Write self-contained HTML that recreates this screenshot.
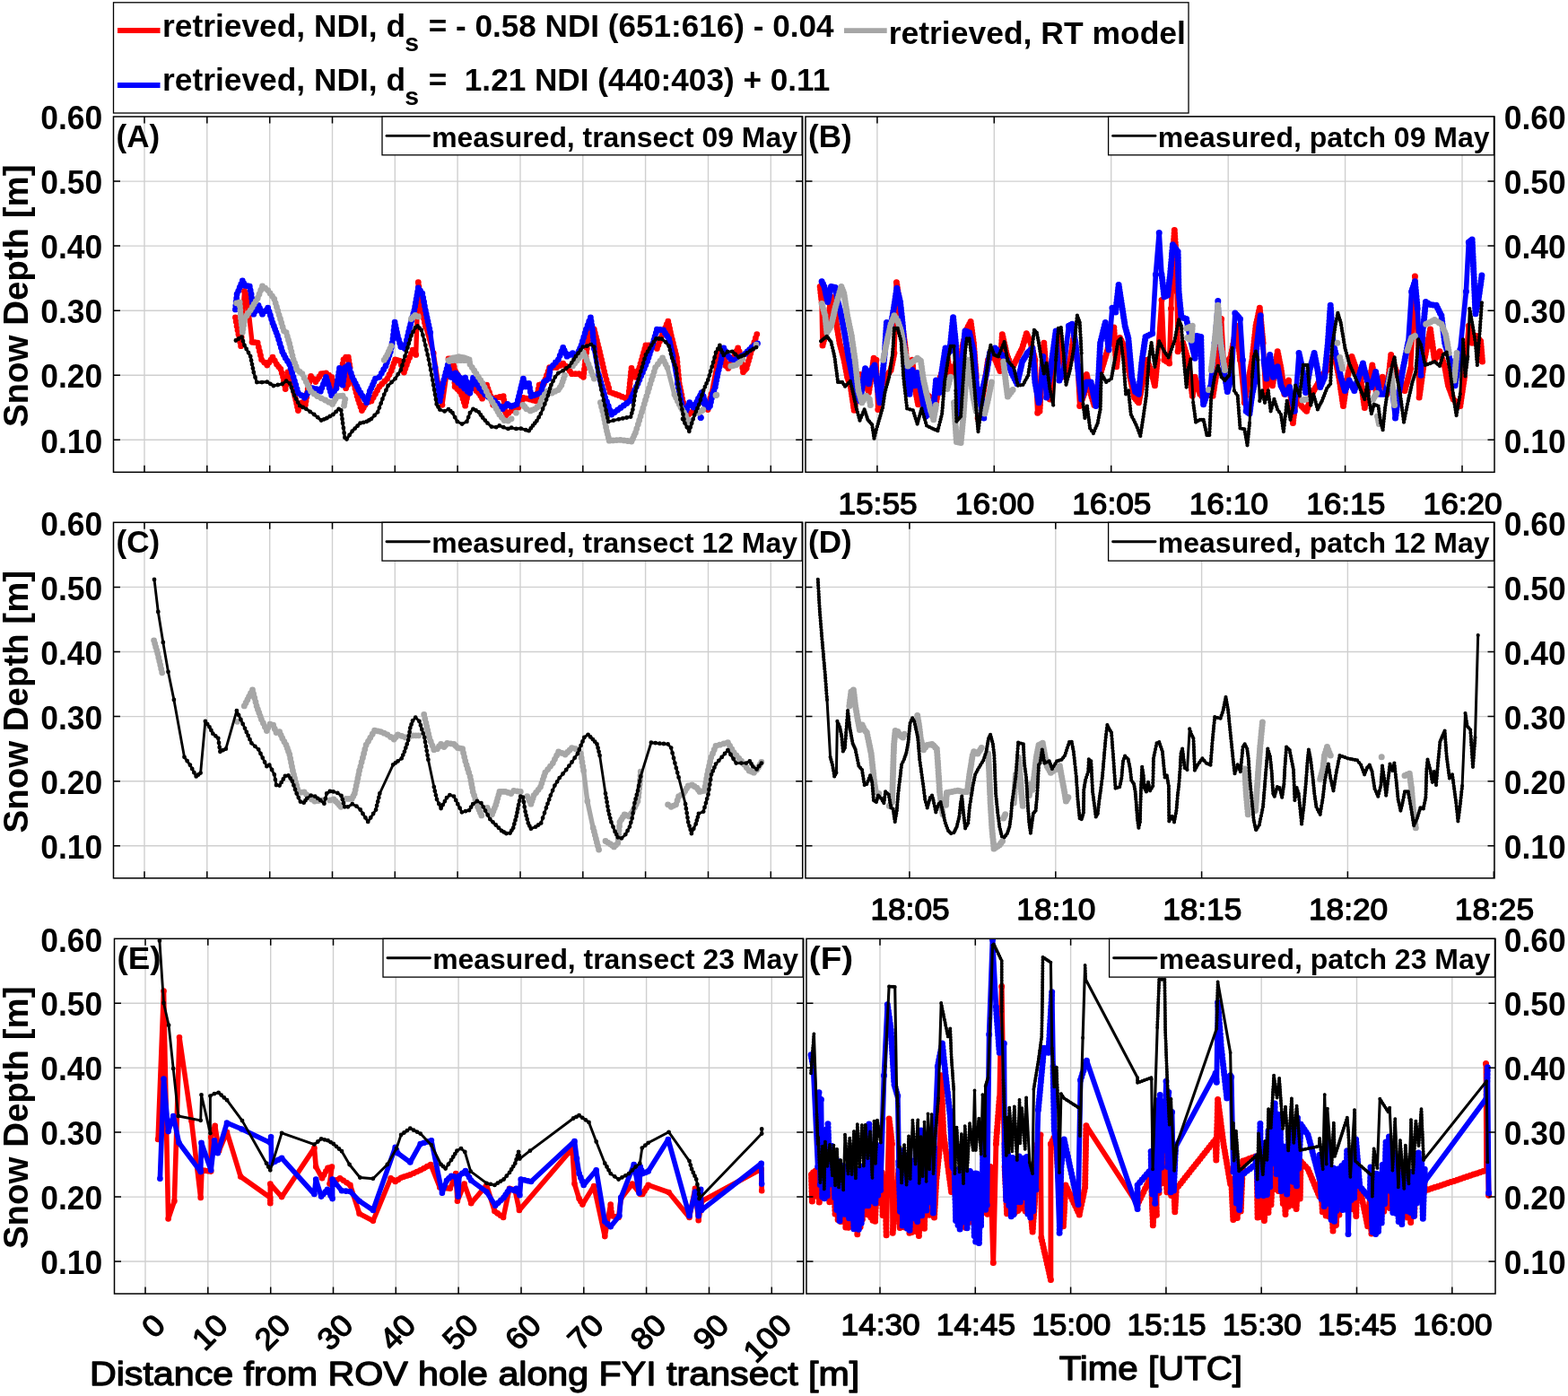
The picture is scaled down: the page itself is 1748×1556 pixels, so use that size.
<!DOCTYPE html><html><head><meta charset="utf-8"><title>Snow depth figure</title>
<style>html,body{margin:0;padding:0;background:#fff}svg{display:block}text{font-family:"Liberation Sans",Arial,Helvetica,sans-serif;fill:#000}.b{font-weight:bold}.tk{font-size:32.5px;font-weight:bold}.tx{font-size:32.5px;font-weight:bold}.lb{font-size:35.5px;font-weight:bold}.lg{font-size:32.5px;font-weight:bold}.g{stroke:#000;stroke-opacity:0.19;stroke-width:1.4;fill:none}.ax{stroke:#000;stroke-width:1.5;fill:none}.r{stroke:#ff0000;fill:none;stroke-width:5.3;stroke-linejoin:round;stroke-linecap:round}.bl{stroke:#0000ff;fill:none;stroke-width:5.3;stroke-linejoin:round;stroke-linecap:round}.gy{stroke:#a6a6a6;fill:none;stroke-width:5.3;stroke-linejoin:round;stroke-linecap:round}.k{stroke:#000;fill:none;stroke-width:2.9;stroke-linejoin:round;stroke-linecap:round}</style></head><body>
<svg width="1748" height="1556" viewBox="0 0 1748 1556">
<rect x="0" y="0" width="1748" height="1556" fill="#fff"/>
<g>
<rect x="126.5" y="130.0" width="768.2" height="396.29999999999995" fill="#fff"/>
<path class="g" d="M161.0 130.0V526.3M230.8 130.0V526.3M300.7 130.0V526.3M370.5 130.0V526.3M440.3 130.0V526.3M510.1 130.0V526.3M580.0 130.0V526.3M649.8 130.0V526.3M719.6 130.0V526.3M789.5 130.0V526.3M859.3 130.0V526.3M126.5 490.3H894.7M126.5 418.2H894.7M126.5 346.2H894.7M126.5 274.1H894.7M126.5 202.1H894.7"/>
<clipPath id="c00"><rect x="126.5" y="130.0" width="768.2" height="396.29999999999995"/></clipPath>
<g clip-path="url(#c00)"><polyline class="r" style="stroke-width:5.3" points="262.4,353.8 264.1,363.5 268.6,385.7 270.3,356.4 272.5,324.5 274.8,329.8 277.4,349.3 281.0,381.3 287.2,382.1 291.6,400.8 297.8,407.0 304.0,398.1 308.5,406.1 312.9,411.4 315.6,420.3 318.2,433.6 320.9,415.0 323.6,420.3 328.0,438.0 332.4,457.5 336.9,448.7 340.4,451.3 344.0,429.2 346.6,419.4 351.9,425.6 358.1,416.7 363.5,415.8 369.7,420.3 373.2,432.7 378.5,424.7 383.0,400.8 385.6,398.1 388.3,398.1 390.1,409.6 385.6,432.7 392.7,420.3 398.1,441.6 403.4,457.5 408.7,448.7 414.0,446.9 422.9,430.9 431.8,422.1 436.2,413.2 440.6,400.8 445.9,402.5 450.4,415.0 454.8,402.5 460.1,390.1 463.7,395.4 466.3,314.7 469.0,338.7 474.3,363.5 483.2,393.7 488.5,427.4 493.0,451.3 497.4,420.3 501.8,399.9 505.4,406.1 508.0,430.9 513.4,436.2 518.7,452.2 522.2,436.2 500.0,399.9 502.7,402.5 506.2,408.8 507.1,430.9 512.4,436.2 517.7,441.6 518.6,452.2 523.1,429.2 528.4,432.7 533.7,438.0 537.6,444.2 542.6,429.2 547.0,441.6 549.7,451.3 553.2,443.3 561.2,441.6 563.9,462.9 570.1,457.5 578.0,454.0 583.4,443.3 590.5,445.1 597.6,446.9 601.1,429.2 606.4,427.4 612.6,409.6 620.6,409.6 627.7,405.2 633.0,410.5 637.5,416.7 645.4,416.7 650.4,420.3 652.5,402.5 656.1,374.2 658.8,363.5 662.3,367.1 668.5,391.9 674.7,418.5 680.0,437.1 689.8,440.7 700.4,445.1 702.2,427.4 704.0,410.5 708.4,420.3 712.9,409.6 719.9,384.8 726.2,384.8 732.4,388.4 738.6,372.4 744.8,358.2 748.3,374.2 754.5,399.0 757.2,427.4 761.6,448.7 765.2,463.7 771.4,459.3 776.7,450.4 783.8,445.1 789.1,456.6 784.2,445.2 788.6,456.1 793.0,439.4 798.8,408.9 801.7,393.0 806.8,390.1 808.9,407.5 811.8,410.4 816.2,401.7 822.7,387.9 825.6,395.9 828.5,414.7 832.2,410.4 838.0,390.1 843.8,372.6"/><path d="M262.4 353.8h0M263.2 358.6h0M264.1 363.5h0M265.0 368.0h0M265.9 372.4h0M266.8 376.8h0M267.7 381.3h0M268.6 385.7h0M268.9 380.8h0M269.2 375.9h0M269.5 371.1h0M269.8 366.2h0M270.0 361.3h0M270.3 356.4h0M272.5 324.5h0M273.6 327.2h0M274.8 329.8h0M275.4 334.7h0M276.1 339.6h0M276.8 344.5h0M277.4 349.3h0M281.0 381.3h0M284.1 381.7h0M287.2 382.1h0M288.3 386.8h0M289.4 391.5h0M290.5 396.1h0M291.6 400.8h0M294.7 403.9h0M297.8 407.0h0M299.9 404.0h0M302.0 401.1h0M304.0 398.1h0M306.3 402.1h0M308.5 406.1h0M310.7 408.8h0M312.9 411.4h0M314.2 415.8h0M315.6 420.3h0M316.5 424.7h0M317.3 429.2h0M318.2 433.6h0M318.9 428.9h0M319.6 424.3h0M320.2 419.6h0M320.9 415.0h0M322.2 417.6h0M323.6 420.3h0M324.7 424.7h0M325.8 429.2h0M326.9 433.6h0M328.0 438.0h0M328.9 441.9h0M329.8 445.8h0M330.7 449.7h0M331.5 453.6h0M332.4 457.5h0M334.6 453.1h0M336.9 448.7h0M340.4 451.3h0M341.1 446.9h0M341.8 442.5h0M342.5 438.0h0M343.2 433.6h0M344.0 429.2h0M344.8 425.9h0M345.7 422.6h0M346.6 419.4h0M349.3 422.5h0M351.9 425.6h0M354.0 422.6h0M356.1 419.7h0M358.1 416.7h0M360.8 416.3h0M363.5 415.8h0M366.6 418.1h0M369.7 420.3h0M370.9 424.4h0M372.0 428.6h0M373.2 432.7h0M375.9 428.7h0M378.5 424.7h0M379.4 419.9h0M380.3 415.1h0M381.2 410.3h0M382.1 405.6h0M383.0 400.8h0M385.6 398.1h0M388.3 398.1h0M388.9 402.0h0M389.5 405.8h0M390.1 409.6h0M389.2 414.3h0M388.3 418.9h0M387.4 423.5h0M386.5 428.1h0M385.6 432.7h0M388.0 428.6h0M390.4 424.4h0M392.7 420.3h0M393.8 424.5h0M394.9 428.8h0M395.9 433.1h0M397.0 437.3h0M398.1 441.6h0M399.4 445.6h0M400.7 449.6h0M402.0 453.5h0M403.4 457.5h0M405.2 454.6h0M406.9 451.6h0M408.7 448.7h0M411.4 447.8h0M414.0 446.9h0M416.2 442.9h0M418.5 438.9h0M420.7 434.9h0M422.9 430.9h0M425.8 428.0h0M428.8 425.0h0M431.8 422.1h0M434.0 417.6h0M436.2 413.2h0M437.7 409.0h0M439.1 404.9h0M440.6 400.8h0M443.3 401.7h0M445.9 402.5h0M447.4 406.7h0M448.9 410.8h0M450.4 415.0h0M451.9 410.8h0M453.3 406.7h0M454.8 402.5h0M456.6 398.4h0M458.4 394.3h0M460.1 390.1h0M461.9 392.8h0M463.7 395.4h0M466.3 314.7h0M466.9 319.5h0M467.4 324.3h0M467.9 329.1h0M468.5 333.9h0M469.0 338.7h0M469.9 342.8h0M470.8 347.0h0M471.7 351.1h0M472.6 355.2h0M473.4 359.4h0M474.3 363.5h0M483.2 393.7h0M488.5 427.4h0M489.4 432.2h0M490.3 437.0h0M491.2 441.7h0M492.1 446.5h0M493.0 451.3h0M497.4 420.3h0M498.3 416.2h0M499.2 412.1h0M500.0 408.0h0M500.9 404.0h0M501.8 399.9h0M503.6 403.0h0M505.4 406.1h0M505.9 411.1h0M506.4 416.0h0M507.0 421.0h0M507.5 426.0h0M508.0 430.9h0M510.7 433.6h0M513.4 436.2h0M514.7 440.2h0M516.0 444.2h0M517.3 448.2h0M518.7 452.2h0M519.6 448.2h0M520.4 444.2h0M521.3 440.2h0M522.2 436.2h0M500.0 399.9h0M502.7 402.5h0M504.4 405.6h0M506.2 408.8h0M506.4 413.2h0M506.6 417.6h0M506.7 422.1h0M506.9 426.5h0M507.1 430.9h0M509.8 433.6h0M512.4 436.2h0M515.1 438.9h0M517.7 441.6h0M518.0 445.1h0M518.3 448.7h0M518.6 452.2h0M519.5 447.6h0M520.4 443.0h0M521.3 438.4h0M522.2 433.8h0M523.1 429.2h0M525.7 430.9h0M528.4 432.7h0M531.0 435.4h0M533.7 438.0h0M535.7 441.1h0M537.6 444.2h0M538.8 440.5h0M540.1 436.7h0M541.3 432.9h0M542.6 429.2h0M544.0 433.3h0M545.5 437.4h0M547.0 441.6h0M547.9 444.8h0M548.8 448.1h0M549.7 451.3h0M551.4 447.3h0M553.2 443.3h0M557.2 442.5h0M561.2 441.6h0M561.7 445.8h0M562.3 450.1h0M562.8 454.3h0M563.3 458.6h0M563.9 462.9h0M567.0 460.2h0M570.1 457.5h0M574.1 455.8h0M578.0 454.0h0M579.8 450.4h0M581.6 446.9h0M583.4 443.3h0M586.9 444.2h0M590.5 445.1h0M594.0 446.0h0M597.6 446.9h0M598.4 442.5h0M599.3 438.0h0M600.2 433.6h0M601.1 429.2h0M603.8 428.3h0M606.4 427.4h0M608.0 422.9h0M609.5 418.5h0M611.1 414.1h0M612.6 409.6h0M616.6 409.6h0M620.6 409.6h0M624.2 407.4h0M627.7 405.2h0M630.4 407.9h0M633.0 410.5h0M635.3 413.6h0M637.5 416.7h0M641.5 416.7h0M645.4 416.7h0M647.9 418.5h0M650.4 420.3h0M650.9 415.8h0M651.5 411.4h0M652.0 407.0h0M652.5 402.5h0M653.1 397.8h0M653.7 393.1h0M654.3 388.4h0M654.9 383.6h0M655.5 378.9h0M656.1 374.2h0M657.0 370.6h0M657.9 367.1h0M658.8 363.5h0M660.5 365.3h0M662.3 367.1h0M663.3 371.2h0M664.4 375.3h0M665.4 379.5h0M666.4 383.6h0M667.5 387.8h0M668.5 391.9h0M669.5 396.3h0M670.6 400.8h0M671.6 405.2h0M672.6 409.6h0M673.7 414.1h0M674.7 418.5h0M676.0 423.2h0M677.4 427.8h0M678.7 432.5h0M680.0 437.1h0M683.3 438.3h0M686.5 439.5h0M689.8 440.7h0M693.3 442.2h0M696.9 443.6h0M700.4 445.1h0M700.9 440.7h0M701.3 436.2h0M701.8 431.8h0M702.2 427.4h0M702.7 423.2h0M703.1 419.0h0M703.5 414.7h0M704.0 410.5h0M705.5 413.8h0M706.9 417.0h0M708.4 420.3h0M709.9 416.7h0M711.4 413.2h0M712.9 409.6h0M714.0 405.5h0M715.2 401.4h0M716.4 397.2h0M717.6 393.1h0M718.8 388.9h0M719.9 384.8h0M723.1 384.8h0M726.2 384.8h0M729.3 386.6h0M732.4 388.4h0M733.9 384.4h0M735.5 380.4h0M737.0 376.4h0M738.6 372.4h0M740.1 368.8h0M741.7 365.3h0M743.2 361.7h0M744.8 358.2h0M745.7 362.2h0M746.6 366.2h0M747.4 370.2h0M748.3 374.2h0M749.4 378.3h0M750.4 382.4h0M751.4 386.6h0M752.5 390.7h0M753.5 394.9h0M754.5 399.0h0M755.0 403.7h0M755.4 408.5h0M755.9 413.2h0M756.3 417.9h0M756.8 422.6h0M757.2 427.4h0M758.1 431.6h0M759.0 435.9h0M759.9 440.1h0M760.7 444.4h0M761.6 448.7h0M762.5 452.4h0M763.4 456.2h0M764.3 460.0h0M765.2 463.7h0M768.3 461.5h0M771.4 459.3h0M773.2 456.3h0M774.9 453.4h0M776.7 450.4h0M780.3 447.8h0M783.8 445.1h0M785.6 449.0h0M787.4 452.8h0M789.1 456.6h0M787.5 452.8h0M785.9 449.0h0M784.2 445.2h0M785.7 448.9h0M787.1 452.5h0M788.6 456.1h0M789.7 452.0h0M790.8 447.8h0M791.9 443.6h0M793.0 439.4h0M798.8 408.9h0M799.5 404.9h0M800.2 400.9h0M800.9 397.0h0M801.7 393.0h0M804.2 391.5h0M806.8 390.1h0M807.3 394.4h0M807.8 398.8h0M808.4 403.1h0M808.9 407.5h0M811.8 410.4h0M814.0 406.0h0M816.2 401.7h0M817.8 398.2h0M819.5 394.8h0M821.1 391.3h0M822.7 387.9h0M824.2 391.9h0M825.6 395.9h0M826.4 400.6h0M827.1 405.3h0M827.8 410.0h0M828.5 414.7h0M830.4 412.6h0M832.2 410.4h0M833.3 406.3h0M834.5 402.3h0M835.7 398.2h0M836.8 394.1h0M838.0 390.1h0M839.4 385.7h0M840.9 381.3h0M842.3 377.0h0M843.8 372.6h0" stroke="#ff0000" stroke-width="6.8" stroke-linecap="round" fill="none"/><polyline class="bl" style="stroke-width:5.3" points="262.4,344.9 264.1,328.0 270.3,313.0 273.0,318.3 278.3,319.2 280.1,328.0 282.8,350.2 288.1,340.5 292.5,350.2 298.7,343.1 304.0,360.0 309.4,374.2 314.7,391.9 318.2,399.0 322.7,406.1 327.1,420.3 332.4,438.0 339.5,443.3 343.1,438.0 348.4,432.7 352.8,433.6 357.3,436.2 363.5,420.3 369.7,440.7 375.0,432.7 378.5,410.5 382.1,429.2 384.8,409.6 388.3,407.0 392.7,420.3 399.8,434.5 408.7,448.7 412.2,436.2 418.5,422.1 422.9,420.3 430.0,407.9 435.3,391.9 438.0,377.7 440.1,359.1 443.3,374.2 446.8,386.6 451.3,388.4 456.6,365.3 461.9,345.8 466.3,321.0 470.8,327.2 474.3,345.8 479.7,370.6 485.0,409.6 490.3,446.9 493.8,427.4 499.2,407.0 502.7,420.3 508.0,415.8 515.1,423.8 518.7,421.2 521.3,436.2 500.0,416.7 507.1,416.7 513.3,422.9 518.6,421.2 523.9,438.0 527.5,421.2 534.6,432.7 540.8,439.8 551.4,446.9 560.3,455.8 565.6,450.4 570.1,453.1 576.3,450.4 580.7,432.7 583.4,422.1 586.0,430.9 589.6,427.4 592.2,441.6 597.6,439.8 602.9,438.0 606.4,425.6 611.7,422.1 613.5,410.5 622.4,400.8 627.7,387.5 632.1,397.2 638.4,393.7 641.9,399.0 648.1,384.8 653.4,367.1 658.4,353.8 660.5,367.1 662.3,388.4 667.6,418.5 674.7,443.3 681.8,462.0 702.2,446.9 711.1,427.4 721.7,402.5 727.9,383.0 732.4,367.1 739.5,368.0 745.7,377.7 750.1,397.2 755.4,427.4 760.7,454.0 764.3,459.3 768.7,448.7 773.2,454.0 778.5,445.1 782.0,438.0 785.6,450.4 790.0,454.0 778.4,444.5 782.8,437.3 787.1,451.1 791.5,452.5 794.4,439.4 797.3,431.4 800.2,416.2 803.1,404.6 806.8,387.9 810.4,395.1 814.7,400.2 819.1,401.7 823.5,398.8 830.7,394.4 838.0,387.1 844.5,382.8"/><path d="M262.4 344.9h0M262.8 340.7h0M263.2 336.5h0M263.7 332.3h0M264.1 328.0h0M265.7 324.3h0M267.2 320.5h0M268.8 316.7h0M270.3 313.0h0M271.7 315.6h0M273.0 318.3h0M275.7 318.7h0M278.3 319.2h0M279.2 323.6h0M280.1 328.0h0M280.6 332.5h0M281.2 336.9h0M281.7 341.3h0M282.2 345.8h0M282.8 350.2h0M284.5 347.0h0M286.3 343.7h0M288.1 340.5h0M289.6 343.7h0M291.0 347.0h0M292.5 350.2h0M295.6 346.7h0M298.7 343.1h0M300.1 347.3h0M301.4 351.5h0M302.7 355.8h0M304.0 360.0h0M305.4 363.5h0M306.7 367.1h0M308.0 370.6h0M309.4 374.2h0M310.7 378.6h0M312.0 383.0h0M313.4 387.5h0M314.7 391.9h0M316.5 395.4h0M318.2 399.0h0M320.5 402.5h0M322.7 406.1h0M324.1 410.8h0M325.6 415.6h0M327.1 420.3h0M328.4 424.7h0M329.8 429.2h0M331.1 433.6h0M332.4 438.0h0M336.0 440.7h0M339.5 443.3h0M341.3 440.7h0M343.1 438.0h0M345.7 435.4h0M348.4 432.7h0M352.8 433.6h0M355.0 434.9h0M357.3 436.2h0M358.8 432.3h0M360.4 428.3h0M361.9 424.3h0M363.5 420.3h0M364.7 424.4h0M366.0 428.4h0M367.2 432.5h0M368.4 436.6h0M369.7 440.7h0M372.3 436.7h0M375.0 432.7h0M375.7 428.3h0M376.4 423.8h0M377.1 419.4h0M377.8 415.0h0M378.5 410.5h0M379.4 415.2h0M380.3 419.8h0M381.2 424.5h0M382.1 429.2h0M382.8 424.3h0M383.4 419.4h0M384.1 414.5h0M384.8 409.6h0M388.3 407.0h0M389.8 411.4h0M391.3 415.8h0M392.7 420.3h0M394.5 423.8h0M396.3 427.4h0M398.1 430.9h0M399.8 434.5h0M402.0 438.0h0M404.3 441.6h0M406.5 445.1h0M408.7 448.7h0M409.9 444.5h0M411.1 440.4h0M412.2 436.2h0M413.8 432.7h0M415.4 429.2h0M416.9 425.6h0M418.5 422.1h0M422.9 420.3h0M425.3 416.1h0M427.6 412.0h0M430.0 407.9h0M431.3 403.9h0M432.6 399.9h0M434.0 395.9h0M435.3 391.9h0M436.2 387.2h0M437.1 382.4h0M438.0 377.7h0M438.5 373.1h0M439.0 368.4h0M439.6 363.7h0M440.1 359.1h0M440.9 362.9h0M441.7 366.6h0M442.5 370.4h0M443.3 374.2h0M444.5 378.3h0M445.7 382.4h0M446.8 386.6h0M451.3 388.4h0M452.3 383.7h0M453.4 379.1h0M454.5 374.5h0M455.5 369.9h0M456.6 365.3h0M457.7 361.4h0M458.7 357.5h0M459.8 353.6h0M460.8 349.7h0M461.9 345.8h0M462.7 341.6h0M463.4 337.5h0M464.1 333.4h0M464.9 329.2h0M465.6 325.1h0M466.3 321.0h0M468.6 324.1h0M470.8 327.2h0M471.7 331.8h0M472.6 336.5h0M473.4 341.1h0M474.3 345.8h0M475.2 349.9h0M476.1 354.1h0M477.0 358.2h0M477.9 362.3h0M478.8 366.5h0M479.7 370.6h0M485.0 409.6h0M490.3 446.9h0M491.2 442.0h0M492.1 437.1h0M493.0 432.3h0M493.8 427.4h0M494.9 423.3h0M496.0 419.2h0M497.0 415.1h0M498.1 411.1h0M499.2 407.0h0M500.3 411.4h0M501.5 415.8h0M502.7 420.3h0M505.4 418.1h0M508.0 415.8h0M510.4 418.5h0M512.8 421.2h0M515.1 423.8h0M518.7 421.2h0M519.3 424.9h0M520.0 428.7h0M520.7 432.5h0M521.3 436.2h0M517.8 433.0h0M514.2 429.7h0M510.7 426.5h0M507.1 423.2h0M503.6 420.0h0M500.0 416.7h0M503.5 416.7h0M507.1 416.7h0M510.2 419.8h0M513.3 422.9h0M516.0 422.1h0M518.6 421.2h0M520.0 425.4h0M521.3 429.6h0M522.6 433.8h0M523.9 438.0h0M524.8 433.8h0M525.7 429.6h0M526.6 425.4h0M527.5 421.2h0M529.9 425.0h0M532.2 428.9h0M534.6 432.7h0M537.7 436.2h0M540.8 439.8h0M544.3 442.2h0M547.9 444.5h0M551.4 446.9h0M554.4 449.8h0M557.4 452.8h0M560.3 455.8h0M563.0 453.1h0M565.6 450.4h0M567.8 451.8h0M570.1 453.1h0M573.2 451.8h0M576.3 450.4h0M577.4 446.0h0M578.5 441.6h0M579.6 437.1h0M580.7 432.7h0M581.6 429.2h0M582.5 425.6h0M583.4 422.1h0M584.7 426.5h0M586.0 430.9h0M587.8 429.2h0M589.6 427.4h0M590.5 432.1h0M591.3 436.8h0M592.2 441.6h0M594.9 440.7h0M597.6 439.8h0M600.2 438.9h0M602.9 438.0h0M604.1 433.9h0M605.2 429.7h0M606.4 425.6h0M609.1 423.8h0M611.7 422.1h0M612.3 418.2h0M612.9 414.4h0M613.5 410.5h0M616.5 407.3h0M619.4 404.0h0M622.4 400.8h0M624.2 396.3h0M625.9 391.9h0M627.7 387.5h0M629.2 390.7h0M630.7 394.0h0M632.1 397.2h0M635.3 395.4h0M638.4 393.7h0M640.1 396.3h0M641.9 399.0h0M643.5 395.4h0M645.0 391.9h0M646.6 388.4h0M648.1 384.8h0M649.4 380.4h0M650.8 375.9h0M652.1 371.5h0M653.4 367.1h0M655.1 362.6h0M656.7 358.2h0M658.4 353.8h0M659.1 358.2h0M659.8 362.6h0M660.5 367.1h0M660.9 371.3h0M661.2 375.6h0M661.6 379.8h0M661.9 384.1h0M662.3 388.4h0M667.6 418.5h0M668.8 422.6h0M670.0 426.8h0M671.2 430.9h0M672.4 435.1h0M673.5 439.2h0M674.7 443.3h0M676.5 448.0h0M678.3 452.7h0M680.0 457.3h0M681.8 462.0h0M685.2 459.5h0M688.6 456.9h0M692.0 454.4h0M695.4 451.9h0M698.8 449.4h0M702.2 446.9h0M704.0 443.0h0M705.8 439.1h0M707.5 435.2h0M709.3 431.3h0M711.1 427.4h0M712.9 423.2h0M714.6 419.1h0M716.4 415.0h0M718.2 410.8h0M719.9 406.7h0M721.7 402.5h0M723.0 398.6h0M724.2 394.7h0M725.4 390.8h0M726.7 386.9h0M727.9 383.0h0M729.0 379.0h0M730.1 375.1h0M731.3 371.1h0M732.4 367.1h0M735.9 367.5h0M739.5 368.0h0M741.5 371.2h0M743.6 374.5h0M745.7 377.7h0M746.6 381.6h0M747.4 385.5h0M748.3 389.4h0M749.2 393.3h0M750.1 397.2h0M755.4 427.4h0M756.3 431.8h0M757.2 436.2h0M758.1 440.7h0M759.0 445.1h0M759.9 449.6h0M760.7 454.0h0M762.5 456.6h0M764.3 459.3h0M765.8 455.8h0M767.2 452.2h0M768.7 448.7h0M770.9 451.3h0M773.2 454.0h0M774.9 451.0h0M776.7 448.1h0M778.5 445.1h0M780.3 441.6h0M782.0 438.0h0M783.2 442.2h0M784.4 446.3h0M785.6 450.4h0M787.8 452.2h0M790.0 454.0h0M786.2 450.8h0M782.3 447.7h0M778.4 444.5h0M780.6 440.9h0M782.8 437.3h0M784.2 441.9h0M785.7 446.5h0M787.1 451.1h0M791.5 452.5h0M792.5 448.1h0M793.4 443.8h0M794.4 439.4h0M795.9 435.4h0M797.3 431.4h0M798.0 427.6h0M798.8 423.8h0M799.5 420.0h0M800.2 416.2h0M801.2 412.3h0M802.2 408.4h0M803.1 404.6h0M804.0 400.4h0M804.9 396.2h0M805.8 392.0h0M806.8 387.9h0M808.6 391.5h0M810.4 395.1h0M812.6 397.7h0M814.7 400.2h0M819.1 401.7h0M821.3 400.2h0M823.5 398.8h0M827.1 396.6h0M830.7 394.4h0M833.1 392.0h0M835.6 389.6h0M838.0 387.1h0M841.2 385.0h0M844.5 382.8h0" stroke="#0000ff" stroke-width="6.8" stroke-linecap="round" fill="none"/><circle cx="781.1" cy="465.5" r="3.4" fill="#0000ff"/><circle cx="781.3" cy="465.6" r="3.4" fill="#0000ff"/><polyline class="gy" style="stroke-width:5.3" points="263.6,337.8 267.2,336.9 268.6,354.7 270.3,370.6 273.0,354.7 279.2,345.8 287.2,332.5 292.5,318.8 298.7,323.6 305.8,333.4 311.1,351.1 316.5,368.8 319.1,370.6 322.7,383.0 327.1,400.8 331.5,412.3 336.9,416.7 341.3,425.6 346.6,436.2 353.7,441.6 362.6,446.0 370.6,450.4 375.9,441.6 382.1,441.2 384.8,445.1 383.5,452.2"/><path d="M263.6 337.8h0M267.2 336.9h0M267.5 341.3h0M267.9 345.8h0M268.2 350.2h0M268.6 354.7h0M269.0 358.6h0M269.5 362.6h0M269.9 366.6h0M270.3 370.6h0M271.0 366.6h0M271.7 362.6h0M272.3 358.6h0M273.0 354.7h0M275.1 351.7h0M277.1 348.7h0M279.2 345.8h0M281.2 342.5h0M283.2 339.1h0M285.2 335.8h0M287.2 332.5h0M289.0 327.9h0M290.7 323.4h0M292.5 318.8h0M295.6 321.2h0M298.7 323.6h0M301.1 326.9h0M303.5 330.1h0M305.8 333.4h0M307.2 337.8h0M308.5 342.2h0M309.8 346.7h0M311.1 351.1h0M312.5 355.5h0M313.8 360.0h0M315.1 364.4h0M316.5 368.8h0M319.1 370.6h0M320.3 374.8h0M321.5 378.9h0M322.7 383.0h0M323.8 387.5h0M324.9 391.9h0M326.0 396.3h0M327.1 400.8h0M328.6 404.6h0M330.1 408.5h0M331.5 412.3h0M334.2 414.5h0M336.9 416.7h0M339.1 421.2h0M341.3 425.6h0M343.1 429.2h0M344.8 432.7h0M346.6 436.2h0M350.2 438.9h0M353.7 441.6h0M358.1 443.8h0M362.6 446.0h0M366.6 448.2h0M370.6 450.4h0M372.3 447.5h0M374.1 444.5h0M375.9 441.6h0M379.0 441.4h0M382.1 441.2h0M384.8 445.1h0M384.1 448.7h0M383.5 452.2h0" stroke="#a6a6a6" stroke-width="6.8" stroke-linecap="round" fill="none"/><polyline class="gy" style="stroke-width:5.3" points="428.2,401.3 431.8,395.4 436.2,385.7"/><path d="M428.2 401.3h0M430.0 398.4h0M431.8 395.4h0M433.2 392.2h0M434.7 388.9h0M436.2 385.7h0" stroke="#a6a6a6" stroke-width="6.8" stroke-linecap="round" fill="none"/><polyline class="gy" style="stroke-width:5.3" points="458.4,355.5 462.8,351.5 466.3,352.9"/><path d="M458.4 355.5h0M460.6 353.5h0M462.8 351.5h0M466.3 352.9h0" stroke="#a6a6a6" stroke-width="6.8" stroke-linecap="round" fill="none"/><polyline class="gy" style="stroke-width:5.3" points="500.9,402.5 509.8,398.1 516.9,398.6 522.2,401.7 500.0,401.7 505.3,399.0 511.5,397.6 517.7,399.0 523.1,400.8 523.9,406.1 531.0,416.7 538.1,427.4 544.3,440.7 551.4,452.2 556.8,462.0 562.1,468.5 566.5,469.1 570.1,466.8"/><path d="M500.9 402.5h0M505.4 400.3h0M509.8 398.1h0M513.4 398.4h0M516.9 398.6h0M519.6 400.2h0M522.2 401.7h0M517.8 401.7h0M513.3 401.7h0M508.9 401.7h0M504.4 401.7h0M500.0 401.7h0M502.7 400.3h0M505.3 399.0h0M508.4 398.3h0M511.5 397.6h0M514.6 398.3h0M517.7 399.0h0M520.4 399.9h0M523.1 400.8h0M523.5 403.4h0M523.9 406.1h0M526.3 409.6h0M528.7 413.2h0M531.0 416.7h0M533.4 420.3h0M535.8 423.8h0M538.1 427.4h0M540.2 431.8h0M542.3 436.2h0M544.3 440.7h0M546.7 444.5h0M549.1 448.4h0M551.4 452.2h0M553.2 455.5h0M555.0 458.7h0M556.8 462.0h0M559.4 465.2h0M562.1 468.5h0M566.5 469.1h0M570.1 466.8h0" stroke="#a6a6a6" stroke-width="6.8" stroke-linecap="round" fill="none"/><circle cx="575.4" cy="460.2" r="3.4" fill="#a6a6a6"/><polyline class="gy" style="stroke-width:5.3" points="583.0,451.3 586.9,455.8 591.3,457.9 596.7,455.8 601.1,452.2 604.7,443.3 610.0,436.2"/><path d="M583.0 451.3h0M585.0 453.5h0M586.9 455.8h0M591.3 457.9h0M594.0 456.8h0M596.7 455.8h0M598.9 454.0h0M601.1 452.2h0M602.9 447.8h0M604.7 443.3h0M607.3 439.8h0M610.0 436.2h0" stroke="#a6a6a6" stroke-width="6.8" stroke-linecap="round" fill="none"/><polyline class="gy" style="stroke-width:5.3" points="615.3,438.0 622.4,434.5 625.9,429.2 629.5,418.5"/><path d="M615.3 438.0h0M618.8 436.2h0M622.4 434.5h0M624.2 431.8h0M625.9 429.2h0M627.1 425.6h0M628.3 422.1h0M629.5 418.5h0" stroke="#a6a6a6" stroke-width="6.8" stroke-linecap="round" fill="none"/><polyline class="gy" style="stroke-width:5.3" points="638.4,407.9 645.4,399.0 650.4,392.8 656.1,406.1 662.3,422.1"/><path d="M638.4 407.9h0M640.7 404.9h0M643.1 402.0h0M645.4 399.0h0M647.9 395.9h0M650.4 392.8h0M652.3 397.2h0M654.2 401.7h0M656.1 406.1h0M657.6 410.1h0M659.2 414.1h0M660.7 418.1h0M662.3 422.1h0" stroke="#a6a6a6" stroke-width="6.8" stroke-linecap="round" fill="none"/><polyline class="gy" style="stroke-width:5.3" points="669.4,448.7 672.9,462.9 676.5,480.6 679.2,491.2 691.6,490.3 704.0,492.1 708.4,482.4 715.5,459.3 723.5,432.7 730.6,409.6 738.6,399.0 743.9,409.6 751.9,439.8 759.0,454.0 764.3,462.9 768.7,471.7"/><path d="M669.4 448.7h0M670.6 453.4h0M671.8 458.1h0M672.9 462.9h0M673.8 467.3h0M674.7 471.7h0M675.6 476.2h0M676.5 480.6h0M677.4 484.1h0M678.3 487.7h0M679.2 491.2h0M683.3 490.9h0M687.4 490.6h0M691.6 490.3h0M695.7 490.9h0M699.8 491.5h0M704.0 492.1h0M705.5 488.9h0M706.9 485.6h0M708.4 482.4h0M709.8 477.8h0M711.3 473.1h0M712.7 468.5h0M714.1 463.9h0M715.5 459.3h0M716.8 454.9h0M718.2 450.4h0M719.5 446.0h0M720.8 441.6h0M722.2 437.1h0M723.5 432.7h0M724.9 428.1h0M726.3 423.5h0M727.8 418.9h0M729.2 414.3h0M730.6 409.6h0M733.3 406.1h0M735.9 402.5h0M738.6 399.0h0M740.3 402.5h0M742.1 406.1h0M743.9 409.6h0M751.9 439.8h0M753.7 443.3h0M755.4 446.9h0M757.2 450.4h0M759.0 454.0h0M760.7 456.9h0M762.5 459.9h0M764.3 462.9h0M766.5 467.3h0M768.7 471.7h0" stroke="#a6a6a6" stroke-width="6.8" stroke-linecap="round" fill="none"/><polyline class="gy" style="stroke-width:5.3" points="778.5,460.2 783.8,456.6"/><path d="M778.5 460.2h0M781.1 458.4h0M783.8 456.6h0" stroke="#a6a6a6" stroke-width="6.8" stroke-linecap="round" fill="none"/><circle cx="798.0" cy="440.7" r="3.4" fill="#a6a6a6"/><circle cx="782.8" cy="457.6" r="3.4" fill="#a6a6a6"/><circle cx="798.8" cy="440.2" r="3.4" fill="#a6a6a6"/><polyline class="gy" style="stroke-width:5.3" points="814.7,408.2 820.6,406.8 824.9,403.8 827.8,400.2"/><path d="M814.7 408.2h0M817.6 407.5h0M820.6 406.8h0M822.7 405.3h0M824.9 403.8h0M827.8 400.2h0" stroke="#a6a6a6" stroke-width="6.8" stroke-linecap="round" fill="none"/><circle cx="843.1" cy="384.2" r="3.4" fill="#a6a6a6"/><polyline class="k" style="stroke-width:3.1" points="262.9,379.5 269.5,375.6 272.5,384.8 279.2,397.2 282.8,415.0 286.3,426.1 292.0,426.1 297.8,425.6 304.9,430.0 314.7,427.9 319.1,424.7 323.2,427.4 328.0,440.7 334.2,452.2 341.3,455.8 350.2,462.0 358.1,468.5 364.4,466.0 371.4,462.0 377.7,455.8 380.3,457.5 382.1,471.7 384.4,487.7 386.5,489.5 392.7,480.6 401.6,471.7 408.7,469.9 414.0,466.8 421.1,459.3 428.2,439.8 432.6,430.0 440.6,422.1 446.8,412.3 453.0,391.9 458.4,374.2 462.8,365.3 465.5,363.5 469.9,368.0 474.3,384.8 477.9,400.8 482.3,423.8 486.7,450.4 490.3,456.6 495.6,458.4 500.0,456.1 504.5,460.2 509.8,469.9 515.1,472.6 520.4,469.9 523.9,460.2 527.5,455.8 533.7,459.3 538.1,465.5 543.5,471.7 547.9,475.6 553.2,476.2 556.8,474.4 561.2,476.2 566.5,477.9 570.1,476.7 575.4,477.9 580.7,477.6 586.0,479.2 589.6,480.2 594.0,474.4 598.4,469.1 602.9,461.1 607.3,450.4 610.9,440.7 614.4,429.2 618.8,420.3 622.4,415.8 627.7,413.2 634.8,407.9 641.9,397.2 649.9,386.6 654.3,385.7 658.8,383.9 662.3,386.6 665.8,409.6 670.3,434.5 675.6,457.5 678.3,469.9 689.8,467.3 703.1,464.6 705.4,456.6 708.4,436.2 712.9,418.5 719.9,395.4 726.2,384.8 731.5,377.4 737.7,377.7 742.1,381.3 745.7,385.7 749.2,399.0 753.7,410.5 757.2,439.8 762.5,467.3 761.0,467.0 768.3,480.8 774.1,462.7 779.2,451.1 784.2,435.1 789.3,423.5 795.1,403.8 798.0,393.0 802.4,385.0 803.8,390.1 806.8,395.9 811.1,392.2 816.2,391.8 823.5,398.0 829.3,395.9 836.5,390.8 843.1,387.1"/><path d="M262.9 379.5h0M266.2 377.5h0M269.5 375.6h0M271.0 380.2h0M272.5 384.8h0M274.7 388.9h0M277.0 393.1h0M279.2 397.2h0M280.1 401.7h0M281.0 406.1h0M281.9 410.5h0M282.8 415.0h0M284.5 420.5h0M286.3 426.1h0M292.0 426.1h0M297.8 425.6h0M301.4 427.8h0M304.9 430.0h0M309.8 429.0h0M314.7 427.9h0M319.1 424.7h0M323.2 427.4h0M324.8 431.8h0M326.4 436.2h0M328.0 440.7h0M330.1 444.5h0M332.1 448.4h0M334.2 452.2h0M337.7 454.0h0M341.3 455.8h0M345.7 458.9h0M350.2 462.0h0M354.2 465.2h0M358.1 468.5h0M361.3 467.3h0M364.4 466.0h0M367.9 464.0h0M371.4 462.0h0M374.6 458.9h0M377.7 455.8h0M380.3 457.5h0M380.9 462.3h0M381.5 467.0h0M382.1 471.7h0M382.9 477.0h0M383.6 482.4h0M384.4 487.7h0M386.5 489.5h0M389.6 485.0h0M392.7 480.6h0M395.7 477.6h0M398.6 474.7h0M401.6 471.7h0M405.2 470.8h0M408.7 469.9h0M411.4 468.4h0M414.0 466.8h0M417.6 463.0h0M421.1 459.3h0M422.9 454.4h0M424.7 449.6h0M426.4 444.7h0M428.2 439.8h0M430.4 434.9h0M432.6 430.0h0M436.6 426.0h0M440.6 422.1h0M443.7 417.2h0M446.8 412.3h0M448.4 407.2h0M449.9 402.1h0M451.5 397.0h0M453.0 391.9h0M454.4 387.5h0M455.7 383.0h0M457.0 378.6h0M458.4 374.2h0M460.6 369.7h0M462.8 365.3h0M465.5 363.5h0M467.7 365.7h0M469.9 368.0h0M471.4 373.6h0M472.9 379.2h0M474.3 384.8h0M475.5 390.1h0M476.7 395.4h0M477.9 400.8h0M479.0 406.5h0M480.1 412.3h0M481.2 418.1h0M482.3 423.8h0M483.2 429.2h0M484.1 434.5h0M485.0 439.8h0M485.9 445.1h0M486.7 450.4h0M488.5 453.5h0M490.3 456.6h0M495.6 458.4h0M500.0 456.1h0M502.3 458.2h0M504.5 460.2h0M507.1 465.1h0M509.8 469.9h0M515.1 472.6h0M520.4 469.9h0M522.2 465.1h0M523.9 460.2h0M527.5 455.8h0M530.6 457.5h0M533.7 459.3h0M535.9 462.4h0M538.1 465.5h0M540.8 468.6h0M543.5 471.7h0M547.9 475.6h0M553.2 476.2h0M556.8 474.4h0M561.2 476.2h0M566.5 477.9h0M570.1 476.7h0M575.4 477.9h0M580.7 477.6h0M586.0 479.2h0M589.6 480.2h0M591.8 477.3h0M594.0 474.4h0M596.2 471.7h0M598.4 469.1h0M600.7 465.1h0M602.9 461.1h0M605.1 455.8h0M607.3 450.4h0M609.1 445.6h0M610.9 440.7h0M612.0 436.8h0M613.2 433.0h0M614.4 429.2h0M616.6 424.7h0M618.8 420.3h0M622.4 415.8h0M627.7 413.2h0M631.3 410.5h0M634.8 407.9h0M637.2 404.3h0M639.5 400.8h0M641.9 397.2h0M644.6 393.7h0M647.2 390.1h0M649.9 386.6h0M654.3 385.7h0M658.8 383.9h0M662.3 386.6h0M663.2 392.3h0M664.1 398.1h0M665.0 403.9h0M665.8 409.6h0M666.7 414.6h0M667.6 419.6h0M668.5 424.5h0M669.4 429.5h0M670.3 434.5h0M671.6 440.2h0M672.9 446.0h0M674.3 451.8h0M675.6 457.5h0M676.5 461.7h0M677.4 465.8h0M678.3 469.9h0M684.0 468.6h0M689.8 467.3h0M694.2 466.4h0M698.7 465.5h0M703.1 464.6h0M704.3 460.6h0M705.4 456.6h0M706.2 451.5h0M706.9 446.4h0M707.7 441.3h0M708.4 436.2h0M709.5 431.8h0M710.6 427.4h0M711.7 422.9h0M712.9 418.5h0M714.3 413.9h0M715.7 409.3h0M717.1 404.7h0M718.5 400.1h0M719.9 395.4h0M722.0 391.9h0M724.1 388.4h0M726.2 384.8h0M728.8 381.1h0M731.5 377.4h0M734.6 377.5h0M737.7 377.7h0M742.1 381.3h0M745.7 385.7h0M746.9 390.1h0M748.0 394.6h0M749.2 399.0h0M750.7 402.8h0M752.2 406.7h0M753.7 410.5h0M754.4 416.4h0M755.1 422.2h0M755.8 428.1h0M756.5 433.9h0M757.2 439.8h0M758.3 445.3h0M759.3 450.8h0M760.4 456.3h0M761.5 461.8h0M762.5 467.3h0M761.0 467.0h0M763.4 471.6h0M765.8 476.2h0M768.3 480.8h0M769.7 476.3h0M771.2 471.8h0M772.6 467.2h0M774.1 462.7h0M775.8 458.8h0M777.5 454.9h0M779.2 451.1h0M780.9 445.7h0M782.5 440.4h0M784.2 435.1h0M785.9 431.2h0M787.6 427.3h0M789.3 423.5h0M790.8 418.6h0M792.2 413.7h0M793.7 408.8h0M795.1 403.8h0M796.6 398.4h0M798.0 393.0h0M800.2 389.0h0M802.4 385.0h0M803.8 390.1h0M805.3 393.0h0M806.8 395.9h0M811.1 392.2h0M816.2 391.8h0M819.8 394.9h0M823.5 398.0h0M826.4 397.0h0M829.3 395.9h0M832.9 393.3h0M836.5 390.8h0M839.8 389.0h0M843.1 387.1h0" stroke="#000" stroke-width="4.8" stroke-linecap="round" fill="none"/></g>
<path class="ax" d="M161.0 526.3v-7.5M161.0 130.0v7.5M230.8 526.3v-7.5M230.8 130.0v7.5M300.7 526.3v-7.5M300.7 130.0v7.5M370.5 526.3v-7.5M370.5 130.0v7.5M440.3 526.3v-7.5M440.3 130.0v7.5M510.1 526.3v-7.5M510.1 130.0v7.5M580.0 526.3v-7.5M580.0 130.0v7.5M649.8 526.3v-7.5M649.8 130.0v7.5M719.6 526.3v-7.5M719.6 130.0v7.5M789.5 526.3v-7.5M789.5 130.0v7.5M859.3 526.3v-7.5M859.3 130.0v7.5M126.5 490.3h7.5M894.7 490.3h-7.5M126.5 418.2h7.5M894.7 418.2h-7.5M126.5 346.2h7.5M894.7 346.2h-7.5M126.5 274.1h7.5M894.7 274.1h-7.5M126.5 202.1h7.5M894.7 202.1h-7.5" stroke-width="1.3"/>
<rect class="ax" x="126.5" y="130.0" width="768.2" height="396.29999999999995"/>
</g>
<g>
<rect x="898.0" y="130.0" width="768.0" height="396.29999999999995" fill="#fff"/>
<path class="g" d="M977.9 130.0V526.3M1108.3 130.0V526.3M1238.7 130.0V526.3M1369.2 130.0V526.3M1499.6 130.0V526.3M1630.0 130.0V526.3M898.0 490.3H1666.0M898.0 418.2H1666.0M898.0 346.2H1666.0M898.0 274.1H1666.0M898.0 202.1H1666.0"/>
<clipPath id="c01"><rect x="898.0" y="130.0" width="768.0" height="396.29999999999995"/></clipPath>
<g clip-path="url(#c01)"><polyline class="r" style="stroke-width:5.6" points="914.2,319.4 916.1,336.5 917.0,385.0 922.7,363.2 926.5,330.8 929.4,332.7 932.2,359.4 936.0,382.2 940.8,400.3 944.6,420.2 948.4,431.6 952.2,457.3 955.1,439.3 958.9,417.4 963.6,420.2 968.4,437.4 971.2,420.2 974.1,399.3 976.9,401.2 978.8,456.4 982.7,429.7 987.4,420.2 993.1,412.6 996.9,393.6 999.4,314.7 1002.6,336.5 1006.4,367.0 1009.3,387.9 1013.1,427.8 1016.9,401.2 1019.7,431.6 1023.6,450.7 1028.3,433.5 1033.1,439.3 1037.8,444.0 1042.6,454.5 1048.3,420.2 1055.9,397.4 1059.7,418.3 1065.4,405.0 1069.2,420.2 1073.0,386.0 1077.8,367.0 1082.1,358.4 1085.4,382.2 1088.2,420.2 1090.1,465.9 1095.8,439.3 1101.5,401.2 1107.3,395.5 1114.9,413.6 1117.3,372.7 1122.5,395.5 1128.2,410.7 1133.9,399.3 1139.6,387.9 1144.3,371.7 1149.1,382.2 1153.9,401.2 1156.7,460.2 1159.0,458.3 1160.9,420.2 1163.8,382.2 1166.6,420.2 1170.4,445.0 1175.2,401.2 1179.9,372.7 1183.8,391.7 1187.6,420.2 1193.3,401.2 1197.1,374.6 1200.9,401.2 1203.7,452.6 1208.5,439.3 1211.3,417.4 1216.1,439.3 1219.9,451.6 1225.6,420.2 1231.3,401.2 1237.0,382.2 1241.8,365.1 1244.6,408.8 1248.4,376.5 1254.1,387.9 1259.8,420.2 1264.6,443.1 1269.4,448.8 1275.1,420.2 1278.9,401.2 1284.6,418.3 1287.4,429.7 1290.3,401.2 1295.0,334.6 1297.9,401.2 1303.6,405.0 1305.5,344.1 1307.4,287.1 1309.3,256.6 1311.2,287.1 1312.2,325.1 1313.1,391.7 1318.8,382.2 1324.5,401.2 1329.3,441.2 1332.1,420.2 1337.8,439.3 1341.6,443.1 1347.4,439.3 1352.1,441.2 1356.9,410.7 1361.6,355.6 1364.5,410.7 1372.1,397.4 1378.7,363.2 1382.5,401.2 1387.3,448.8 1392.1,422.1 1395.9,401.2 1400.0,363.2 1404.3,343.2 1408.1,382.2 1410.9,439.3 1414.7,401.2 1418.5,429.7 1424.2,391.7 1428.0,410.7 1431.9,439.3 1436.6,424.0 1441.4,471.6 1445.2,439.3 1450.9,452.6 1456.6,458.3 1462.3,439.3 1468.0,429.7 1475.6,416.4 1481.3,410.7 1487.0,391.7 1492.7,420.2 1497.5,452.6 1502.2,420.2 1507.0,397.4 1511.7,410.7 1516.5,420.2 1521.3,454.5 1526.0,429.7 1529.8,406.9 1534.6,439.3 1541.2,420.2 1546.0,439.3 1550.7,395.5 1555.5,410.7 1561.2,427.8 1566.0,435.4 1572.6,410.7 1577.4,308.0 1580.2,363.2 1582.1,443.1 1587.8,401.2 1594.5,367.0 1599.3,401.2 1605.0,391.7 1610.7,408.8 1614.5,429.7 1620.2,445.0 1627.8,452.6 1632.5,420.2 1637.3,363.2 1641.1,382.2 1645.9,374.6 1650.6,380.3 1652.5,403.1"/><path d="M914.2 319.4h0M914.6 322.8h0M914.9 326.3h0M915.3 329.7h0M915.7 333.1h0M916.1 336.5h0M917.0 385.0h0M917.8 381.9h0M918.7 378.8h0M919.5 375.7h0M920.3 372.5h0M921.1 369.4h0M921.9 366.3h0M922.7 363.2h0M923.1 359.9h0M923.5 356.7h0M923.9 353.5h0M924.3 350.2h0M924.6 347.0h0M925.0 343.8h0M925.4 340.5h0M925.8 337.3h0M926.2 334.1h0M926.5 330.8h0M929.4 332.7h0M929.7 336.1h0M930.1 339.4h0M930.5 342.7h0M930.8 346.0h0M931.2 349.4h0M931.5 352.7h0M931.9 356.0h0M932.2 359.4h0M932.8 362.6h0M933.3 365.9h0M933.9 369.1h0M934.4 372.4h0M935.0 375.7h0M935.5 378.9h0M936.0 382.2h0M936.8 385.2h0M937.6 388.2h0M938.4 391.2h0M939.2 394.2h0M940.0 397.2h0M940.8 400.3h0M941.4 403.6h0M942.1 406.9h0M942.7 410.2h0M943.3 413.6h0M944.0 416.9h0M944.6 420.2h0M945.6 423.1h0M946.5 425.9h0M947.5 428.8h0M948.4 431.6h0M948.9 434.9h0M949.4 438.1h0M949.8 441.3h0M950.3 444.5h0M950.8 447.7h0M951.3 450.9h0M951.7 454.1h0M952.2 457.3h0M952.7 454.3h0M953.2 451.3h0M953.6 448.3h0M954.1 445.3h0M954.6 442.3h0M955.1 439.3h0M955.6 436.1h0M956.2 433.0h0M956.7 429.9h0M957.2 426.8h0M957.8 423.6h0M958.3 420.5h0M958.9 417.4h0M961.3 418.8h0M963.6 420.2h0M964.4 423.1h0M965.2 425.9h0M966.0 428.8h0M966.8 431.6h0M967.6 434.5h0M968.4 437.4h0M969.0 433.9h0M969.5 430.5h0M970.1 427.1h0M970.7 423.7h0M971.2 420.2h0M971.6 417.2h0M972.1 414.3h0M972.5 411.3h0M972.9 408.3h0M973.3 405.3h0M973.7 402.3h0M974.1 399.3h0M976.9 401.2h0M978.8 456.4h0M979.3 453.0h0M979.8 449.7h0M980.3 446.4h0M980.8 443.1h0M981.2 439.7h0M981.7 436.4h0M982.2 433.1h0M982.7 429.7h0M983.8 427.4h0M985.0 425.0h0M986.2 422.6h0M987.4 420.2h0M989.3 417.7h0M991.2 415.2h0M993.1 412.6h0M993.7 409.5h0M994.4 406.3h0M995.0 403.1h0M995.7 399.9h0M996.3 396.8h0M996.9 393.6h0M999.4 314.7h0M999.9 317.8h0M1000.3 320.9h0M1000.8 324.0h0M1001.2 327.2h0M1001.7 330.3h0M1002.2 333.4h0M1002.6 336.5h0M1003.0 339.9h0M1003.5 343.3h0M1003.9 346.7h0M1004.3 350.1h0M1004.7 353.4h0M1005.2 356.8h0M1005.6 360.2h0M1006.0 363.6h0M1006.4 367.0h0M1006.8 370.0h0M1007.2 372.9h0M1007.7 375.9h0M1008.1 378.9h0M1008.5 381.9h0M1008.9 384.9h0M1009.3 387.9h0M1009.6 391.2h0M1009.9 394.6h0M1010.2 397.9h0M1010.6 401.2h0M1010.9 404.5h0M1011.2 407.9h0M1011.5 411.2h0M1011.8 414.5h0M1012.1 417.9h0M1012.5 421.2h0M1012.8 424.5h0M1013.1 427.8h0M1013.6 424.5h0M1014.0 421.2h0M1014.5 417.9h0M1015.0 414.5h0M1015.5 411.2h0M1015.9 407.9h0M1016.4 404.5h0M1016.9 401.2h0M1017.2 404.6h0M1017.5 408.0h0M1017.8 411.4h0M1018.2 414.7h0M1018.5 418.1h0M1018.8 421.5h0M1019.1 424.9h0M1019.4 428.3h0M1019.7 431.6h0M1020.4 434.8h0M1021.0 438.0h0M1021.7 441.2h0M1022.3 444.3h0M1022.9 447.5h0M1023.6 450.7h0M1024.3 447.8h0M1025.1 445.0h0M1025.9 442.1h0M1026.7 439.3h0M1027.5 436.4h0M1028.3 433.5h0M1029.9 435.4h0M1031.5 437.4h0M1033.1 439.3h0M1035.4 441.6h0M1037.8 444.0h0M1039.0 446.6h0M1040.2 449.2h0M1041.4 451.9h0M1042.6 454.5h0M1043.1 451.0h0M1043.7 447.6h0M1044.3 444.2h0M1044.9 440.8h0M1045.4 437.4h0M1046.0 433.9h0M1046.6 430.5h0M1047.1 427.1h0M1047.7 423.7h0M1048.3 420.2h0M1049.4 417.0h0M1050.5 413.7h0M1051.5 410.4h0M1052.6 407.2h0M1053.7 403.9h0M1054.8 400.7h0M1055.9 397.4h0M1056.4 400.4h0M1057.0 403.4h0M1057.5 406.4h0M1058.1 409.4h0M1058.6 412.4h0M1059.2 415.3h0M1059.7 418.3h0M1060.8 415.7h0M1062.0 413.0h0M1063.1 410.3h0M1064.3 407.7h0M1065.4 405.0h0M1066.2 408.1h0M1066.9 411.1h0M1067.7 414.1h0M1068.4 417.2h0M1069.2 420.2h0M1069.6 416.8h0M1070.0 413.4h0M1070.3 410.0h0M1070.7 406.5h0M1071.1 403.1h0M1071.5 399.7h0M1071.9 396.3h0M1072.3 392.8h0M1072.6 389.4h0M1073.0 386.0h0M1073.8 382.8h0M1074.6 379.6h0M1075.4 376.5h0M1076.2 373.3h0M1077.0 370.1h0M1077.8 367.0h0M1079.2 364.1h0M1080.7 361.3h0M1082.1 358.4h0M1082.6 361.8h0M1083.1 365.2h0M1083.5 368.6h0M1084.0 372.0h0M1084.5 375.4h0M1084.9 378.8h0M1085.4 382.2h0M1085.6 385.6h0M1085.9 389.1h0M1086.2 392.6h0M1086.4 396.0h0M1086.7 399.5h0M1086.9 402.9h0M1087.2 406.4h0M1087.5 409.9h0M1087.7 413.3h0M1088.0 416.8h0M1088.2 420.2h0M1090.1 465.9h0M1090.8 462.6h0M1091.6 459.2h0M1092.3 455.9h0M1093.0 452.6h0M1093.7 449.2h0M1094.4 445.9h0M1095.1 442.6h0M1095.8 439.3h0M1096.4 435.8h0M1096.9 432.3h0M1097.4 428.9h0M1097.9 425.4h0M1098.4 422.0h0M1099.0 418.5h0M1099.5 415.0h0M1100.0 411.6h0M1100.5 408.1h0M1101.0 404.7h0M1101.5 401.2h0M1103.4 399.3h0M1105.4 397.4h0M1107.3 395.5h0M1108.5 398.5h0M1109.8 401.5h0M1111.1 404.5h0M1112.3 407.5h0M1113.6 410.6h0M1114.9 413.6h0M1115.1 410.2h0M1115.3 406.8h0M1115.5 403.3h0M1115.7 399.9h0M1115.9 396.5h0M1116.1 393.1h0M1116.3 389.7h0M1116.5 386.3h0M1116.7 382.9h0M1116.9 379.5h0M1117.1 376.1h0M1117.3 372.7h0M1118.1 375.9h0M1118.8 379.2h0M1119.5 382.5h0M1120.3 385.7h0M1121.0 389.0h0M1121.7 392.2h0M1122.5 395.5h0M1123.6 398.5h0M1124.8 401.6h0M1125.9 404.6h0M1127.0 407.7h0M1128.2 410.7h0M1129.6 407.9h0M1131.0 405.0h0M1132.5 402.2h0M1133.9 399.3h0M1135.3 396.5h0M1136.7 393.6h0M1138.2 390.7h0M1139.6 387.9h0M1140.5 384.7h0M1141.5 381.4h0M1142.4 378.2h0M1143.4 375.0h0M1144.3 371.7h0M1145.5 374.3h0M1146.7 377.0h0M1147.9 379.6h0M1149.1 382.2h0M1149.9 385.4h0M1150.7 388.5h0M1151.5 391.7h0M1152.3 394.9h0M1153.1 398.0h0M1153.9 401.2h0M1156.7 460.2h0M1159.0 458.3h0M1159.2 454.8h0M1159.4 451.4h0M1159.5 447.9h0M1159.7 444.4h0M1159.9 441.0h0M1160.1 437.5h0M1160.2 434.1h0M1160.4 430.6h0M1160.6 427.1h0M1160.8 423.7h0M1160.9 420.2h0M1161.2 416.8h0M1161.4 413.3h0M1161.7 409.9h0M1162.0 406.4h0M1162.2 402.9h0M1162.5 399.5h0M1162.7 396.0h0M1163.0 392.6h0M1163.3 389.1h0M1163.5 385.6h0M1163.8 382.2h0M1164.0 385.6h0M1164.3 389.1h0M1164.6 392.6h0M1164.8 396.0h0M1165.1 399.5h0M1165.3 402.9h0M1165.6 406.4h0M1165.9 409.9h0M1166.1 413.3h0M1166.4 416.8h0M1166.6 420.2h0M1167.1 423.3h0M1167.6 426.4h0M1168.1 429.5h0M1168.5 432.6h0M1169.0 435.7h0M1169.5 438.8h0M1170.0 441.9h0M1170.4 445.0h0M1170.8 441.6h0M1171.2 438.2h0M1171.5 434.9h0M1171.9 431.5h0M1172.3 428.1h0M1172.6 424.8h0M1173.0 421.4h0M1173.4 418.0h0M1173.7 414.7h0M1174.1 411.3h0M1174.5 407.9h0M1174.8 404.6h0M1175.2 401.2h0M1175.7 398.0h0M1176.2 394.9h0M1176.8 391.7h0M1177.3 388.5h0M1177.8 385.4h0M1178.4 382.2h0M1178.9 379.0h0M1179.4 375.8h0M1179.9 372.7h0M1180.6 375.8h0M1181.2 379.0h0M1181.9 382.2h0M1182.5 385.4h0M1183.1 388.5h0M1183.8 391.7h0M1184.2 394.9h0M1184.6 398.0h0M1185.0 401.2h0M1185.4 404.4h0M1185.9 407.5h0M1186.3 410.7h0M1186.7 413.9h0M1187.1 417.1h0M1187.6 420.2h0M1188.5 417.1h0M1189.5 413.9h0M1190.4 410.7h0M1191.4 407.5h0M1192.3 404.4h0M1193.3 401.2h0M1193.7 397.9h0M1194.2 394.6h0M1194.7 391.2h0M1195.2 387.9h0M1195.6 384.6h0M1196.1 381.2h0M1196.6 377.9h0M1197.1 374.6h0M1197.5 377.9h0M1198.0 381.2h0M1198.5 384.6h0M1199.0 387.9h0M1199.4 391.2h0M1199.9 394.6h0M1200.4 397.9h0M1200.9 401.2h0M1203.7 452.6h0M1204.7 449.9h0M1205.6 447.2h0M1206.6 444.6h0M1207.5 441.9h0M1208.5 439.3h0M1208.9 436.1h0M1209.3 433.0h0M1209.7 429.9h0M1210.1 426.8h0M1210.5 423.6h0M1210.9 420.5h0M1211.3 417.4h0M1212.0 420.5h0M1212.7 423.6h0M1213.4 426.8h0M1214.1 429.9h0M1214.7 433.0h0M1215.4 436.1h0M1216.1 439.3h0M1217.0 442.3h0M1218.0 445.4h0M1218.9 448.5h0M1219.9 451.6h0M1220.5 448.5h0M1221.0 445.3h0M1221.6 442.2h0M1222.2 439.1h0M1222.8 435.9h0M1223.3 432.8h0M1223.9 429.6h0M1224.5 426.5h0M1225.0 423.4h0M1225.6 420.2h0M1226.6 417.1h0M1227.5 413.9h0M1228.5 410.7h0M1229.4 407.5h0M1230.4 404.4h0M1231.3 401.2h0M1232.3 398.0h0M1233.2 394.9h0M1234.2 391.7h0M1235.1 388.5h0M1236.1 385.4h0M1237.0 382.2h0M1237.8 379.3h0M1238.6 376.5h0M1239.4 373.6h0M1240.2 370.8h0M1241.0 367.9h0M1241.8 365.1h0M1242.0 368.4h0M1242.2 371.8h0M1242.4 375.2h0M1242.7 378.5h0M1242.9 381.9h0M1243.1 385.3h0M1243.3 388.6h0M1243.5 392.0h0M1243.7 395.4h0M1244.0 398.7h0M1244.2 402.1h0M1244.4 405.5h0M1244.6 408.8h0M1245.0 405.6h0M1245.4 402.3h0M1245.8 399.1h0M1246.1 395.9h0M1246.5 392.6h0M1246.9 389.4h0M1247.3 386.2h0M1247.7 382.9h0M1248.1 379.7h0M1248.4 376.5h0M1249.9 379.3h0M1251.3 382.2h0M1252.7 385.0h0M1254.1 387.9h0M1254.7 391.1h0M1255.3 394.4h0M1255.9 397.6h0M1256.4 400.8h0M1257.0 404.1h0M1257.6 407.3h0M1258.1 410.5h0M1258.7 413.8h0M1259.3 417.0h0M1259.8 420.2h0M1260.5 423.5h0M1261.2 426.8h0M1261.9 430.0h0M1262.6 433.3h0M1263.2 436.5h0M1263.9 439.8h0M1264.6 443.1h0M1266.2 445.0h0M1267.8 446.9h0M1269.4 448.8h0M1270.0 445.6h0M1270.6 442.4h0M1271.3 439.3h0M1271.9 436.1h0M1272.5 432.9h0M1273.2 429.7h0M1273.8 426.6h0M1274.4 423.4h0M1275.1 420.2h0M1275.7 417.1h0M1276.3 413.9h0M1277.0 410.7h0M1277.6 407.5h0M1278.2 404.4h0M1278.9 401.2h0M1279.8 404.1h0M1280.8 406.9h0M1281.7 409.8h0M1282.7 412.6h0M1283.6 415.5h0M1284.6 418.3h0M1285.3 421.2h0M1286.0 424.0h0M1286.7 426.9h0M1287.4 429.7h0M1287.7 426.6h0M1288.1 423.4h0M1288.4 420.2h0M1288.7 417.1h0M1289.0 413.9h0M1289.3 410.7h0M1289.6 407.5h0M1290.0 404.4h0M1290.3 401.2h0M1295.0 334.6h0M1297.9 401.2h0M1300.7 403.1h0M1303.6 405.0h0M1305.5 344.1h0M1307.4 287.1h0M1307.6 283.7h0M1307.8 280.3h0M1308.0 276.9h0M1308.2 273.5h0M1308.5 270.2h0M1308.7 266.8h0M1308.9 263.4h0M1309.1 260.0h0M1309.3 256.6h0M1309.5 260.0h0M1309.7 263.4h0M1309.9 266.8h0M1310.2 270.2h0M1310.4 273.5h0M1310.6 276.9h0M1310.8 280.3h0M1311.0 283.7h0M1311.2 287.1h0M1311.3 290.5h0M1311.4 294.0h0M1311.5 297.4h0M1311.6 300.9h0M1311.6 304.4h0M1311.7 307.8h0M1311.8 311.3h0M1311.9 314.7h0M1312.0 318.2h0M1312.1 321.7h0M1312.2 325.1h0M1313.1 391.7h0M1314.5 389.3h0M1316.0 386.9h0M1317.4 384.6h0M1318.8 382.2h0M1319.8 385.4h0M1320.7 388.5h0M1321.7 391.7h0M1322.6 394.9h0M1323.6 398.0h0M1324.5 401.2h0M1324.9 404.5h0M1325.3 407.9h0M1325.7 411.2h0M1326.1 414.5h0M1326.5 417.9h0M1326.9 421.2h0M1327.3 424.5h0M1327.7 427.8h0M1328.1 431.2h0M1328.5 434.5h0M1328.9 437.8h0M1329.3 441.2h0M1329.7 438.2h0M1330.1 435.2h0M1330.5 432.2h0M1330.9 429.2h0M1331.3 426.2h0M1331.7 423.2h0M1332.1 420.2h0M1333.1 423.4h0M1334.0 426.6h0M1335.0 429.7h0M1335.9 432.9h0M1336.9 436.1h0M1337.8 439.3h0M1339.7 441.2h0M1341.6 443.1h0M1344.5 441.2h0M1347.4 439.3h0M1349.7 440.2h0M1352.1 441.2h0M1352.6 437.8h0M1353.2 434.4h0M1353.7 431.0h0M1354.2 427.6h0M1354.8 424.2h0M1355.3 420.9h0M1355.8 417.5h0M1356.3 414.1h0M1356.9 410.7h0M1361.6 355.6h0M1364.5 410.7h0M1366.0 408.1h0M1367.5 405.4h0M1369.0 402.7h0M1370.6 400.1h0M1372.1 397.4h0M1372.7 394.0h0M1373.4 390.6h0M1374.1 387.1h0M1374.7 383.7h0M1375.4 380.3h0M1376.1 376.9h0M1376.7 373.4h0M1377.4 370.0h0M1378.1 366.6h0M1378.7 363.2h0M1379.1 366.6h0M1379.4 370.1h0M1379.8 373.5h0M1380.1 377.0h0M1380.5 380.5h0M1380.8 383.9h0M1381.2 387.4h0M1381.5 390.8h0M1381.9 394.3h0M1382.2 397.7h0M1382.5 401.2h0M1387.3 448.8h0M1387.9 445.4h0M1388.5 442.1h0M1389.1 438.8h0M1389.7 435.4h0M1390.3 432.1h0M1390.9 428.8h0M1391.5 425.5h0M1392.1 422.1h0M1392.6 419.1h0M1393.1 416.2h0M1393.7 413.2h0M1394.2 410.2h0M1394.8 407.2h0M1395.3 404.2h0M1395.9 401.2h0M1396.2 397.7h0M1396.6 394.3h0M1397.0 390.8h0M1397.4 387.4h0M1397.8 383.9h0M1398.1 380.5h0M1398.5 377.0h0M1398.9 373.5h0M1399.3 370.1h0M1399.7 366.6h0M1400.0 363.2h0M1400.7 359.8h0M1401.5 356.5h0M1402.2 353.2h0M1402.9 349.8h0M1403.6 346.5h0M1404.3 343.2h0M1404.6 346.4h0M1404.9 349.7h0M1405.2 352.9h0M1405.5 356.2h0M1405.9 359.4h0M1406.2 362.7h0M1406.5 365.9h0M1406.8 369.2h0M1407.1 372.4h0M1407.4 375.7h0M1407.8 378.9h0M1408.1 382.2h0M1410.9 439.3h0M1411.3 435.8h0M1411.6 432.3h0M1412.0 428.9h0M1412.3 425.4h0M1412.7 422.0h0M1413.0 418.5h0M1413.3 415.0h0M1413.7 411.6h0M1414.0 408.1h0M1414.4 404.7h0M1414.7 401.2h0M1415.2 404.4h0M1415.6 407.5h0M1416.0 410.7h0M1416.4 413.9h0M1416.8 417.1h0M1417.3 420.2h0M1417.7 423.4h0M1418.1 426.6h0M1418.5 429.7h0M1419.1 426.3h0M1419.6 422.8h0M1420.1 419.4h0M1420.6 415.9h0M1421.1 412.4h0M1421.6 409.0h0M1422.2 405.5h0M1422.7 402.1h0M1423.2 398.6h0M1423.7 395.2h0M1424.2 391.7h0M1424.9 394.9h0M1425.5 398.0h0M1426.1 401.2h0M1426.8 404.4h0M1427.4 407.5h0M1428.0 410.7h0M1428.5 413.9h0M1428.9 417.1h0M1429.3 420.2h0M1429.7 423.4h0M1430.2 426.6h0M1430.6 429.7h0M1431.0 432.9h0M1431.4 436.1h0M1431.9 439.3h0M1432.8 436.2h0M1433.8 433.2h0M1434.7 430.1h0M1435.7 427.1h0M1436.6 424.0h0M1441.4 471.6h0M1441.7 468.4h0M1442.1 465.1h0M1442.5 461.9h0M1442.9 458.7h0M1443.3 455.4h0M1443.6 452.2h0M1444.0 449.0h0M1444.4 445.7h0M1444.8 442.5h0M1445.2 439.3h0M1446.3 441.9h0M1447.4 444.6h0M1448.6 447.2h0M1449.7 449.9h0M1450.9 452.6h0M1452.8 454.5h0M1454.7 456.4h0M1456.6 458.3h0M1457.5 455.1h0M1458.5 451.9h0M1459.4 448.8h0M1460.4 445.6h0M1461.3 442.4h0M1462.3 439.3h0M1463.7 436.9h0M1465.1 434.5h0M1466.6 432.1h0M1468.0 429.7h0M1469.5 427.1h0M1471.0 424.4h0M1472.6 421.8h0M1474.1 419.1h0M1475.6 416.4h0M1477.5 414.5h0M1479.4 412.6h0M1481.3 410.7h0M1482.3 407.5h0M1483.2 404.4h0M1484.2 401.2h0M1485.1 398.0h0M1486.1 394.9h0M1487.0 391.7h0M1487.7 394.9h0M1488.3 398.0h0M1488.9 401.2h0M1489.6 404.4h0M1490.2 407.5h0M1490.8 410.7h0M1491.5 413.9h0M1492.1 417.1h0M1492.7 420.2h0M1493.2 423.5h0M1493.7 426.7h0M1494.2 429.9h0M1494.6 433.2h0M1495.1 436.4h0M1495.6 439.6h0M1496.1 442.9h0M1496.5 446.1h0M1497.0 449.3h0M1497.5 452.6h0M1498.0 449.3h0M1498.4 446.1h0M1498.9 442.9h0M1499.4 439.6h0M1499.9 436.4h0M1500.3 433.2h0M1500.8 429.9h0M1501.3 426.7h0M1501.8 423.5h0M1502.2 420.2h0M1502.9 417.0h0M1503.6 413.7h0M1504.3 410.4h0M1505.0 407.2h0M1505.6 403.9h0M1506.3 400.7h0M1507.0 397.4h0M1507.9 400.1h0M1508.9 402.7h0M1509.8 405.4h0M1510.8 408.1h0M1511.7 410.7h0M1512.9 413.1h0M1514.1 415.5h0M1515.3 417.9h0M1516.5 420.2h0M1517.0 423.7h0M1517.5 427.1h0M1517.9 430.5h0M1518.4 433.9h0M1518.9 437.4h0M1519.4 440.8h0M1519.8 444.2h0M1520.3 447.6h0M1520.8 451.0h0M1521.3 454.5h0M1521.9 451.4h0M1522.4 448.3h0M1523.0 445.2h0M1523.6 442.1h0M1524.2 439.0h0M1524.8 435.9h0M1525.4 432.8h0M1526.0 429.7h0M1526.6 426.5h0M1527.1 423.2h0M1527.6 420.0h0M1528.2 416.7h0M1528.7 413.4h0M1529.3 410.2h0M1529.8 406.9h0M1530.3 410.1h0M1530.8 413.4h0M1531.2 416.6h0M1531.7 419.9h0M1532.2 423.1h0M1532.7 426.3h0M1533.1 429.6h0M1533.6 432.8h0M1534.1 436.0h0M1534.6 439.3h0M1535.7 436.1h0M1536.8 432.9h0M1537.9 429.7h0M1539.0 426.6h0M1540.1 423.4h0M1541.2 420.2h0M1542.0 423.4h0M1542.8 426.6h0M1543.6 429.7h0M1544.4 432.9h0M1545.2 436.1h0M1546.0 439.3h0M1546.4 435.9h0M1546.7 432.5h0M1547.1 429.2h0M1547.5 425.8h0M1547.8 422.4h0M1548.2 419.1h0M1548.6 415.7h0M1548.9 412.3h0M1549.3 409.0h0M1549.6 405.6h0M1550.0 402.2h0M1550.4 398.9h0M1550.7 395.5h0M1551.7 398.5h0M1552.6 401.6h0M1553.6 404.6h0M1554.6 407.7h0M1555.5 410.7h0M1556.5 413.6h0M1557.4 416.4h0M1558.4 419.3h0M1559.3 422.1h0M1560.3 425.0h0M1561.2 427.8h0M1562.8 430.4h0M1564.4 432.9h0M1566.0 435.4h0M1566.8 432.4h0M1567.6 429.3h0M1568.5 426.2h0M1569.3 423.1h0M1570.1 420.0h0M1571.0 416.9h0M1571.8 413.8h0M1572.6 410.7h0M1577.4 308.0h0M1580.2 363.2h0M1582.1 443.1h0M1582.6 439.8h0M1583.0 436.6h0M1583.5 433.4h0M1583.9 430.2h0M1584.3 427.0h0M1584.8 423.7h0M1585.2 420.5h0M1585.6 417.3h0M1586.1 414.1h0M1586.5 410.9h0M1587.0 407.6h0M1587.4 404.4h0M1587.8 401.2h0M1588.5 397.8h0M1589.2 394.4h0M1589.8 390.9h0M1590.5 387.5h0M1591.2 384.1h0M1591.8 380.7h0M1592.5 377.2h0M1593.2 373.8h0M1593.8 370.4h0M1594.5 367.0h0M1595.0 370.4h0M1595.4 373.8h0M1595.9 377.2h0M1596.4 380.7h0M1596.9 384.1h0M1597.4 387.5h0M1597.8 390.9h0M1598.3 394.4h0M1598.8 397.8h0M1599.3 401.2h0M1600.7 398.8h0M1602.1 396.5h0M1603.5 394.1h0M1605.0 391.7h0M1605.9 394.6h0M1606.9 397.4h0M1607.8 400.3h0M1608.8 403.1h0M1609.7 406.0h0M1610.7 408.8h0M1611.2 411.8h0M1611.8 414.8h0M1612.3 417.8h0M1612.8 420.8h0M1613.4 423.8h0M1613.9 426.8h0M1614.5 429.7h0M1615.6 432.8h0M1616.8 435.8h0M1617.9 438.9h0M1619.0 441.9h0M1620.2 445.0h0M1622.1 446.9h0M1624.0 448.8h0M1625.9 450.7h0M1627.8 452.6h0M1628.3 449.3h0M1628.7 446.1h0M1629.2 442.9h0M1629.7 439.6h0M1630.2 436.4h0M1630.6 433.2h0M1631.1 429.9h0M1631.6 426.7h0M1632.1 423.5h0M1632.5 420.2h0M1637.3 363.2h0M1637.9 366.3h0M1638.6 369.5h0M1639.2 372.7h0M1639.8 375.8h0M1640.5 379.0h0M1641.1 382.2h0M1642.7 379.6h0M1644.3 377.1h0M1645.9 374.6h0M1647.4 376.5h0M1649.0 378.4h0M1650.6 380.3h0M1650.9 383.5h0M1651.2 386.8h0M1651.4 390.1h0M1651.7 393.3h0M1652.0 396.6h0M1652.2 399.8h0M1652.5 403.1h0" stroke="#ff0000" stroke-width="7.0" stroke-linecap="round" fill="none"/><polyline class="bl" style="stroke-width:5.6" points="916.1,313.7 918.9,319.4 922.7,336.5 926.5,319.4 931.3,320.4 934.1,336.5 937.0,347.9 941.8,372.7 946.5,401.2 951.3,424.0 955.1,441.2 958.9,446.9 961.7,427.8 964.6,410.7 968.4,427.8 971.2,412.6 975.0,406.9 977.9,429.7 980.8,448.8 983.6,420.2 986.5,391.7 988.4,359.4 993.1,363.2 996.9,340.3 999.8,321.3 1003.6,336.5 1006.4,363.2 1008.3,391.7 1011.2,418.3 1014.0,439.3 1016.9,412.6 1019.7,429.7 1022.6,415.5 1027.4,439.3 1032.1,464.0 1037.8,460.2 1041.1,450.7 1043.5,424.0 1047.3,437.4 1050.2,412.6 1054.0,387.9 1058.7,391.7 1062.6,353.7 1065.4,382.2 1067.3,420.2 1070.2,464.0 1073.0,401.2 1075.9,368.9 1080.6,370.8 1085.4,391.7 1088.2,425.9 1091.1,454.5 1096.8,465.9 1093.9,439.3 1099.6,416.4 1103.4,393.6 1109.2,387.9 1116.8,395.5 1122.5,401.2 1128.2,416.4 1133.9,427.8 1139.6,403.1 1145.3,393.6 1151.0,387.9 1153.9,425.9 1158.0,448.8 1159.0,445.0 1162.8,397.4 1166.6,443.1 1171.4,410.7 1177.1,368.9 1180.9,424.0 1185.7,412.6 1191.4,363.2 1195.2,361.3 1199.0,382.2 1202.8,420.2 1205.6,445.0 1211.3,425.9 1216.1,425.9 1221.8,452.6 1224.7,420.2 1226.6,382.2 1232.3,359.4 1236.1,389.8 1239.9,343.2 1243.7,347.9 1247.1,317.5 1250.3,338.4 1254.1,363.2 1257.9,377.4 1261.7,420.2 1265.6,436.4 1269.4,439.3 1273.2,401.2 1277.0,375.5 1284.6,371.7 1288.4,306.1 1292.2,259.5 1295.0,306.1 1297.9,330.8 1301.7,328.9 1304.6,306.1 1307.4,272.8 1313.1,280.4 1314.1,325.1 1316.9,353.7 1322.6,355.6 1328.3,382.2 1332.1,399.3 1334.0,374.6 1338.8,375.5 1339.7,420.2 1341.6,450.7 1345.4,439.3 1349.3,431.6 1354.0,382.2 1357.8,335.6 1360.7,382.2 1364.5,412.6 1368.3,436.4 1373.0,420.2 1376.8,348.9 1382.5,355.6 1385.4,401.2 1389.2,458.3 1393.0,461.1 1395.9,439.3 1400.0,420.2 1400.5,391.7 1405.2,351.7 1409.0,401.2 1411.9,422.1 1415.7,395.5 1419.5,420.2 1424.2,408.8 1428.0,429.7 1432.8,439.3 1437.6,431.6 1443.3,458.3 1448.0,393.6 1451.8,410.7 1455.6,437.4 1460.4,410.7 1465.1,393.6 1468.9,412.6 1471.8,431.6 1476.6,420.2 1480.4,382.2 1483.2,340.3 1486.1,382.2 1490.8,401.2 1494.6,420.2 1499.4,435.4 1504.1,424.0 1509.8,435.4 1514.6,420.2 1519.4,405.0 1524.1,424.0 1528.9,431.6 1533.6,414.5 1538.4,439.3 1544.1,439.3 1549.8,416.4 1555.5,465.9 1559.3,439.3 1564.1,410.7 1569.8,382.2 1573.6,325.1 1577.4,313.7 1580.2,344.1 1584.0,418.3 1586.9,363.2 1589.4,336.5 1594.5,339.4 1601.2,340.3 1606.9,351.7 1610.7,382.2 1616.4,401.2 1622.1,429.7 1627.8,389.8 1634.4,325.1 1637.3,269.9 1641.1,267.1 1643.0,306.1 1644.9,349.8 1647.8,336.5 1651.9,307.0"/><path d="M916.1 313.7h0M917.5 316.6h0M918.9 319.4h0M919.6 322.3h0M920.2 325.1h0M920.8 328.0h0M921.5 330.8h0M922.1 333.7h0M922.7 336.5h0M923.4 333.7h0M924.0 330.8h0M924.6 328.0h0M925.3 325.1h0M925.9 322.3h0M926.5 319.4h0M928.9 319.9h0M931.3 320.4h0M931.9 323.6h0M932.4 326.8h0M933.0 330.1h0M933.6 333.3h0M934.1 336.5h0M934.9 339.4h0M935.6 342.2h0M936.3 345.1h0M937.0 347.9h0M937.6 351.0h0M938.2 354.1h0M938.8 357.2h0M939.4 360.3h0M940.0 363.4h0M940.6 366.5h0M941.2 369.6h0M941.8 372.7h0M942.3 375.8h0M942.8 379.0h0M943.3 382.2h0M943.9 385.4h0M944.4 388.5h0M944.9 391.7h0M945.5 394.9h0M946.0 398.0h0M946.5 401.2h0M947.2 404.5h0M947.9 407.7h0M948.5 411.0h0M949.2 414.3h0M949.9 417.5h0M950.6 420.8h0M951.3 424.0h0M951.9 426.9h0M952.5 429.7h0M953.2 432.6h0M953.8 435.4h0M954.4 438.3h0M955.1 441.2h0M957.0 444.0h0M958.9 446.9h0M959.3 443.7h0M959.8 440.5h0M960.3 437.4h0M960.8 434.2h0M961.3 431.0h0M961.7 427.8h0M962.3 424.4h0M962.9 421.0h0M963.4 417.6h0M964.0 414.1h0M964.6 410.7h0M965.2 413.6h0M965.8 416.4h0M966.5 419.3h0M967.1 422.1h0M967.8 425.0h0M968.4 427.8h0M969.0 424.8h0M969.5 421.8h0M970.1 418.7h0M970.7 415.7h0M971.2 412.6h0M973.1 409.8h0M975.0 406.9h0M975.5 410.2h0M975.9 413.4h0M976.3 416.7h0M976.7 420.0h0M977.1 423.2h0M977.5 426.5h0M977.9 429.7h0M978.4 432.9h0M978.8 436.1h0M979.3 439.3h0M979.8 442.4h0M980.3 445.6h0M980.8 448.8h0M981.1 445.6h0M981.4 442.4h0M981.7 439.3h0M982.0 436.1h0M982.3 432.9h0M982.7 429.7h0M983.0 426.6h0M983.3 423.4h0M983.6 420.2h0M983.9 417.1h0M984.2 413.9h0M984.6 410.7h0M984.9 407.5h0M985.2 404.4h0M985.5 401.2h0M985.8 398.0h0M986.1 394.9h0M986.5 391.7h0M986.6 388.5h0M986.8 385.2h0M987.0 382.0h0M987.2 378.8h0M987.4 375.5h0M987.6 372.3h0M987.8 369.1h0M988.0 365.8h0M988.2 362.6h0M988.4 359.4h0M990.7 361.3h0M993.1 363.2h0M993.7 359.9h0M994.2 356.6h0M994.7 353.4h0M995.3 350.1h0M995.8 346.9h0M996.4 343.6h0M996.9 340.3h0M997.4 337.2h0M997.9 334.0h0M998.3 330.8h0M998.8 327.7h0M999.3 324.5h0M999.8 321.3h0M1000.5 324.4h0M1001.3 327.4h0M1002.1 330.4h0M1002.8 333.5h0M1003.6 336.5h0M1003.9 339.9h0M1004.3 343.2h0M1004.6 346.5h0M1005.0 349.8h0M1005.4 353.2h0M1005.7 356.5h0M1006.1 359.8h0M1006.4 363.2h0M1006.6 366.3h0M1006.9 369.5h0M1007.1 372.7h0M1007.3 375.8h0M1007.5 379.0h0M1007.7 382.2h0M1007.9 385.4h0M1008.1 388.5h0M1008.3 391.7h0M1008.7 395.0h0M1009.0 398.4h0M1009.4 401.7h0M1009.8 405.0h0M1010.1 408.3h0M1010.5 411.7h0M1010.8 415.0h0M1011.2 418.3h0M1011.6 421.3h0M1012.0 424.3h0M1012.4 427.3h0M1012.8 430.3h0M1013.2 433.3h0M1013.6 436.3h0M1014.0 439.3h0M1014.4 435.9h0M1014.8 432.6h0M1015.1 429.3h0M1015.5 425.9h0M1015.8 422.6h0M1016.2 419.3h0M1016.5 416.0h0M1016.9 412.6h0M1017.5 416.0h0M1018.0 419.5h0M1018.6 422.9h0M1019.2 426.3h0M1019.7 429.7h0M1020.3 426.9h0M1020.9 424.0h0M1021.5 421.2h0M1022.0 418.3h0M1022.6 415.5h0M1023.3 418.9h0M1024.0 422.3h0M1024.6 425.7h0M1025.3 429.1h0M1026.0 432.5h0M1026.7 435.9h0M1027.4 439.3h0M1028.0 442.3h0M1028.5 445.4h0M1029.1 448.5h0M1029.7 451.6h0M1030.3 454.7h0M1030.9 457.8h0M1031.5 460.9h0M1032.1 464.0h0M1035.0 462.1h0M1037.8 460.2h0M1038.9 457.0h0M1040.0 453.8h0M1041.1 450.7h0M1041.4 447.3h0M1041.7 444.0h0M1042.0 440.7h0M1042.3 437.4h0M1042.6 434.0h0M1042.9 430.7h0M1043.2 427.4h0M1043.5 424.0h0M1044.5 427.4h0M1045.4 430.7h0M1046.4 434.0h0M1047.3 437.4h0M1047.7 434.3h0M1048.0 431.2h0M1048.4 428.1h0M1048.8 425.0h0M1049.1 421.9h0M1049.5 418.8h0M1049.8 415.7h0M1050.2 412.6h0M1050.7 409.5h0M1051.1 406.4h0M1051.6 403.3h0M1052.1 400.3h0M1052.6 397.2h0M1053.0 394.1h0M1053.5 391.0h0M1054.0 387.9h0M1056.4 389.8h0M1058.7 391.7h0M1059.1 388.2h0M1059.4 384.8h0M1059.8 381.3h0M1060.1 377.9h0M1060.5 374.4h0M1060.8 370.9h0M1061.2 367.5h0M1061.5 364.0h0M1061.9 360.6h0M1062.2 357.1h0M1062.6 353.7h0M1062.9 356.8h0M1063.2 360.0h0M1063.5 363.2h0M1063.8 366.3h0M1064.1 369.5h0M1064.5 372.7h0M1064.8 375.8h0M1065.1 379.0h0M1065.4 382.2h0M1065.6 385.6h0M1065.7 389.1h0M1065.9 392.6h0M1066.1 396.0h0M1066.3 399.5h0M1066.4 402.9h0M1066.6 406.4h0M1066.8 409.9h0M1067.0 413.3h0M1067.1 416.8h0M1067.3 420.2h0M1067.5 423.6h0M1067.7 427.0h0M1068.0 430.3h0M1068.2 433.7h0M1068.4 437.1h0M1068.6 440.4h0M1068.8 443.8h0M1069.1 447.2h0M1069.3 450.5h0M1069.5 453.9h0M1069.7 457.3h0M1069.9 460.6h0M1070.2 464.0h0M1073.0 401.2h0M1073.3 398.0h0M1073.6 394.7h0M1073.9 391.5h0M1074.2 388.3h0M1074.4 385.0h0M1074.7 381.8h0M1075.0 378.6h0M1075.3 375.3h0M1075.6 372.1h0M1075.9 368.9h0M1078.2 369.8h0M1080.6 370.8h0M1081.3 373.8h0M1082.0 376.7h0M1082.7 379.7h0M1083.3 382.7h0M1084.0 385.7h0M1084.7 388.7h0M1085.4 391.7h0M1085.7 395.1h0M1085.9 398.5h0M1086.2 402.0h0M1086.5 405.4h0M1086.8 408.8h0M1087.1 412.2h0M1087.4 415.7h0M1087.7 419.1h0M1087.9 422.5h0M1088.2 425.9h0M1088.5 429.1h0M1088.9 432.3h0M1089.2 435.4h0M1089.5 438.6h0M1089.8 441.8h0M1090.1 445.0h0M1090.5 448.1h0M1090.8 451.3h0M1091.1 454.5h0M1092.5 457.3h0M1093.9 460.2h0M1095.4 463.0h0M1096.8 465.9h0M1096.4 462.6h0M1096.1 459.2h0M1095.7 455.9h0M1095.4 452.6h0M1095.0 449.2h0M1094.7 445.9h0M1094.3 442.6h0M1093.9 439.3h0M1094.8 436.0h0M1095.6 432.7h0M1096.4 429.5h0M1097.2 426.2h0M1098.0 422.9h0M1098.8 419.7h0M1099.6 416.4h0M1100.2 413.2h0M1100.7 409.9h0M1101.3 406.6h0M1101.8 403.4h0M1102.4 400.1h0M1102.9 396.9h0M1103.4 393.6h0M1105.4 391.7h0M1107.3 389.8h0M1109.2 387.9h0M1111.1 389.8h0M1113.0 391.7h0M1114.9 393.6h0M1116.8 395.5h0M1118.7 397.4h0M1120.6 399.3h0M1122.5 401.2h0M1123.6 404.3h0M1124.8 407.3h0M1125.9 410.3h0M1127.0 413.4h0M1128.2 416.4h0M1129.6 419.3h0M1131.0 422.1h0M1132.5 425.0h0M1133.9 427.8h0M1134.6 424.7h0M1135.3 421.7h0M1136.0 418.6h0M1136.7 415.5h0M1137.5 412.4h0M1138.2 409.3h0M1138.9 406.2h0M1139.6 403.1h0M1141.0 400.7h0M1142.4 398.4h0M1143.9 396.0h0M1145.3 393.6h0M1147.2 391.7h0M1149.1 389.8h0M1151.0 387.9h0M1151.3 391.4h0M1151.5 394.8h0M1151.8 398.3h0M1152.0 401.7h0M1152.3 405.2h0M1152.6 408.6h0M1152.8 412.1h0M1153.1 415.6h0M1153.3 419.0h0M1153.6 422.5h0M1153.9 425.9h0M1154.5 429.2h0M1155.1 432.5h0M1155.7 435.7h0M1156.3 439.0h0M1156.9 442.2h0M1157.4 445.5h0M1158.0 448.8h0M1158.5 446.9h0M1159.0 445.0h0M1162.8 397.4h0M1166.6 443.1h0M1167.1 439.8h0M1167.6 436.6h0M1168.1 433.4h0M1168.5 430.1h0M1169.0 426.9h0M1169.5 423.7h0M1170.0 420.4h0M1170.4 417.2h0M1170.9 414.0h0M1171.4 410.7h0M1171.8 407.5h0M1172.3 404.3h0M1172.7 401.1h0M1173.1 397.8h0M1173.6 394.6h0M1174.0 391.4h0M1174.5 388.2h0M1174.9 385.0h0M1175.3 381.7h0M1175.8 378.5h0M1176.2 375.3h0M1176.7 372.1h0M1177.1 368.9h0M1180.9 424.0h0M1182.1 421.2h0M1183.3 418.3h0M1184.5 415.5h0M1185.7 412.6h0M1191.4 363.2h0M1193.3 362.2h0M1195.2 361.3h0M1195.7 364.2h0M1196.3 367.2h0M1196.8 370.2h0M1197.3 373.2h0M1197.9 376.2h0M1198.4 379.2h0M1199.0 382.2h0M1199.3 385.6h0M1199.7 389.1h0M1200.0 392.6h0M1200.4 396.0h0M1200.7 399.5h0M1201.0 402.9h0M1201.4 406.4h0M1201.7 409.9h0M1202.1 413.3h0M1202.4 416.8h0M1202.8 420.2h0M1203.1 423.3h0M1203.5 426.4h0M1203.8 429.5h0M1204.2 432.6h0M1204.6 435.7h0M1204.9 438.8h0M1205.3 441.9h0M1205.6 445.0h0M1206.6 441.8h0M1207.5 438.6h0M1208.5 435.4h0M1209.4 432.3h0M1210.4 429.1h0M1211.3 425.9h0M1213.7 425.9h0M1216.1 425.9h0M1216.8 429.3h0M1217.5 432.6h0M1218.2 435.9h0M1218.9 439.3h0M1219.7 442.6h0M1220.4 445.9h0M1221.1 449.2h0M1221.8 452.6h0M1222.1 449.3h0M1222.4 446.1h0M1222.7 442.9h0M1222.9 439.6h0M1223.2 436.4h0M1223.5 433.2h0M1223.8 429.9h0M1224.1 426.7h0M1224.4 423.5h0M1224.7 420.2h0M1224.8 416.8h0M1225.0 413.3h0M1225.2 409.9h0M1225.3 406.4h0M1225.5 402.9h0M1225.7 399.5h0M1225.9 396.0h0M1226.0 392.6h0M1226.2 389.1h0M1226.4 385.6h0M1226.6 382.2h0M1227.4 378.9h0M1228.2 375.7h0M1229.0 372.4h0M1229.8 369.1h0M1230.6 365.9h0M1231.4 362.6h0M1232.3 359.4h0M1232.7 362.7h0M1233.1 366.1h0M1233.5 369.5h0M1234.0 372.9h0M1234.4 376.3h0M1234.8 379.6h0M1235.2 383.0h0M1235.6 386.4h0M1236.1 389.8h0M1239.9 343.2h0M1241.8 345.6h0M1243.7 347.9h0M1244.1 344.6h0M1244.4 341.2h0M1244.8 337.8h0M1245.2 334.4h0M1245.6 331.0h0M1246.0 327.7h0M1246.3 324.3h0M1246.7 320.9h0M1247.1 317.5h0M1247.6 320.5h0M1248.0 323.5h0M1248.5 326.5h0M1248.9 329.5h0M1249.4 332.5h0M1249.9 335.4h0M1250.3 338.4h0M1250.8 341.5h0M1251.3 344.6h0M1251.8 347.7h0M1252.2 350.8h0M1252.7 353.9h0M1253.2 357.0h0M1253.7 360.1h0M1254.1 363.2h0M1254.9 366.0h0M1255.7 368.9h0M1256.4 371.7h0M1257.2 374.6h0M1257.9 377.4h0M1258.2 380.7h0M1258.5 384.0h0M1258.8 387.3h0M1259.1 390.6h0M1259.4 393.9h0M1259.7 397.2h0M1260.0 400.5h0M1260.3 403.8h0M1260.6 407.1h0M1260.9 410.4h0M1261.2 413.6h0M1261.5 416.9h0M1261.7 420.2h0M1262.5 423.5h0M1263.3 426.7h0M1264.0 429.9h0M1264.8 433.2h0M1265.6 436.4h0M1267.5 437.8h0M1269.4 439.3h0M1269.7 435.8h0M1270.0 432.3h0M1270.4 428.9h0M1270.7 425.4h0M1271.1 422.0h0M1271.4 418.5h0M1271.8 415.0h0M1272.1 411.6h0M1272.5 408.1h0M1272.8 404.7h0M1273.2 401.2h0M1273.6 398.0h0M1274.1 394.8h0M1274.6 391.6h0M1275.1 388.4h0M1275.5 385.2h0M1276.0 381.9h0M1276.5 378.7h0M1277.0 375.5h0M1279.5 374.3h0M1282.0 373.0h0M1284.6 371.7h0M1288.4 306.1h0M1292.2 259.5h0M1295.0 306.1h0M1295.4 309.2h0M1295.8 312.3h0M1296.1 315.4h0M1296.5 318.5h0M1296.8 321.5h0M1297.2 324.6h0M1297.5 327.7h0M1297.9 330.8h0M1299.8 329.9h0M1301.7 328.9h0M1302.1 325.7h0M1302.5 322.4h0M1302.9 319.1h0M1303.3 315.9h0M1303.7 312.6h0M1304.1 309.4h0M1304.6 306.1h0M1304.8 302.8h0M1305.1 299.4h0M1305.4 296.1h0M1305.7 292.8h0M1306.0 289.4h0M1306.3 286.1h0M1306.5 282.8h0M1306.8 279.5h0M1307.1 276.1h0M1307.4 272.8h0M1309.3 275.3h0M1311.2 277.9h0M1313.1 280.4h0M1313.2 283.9h0M1313.3 287.3h0M1313.3 290.7h0M1313.4 294.2h0M1313.5 297.6h0M1313.5 301.0h0M1313.6 304.5h0M1313.7 307.9h0M1313.8 311.4h0M1313.8 314.8h0M1313.9 318.2h0M1314.0 321.7h0M1314.1 325.1h0M1314.4 328.3h0M1314.7 331.5h0M1315.0 334.6h0M1315.3 337.8h0M1315.6 341.0h0M1316.0 344.1h0M1316.3 347.3h0M1316.6 350.5h0M1316.9 353.7h0M1319.8 354.6h0M1322.6 355.6h0M1323.3 358.9h0M1324.0 362.2h0M1324.8 365.5h0M1325.5 368.9h0M1326.2 372.2h0M1326.9 375.5h0M1327.6 378.9h0M1328.3 382.2h0M1329.0 385.0h0M1329.6 387.9h0M1330.2 390.7h0M1330.9 393.6h0M1331.5 396.5h0M1332.1 399.3h0M1332.4 396.2h0M1332.6 393.1h0M1332.8 390.0h0M1333.1 386.9h0M1333.3 383.8h0M1333.6 380.8h0M1333.8 377.7h0M1334.0 374.6h0M1336.4 375.1h0M1338.8 375.5h0M1338.9 379.0h0M1338.9 382.4h0M1339.0 385.8h0M1339.1 389.3h0M1339.2 392.7h0M1339.2 396.2h0M1339.3 399.6h0M1339.4 403.0h0M1339.5 406.5h0M1339.5 409.9h0M1339.6 413.4h0M1339.7 416.8h0M1339.7 420.2h0M1340.0 423.6h0M1340.2 427.0h0M1340.4 430.4h0M1340.6 433.8h0M1340.8 437.1h0M1341.0 440.5h0M1341.2 443.9h0M1341.4 447.3h0M1341.6 450.7h0M1342.6 447.8h0M1343.5 445.0h0M1344.5 442.1h0M1345.4 439.3h0M1346.7 436.7h0M1348.0 434.2h0M1349.3 431.6h0M1354.0 382.2h0M1357.8 335.6h0M1360.7 382.2h0M1361.1 385.6h0M1361.5 388.9h0M1361.9 392.3h0M1362.4 395.7h0M1362.8 399.1h0M1363.2 402.5h0M1363.6 405.9h0M1364.1 409.2h0M1364.5 412.6h0M1365.0 416.0h0M1365.6 419.4h0M1366.1 422.8h0M1366.6 426.2h0M1367.2 429.6h0M1367.7 433.0h0M1368.3 436.4h0M1369.2 433.2h0M1370.2 429.9h0M1371.1 426.7h0M1372.1 423.5h0M1373.0 420.2h0M1376.8 348.9h0M1378.7 351.1h0M1380.6 353.3h0M1382.5 355.6h0M1385.4 401.2h0M1389.2 458.3h0M1391.1 459.7h0M1393.0 461.1h0M1393.4 458.0h0M1393.8 454.9h0M1394.2 451.8h0M1394.6 448.6h0M1395.0 445.5h0M1395.5 442.4h0M1395.9 439.3h0M1396.6 436.1h0M1397.3 432.9h0M1398.0 429.7h0M1398.7 426.6h0M1399.3 423.4h0M1400.0 420.2h0M1400.1 417.1h0M1400.1 413.9h0M1400.2 410.7h0M1400.2 407.5h0M1400.3 404.4h0M1400.3 401.2h0M1400.4 398.0h0M1400.4 394.9h0M1400.5 391.7h0M1400.9 388.4h0M1401.3 385.0h0M1401.7 381.7h0M1402.0 378.4h0M1402.4 375.1h0M1402.8 371.7h0M1403.2 368.4h0M1403.6 365.1h0M1404.0 361.7h0M1404.4 358.4h0M1404.8 355.1h0M1405.2 351.7h0M1409.0 401.2h0M1409.4 404.2h0M1409.8 407.2h0M1410.2 410.2h0M1410.7 413.2h0M1411.1 416.2h0M1411.5 419.1h0M1411.9 422.1h0M1412.4 418.8h0M1412.8 415.5h0M1413.3 412.1h0M1413.8 408.8h0M1414.3 405.5h0M1414.7 402.2h0M1415.2 398.8h0M1415.7 395.5h0M1416.2 398.6h0M1416.6 401.7h0M1417.1 404.8h0M1417.6 407.9h0M1418.1 411.0h0M1418.5 414.0h0M1419.0 417.1h0M1419.5 420.2h0M1420.7 417.4h0M1421.9 414.5h0M1423.1 411.7h0M1424.2 408.8h0M1424.8 411.8h0M1425.3 414.8h0M1425.9 417.8h0M1426.4 420.8h0M1427.0 423.8h0M1427.5 426.8h0M1428.0 429.7h0M1429.2 432.1h0M1430.4 434.5h0M1431.6 436.9h0M1432.8 439.3h0M1434.4 436.7h0M1436.0 434.2h0M1437.6 431.6h0M1438.3 435.0h0M1439.0 438.3h0M1439.7 441.6h0M1440.4 445.0h0M1441.1 448.3h0M1441.8 451.6h0M1442.6 454.9h0M1443.3 458.3h0M1448.0 393.6h0M1448.7 396.5h0M1449.3 399.3h0M1449.9 402.2h0M1450.6 405.0h0M1451.2 407.9h0M1451.8 410.7h0M1452.3 414.0h0M1452.8 417.4h0M1453.3 420.7h0M1453.7 424.0h0M1454.2 427.4h0M1454.7 430.7h0M1455.2 434.0h0M1455.6 437.4h0M1456.2 434.0h0M1456.8 430.7h0M1457.4 427.4h0M1458.0 424.0h0M1458.6 420.7h0M1459.2 417.4h0M1459.8 414.0h0M1460.4 410.7h0M1461.2 407.9h0M1462.0 405.0h0M1462.8 402.2h0M1463.6 399.3h0M1464.3 396.5h0M1465.1 393.6h0M1465.8 396.8h0M1466.4 399.9h0M1467.0 403.1h0M1467.7 406.3h0M1468.3 409.5h0M1468.9 412.6h0M1469.4 415.8h0M1469.9 419.0h0M1470.4 422.1h0M1470.8 425.3h0M1471.3 428.5h0M1471.8 431.6h0M1473.0 428.8h0M1474.2 425.9h0M1475.4 423.1h0M1476.6 420.2h0M1476.9 416.8h0M1477.2 413.3h0M1477.6 409.9h0M1477.9 406.4h0M1478.3 402.9h0M1478.6 399.5h0M1479.0 396.0h0M1479.3 392.6h0M1479.7 389.1h0M1480.0 385.6h0M1480.4 382.2h0M1480.6 378.7h0M1480.8 375.2h0M1481.1 371.7h0M1481.3 368.2h0M1481.5 364.7h0M1481.8 361.3h0M1482.0 357.8h0M1482.3 354.3h0M1482.5 350.8h0M1482.7 347.3h0M1483.0 343.8h0M1483.2 340.3h0M1483.5 343.8h0M1483.7 347.3h0M1483.9 350.8h0M1484.2 354.3h0M1484.4 357.8h0M1484.6 361.3h0M1484.9 364.7h0M1485.1 368.2h0M1485.4 371.7h0M1485.6 375.2h0M1485.8 378.7h0M1486.1 382.2h0M1486.9 385.4h0M1487.7 388.5h0M1488.4 391.7h0M1489.2 394.9h0M1490.0 398.0h0M1490.8 401.2h0M1491.5 404.4h0M1492.1 407.5h0M1492.7 410.7h0M1493.4 413.9h0M1494.0 417.1h0M1494.6 420.2h0M1495.6 423.3h0M1496.5 426.3h0M1497.5 429.4h0M1498.4 432.4h0M1499.4 435.4h0M1500.6 432.6h0M1501.8 429.7h0M1502.9 426.9h0M1504.1 424.0h0M1505.6 426.9h0M1507.0 429.7h0M1508.4 432.6h0M1509.8 435.4h0M1510.8 432.4h0M1511.7 429.4h0M1512.7 426.3h0M1513.7 423.3h0M1514.6 420.2h0M1515.6 417.2h0M1516.5 414.1h0M1517.5 411.1h0M1518.4 408.1h0M1519.4 405.0h0M1520.1 408.2h0M1520.9 411.4h0M1521.7 414.5h0M1522.5 417.7h0M1523.3 420.9h0M1524.1 424.0h0M1525.7 426.6h0M1527.3 429.1h0M1528.9 431.6h0M1529.7 428.8h0M1530.5 425.9h0M1531.2 423.1h0M1532.0 420.2h0M1532.8 417.4h0M1533.6 414.5h0M1534.2 417.6h0M1534.8 420.7h0M1535.4 423.8h0M1536.0 426.9h0M1536.6 430.0h0M1537.2 433.1h0M1537.8 436.2h0M1538.4 439.3h0M1541.2 439.3h0M1544.1 439.3h0M1544.9 436.0h0M1545.7 432.7h0M1546.5 429.5h0M1547.3 426.2h0M1548.2 422.9h0M1549.0 419.7h0M1549.8 416.4h0M1555.5 465.9h0M1556.0 462.6h0M1556.5 459.2h0M1556.9 455.9h0M1557.4 452.6h0M1557.9 449.2h0M1558.4 445.9h0M1558.8 442.6h0M1559.3 439.3h0M1559.8 436.1h0M1560.4 432.9h0M1560.9 429.7h0M1561.4 426.6h0M1561.9 423.4h0M1562.5 420.2h0M1563.0 417.1h0M1563.5 413.9h0M1564.1 410.7h0M1564.7 407.5h0M1565.3 404.4h0M1566.0 401.2h0M1566.6 398.0h0M1567.2 394.9h0M1567.9 391.7h0M1568.5 388.5h0M1569.1 385.4h0M1569.8 382.2h0M1573.6 325.1h0M1574.5 322.3h0M1575.5 319.4h0M1576.4 316.6h0M1577.4 313.7h0M1577.7 317.1h0M1578.0 320.5h0M1578.3 323.8h0M1578.6 327.2h0M1579.0 330.6h0M1579.3 334.0h0M1579.6 337.4h0M1579.9 340.8h0M1580.2 344.1h0M1584.0 418.3h0M1586.9 363.2h0M1587.2 359.8h0M1587.5 356.5h0M1587.8 353.2h0M1588.1 349.8h0M1588.4 346.5h0M1588.7 343.2h0M1589.1 339.9h0M1589.4 336.5h0M1591.9 338.0h0M1594.5 339.4h0M1597.8 339.9h0M1601.2 340.3h0M1602.6 343.2h0M1604.0 346.0h0M1605.4 348.9h0M1606.9 351.7h0M1607.3 355.1h0M1607.7 358.5h0M1608.1 361.9h0M1608.6 365.3h0M1609.0 368.7h0M1609.4 372.0h0M1609.8 375.4h0M1610.2 378.8h0M1610.7 382.2h0M1611.6 385.4h0M1612.6 388.5h0M1613.5 391.7h0M1614.5 394.9h0M1615.4 398.0h0M1616.4 401.2h0M1617.0 404.4h0M1617.6 407.5h0M1618.3 410.7h0M1618.9 413.9h0M1619.5 417.1h0M1620.2 420.2h0M1620.8 423.4h0M1621.4 426.6h0M1622.1 429.7h0M1622.6 426.4h0M1623.0 423.1h0M1623.5 419.8h0M1624.0 416.4h0M1624.5 413.1h0M1624.9 409.8h0M1625.4 406.4h0M1625.9 403.1h0M1626.4 399.8h0M1626.8 396.5h0M1627.3 393.1h0M1627.8 389.8h0M1634.4 325.1h0M1637.3 269.9h0M1639.2 268.5h0M1641.1 267.1h0M1641.3 270.3h0M1641.4 273.6h0M1641.6 276.8h0M1641.7 280.1h0M1641.9 283.3h0M1642.1 286.6h0M1642.2 289.8h0M1642.4 293.1h0M1642.5 296.3h0M1642.7 299.6h0M1642.8 302.8h0M1643.0 306.1h0M1643.2 309.5h0M1643.3 312.8h0M1643.4 316.2h0M1643.6 319.6h0M1643.7 322.9h0M1643.9 326.3h0M1644.0 329.7h0M1644.2 333.0h0M1644.3 336.4h0M1644.5 339.7h0M1644.6 343.1h0M1644.8 346.5h0M1644.9 349.8h0M1645.6 346.5h0M1646.3 343.2h0M1647.1 339.9h0M1647.8 336.5h0M1648.2 333.3h0M1648.7 330.0h0M1649.2 326.7h0M1649.6 323.4h0M1650.1 320.1h0M1650.6 316.9h0M1651.0 313.6h0M1651.5 310.3h0M1651.9 307.0h0" stroke="#0000ff" stroke-width="7.0" stroke-linecap="round" fill="none"/><polyline class="gy" style="stroke-width:5.6" points="916.1,338.4 919.9,351.7 921.8,370.8 926.5,363.2 931.3,342.2 935.1,328.9 937.9,319.4 940.8,327.0 944.6,351.7 949.4,374.6 953.2,401.2 957.0,435.4 960.8,448.8 965.5,441.2 969.3,445.0 970.3,451.6"/><path d="M916.1 338.4h0M917.0 341.8h0M918.0 345.1h0M918.9 348.4h0M919.9 351.7h0M920.2 354.9h0M920.5 358.1h0M920.8 361.3h0M921.1 364.4h0M921.5 367.6h0M921.8 370.8h0M923.4 368.2h0M924.9 365.7h0M926.5 363.2h0M927.2 360.2h0M927.9 357.2h0M928.6 354.2h0M929.3 351.2h0M929.9 348.2h0M930.6 345.2h0M931.3 342.2h0M932.2 338.9h0M933.2 335.6h0M934.1 332.2h0M935.1 328.9h0M936.0 325.7h0M937.0 322.6h0M937.9 319.4h0M938.9 321.9h0M939.9 324.5h0M940.8 327.0h0M941.3 330.1h0M941.8 333.2h0M942.2 336.3h0M942.7 339.4h0M943.2 342.5h0M943.7 345.6h0M944.1 348.7h0M944.6 351.7h0M945.3 355.0h0M946.0 358.3h0M946.6 361.5h0M947.3 364.8h0M948.0 368.1h0M948.7 371.3h0M949.4 374.6h0M949.8 377.9h0M950.3 381.2h0M950.8 384.6h0M951.3 387.9h0M951.7 391.2h0M952.2 394.6h0M952.7 397.9h0M953.2 401.2h0M953.5 404.6h0M953.9 408.1h0M954.3 411.5h0M954.7 414.9h0M955.1 418.3h0M955.4 421.8h0M955.8 425.2h0M956.2 428.6h0M956.6 432.0h0M957.0 435.4h0M957.9 438.8h0M958.9 442.1h0M959.8 445.4h0M960.8 448.8h0M962.4 446.2h0M963.9 443.7h0M965.5 441.2h0M967.4 443.1h0M969.3 445.0h0M969.8 448.3h0M970.3 451.6h0" stroke="#a6a6a6" stroke-width="7.0" stroke-linecap="round" fill="none"/><polyline class="gy" style="stroke-width:5.6" points="984.6,401.2 988.4,382.2 993.1,361.3 996.9,351.7 1000.7,357.5 1004.5,368.9 1008.3,389.8 1012.1,407.9 1017.8,403.1 1022.6,399.3 1026.4,402.2 1029.3,422.1 1033.1,439.3 1037.8,458.3 1040.7,467.8 1043.5,451.6"/><path d="M984.6 401.2h0M985.2 398.0h0M985.8 394.9h0M986.5 391.7h0M987.1 388.5h0M987.7 385.4h0M988.4 382.2h0M989.0 379.2h0M989.7 376.2h0M990.4 373.2h0M991.1 370.2h0M991.8 367.2h0M992.4 364.2h0M993.1 361.3h0M994.4 358.1h0M995.7 354.9h0M996.9 351.7h0M998.8 354.6h0M1000.7 357.5h0M1001.7 360.3h0M1002.6 363.2h0M1003.6 366.0h0M1004.5 368.9h0M1005.1 371.9h0M1005.6 374.8h0M1006.2 377.8h0M1006.7 380.8h0M1007.2 383.8h0M1007.8 386.8h0M1008.3 389.8h0M1009.0 392.8h0M1009.6 395.8h0M1010.2 398.8h0M1010.9 401.8h0M1011.5 404.9h0M1012.1 407.9h0M1014.0 406.3h0M1015.9 404.7h0M1017.8 403.1h0M1020.2 401.2h0M1022.6 399.3h0M1024.5 400.7h0M1026.4 402.2h0M1026.9 405.5h0M1027.4 408.8h0M1027.8 412.1h0M1028.3 415.5h0M1028.8 418.8h0M1029.3 422.1h0M1029.9 425.0h0M1030.5 427.8h0M1031.2 430.7h0M1031.8 433.5h0M1032.4 436.4h0M1033.1 439.3h0M1033.9 442.4h0M1034.6 445.6h0M1035.4 448.8h0M1036.2 451.9h0M1037.0 455.1h0M1037.8 458.3h0M1038.8 461.4h0M1039.7 464.6h0M1040.7 467.8h0M1041.2 464.6h0M1041.8 461.3h0M1042.4 458.1h0M1043.0 454.9h0M1043.5 451.6h0" stroke="#a6a6a6" stroke-width="7.0" stroke-linecap="round" fill="none"/><polyline class="gy" style="stroke-width:5.6" points="1055.9,433.5 1059.7,420.2"/><path d="M1055.9 433.5h0M1056.8 430.2h0M1057.8 426.9h0M1058.7 423.6h0M1059.7 420.2h0" stroke="#a6a6a6" stroke-width="7.0" stroke-linecap="round" fill="none"/><polyline class="gy" style="stroke-width:5.6" points="1063.5,448.8 1066.4,492.5 1071.1,493.5 1074.0,464.0 1076.8,422.1 1078.7,401.2 1081.6,420.2 1085.4,445.0 1088.2,458.3"/><path d="M1063.5 448.8h0M1063.7 452.1h0M1063.9 455.5h0M1064.2 458.9h0M1064.4 462.2h0M1064.6 465.6h0M1064.8 469.0h0M1065.0 472.3h0M1065.3 475.7h0M1065.5 479.1h0M1065.7 482.4h0M1065.9 485.8h0M1066.1 489.2h0M1066.4 492.5h0M1068.7 493.0h0M1071.1 493.5h0M1071.4 490.2h0M1071.7 486.9h0M1072.1 483.6h0M1072.4 480.4h0M1072.7 477.1h0M1073.0 473.8h0M1073.3 470.5h0M1073.6 467.3h0M1074.0 464.0h0M1074.2 460.5h0M1074.4 457.0h0M1074.7 453.5h0M1074.9 450.0h0M1075.2 446.5h0M1075.4 443.1h0M1075.6 439.6h0M1075.9 436.1h0M1076.1 432.6h0M1076.3 429.1h0M1076.6 425.6h0M1076.8 422.1h0M1077.1 419.1h0M1077.4 416.2h0M1077.6 413.2h0M1077.9 410.2h0M1078.2 407.2h0M1078.4 404.2h0M1078.7 401.2h0M1079.2 404.4h0M1079.7 407.5h0M1080.1 410.7h0M1080.6 413.9h0M1081.1 417.1h0M1081.6 420.2h0M1082.0 423.3h0M1082.5 426.4h0M1083.0 429.5h0M1083.5 432.6h0M1084.0 435.7h0M1084.4 438.8h0M1084.9 441.9h0M1085.4 445.0h0M1086.1 448.3h0M1086.8 451.6h0M1087.5 454.9h0M1088.2 458.3h0" stroke="#a6a6a6" stroke-width="7.0" stroke-linecap="round" fill="none"/><polyline class="gy" style="stroke-width:5.6" points="1097.7,461.1 1101.5,445.0 1105.4,425.9"/><path d="M1097.7 461.1h0M1098.5 457.9h0M1099.3 454.7h0M1100.0 451.4h0M1100.8 448.2h0M1101.5 445.0h0M1102.2 441.8h0M1102.8 438.6h0M1103.4 435.4h0M1104.1 432.3h0M1104.7 429.1h0M1105.4 425.9h0" stroke="#a6a6a6" stroke-width="7.0" stroke-linecap="round" fill="none"/><polyline class="gy" style="stroke-width:5.6" points="1118.7,403.1 1121.5,427.8 1123.4,442.1 1129.1,434.5"/><path d="M1118.7 403.1h0M1119.0 406.2h0M1119.4 409.3h0M1119.7 412.4h0M1120.1 415.5h0M1120.5 418.6h0M1120.8 421.7h0M1121.2 424.7h0M1121.5 427.8h0M1121.9 430.7h0M1122.3 433.5h0M1122.7 436.4h0M1123.0 439.3h0M1123.4 442.1h0M1125.3 439.6h0M1127.2 437.0h0M1129.1 434.5h0" stroke="#a6a6a6" stroke-width="7.0" stroke-linecap="round" fill="none"/><polyline class="gy" style="stroke-width:5.6" points="1322.6,366.0 1329.3,363.2 1328.3,379.3 1323.6,376.5"/><path d="M1322.6 366.0h0M1324.8 365.1h0M1327.1 364.1h0M1329.3 363.2h0M1329.1 366.4h0M1328.9 369.6h0M1328.7 372.9h0M1328.5 376.1h0M1328.3 379.3h0M1326.0 377.9h0M1323.6 376.5h0" stroke="#a6a6a6" stroke-width="7.0" stroke-linecap="round" fill="none"/><polyline class="gy" style="stroke-width:5.6" points="1350.2,412.6 1354.0,382.2 1357.8,340.3 1360.7,382.2 1365.4,412.6"/><path d="M1350.2 412.6h0M1350.6 409.2h0M1351.1 405.9h0M1351.5 402.5h0M1351.9 399.1h0M1352.3 395.7h0M1352.7 392.3h0M1353.2 388.9h0M1353.6 385.6h0M1354.0 382.2h0M1354.3 379.0h0M1354.6 375.7h0M1354.9 372.5h0M1355.2 369.3h0M1355.5 366.1h0M1355.8 362.9h0M1356.1 359.6h0M1356.4 356.4h0M1356.6 353.2h0M1356.9 350.0h0M1357.2 346.8h0M1357.5 343.6h0M1357.8 340.3h0M1358.1 343.8h0M1358.3 347.3h0M1358.5 350.8h0M1358.8 354.3h0M1359.0 357.8h0M1359.2 361.3h0M1359.5 364.7h0M1359.7 368.2h0M1360.0 371.7h0M1360.2 375.2h0M1360.4 378.7h0M1360.7 382.2h0M1361.2 385.6h0M1361.7 388.9h0M1362.3 392.3h0M1362.8 395.7h0M1363.3 399.1h0M1363.8 402.5h0M1364.4 405.9h0M1364.9 409.2h0M1365.4 412.6h0" stroke="#a6a6a6" stroke-width="7.0" stroke-linecap="round" fill="none"/><circle cx="1347.4" cy="434.5" r="3.5" fill="#a6a6a6"/><circle cx="1490.8" cy="382.2" r="3.5" fill="#a6a6a6"/><polyline class="gy" style="stroke-width:5.6" points="1493.7,398.4 1496.5,410.7"/><path d="M1493.7 398.4h0M1494.4 401.4h0M1495.1 404.5h0M1495.8 407.6h0M1496.5 410.7h0" stroke="#a6a6a6" stroke-width="7.0" stroke-linecap="round" fill="none"/><polyline class="gy" style="stroke-width:5.6" points="1451.8,445.9 1456.6,445.0"/><path d="M1451.8 445.9h0M1454.2 445.4h0M1456.6 445.0h0" stroke="#a6a6a6" stroke-width="7.0" stroke-linecap="round" fill="none"/><polyline class="gy" style="stroke-width:5.6" points="1530.8,445.0 1534.6,438.3"/><path d="M1530.8 445.0h0M1532.0 442.7h0M1533.3 440.5h0M1534.6 438.3h0" stroke="#a6a6a6" stroke-width="7.0" stroke-linecap="round" fill="none"/><polyline class="gy" style="stroke-width:5.6" points="1535.5,464.0 1537.4,472.5"/><path d="M1535.5 464.0h0M1536.2 466.8h0M1536.8 469.7h0M1537.4 472.5h0" stroke="#a6a6a6" stroke-width="7.0" stroke-linecap="round" fill="none"/><polyline class="gy" style="stroke-width:5.6" points="1547.9,427.8 1550.7,412.6 1554.6,451.6"/><path d="M1547.9 427.8h0M1548.5 424.8h0M1549.0 421.8h0M1549.6 418.7h0M1550.2 415.7h0M1550.7 412.6h0M1551.1 415.9h0M1551.4 419.1h0M1551.7 422.4h0M1552.0 425.6h0M1552.3 428.9h0M1552.6 432.1h0M1553.0 435.4h0M1553.3 438.6h0M1553.6 441.9h0M1553.9 445.1h0M1554.2 448.4h0M1554.6 451.6h0" stroke="#a6a6a6" stroke-width="7.0" stroke-linecap="round" fill="none"/><polyline class="gy" style="stroke-width:5.6" points="1568.8,390.7 1573.6,376.5 1577.4,374.6"/><path d="M1568.8 390.7h0M1569.8 387.9h0M1570.7 385.0h0M1571.7 382.2h0M1572.6 379.3h0M1573.6 376.5h0M1575.5 375.5h0M1577.4 374.6h0" stroke="#a6a6a6" stroke-width="7.0" stroke-linecap="round" fill="none"/><polyline class="gy" style="stroke-width:5.6" points="1589.7,361.3 1599.3,356.5 1606.9,361.3 1611.6,372.7 1615.4,393.6"/><path d="M1589.7 361.3h0M1592.1 360.1h0M1594.5 358.9h0M1596.9 357.7h0M1599.3 356.5h0M1601.8 358.1h0M1604.3 359.7h0M1606.9 361.3h0M1608.1 364.1h0M1609.2 367.0h0M1610.4 369.8h0M1611.6 372.7h0M1612.2 375.7h0M1612.7 378.7h0M1613.3 381.6h0M1613.8 384.6h0M1614.3 387.6h0M1614.9 390.6h0M1615.4 393.6h0" stroke="#a6a6a6" stroke-width="7.0" stroke-linecap="round" fill="none"/><polyline class="gy" style="stroke-width:5.6" points="1621.1,424.0 1624.0,393.6"/><path d="M1621.1 424.0h0M1621.4 420.7h0M1621.8 417.3h0M1622.1 413.9h0M1622.4 410.5h0M1622.7 407.1h0M1623.0 403.7h0M1623.4 400.4h0M1623.7 397.0h0M1624.0 393.6h0" stroke="#a6a6a6" stroke-width="7.0" stroke-linecap="round" fill="none"/><polyline class="k" style="stroke-width:3.0" points="915.1,380.3 921.8,375.0 926.5,381.2 930.3,397.4 934.1,425.9 938.9,425.9 942.1,430.7 947.8,425.0 951.3,439.3 955.1,456.4 958.5,468.7 963.6,456.4 967.4,467.8 972.2,473.5 974.5,488.7 977.9,475.4 984.0,454.5 986.5,437.4 991.2,420.2 995.0,395.5 996.9,366.0 1000.7,366.0 1004.5,380.3 1007.4,422.1 1011.2,455.4 1017.8,457.3 1022.6,472.5 1027.4,455.4 1033.1,474.4 1038.8,477.3 1045.4,480.2 1050.2,461.1 1053.0,425.9 1056.8,401.2 1059.7,386.0 1063.5,386.0 1065.4,435.4 1066.4,469.7 1071.1,464.0 1074.0,420.2 1075.9,393.6 1077.8,377.4 1080.6,377.4 1083.5,401.2 1086.3,431.6 1089.2,466.8 1090.5,481.1 1093.9,454.5 1098.7,425.9 1102.5,393.6 1104.4,385.0 1108.2,395.5 1113.0,397.4 1119.6,381.2 1123.4,402.2 1130.1,409.8 1134.8,429.7 1140.5,428.8 1146.3,418.3 1150.1,391.7 1152.9,367.9 1155.8,370.8 1158.0,382.2 1160.9,401.2 1163.8,416.4 1166.6,405.0 1170.4,433.5 1174.2,451.6 1177.1,401.2 1179.9,366.0 1182.8,365.1 1185.7,393.6 1188.5,428.8 1193.3,410.7 1197.1,387.9 1200.9,351.7 1203.7,359.4 1205.6,393.6 1207.5,450.7 1209.4,465.9 1211.9,452.6 1215.1,477.3 1218.9,483.0 1223.7,471.6 1226.6,456.4 1227.9,416.4 1233.2,425.9 1238.9,422.1 1242.7,401.2 1246.5,380.3 1249.4,377.4 1252.2,401.2 1255.1,439.3 1257.9,435.4 1260.8,462.1 1266.5,473.5 1271.3,485.9 1274.1,467.8 1277.9,441.2 1280.8,401.2 1283.6,382.2 1287.4,408.8 1292.2,380.3 1297.9,391.7 1302.6,398.4 1309.3,380.3 1314.1,356.5 1316.9,363.2 1319.8,401.2 1322.6,431.6 1324.5,412.6 1327.4,400.3 1330.2,448.8 1333.1,470.6 1337.8,467.8 1341.6,467.8 1345.4,484.9 1348.3,484.9 1350.2,443.1 1354.0,420.2 1357.8,407.9 1361.6,420.2 1365.4,424.0 1370.2,418.3 1373.6,387.9 1375.9,435.4 1379.7,441.2 1382.5,477.3 1387.3,478.3 1390.5,496.3 1393.0,471.6 1395.9,420.2 1397.8,397.4 1400.0,391.7 1402.4,401.2 1404.3,446.9 1407.1,435.4 1410.0,448.8 1413.8,435.4 1416.6,458.3 1420.4,445.0 1424.2,456.4 1428.0,462.1 1430.9,481.1 1434.7,446.9 1438.5,467.8 1441.4,454.5 1444.2,429.7 1449.0,441.2 1452.8,406.9 1457.5,406.9 1459.4,429.7 1461.3,451.6 1464.2,439.3 1468.9,456.4 1473.7,446.9 1479.4,432.6 1483.2,427.8 1485.1,386.0 1488.9,361.3 1491.4,348.9 1494.6,359.4 1499.4,387.9 1504.1,405.0 1509.8,418.3 1515.6,431.6 1521.3,445.0 1524.1,427.8 1526.0,445.0 1528.9,461.1 1531.7,450.7 1536.5,452.6 1539.3,471.6 1541.6,479.2 1544.1,454.5 1547.9,429.7 1551.7,408.8 1554.6,398.4 1557.4,420.2 1561.2,441.2 1565.0,470.6 1569.8,446.9 1574.5,425.9 1578.3,414.5 1581.2,378.4 1584.0,384.1 1588.8,406.9 1594.5,405.0 1599.3,403.1 1605.0,407.9 1608.8,395.5 1612.6,392.6 1616.4,412.6 1620.2,441.2 1623.6,463.0 1627.8,439.3 1631.0,378.4 1633.5,419.3 1636.3,397.4 1638.3,344.1 1642.1,365.1 1644.9,382.2 1646.8,406.9 1649.7,368.9 1651.9,337.5"/><path d="M915.1 380.3h0M917.3 378.5h0M919.6 376.7h0M921.8 375.0h0M923.4 377.0h0M924.9 379.1h0M926.5 381.2h0M927.3 384.5h0M928.1 387.7h0M928.8 390.9h0M929.6 394.2h0M930.3 397.4h0M930.8 400.6h0M931.2 403.7h0M931.6 406.9h0M932.0 410.1h0M932.5 413.3h0M932.9 416.4h0M933.3 419.6h0M933.7 422.8h0M934.1 425.9h0M936.5 425.9h0M938.9 425.9h0M940.5 428.3h0M942.1 430.7h0M944.0 428.8h0M945.9 426.9h0M947.8 425.0h0M948.5 427.8h0M949.2 430.7h0M949.9 433.5h0M950.6 436.4h0M951.3 439.3h0M951.9 442.1h0M952.5 445.0h0M953.2 447.8h0M953.8 450.7h0M954.4 453.5h0M955.1 456.4h0M955.9 459.5h0M956.8 462.6h0M957.6 465.6h0M958.5 468.7h0M959.8 465.6h0M961.1 462.6h0M962.3 459.5h0M963.6 456.4h0M964.6 459.2h0M965.5 462.1h0M966.5 464.9h0M967.4 467.8h0M969.0 469.7h0M970.6 471.6h0M972.2 473.5h0M972.6 476.5h0M973.1 479.6h0M973.6 482.6h0M974.0 485.7h0M974.5 488.7h0M975.3 485.4h0M976.2 482.1h0M977.0 478.7h0M977.9 475.4h0M978.8 472.4h0M979.6 469.4h0M980.5 466.4h0M981.4 463.4h0M982.2 460.5h0M983.1 457.5h0M984.0 454.5h0M984.5 451.0h0M985.0 447.6h0M985.5 444.2h0M986.0 440.8h0M986.5 437.4h0M987.3 434.5h0M988.0 431.6h0M988.8 428.8h0M989.6 425.9h0M990.4 423.1h0M991.2 420.2h0M991.7 417.1h0M992.2 414.0h0M992.6 411.0h0M993.1 407.9h0M993.6 404.8h0M994.1 401.7h0M994.5 398.6h0M995.0 395.5h0M995.2 392.2h0M995.4 388.9h0M995.7 385.7h0M995.9 382.4h0M996.1 379.1h0M996.3 375.8h0M996.5 372.6h0M996.7 369.3h0M996.9 366.0h0M998.8 366.0h0M1000.7 366.0h0M1001.5 368.9h0M1002.2 371.7h0M1003.0 374.6h0M1003.8 377.4h0M1004.5 380.3h0M1004.8 383.8h0M1005.0 387.3h0M1005.2 390.7h0M1005.5 394.2h0M1005.7 397.7h0M1006.0 401.2h0M1006.2 404.7h0M1006.4 408.2h0M1006.7 411.7h0M1006.9 415.2h0M1007.1 418.6h0M1007.4 422.1h0M1007.8 425.5h0M1008.1 428.8h0M1008.5 432.1h0M1008.9 435.4h0M1009.3 438.8h0M1009.7 442.1h0M1010.0 445.4h0M1010.4 448.8h0M1010.8 452.1h0M1011.2 455.4h0M1014.5 456.4h0M1017.8 457.3h0M1018.8 460.4h0M1019.7 463.4h0M1020.7 466.5h0M1021.7 469.5h0M1022.6 472.5h0M1023.4 469.7h0M1024.2 466.8h0M1025.0 464.0h0M1025.8 461.1h0M1026.6 458.3h0M1027.4 455.4h0M1028.3 458.6h0M1029.3 461.8h0M1030.2 464.9h0M1031.2 468.1h0M1032.1 471.3h0M1033.1 474.4h0M1035.9 475.9h0M1038.8 477.3h0M1041.0 478.3h0M1043.2 479.2h0M1045.4 480.2h0M1046.2 477.0h0M1047.0 473.8h0M1047.8 470.6h0M1048.6 467.5h0M1049.4 464.3h0M1050.2 461.1h0M1050.4 457.9h0M1050.7 454.7h0M1051.0 451.5h0M1051.2 448.3h0M1051.5 445.1h0M1051.7 441.9h0M1052.0 438.7h0M1052.3 435.5h0M1052.5 432.3h0M1052.8 429.1h0M1053.0 425.9h0M1053.5 422.8h0M1054.0 419.8h0M1054.5 416.7h0M1054.9 413.6h0M1055.4 410.5h0M1055.9 407.4h0M1056.4 404.3h0M1056.8 401.2h0M1057.4 398.2h0M1058.0 395.1h0M1058.6 392.1h0M1059.1 389.0h0M1059.7 386.0h0M1061.6 386.0h0M1063.5 386.0h0M1065.4 435.4h0M1065.5 438.9h0M1065.6 442.3h0M1065.7 445.7h0M1065.8 449.1h0M1065.9 452.6h0M1066.0 456.0h0M1066.1 459.4h0M1066.2 462.8h0M1066.3 466.3h0M1066.4 469.7h0M1067.9 467.8h0M1069.5 465.9h0M1071.1 464.0h0M1071.3 460.6h0M1071.5 457.3h0M1071.8 453.9h0M1072.0 450.5h0M1072.2 447.2h0M1072.4 443.8h0M1072.6 440.4h0M1072.9 437.1h0M1073.1 433.7h0M1073.3 430.3h0M1073.5 427.0h0M1073.7 423.6h0M1074.0 420.2h0M1074.2 416.9h0M1074.4 413.6h0M1074.7 410.2h0M1074.9 406.9h0M1075.2 403.6h0M1075.4 400.3h0M1075.6 396.9h0M1075.9 393.6h0M1076.2 390.4h0M1076.6 387.1h0M1077.0 383.9h0M1077.4 380.7h0M1077.8 377.4h0M1080.6 377.4h0M1081.0 380.8h0M1081.4 384.2h0M1081.8 387.6h0M1082.3 391.0h0M1082.7 394.4h0M1083.1 397.8h0M1083.5 401.2h0M1083.8 404.6h0M1084.1 408.0h0M1084.4 411.4h0M1084.7 414.7h0M1085.1 418.1h0M1085.4 421.5h0M1085.7 424.9h0M1086.0 428.3h0M1086.3 431.6h0M1086.6 434.8h0M1086.8 438.0h0M1087.1 441.2h0M1087.4 444.4h0M1087.6 447.6h0M1087.9 450.8h0M1088.1 454.0h0M1088.4 457.2h0M1088.7 460.4h0M1088.9 463.6h0M1089.2 466.8h0M1089.4 469.7h0M1089.7 472.5h0M1090.0 475.4h0M1090.2 478.3h0M1090.5 481.1h0M1090.9 477.8h0M1091.4 474.4h0M1091.8 471.1h0M1092.2 467.8h0M1092.7 464.5h0M1093.1 461.1h0M1093.5 457.8h0M1093.9 454.5h0M1094.5 451.3h0M1095.0 448.1h0M1095.5 445.0h0M1096.1 441.8h0M1096.6 438.6h0M1097.1 435.4h0M1097.6 432.3h0M1098.2 429.1h0M1098.7 425.9h0M1099.1 422.7h0M1099.5 419.5h0M1099.8 416.2h0M1100.2 413.0h0M1100.6 409.8h0M1101.0 406.5h0M1101.4 403.3h0M1101.7 400.1h0M1102.1 396.8h0M1102.5 393.6h0M1103.1 390.7h0M1103.8 387.9h0M1104.4 385.0h0M1105.4 387.7h0M1106.3 390.3h0M1107.3 392.9h0M1108.2 395.5h0M1110.6 396.5h0M1113.0 397.4h0M1114.3 394.2h0M1115.6 390.9h0M1117.0 387.7h0M1118.3 384.5h0M1119.6 381.2h0M1120.2 384.2h0M1120.7 387.2h0M1121.3 390.2h0M1121.8 393.2h0M1122.3 396.2h0M1122.9 399.2h0M1123.4 402.2h0M1125.6 404.7h0M1127.9 407.2h0M1130.1 409.8h0M1130.9 413.1h0M1131.7 416.4h0M1132.5 419.8h0M1133.3 423.1h0M1134.0 426.4h0M1134.8 429.7h0M1137.7 429.3h0M1140.5 428.8h0M1142.0 426.2h0M1143.4 423.6h0M1144.8 420.9h0M1146.3 418.3h0M1146.7 415.0h0M1147.2 411.7h0M1147.7 408.3h0M1148.2 405.0h0M1148.6 401.7h0M1149.1 398.4h0M1149.6 395.0h0M1150.1 391.7h0M1150.5 388.3h0M1150.9 384.9h0M1151.3 381.5h0M1151.7 378.1h0M1152.1 374.7h0M1152.5 371.3h0M1152.9 367.9h0M1154.3 369.3h0M1155.8 370.8h0M1156.3 373.6h0M1156.9 376.5h0M1157.5 379.3h0M1158.0 382.2h0M1158.5 385.4h0M1159.0 388.5h0M1159.5 391.7h0M1160.0 394.9h0M1160.4 398.0h0M1160.9 401.2h0M1161.5 404.3h0M1162.1 407.3h0M1162.6 410.3h0M1163.2 413.4h0M1163.8 416.4h0M1164.5 413.6h0M1165.2 410.7h0M1165.9 407.9h0M1166.6 405.0h0M1167.1 408.2h0M1167.5 411.4h0M1167.9 414.5h0M1168.3 417.7h0M1168.7 420.9h0M1169.2 424.0h0M1169.6 427.2h0M1170.0 430.4h0M1170.4 433.5h0M1171.1 436.6h0M1171.7 439.6h0M1172.3 442.6h0M1173.0 445.6h0M1173.6 448.6h0M1174.2 451.6h0M1177.1 401.2h0M1177.4 398.0h0M1177.6 394.8h0M1177.9 391.6h0M1178.1 388.4h0M1178.4 385.2h0M1178.7 382.0h0M1178.9 378.8h0M1179.2 375.6h0M1179.4 372.4h0M1179.7 369.2h0M1179.9 366.0h0M1182.8 365.1h0M1183.1 368.2h0M1183.4 371.4h0M1183.8 374.6h0M1184.1 377.7h0M1184.4 380.9h0M1184.7 384.1h0M1185.0 387.3h0M1185.3 390.4h0M1185.7 393.6h0M1185.9 396.8h0M1186.2 400.0h0M1186.4 403.2h0M1186.7 406.4h0M1187.0 409.6h0M1187.2 412.8h0M1187.5 416.0h0M1187.7 419.2h0M1188.0 422.4h0M1188.2 425.6h0M1188.5 428.8h0M1189.3 425.8h0M1190.1 422.8h0M1190.9 419.8h0M1191.7 416.7h0M1192.5 413.7h0M1193.3 410.7h0M1193.8 407.5h0M1194.4 404.2h0M1194.9 400.9h0M1195.4 397.7h0M1196.0 394.4h0M1196.5 391.2h0M1197.1 387.9h0M1197.4 384.6h0M1197.8 381.3h0M1198.1 378.0h0M1198.5 374.7h0M1198.8 371.5h0M1199.1 368.2h0M1199.5 364.9h0M1199.8 361.6h0M1200.2 358.3h0M1200.5 355.0h0M1200.9 351.7h0M1201.8 354.3h0M1202.8 356.8h0M1203.7 359.4h0M1203.9 362.8h0M1204.1 366.2h0M1204.3 369.6h0M1204.5 373.1h0M1204.7 376.5h0M1204.9 379.9h0M1205.1 383.3h0M1205.2 386.8h0M1205.4 390.2h0M1205.6 393.6h0M1207.5 450.7h0M1207.9 453.7h0M1208.3 456.8h0M1208.7 459.8h0M1209.1 462.8h0M1209.4 465.9h0M1210.1 462.6h0M1210.7 459.2h0M1211.3 455.9h0M1211.9 452.6h0M1212.3 455.7h0M1212.7 458.8h0M1213.1 461.8h0M1213.5 464.9h0M1213.9 468.0h0M1214.3 471.1h0M1214.7 474.2h0M1215.1 477.3h0M1217.0 480.2h0M1218.9 483.0h0M1220.1 480.2h0M1221.3 477.3h0M1222.5 474.4h0M1223.7 471.6h0M1224.3 468.6h0M1224.8 465.5h0M1225.4 462.5h0M1226.0 459.4h0M1226.6 456.4h0M1226.7 453.0h0M1226.8 449.7h0M1226.9 446.4h0M1227.0 443.1h0M1227.1 439.7h0M1227.2 436.4h0M1227.3 433.1h0M1227.4 429.7h0M1227.6 426.4h0M1227.7 423.1h0M1227.8 419.8h0M1227.9 416.4h0M1229.2 418.8h0M1230.6 421.2h0M1231.9 423.6h0M1233.2 425.9h0M1236.1 424.0h0M1238.9 422.1h0M1239.5 419.1h0M1240.0 416.2h0M1240.6 413.2h0M1241.1 410.2h0M1241.6 407.2h0M1242.2 404.2h0M1242.7 401.2h0M1243.3 398.2h0M1243.8 395.2h0M1244.4 392.2h0M1244.9 389.3h0M1245.4 386.3h0M1246.0 383.3h0M1246.5 380.3h0M1248.0 378.9h0M1249.4 377.4h0M1249.8 380.8h0M1250.2 384.2h0M1250.6 387.6h0M1251.0 391.0h0M1251.4 394.4h0M1251.8 397.8h0M1252.2 401.2h0M1252.5 404.7h0M1252.8 408.1h0M1253.0 411.6h0M1253.3 415.0h0M1253.5 418.5h0M1253.8 422.0h0M1254.1 425.4h0M1254.3 428.9h0M1254.6 432.3h0M1254.8 435.8h0M1255.1 439.3h0M1256.5 437.4h0M1257.9 435.4h0M1258.3 438.8h0M1258.7 442.1h0M1259.0 445.4h0M1259.4 448.8h0M1259.7 452.1h0M1260.1 455.4h0M1260.4 458.8h0M1260.8 462.1h0M1262.2 464.9h0M1263.7 467.8h0M1265.1 470.6h0M1266.5 473.5h0M1267.7 476.6h0M1268.9 479.7h0M1270.1 482.8h0M1271.3 485.9h0M1271.7 482.8h0M1272.2 479.8h0M1272.7 476.8h0M1273.2 473.8h0M1273.6 470.8h0M1274.1 467.8h0M1274.6 464.5h0M1275.1 461.1h0M1275.5 457.8h0M1276.0 454.5h0M1276.5 451.1h0M1277.0 447.8h0M1277.4 444.5h0M1277.9 441.2h0M1278.2 437.8h0M1278.4 434.5h0M1278.6 431.2h0M1278.9 427.8h0M1279.1 424.5h0M1279.3 421.2h0M1279.6 417.9h0M1279.8 414.5h0M1280.1 411.2h0M1280.3 407.9h0M1280.5 404.5h0M1280.8 401.2h0M1281.2 398.0h0M1281.7 394.9h0M1282.2 391.7h0M1282.7 388.5h0M1283.1 385.4h0M1283.6 382.2h0M1284.1 385.5h0M1284.6 388.8h0M1285.1 392.2h0M1285.5 395.5h0M1286.0 398.8h0M1286.5 402.2h0M1287.0 405.5h0M1287.4 408.8h0M1288.0 405.6h0M1288.5 402.5h0M1289.0 399.3h0M1289.5 396.1h0M1290.1 393.0h0M1290.6 389.8h0M1291.1 386.6h0M1291.7 383.5h0M1292.2 380.3h0M1293.6 383.1h0M1295.0 386.0h0M1296.5 388.8h0M1297.9 391.7h0M1299.5 393.9h0M1301.1 396.1h0M1302.6 398.4h0M1303.8 395.3h0M1304.9 392.3h0M1306.0 389.3h0M1307.1 386.3h0M1308.2 383.3h0M1309.3 380.3h0M1310.0 376.9h0M1310.7 373.5h0M1311.3 370.1h0M1312.0 366.7h0M1312.7 363.3h0M1313.4 359.9h0M1314.1 356.5h0M1315.0 358.7h0M1316.0 360.9h0M1316.9 363.2h0M1317.2 366.6h0M1317.4 370.1h0M1317.7 373.5h0M1318.0 377.0h0M1318.2 380.5h0M1318.5 383.9h0M1318.7 387.4h0M1319.0 390.8h0M1319.2 394.3h0M1319.5 397.7h0M1319.8 401.2h0M1320.1 404.6h0M1320.4 408.0h0M1320.7 411.4h0M1321.0 414.7h0M1321.4 418.1h0M1321.7 421.5h0M1322.0 424.9h0M1322.3 428.3h0M1322.6 431.6h0M1322.9 428.5h0M1323.3 425.3h0M1323.6 422.1h0M1323.9 419.0h0M1324.2 415.8h0M1324.5 412.6h0M1325.2 409.5h0M1326.0 406.4h0M1326.7 403.3h0M1327.4 400.3h0M1330.2 448.8h0M1330.6 451.9h0M1331.0 455.0h0M1331.5 458.1h0M1331.9 461.3h0M1332.3 464.4h0M1332.7 467.5h0M1333.1 470.6h0M1335.5 469.2h0M1337.8 467.8h0M1339.7 467.8h0M1341.6 467.8h0M1342.3 470.6h0M1342.9 473.5h0M1343.5 476.3h0M1344.2 479.2h0M1344.8 482.1h0M1345.4 484.9h0M1348.3 484.9h0M1348.5 481.4h0M1348.6 477.9h0M1348.8 474.4h0M1348.9 471.0h0M1349.1 467.5h0M1349.3 464.0h0M1349.4 460.5h0M1349.6 457.0h0M1349.7 453.5h0M1349.9 450.0h0M1350.0 446.5h0M1350.2 443.1h0M1350.7 439.8h0M1351.3 436.5h0M1351.8 433.3h0M1352.4 430.0h0M1352.9 426.8h0M1353.5 423.5h0M1354.0 420.2h0M1355.0 417.1h0M1355.9 414.0h0M1356.9 411.0h0M1357.8 407.9h0M1358.8 411.0h0M1359.7 414.0h0M1360.7 417.1h0M1361.6 420.2h0M1363.5 422.1h0M1365.4 424.0h0M1367.0 422.1h0M1368.6 420.2h0M1370.2 418.3h0M1370.6 414.9h0M1370.9 411.6h0M1371.3 408.2h0M1371.7 404.8h0M1372.1 401.4h0M1372.5 398.0h0M1372.8 394.7h0M1373.2 391.3h0M1373.6 387.9h0M1375.9 435.4h0M1377.8 438.3h0M1379.7 441.2h0M1380.0 444.4h0M1380.2 447.7h0M1380.5 451.0h0M1380.7 454.3h0M1381.0 457.6h0M1381.2 460.9h0M1381.5 464.2h0M1381.8 467.4h0M1382.0 470.7h0M1382.3 474.0h0M1382.5 477.3h0M1384.9 477.8h0M1387.3 478.3h0M1387.8 481.3h0M1388.4 484.3h0M1388.9 487.3h0M1389.5 490.3h0M1390.0 493.3h0M1390.5 496.3h0M1390.8 493.2h0M1391.2 490.1h0M1391.5 487.1h0M1391.8 484.0h0M1392.1 480.9h0M1392.4 477.8h0M1392.7 474.7h0M1393.0 471.6h0M1395.9 420.2h0M1396.1 417.0h0M1396.4 413.7h0M1396.7 410.4h0M1396.9 407.2h0M1397.2 403.9h0M1397.5 400.7h0M1397.8 397.4h0M1398.9 394.6h0M1400.0 391.7h0M1400.8 394.9h0M1401.6 398.0h0M1402.4 401.2h0M1404.3 446.9h0M1405.0 444.0h0M1405.7 441.2h0M1406.4 438.3h0M1407.1 435.4h0M1407.8 438.8h0M1408.5 442.1h0M1409.3 445.4h0M1410.0 448.8h0M1410.9 445.4h0M1411.9 442.1h0M1412.8 438.8h0M1413.8 435.4h0M1414.2 438.7h0M1414.6 442.0h0M1415.0 445.2h0M1415.4 448.5h0M1415.8 451.8h0M1416.2 455.0h0M1416.6 458.3h0M1417.6 454.9h0M1418.5 451.6h0M1419.5 448.3h0M1420.4 445.0h0M1421.4 447.8h0M1422.3 450.7h0M1423.3 453.5h0M1424.2 456.4h0M1426.1 459.2h0M1428.0 462.1h0M1428.5 465.3h0M1429.0 468.4h0M1429.5 471.6h0M1429.9 474.8h0M1430.4 477.9h0M1430.9 481.1h0M1431.3 477.7h0M1431.7 474.3h0M1432.0 470.8h0M1432.4 467.4h0M1432.8 464.0h0M1433.2 460.6h0M1433.6 457.1h0M1433.9 453.7h0M1434.3 450.3h0M1434.7 446.9h0M1435.2 449.9h0M1435.8 452.8h0M1436.3 455.8h0M1436.9 458.8h0M1437.4 461.8h0M1438.0 464.8h0M1438.5 467.8h0M1439.2 464.5h0M1439.9 461.1h0M1440.6 457.8h0M1441.4 454.5h0M1441.7 451.4h0M1442.1 448.3h0M1442.4 445.2h0M1442.8 442.1h0M1443.1 439.0h0M1443.5 435.9h0M1443.9 432.8h0M1444.2 429.7h0M1445.4 432.6h0M1446.6 435.4h0M1447.8 438.3h0M1449.0 441.2h0M1449.4 437.7h0M1449.7 434.3h0M1450.1 430.9h0M1450.5 427.5h0M1450.9 424.0h0M1451.3 420.6h0M1451.6 417.2h0M1452.0 413.8h0M1452.4 410.3h0M1452.8 406.9h0M1455.2 406.9h0M1457.5 406.9h0M1457.8 410.2h0M1458.1 413.4h0M1458.3 416.7h0M1458.6 420.0h0M1458.9 423.2h0M1459.2 426.5h0M1459.4 429.7h0M1459.7 432.9h0M1460.0 436.0h0M1460.2 439.1h0M1460.5 442.2h0M1460.8 445.4h0M1461.1 448.5h0M1461.3 451.6h0M1462.1 448.5h0M1462.8 445.4h0M1463.5 442.3h0M1464.2 439.3h0M1465.0 442.1h0M1465.8 445.0h0M1466.6 447.8h0M1467.4 450.7h0M1468.2 453.5h0M1468.9 456.4h0M1470.1 454.0h0M1471.3 451.6h0M1472.5 449.2h0M1473.7 446.9h0M1474.8 444.0h0M1476.0 441.2h0M1477.1 438.3h0M1478.3 435.4h0M1479.4 432.6h0M1481.3 430.2h0M1483.2 427.8h0M1483.4 424.4h0M1483.5 420.9h0M1483.7 417.4h0M1483.8 413.9h0M1484.0 410.4h0M1484.2 406.9h0M1484.3 403.4h0M1484.5 399.9h0M1484.6 396.5h0M1484.8 393.0h0M1485.0 389.5h0M1485.1 386.0h0M1485.6 382.9h0M1486.1 379.8h0M1486.5 376.7h0M1487.0 373.6h0M1487.5 370.5h0M1488.0 367.4h0M1488.4 364.4h0M1488.9 361.3h0M1489.5 358.2h0M1490.2 355.1h0M1490.8 352.0h0M1491.4 348.9h0M1492.2 351.5h0M1493.0 354.1h0M1493.8 356.7h0M1494.6 359.4h0M1495.2 362.5h0M1495.7 365.7h0M1496.2 368.9h0M1496.7 372.0h0M1497.3 375.2h0M1497.8 378.4h0M1498.3 381.6h0M1498.9 384.7h0M1499.4 387.9h0M1500.2 390.7h0M1501.0 393.6h0M1501.8 396.5h0M1502.6 399.3h0M1503.3 402.2h0M1504.1 405.0h0M1505.3 407.7h0M1506.4 410.3h0M1507.6 413.0h0M1508.7 415.7h0M1509.8 418.3h0M1511.0 421.0h0M1512.1 423.7h0M1513.3 426.3h0M1514.4 429.0h0M1515.6 431.6h0M1516.7 434.3h0M1517.8 437.0h0M1519.0 439.6h0M1520.1 442.3h0M1521.3 445.0h0M1521.8 441.5h0M1522.4 438.1h0M1523.0 434.7h0M1523.5 431.3h0M1524.1 427.8h0M1524.5 431.3h0M1524.9 434.7h0M1525.3 438.1h0M1525.6 441.5h0M1526.0 445.0h0M1526.6 448.2h0M1527.2 451.4h0M1527.7 454.7h0M1528.3 457.9h0M1528.9 461.1h0M1529.6 458.5h0M1530.3 455.9h0M1531.0 453.3h0M1531.7 450.7h0M1534.1 451.6h0M1536.5 452.6h0M1537.0 455.7h0M1537.4 458.9h0M1537.9 462.1h0M1538.4 465.3h0M1538.9 468.4h0M1539.3 471.6h0M1540.1 474.1h0M1540.9 476.7h0M1541.6 479.2h0M1541.9 476.1h0M1542.2 473.0h0M1542.5 469.9h0M1542.9 466.8h0M1543.2 463.7h0M1543.5 460.7h0M1543.8 457.6h0M1544.1 454.5h0M1544.6 451.4h0M1545.0 448.3h0M1545.5 445.2h0M1546.0 442.1h0M1546.5 439.0h0M1546.9 435.9h0M1547.4 432.8h0M1547.9 429.7h0M1548.4 426.8h0M1549.0 423.8h0M1549.5 420.8h0M1550.1 417.8h0M1550.6 414.8h0M1551.2 411.8h0M1551.7 408.8h0M1552.4 406.2h0M1553.1 403.6h0M1553.8 401.0h0M1554.6 398.4h0M1555.0 401.5h0M1555.4 404.6h0M1555.8 407.7h0M1556.2 410.9h0M1556.6 414.0h0M1557.0 417.1h0M1557.4 420.2h0M1557.9 423.2h0M1558.5 426.2h0M1559.0 429.2h0M1559.6 432.2h0M1560.1 435.2h0M1560.7 438.2h0M1561.2 441.2h0M1561.6 444.4h0M1562.1 447.7h0M1562.5 451.0h0M1562.9 454.3h0M1563.3 457.5h0M1563.7 460.8h0M1564.2 464.1h0M1564.6 467.4h0M1565.0 470.6h0M1565.7 467.2h0M1566.4 463.8h0M1567.1 460.5h0M1567.7 457.1h0M1568.4 453.7h0M1569.1 450.3h0M1569.8 446.9h0M1570.4 443.9h0M1571.1 440.9h0M1571.8 437.9h0M1572.5 434.9h0M1573.2 431.9h0M1573.8 428.9h0M1574.5 425.9h0M1575.5 423.1h0M1576.4 420.2h0M1577.4 417.4h0M1578.3 414.5h0M1578.6 411.2h0M1578.8 408.0h0M1579.1 404.7h0M1579.4 401.4h0M1579.6 398.1h0M1579.9 394.8h0M1580.1 391.5h0M1580.4 388.2h0M1580.7 385.0h0M1580.9 381.7h0M1581.2 378.4h0M1582.6 381.2h0M1584.0 384.1h0M1584.7 387.3h0M1585.4 390.6h0M1586.1 393.9h0M1586.8 397.1h0M1587.4 400.4h0M1588.1 403.7h0M1588.8 406.9h0M1591.6 406.0h0M1594.5 405.0h0M1596.9 404.1h0M1599.3 403.1h0M1601.2 404.7h0M1603.1 406.3h0M1605.0 407.9h0M1605.9 404.8h0M1606.9 401.7h0M1607.8 398.6h0M1608.8 395.5h0M1610.7 394.1h0M1612.6 392.6h0M1613.2 396.0h0M1613.8 399.3h0M1614.5 402.6h0M1615.1 406.0h0M1615.7 409.3h0M1616.4 412.6h0M1616.8 415.8h0M1617.2 419.0h0M1617.6 422.1h0M1618.1 425.3h0M1618.5 428.5h0M1618.9 431.6h0M1619.3 434.8h0M1619.8 438.0h0M1620.2 441.2h0M1620.7 444.3h0M1621.2 447.4h0M1621.6 450.5h0M1622.1 453.7h0M1622.6 456.8h0M1623.1 459.9h0M1623.6 463.0h0M1624.2 459.6h0M1624.8 456.2h0M1625.4 452.8h0M1626.0 449.4h0M1626.6 446.0h0M1627.2 442.7h0M1627.8 439.3h0M1631.0 378.4h0M1631.2 381.8h0M1631.4 385.2h0M1631.6 388.6h0M1631.8 392.0h0M1632.1 395.4h0M1632.3 398.8h0M1632.5 402.2h0M1632.7 405.6h0M1632.9 409.1h0M1633.1 412.5h0M1633.3 415.9h0M1633.5 419.3h0M1633.9 416.2h0M1634.3 413.0h0M1634.7 409.9h0M1635.1 406.8h0M1635.5 403.7h0M1635.9 400.5h0M1636.3 397.4h0M1638.3 344.1h0M1638.8 347.1h0M1639.3 350.1h0M1639.9 353.1h0M1640.4 356.1h0M1641.0 359.1h0M1641.5 362.1h0M1642.1 365.1h0M1642.6 368.5h0M1643.2 371.9h0M1643.8 375.3h0M1644.3 378.8h0M1644.9 382.2h0M1645.1 385.3h0M1645.4 388.4h0M1645.6 391.5h0M1645.9 394.6h0M1646.1 397.6h0M1646.3 400.7h0M1646.6 403.8h0M1646.8 406.9h0M1647.1 403.5h0M1647.3 400.0h0M1647.6 396.5h0M1647.8 393.1h0M1648.1 389.6h0M1648.4 386.2h0M1648.6 382.7h0M1648.9 379.2h0M1649.1 375.8h0M1649.4 372.3h0M1649.7 368.9h0M1649.9 365.4h0M1650.2 361.9h0M1650.4 358.4h0M1650.7 354.9h0M1650.9 351.4h0M1651.2 347.9h0M1651.4 344.5h0M1651.7 341.0h0M1651.9 337.5h0" stroke="#000" stroke-width="4.3" stroke-linecap="round" fill="none"/></g>
<path class="ax" d="M977.9 526.3v-7.5M977.9 130.0v7.5M1108.3 526.3v-7.5M1108.3 130.0v7.5M1238.7 526.3v-7.5M1238.7 130.0v7.5M1369.2 526.3v-7.5M1369.2 130.0v7.5M1499.6 526.3v-7.5M1499.6 130.0v7.5M1630.0 526.3v-7.5M1630.0 130.0v7.5M898.0 490.3h7.5M1666.0 490.3h-7.5M898.0 418.2h7.5M1666.0 418.2h-7.5M898.0 346.2h7.5M1666.0 346.2h-7.5M898.0 274.1h7.5M1666.0 274.1h-7.5M898.0 202.1h7.5M1666.0 202.1h-7.5" stroke-width="1.3"/>
<rect class="ax" x="898.0" y="130.0" width="768.0" height="396.29999999999995"/>
</g>
<g>
<rect x="126.5" y="582.3" width="768.2" height="396.5" fill="#fff"/>
<path class="g" d="M161.0 582.3V978.8M230.8 582.3V978.8M300.7 582.3V978.8M370.5 582.3V978.8M440.3 582.3V978.8M510.1 582.3V978.8M580.0 582.3V978.8M649.8 582.3V978.8M719.6 582.3V978.8M789.5 582.3V978.8M859.3 582.3V978.8M126.5 942.8H894.7M126.5 870.7H894.7M126.5 798.6H894.7M126.5 726.5H894.7M126.5 654.4H894.7"/>
<clipPath id="c10"><rect x="126.5" y="582.3" width="768.2" height="396.5"/></clipPath>
<g clip-path="url(#c10)"><polyline class="gy" style="stroke-width:5.4" points="171.6,713.8 175.8,728.6 180.7,749.8"/><path d="M171.6 713.8h0M172.7 717.5h0M173.7 721.2h0M174.8 724.9h0M175.8 728.6h0M176.8 732.9h0M177.8 737.1h0M178.8 741.3h0M179.7 745.6h0M180.7 749.8h0" stroke="#a6a6a6" stroke-width="6.8" stroke-linecap="round" fill="none"/><circle cx="264.5" cy="804.3" r="3.4" fill="#a6a6a6"/><polyline class="gy" style="stroke-width:5.4" points="272.3,786.9 277.6,776.3 281.5,768.9 286.1,786.9 291.4,801.8 297.4,814.5 301.0,807.1 304.6,808.1 308.0,816.6 311.6,815.6 314.8,823.0 319.0,830.4 322.8,841.0 326.4,859.0 329.6,871.8 332.8,883.4 339.1,882.8 344.4,888.7 350.8,893.0 359.3,891.9"/><path d="M272.3 786.9h0M274.1 783.4h0M275.9 779.9h0M277.6 776.3h0M279.5 772.6h0M281.5 768.9h0M282.6 773.4h0M283.8 777.9h0M285.0 782.4h0M286.1 786.9h0M287.4 790.7h0M288.8 794.4h0M290.1 798.1h0M291.4 801.8h0M293.4 806.0h0M295.4 810.3h0M297.4 814.5h0M299.2 810.8h0M301.0 807.1h0M304.6 808.1h0M306.3 812.4h0M308.0 816.6h0M311.6 815.6h0M313.2 819.3h0M314.8 823.0h0M316.9 826.7h0M319.0 830.4h0M320.3 834.0h0M321.5 837.5h0M322.8 841.0h0M323.7 845.5h0M324.6 850.0h0M325.5 854.5h0M326.4 859.0h0M327.5 863.3h0M328.5 867.5h0M329.6 871.8h0M330.7 875.7h0M331.7 879.6h0M332.8 883.4h0M336.0 883.1h0M339.1 882.8h0M341.8 885.8h0M344.4 888.7h0M347.6 890.9h0M350.8 893.0h0M355.0 892.5h0M359.3 891.9h0" stroke="#a6a6a6" stroke-width="6.8" stroke-linecap="round" fill="none"/><polyline class="gy" style="stroke-width:5.4" points="367.8,891.9 372.0,890.9 376.3,895.1 380.1,899.3"/><path d="M367.8 891.9h0M372.0 890.9h0M374.1 893.0h0M376.3 895.1h0M378.2 897.2h0M380.1 899.3h0" stroke="#a6a6a6" stroke-width="6.8" stroke-linecap="round" fill="none"/><polyline class="gy" style="stroke-width:5.4" points="385.8,890.4 392.2,890.4 395.3,884.5 400.6,859.0 408.1,830.4 417.6,814.1 424.4,815.6 431.8,818.8 439.2,824.1 443.5,818.8 452.0,821.9 460.4,819.8 466.8,819.8"/><path d="M385.8 890.4h0M389.0 890.4h0M392.2 890.4h0M393.8 887.5h0M395.3 884.5h0M396.2 880.3h0M397.1 876.0h0M398.0 871.8h0M398.9 867.5h0M399.8 863.3h0M400.6 859.0h0M401.9 854.3h0M403.1 849.5h0M404.4 844.7h0M405.6 840.0h0M406.8 835.2h0M408.1 830.4h0M410.5 826.3h0M412.8 822.3h0M415.2 818.2h0M417.6 814.1h0M421.0 814.8h0M424.4 815.6h0M428.1 817.2h0M431.8 818.8h0M435.5 821.4h0M439.2 824.1h0M441.4 821.4h0M443.5 818.8h0M447.7 820.3h0M452.0 821.9h0M456.2 820.9h0M460.4 819.8h0M463.6 819.8h0M466.8 819.8h0" stroke="#a6a6a6" stroke-width="6.8" stroke-linecap="round" fill="none"/><polyline class="gy" style="stroke-width:5.4" points="472.7,796.5 474.9,806.0 478.5,821.9 483.8,835.7 487.4,834.7 491.6,829.4 495.0,832.5 498.6,828.3 506.0,829.4 510.3,833.6 515.6,834.7 518.8,848.4 524.1,865.4 527.2,882.4 532.6,899.3 536.8,908.9"/><path d="M472.7 796.5h0M473.8 801.3h0M474.9 806.0h0M475.8 810.0h0M476.7 814.0h0M477.6 818.0h0M478.5 821.9h0M480.2 826.5h0M482.0 831.1h0M483.8 835.7h0M487.4 834.7h0M489.5 832.0h0M491.6 829.4h0M495.0 832.5h0M496.8 830.4h0M498.6 828.3h0M502.3 828.8h0M506.0 829.4h0M508.2 831.5h0M510.3 833.6h0M512.9 834.1h0M515.6 834.7h0M516.6 839.3h0M517.7 843.8h0M518.8 848.4h0M520.1 852.7h0M521.4 856.9h0M522.7 861.2h0M524.1 865.4h0M524.9 869.7h0M525.7 873.9h0M526.5 878.1h0M527.2 882.4h0M528.6 886.6h0M529.9 890.9h0M531.2 895.1h0M532.6 899.3h0M534.0 902.5h0M535.4 905.7h0M536.8 908.9h0" stroke="#a6a6a6" stroke-width="6.8" stroke-linecap="round" fill="none"/><polyline class="gy" style="stroke-width:5.4" points="543.2,900.4 548.5,907.8 552.7,897.2 556.9,882.4 563.3,882.4 569.7,884.5 572.8,881.3 580.3,882.4"/><path d="M543.2 900.4h0M545.8 904.1h0M548.5 907.8h0M549.9 904.3h0M551.3 900.8h0M552.7 897.2h0M553.8 893.5h0M554.8 889.8h0M555.9 886.1h0M556.9 882.4h0M560.1 882.4h0M563.3 882.4h0M566.5 883.4h0M569.7 884.5h0M572.8 881.3h0M576.6 881.8h0M580.3 882.4h0" stroke="#a6a6a6" stroke-width="6.8" stroke-linecap="round" fill="none"/><polyline class="gy" style="stroke-width:5.4" points="587.7,887.7 591.9,896.2 595.1,886.6 602.5,877.1 607.8,861.2 616.3,850.6 622.7,837.8 630.1,841.0 637.5,833.6 641.8,834.7"/><path d="M587.7 887.7h0M589.8 891.9h0M591.9 896.2h0M593.0 893.0h0M594.1 889.8h0M595.1 886.6h0M597.6 883.4h0M600.1 880.3h0M602.5 877.1h0M603.9 873.1h0M605.2 869.1h0M606.5 865.1h0M607.8 861.2h0M610.7 857.6h0M613.5 854.1h0M616.3 850.6h0M618.4 846.3h0M620.6 842.1h0M622.7 837.8h0M626.4 839.4h0M630.1 841.0h0M632.6 838.5h0M635.1 836.1h0M637.5 833.6h0M641.8 834.7h0" stroke="#a6a6a6" stroke-width="6.8" stroke-linecap="round" fill="none"/><polyline class="gy" style="stroke-width:5.4" points="647.4,840.0 650.6,859.0 654.8,893.0 661.2,922.7 667.6,947.1"/><path d="M647.4 840.0h0M648.2 844.7h0M649.0 849.5h0M649.8 854.3h0M650.6 859.0h0M654.8 893.0h0M661.2 922.7h0M662.3 926.7h0M663.3 930.8h0M664.4 934.9h0M665.4 938.9h0M666.5 943.0h0M667.6 947.1h0" stroke="#a6a6a6" stroke-width="6.8" stroke-linecap="round" fill="none"/><polyline class="gy" style="stroke-width:5.4" points="675.0,937.5 680.3,940.7 684.5,943.9 688.8,939.6 690.9,916.3 696.2,907.8 701.5,909.9 705.7,903.6 711.0,893.0 713.2,873.9 714.2,860.1"/><path d="M675.0 937.5h0M677.6 939.1h0M680.3 940.7h0M682.4 942.3h0M684.5 943.9h0M686.7 941.8h0M688.8 939.6h0M689.2 935.0h0M689.6 930.3h0M690.1 925.6h0M690.5 921.0h0M690.9 916.3h0M692.7 913.5h0M694.4 910.7h0M696.2 907.8h0M698.9 908.9h0M701.5 909.9h0M703.6 906.8h0M705.7 903.6h0M707.5 900.1h0M709.3 896.5h0M711.0 893.0h0M711.6 888.2h0M712.1 883.4h0M712.6 878.7h0M713.2 873.9h0M713.5 869.3h0M713.9 864.7h0M714.2 860.1h0" stroke="#a6a6a6" stroke-width="6.8" stroke-linecap="round" fill="none"/><polyline class="gy" style="stroke-width:5.4" points="744.6,896.8 748.2,899.3 753.5,896.8 756.6,887.7 761.9,884.5 767.2,876.0 771.5,875.0 776.8,878.1 780.0,882.4 785.3,881.3 788.5,863.3 792.7,844.2 798.0,831.5 811.4,827.7 818.1,838.9 826.6,848.4 835.1,859.0 840.4,861.2 843.6,858.0 848.9,849.5"/><path d="M744.6 896.8h0M748.2 899.3h0M750.8 898.1h0M753.5 896.8h0M755.1 892.2h0M756.6 887.7h0M759.3 886.1h0M761.9 884.5h0M763.7 881.7h0M765.5 878.8h0M767.2 876.0h0M771.5 875.0h0M774.1 876.5h0M776.8 878.1h0M778.4 880.3h0M780.0 882.4h0M782.6 881.8h0M785.3 881.3h0M786.1 876.8h0M786.9 872.3h0M787.7 867.8h0M788.5 863.3h0M789.5 858.5h0M790.6 853.7h0M791.6 849.0h0M792.7 844.2h0M794.5 840.0h0M796.2 835.7h0M798.0 831.5h0M802.5 830.2h0M806.9 828.9h0M811.4 827.7h0M813.6 831.4h0M815.9 835.2h0M818.1 838.9h0M821.0 842.1h0M823.8 845.3h0M826.6 848.4h0M829.5 852.0h0M832.3 855.5h0M835.1 859.0h0M837.8 860.1h0M840.4 861.2h0M843.6 858.0h0M845.4 855.2h0M847.1 852.3h0M848.9 849.5h0" stroke="#a6a6a6" stroke-width="6.8" stroke-linecap="round" fill="none"/><polyline class="k" style="stroke-width:2.9" points="172.0,645.9 176.3,682.0 181.8,715.9 187.5,748.8 193.9,779.9 205.5,843.8 211.9,852.7 218.7,865.4 223.6,861.6 228.9,803.9 233.5,810.3 237.3,817.7 243.3,823.0 245.4,837.8 251.8,834.7 263.9,792.2 273.0,811.8 280.4,828.3 288.2,835.3 297.4,854.2 300.3,852.7 303.1,858.0 305.8,863.3 308.0,875.0 311.6,875.6 317.9,865.0 321.5,864.4 325.8,870.7 330.7,884.5 334.9,893.6 338.7,894.7 342.3,889.8 346.6,886.6 351.2,887.7 357.2,891.9 361.4,895.7 364.2,884.5 367.8,882.0 371.6,882.4 376.3,883.9 380.5,887.0 384.3,899.3 387.9,899.3 392.8,896.2 397.5,898.7 401.7,902.5 410.2,915.9 419.1,902.5 423.3,884.5 438.2,852.3 443.5,848.4 447.7,845.3 450.9,837.8 455.1,825.1 457.3,811.3 460.0,803.5 463.2,799.7 467.4,803.9 473.2,821.9 477.4,846.7 483.8,877.1 487.0,890.9 491.6,901.0 498.0,889.2 501.4,886.2 506.0,887.7 510.3,896.2 514.9,905.3 523.0,903.2 527.2,896.2 531.9,893.0 536.4,895.1 541.0,903.6 546.3,913.1 552.7,919.5 559.1,925.9 564.4,929.0 568.6,928.6 572.2,922.7 575.6,909.9 578.1,897.2 580.3,887.7 583.0,888.7 585.6,904.6 588.8,917.4 591.9,923.7 597.2,921.6 603.2,917.4 608.9,900.4 613.8,886.6 618.4,875.6 623.7,867.1 631.2,858.0 637.5,849.5 643.9,840.0 651.3,821.9 655.6,818.8 660.9,824.1 665.5,829.4 668.6,842.1 675.0,884.5 678.2,903.6 681.4,916.3 685.6,926.9 688.8,933.3 693.0,934.3 697.3,930.1 701.9,921.6 704.7,912.1 707.4,895.1 711.0,881.3 714.2,865.4 725.9,827.7 735.4,828.7 744.6,829.4 748.2,833.6 752.4,850.6 756.6,866.5 764.1,896.2 767.2,916.3 770.9,929.0 775.7,918.4 778.9,906.8 784.2,904.6 789.5,885.6 793.1,863.3 798.0,851.6 811.4,836.1 820.7,850.6 831.9,850.6 835.8,848.4 839.4,854.4 843.6,857.4 848.9,850.6"/><path d="M172.0 645.9h0M176.3 682.0h0M181.8 715.9h0M187.5 748.8h0M193.9 779.9h0M205.5 843.8h0M208.7 848.2h0M211.9 852.7h0M214.2 856.9h0M216.4 861.2h0M218.7 865.4h0M221.1 863.5h0M223.6 861.6h0M228.9 803.9h0M231.2 807.1h0M233.5 810.3h0M235.4 814.0h0M237.3 817.7h0M240.3 820.3h0M243.3 823.0h0M244.0 827.9h0M244.7 832.9h0M245.4 837.8h0M248.6 836.2h0M251.8 834.7h0M263.9 792.2h0M266.1 797.1h0M268.4 802.0h0M270.7 806.9h0M273.0 811.8h0M274.8 815.9h0M276.7 820.0h0M278.5 824.2h0M280.4 828.3h0M284.3 831.8h0M288.2 835.3h0M290.5 840.0h0M292.8 844.7h0M295.1 849.5h0M297.4 854.2h0M300.3 852.7h0M303.1 858.0h0M305.8 863.3h0M306.9 869.1h0M308.0 875.0h0M311.6 875.6h0M313.7 872.1h0M315.8 868.5h0M317.9 865.0h0M321.5 864.4h0M323.7 867.5h0M325.8 870.7h0M327.4 875.3h0M329.0 879.9h0M330.7 884.5h0M332.8 889.1h0M334.9 893.6h0M338.7 894.7h0M340.5 892.2h0M342.3 889.8h0M346.6 886.6h0M351.2 887.7h0M354.2 889.8h0M357.2 891.9h0M361.4 895.7h0M362.8 890.1h0M364.2 884.5h0M367.8 882.0h0M371.6 882.4h0M376.3 883.9h0M380.5 887.0h0M381.8 891.1h0M383.0 895.2h0M384.3 899.3h0M387.9 899.3h0M392.8 896.2h0M397.5 898.7h0M401.7 902.5h0M404.5 907.0h0M407.4 911.4h0M410.2 915.9h0M413.2 911.4h0M416.1 907.0h0M419.1 902.5h0M420.1 898.0h0M421.2 893.5h0M422.3 889.0h0M423.3 884.5h0M438.2 852.3h0M440.8 850.4h0M443.5 848.4h0M447.7 845.3h0M449.3 841.6h0M450.9 837.8h0M452.3 833.6h0M453.7 829.4h0M455.1 825.1h0M455.8 820.5h0M456.6 815.9h0M457.3 811.3h0M458.6 807.4h0M460.0 803.5h0M463.2 799.7h0M467.4 803.9h0M468.9 808.4h0M470.3 812.9h0M471.7 817.4h0M473.2 821.9h0M474.0 826.9h0M474.9 831.9h0M475.7 836.8h0M476.6 841.8h0M477.4 846.7h0M483.8 877.1h0M484.8 881.7h0M485.9 886.3h0M487.0 890.9h0M489.3 896.0h0M491.6 901.0h0M493.7 897.1h0M495.9 893.1h0M498.0 889.2h0M501.4 886.2h0M506.0 887.7h0M508.2 891.9h0M510.3 896.2h0M512.6 900.7h0M514.9 905.3h0M519.0 904.2h0M523.0 903.2h0M525.1 899.7h0M527.2 896.2h0M531.9 893.0h0M536.4 895.1h0M538.7 899.3h0M541.0 903.6h0M543.7 908.4h0M546.3 913.1h0M549.5 916.3h0M552.7 919.5h0M555.9 922.7h0M559.1 925.9h0M561.7 927.4h0M564.4 929.0h0M568.6 928.6h0M570.4 925.6h0M572.2 922.7h0M573.3 918.4h0M574.5 914.2h0M575.6 909.9h0M576.5 905.7h0M577.3 901.5h0M578.1 897.2h0M579.2 892.5h0M580.3 887.7h0M583.0 888.7h0M583.9 894.0h0M584.7 899.3h0M585.6 904.6h0M586.6 908.9h0M587.7 913.1h0M588.8 917.4h0M590.3 920.6h0M591.9 923.7h0M597.2 921.6h0M600.2 919.5h0M603.2 917.4h0M605.1 911.7h0M607.0 906.1h0M608.9 900.4h0M610.5 895.8h0M612.2 891.2h0M613.8 886.6h0M616.1 881.1h0M618.4 875.6h0M621.1 871.3h0M623.7 867.1h0M627.5 862.5h0M631.2 858.0h0M634.4 853.7h0M637.5 849.5h0M640.7 844.7h0M643.9 840.0h0M645.8 835.5h0M647.6 830.9h0M649.5 826.4h0M651.3 821.9h0M655.6 818.8h0M658.2 821.4h0M660.9 824.1h0M663.2 826.7h0M665.5 829.4h0M666.6 833.6h0M667.6 837.8h0M668.6 842.1h0M675.0 884.5h0M675.8 889.3h0M676.6 894.0h0M677.4 898.8h0M678.2 903.6h0M679.2 907.8h0M680.3 912.1h0M681.4 916.3h0M683.5 921.6h0M685.6 926.9h0M687.2 930.1h0M688.8 933.3h0M693.0 934.3h0M697.3 930.1h0M699.6 925.9h0M701.9 921.6h0M703.3 916.8h0M704.7 912.1h0M705.6 906.4h0M706.5 900.8h0M707.4 895.1h0M708.6 890.5h0M709.8 885.9h0M711.0 881.3h0M712.1 876.0h0M713.2 870.7h0M714.2 865.4h0M725.9 827.7h0M730.7 828.2h0M735.4 828.7h0M740.0 829.0h0M744.6 829.4h0M748.2 833.6h0M749.6 839.3h0M751.0 844.9h0M752.4 850.6h0M753.8 855.9h0M755.2 861.2h0M756.6 866.5h0M764.1 896.2h0M764.9 901.2h0M765.7 906.2h0M766.5 911.3h0M767.2 916.3h0M768.5 920.6h0M769.7 924.8h0M770.9 929.0h0M773.3 923.7h0M775.7 918.4h0M776.8 914.5h0M777.9 910.7h0M778.9 906.8h0M784.2 904.6h0M785.5 899.9h0M786.9 895.1h0M788.2 890.3h0M789.5 885.6h0M790.4 880.0h0M791.3 874.4h0M792.2 868.9h0M793.1 863.3h0M794.7 859.4h0M796.4 855.5h0M798.0 851.6h0M801.3 847.8h0M804.7 843.9h0M808.0 840.0h0M811.4 836.1h0M814.5 841.0h0M817.6 845.8h0M820.7 850.6h0M826.3 850.6h0M831.9 850.6h0M835.8 848.4h0M837.6 851.4h0M839.4 854.4h0M843.6 857.4h0M846.2 854.0h0M848.9 850.6h0" stroke="#000" stroke-width="4.8" stroke-linecap="round" fill="none"/></g>
<path class="ax" d="M161.0 978.8v-7.5M161.0 582.3v7.5M230.8 978.8v-7.5M230.8 582.3v7.5M300.7 978.8v-7.5M300.7 582.3v7.5M370.5 978.8v-7.5M370.5 582.3v7.5M440.3 978.8v-7.5M440.3 582.3v7.5M510.1 978.8v-7.5M510.1 582.3v7.5M580.0 978.8v-7.5M580.0 582.3v7.5M649.8 978.8v-7.5M649.8 582.3v7.5M719.6 978.8v-7.5M719.6 582.3v7.5M789.5 978.8v-7.5M789.5 582.3v7.5M859.3 978.8v-7.5M859.3 582.3v7.5M126.5 942.8h7.5M894.7 942.8h-7.5M126.5 870.7h7.5M894.7 870.7h-7.5M126.5 798.6h7.5M894.7 798.6h-7.5M126.5 726.5h7.5M894.7 726.5h-7.5M126.5 654.4h7.5M894.7 654.4h-7.5" stroke-width="1.3"/>
<rect class="ax" x="126.5" y="582.3" width="768.2" height="396.5"/>
</g>
<g>
<rect x="898.0" y="582.3" width="768.0" height="396.5" fill="#fff"/>
<path class="g" d="M1013.9 582.3V978.8M1176.8 582.3V978.8M1339.6 582.3V978.8M1502.4 582.3V978.8M1665.3 582.3V978.8M898.0 942.8H1666.0M898.0 870.7H1666.0M898.0 798.6H1666.0M898.0 726.5H1666.0M898.0 654.4H1666.0"/>
<clipPath id="c11"><rect x="898.0" y="582.3" width="768.0" height="396.5"/></clipPath>
<g clip-path="url(#c11)"><polyline class="gy" style="stroke-width:5.6" points="946.8,786.9 948.9,771.0 951.4,768.9 953.6,786.9 956.3,802.8 958.4,813.5 961.2,808.1 963.7,813.5 966.3,816.6 969.0,829.4 971.2,840.0 973.3,859.0 974.8,872.8 976.5,883.4 979.7,884.5"/><path d="M946.8 786.9h0M947.2 783.8h0M947.6 780.6h0M948.1 777.4h0M948.5 774.2h0M948.9 771.0h0M951.4 768.9h0M951.8 771.9h0M952.2 774.9h0M952.5 777.9h0M952.9 780.9h0M953.2 783.9h0M953.6 786.9h0M954.1 790.1h0M954.7 793.3h0M955.2 796.5h0M955.8 799.7h0M956.3 802.8h0M956.9 805.5h0M957.4 808.1h0M957.9 810.8h0M958.4 813.5h0M959.8 810.8h0M961.2 808.1h0M962.5 810.8h0M963.7 813.5h0M965.0 815.0h0M966.3 816.6h0M967.0 819.8h0M967.7 823.0h0M968.4 826.2h0M969.0 829.4h0M969.6 832.0h0M970.1 834.7h0M970.6 837.3h0M971.2 840.0h0M971.5 843.1h0M971.9 846.3h0M972.2 849.5h0M972.6 852.7h0M972.9 855.9h0M973.3 859.0h0M973.7 862.5h0M974.0 865.9h0M974.4 869.4h0M974.8 872.8h0M975.2 875.5h0M975.6 878.1h0M976.0 880.8h0M976.5 883.4h0M979.7 884.5h0" stroke="#a6a6a6" stroke-width="7.0" stroke-linecap="round" fill="none"/><polyline class="gy" style="stroke-width:5.6" points="991.3,898.3 994.5,894.0 995.6,859.0 996.6,829.4 998.1,814.5 1000.9,815.6 1003.6,819.8 1006.6,821.9 1008.3,818.3"/><path d="M991.3 898.3h0M992.9 896.2h0M994.5 894.0h0M994.6 890.9h0M994.7 887.7h0M994.8 884.5h0M994.9 881.3h0M995.0 878.1h0M995.1 875.0h0M995.2 871.8h0M995.3 868.6h0M995.4 865.4h0M995.5 862.2h0M995.6 859.0h0M995.7 855.7h0M995.8 852.5h0M995.9 849.2h0M996.0 845.9h0M996.1 842.6h0M996.3 839.3h0M996.4 836.0h0M996.5 832.7h0M996.6 829.4h0M996.9 826.4h0M997.2 823.4h0M997.5 820.4h0M997.8 817.5h0M998.1 814.5h0M1000.9 815.6h0M1002.2 817.7h0M1003.6 819.8h0M1005.1 820.9h0M1006.6 821.9h0M1007.4 820.1h0M1008.3 818.3h0" stroke="#a6a6a6" stroke-width="7.0" stroke-linecap="round" fill="none"/><polyline class="gy" style="stroke-width:5.6" points="1022.7,797.5 1024.8,810.3 1026.3,823.0 1029.5,835.7 1033.7,830.4 1039.0,829.4 1044.3,834.7 1045.4,848.4 1046.5,865.4 1047.5,882.4 1049.6,899.3 1051.1,907.8"/><path d="M1022.7 797.5h0M1023.2 800.7h0M1023.8 803.9h0M1024.3 807.1h0M1024.8 810.3h0M1025.2 813.5h0M1025.6 816.6h0M1025.9 819.8h0M1026.3 823.0h0M1027.1 826.2h0M1027.9 829.4h0M1028.7 832.5h0M1029.5 835.7h0M1031.6 833.1h0M1033.7 830.4h0M1036.4 829.9h0M1039.0 829.4h0M1040.8 831.1h0M1042.6 832.9h0M1044.3 834.7h0M1044.6 838.1h0M1044.9 841.6h0M1045.1 845.0h0M1045.4 848.4h0M1045.6 851.8h0M1045.8 855.2h0M1046.0 858.6h0M1046.2 862.0h0M1046.5 865.4h0M1046.7 868.8h0M1046.9 872.2h0M1047.1 875.6h0M1047.3 879.0h0M1047.5 882.4h0M1047.9 885.8h0M1048.4 889.2h0M1048.8 892.6h0M1049.2 896.0h0M1049.6 899.3h0M1050.1 902.2h0M1050.6 905.0h0M1051.1 907.8h0" stroke="#a6a6a6" stroke-width="7.0" stroke-linecap="round" fill="none"/><polyline class="gy" style="stroke-width:5.6" points="1054.5,897.2 1055.4,883.4 1061.3,882.4 1067.7,881.3 1073.0,882.4 1078.3,882.4 1080.8,863.3 1084.2,842.1 1085.7,837.8 1089.9,840.0 1094.2,833.6"/><path d="M1054.5 897.2h0M1054.7 893.8h0M1054.9 890.3h0M1055.2 886.9h0M1055.4 883.4h0M1058.3 882.9h0M1061.3 882.4h0M1064.5 881.8h0M1067.7 881.3h0M1070.3 881.8h0M1073.0 882.4h0M1075.6 882.4h0M1078.3 882.4h0M1078.7 879.2h0M1079.1 876.0h0M1079.5 872.8h0M1080.0 869.7h0M1080.4 866.5h0M1080.8 863.3h0M1081.3 860.3h0M1081.8 857.2h0M1082.3 854.2h0M1082.8 851.2h0M1083.2 848.1h0M1083.7 845.1h0M1084.2 842.1h0M1085.0 840.0h0M1085.7 837.8h0M1087.8 838.9h0M1089.9 840.0h0M1091.3 837.8h0M1092.8 835.7h0M1094.2 833.6h0" stroke="#a6a6a6" stroke-width="7.0" stroke-linecap="round" fill="none"/><polyline class="gy" style="stroke-width:5.6" points="1101.6,840.0 1102.7,859.0 1104.1,895.1 1105.8,922.7 1108.0,946.0 1114.3,941.8 1117.5,937.5"/><path d="M1101.6 840.0h0M1101.8 843.1h0M1102.0 846.3h0M1102.1 849.5h0M1102.3 852.7h0M1102.5 855.9h0M1102.7 859.0h0M1102.8 862.3h0M1102.9 865.6h0M1103.1 868.9h0M1103.2 872.2h0M1103.3 875.4h0M1103.5 878.7h0M1103.6 882.0h0M1103.7 885.3h0M1103.9 888.5h0M1104.0 891.8h0M1104.1 895.1h0M1104.4 898.5h0M1104.6 902.0h0M1104.8 905.4h0M1105.0 908.9h0M1105.2 912.3h0M1105.4 915.8h0M1105.6 919.2h0M1105.8 922.7h0M1106.1 926.0h0M1106.4 929.3h0M1106.7 932.7h0M1107.1 936.0h0M1107.4 939.3h0M1107.7 942.7h0M1108.0 946.0h0M1110.1 944.6h0M1112.2 943.2h0M1114.3 941.8h0M1115.9 939.6h0M1117.5 937.5h0" stroke="#a6a6a6" stroke-width="7.0" stroke-linecap="round" fill="none"/><polyline class="gy" style="stroke-width:5.6" points="1118.6,912.1 1120.7,907.8"/><path d="M1118.6 912.1h0M1119.6 909.9h0M1120.7 907.8h0" stroke="#a6a6a6" stroke-width="7.0" stroke-linecap="round" fill="none"/><polyline class="gy" style="stroke-width:5.6" points="1130.2,895.1 1132.4,863.3"/><path d="M1130.2 895.1h0M1130.4 891.9h0M1130.7 888.7h0M1130.9 885.6h0M1131.1 882.4h0M1131.3 879.2h0M1131.5 876.0h0M1131.7 872.8h0M1131.9 869.7h0M1132.1 866.5h0M1132.4 863.3h0" stroke="#a6a6a6" stroke-width="7.0" stroke-linecap="round" fill="none"/><polyline class="gy" style="stroke-width:5.6" points="1135.5,844.2 1137.2,863.3 1138.7,884.5 1140.2,898.3"/><path d="M1135.5 844.2h0M1135.8 847.4h0M1136.1 850.6h0M1136.4 853.7h0M1136.7 856.9h0M1136.9 860.1h0M1137.2 863.3h0M1137.4 866.3h0M1137.7 869.3h0M1137.9 872.4h0M1138.1 875.4h0M1138.3 878.4h0M1138.5 881.5h0M1138.7 884.5h0M1139.1 887.9h0M1139.5 891.4h0M1139.8 894.8h0M1140.2 898.3h0" stroke="#a6a6a6" stroke-width="7.0" stroke-linecap="round" fill="none"/><polyline class="gy" style="stroke-width:5.6" points="1147.4,886.6 1148.9,873.9 1151.0,880.3 1153.1,863.3 1155.3,844.2 1158.0,830.4 1162.3,828.3 1164.4,840.0 1167.1,853.7 1171.4,861.2 1176.1,858.0 1181.4,853.7 1183.5,865.4 1186.2,880.3 1188.4,893.0 1190.9,888.7"/><path d="M1147.4 886.6h0M1147.8 883.4h0M1148.2 880.3h0M1148.5 877.1h0M1148.9 873.9h0M1150.0 877.1h0M1151.0 880.3h0M1151.5 876.9h0M1151.9 873.5h0M1152.3 870.1h0M1152.7 866.7h0M1153.1 863.3h0M1153.5 860.1h0M1153.9 856.9h0M1154.2 853.7h0M1154.6 850.6h0M1154.9 847.4h0M1155.3 844.2h0M1155.8 841.4h0M1156.4 838.7h0M1156.9 835.9h0M1157.5 833.2h0M1158.0 830.4h0M1160.1 829.4h0M1162.3 828.3h0M1162.8 831.2h0M1163.3 834.1h0M1163.9 837.0h0M1164.4 840.0h0M1164.9 842.7h0M1165.5 845.5h0M1166.0 848.2h0M1166.6 851.0h0M1167.1 853.7h0M1168.6 856.2h0M1170.0 858.7h0M1171.4 861.2h0M1173.7 859.6h0M1176.1 858.0h0M1178.7 855.9h0M1181.4 853.7h0M1181.9 856.7h0M1182.4 859.6h0M1182.9 862.5h0M1183.5 865.4h0M1184.0 868.4h0M1184.6 871.3h0M1185.1 874.3h0M1185.7 877.3h0M1186.2 880.3h0M1186.8 883.4h0M1187.3 886.6h0M1187.8 889.8h0M1188.4 893.0h0M1189.6 890.9h0M1190.9 888.7h0" stroke="#a6a6a6" stroke-width="7.0" stroke-linecap="round" fill="none"/><polyline class="gy" style="stroke-width:5.6" points="1387.7,856.9 1389.2,884.5 1391.3,907.8"/><path d="M1387.7 856.9h0M1387.9 860.4h0M1388.1 863.8h0M1388.3 867.3h0M1388.5 870.7h0M1388.6 874.2h0M1388.8 877.6h0M1389.0 881.1h0M1389.2 884.5h0M1389.5 887.8h0M1389.8 891.2h0M1390.1 894.5h0M1390.4 897.8h0M1390.7 901.2h0M1391.0 904.5h0M1391.3 907.8h0" stroke="#a6a6a6" stroke-width="7.0" stroke-linecap="round" fill="none"/><polyline class="gy" style="stroke-width:5.6" points="1399.5,903.6 1401.7,873.9 1404.8,831.5 1407.4,805.0"/><path d="M1399.5 903.6h0M1399.8 900.3h0M1400.0 897.0h0M1400.3 893.7h0M1400.5 890.4h0M1400.7 887.1h0M1401.0 883.8h0M1401.2 880.5h0M1401.4 877.2h0M1401.7 873.9h0M1401.9 870.6h0M1402.2 867.4h0M1402.4 864.1h0M1402.6 860.8h0M1402.9 857.6h0M1403.1 854.3h0M1403.4 851.1h0M1403.6 847.8h0M1403.9 844.5h0M1404.1 841.3h0M1404.4 838.0h0M1404.6 834.7h0M1404.8 831.5h0M1405.2 828.2h0M1405.5 824.9h0M1405.8 821.5h0M1406.1 818.2h0M1406.4 814.9h0M1406.8 811.6h0M1407.1 808.3h0M1407.4 805.0h0" stroke="#a6a6a6" stroke-width="7.0" stroke-linecap="round" fill="none"/><polyline class="gy" style="stroke-width:5.6" points="1471.7,868.6 1474.8,856.9 1476.5,842.1 1479.5,832.5 1483.3,842.1"/><path d="M1471.7 868.6h0M1472.4 865.7h0M1473.2 862.8h0M1474.0 859.8h0M1474.8 856.9h0M1475.2 854.0h0M1475.5 851.0h0M1475.9 848.0h0M1476.2 845.1h0M1476.5 842.1h0M1477.5 838.9h0M1478.5 835.7h0M1479.5 832.5h0M1480.8 835.7h0M1482.0 838.9h0M1483.3 842.1h0" stroke="#a6a6a6" stroke-width="7.0" stroke-linecap="round" fill="none"/><circle cx="1540.2" cy="843.8" r="3.5" fill="#a6a6a6"/><polyline class="gy" style="stroke-width:5.6" points="1566.0,864.4 1571.3,862.2 1573.5,878.1 1575.6,903.6 1578.3,922.7"/><path d="M1566.0 864.4h0M1568.7 863.3h0M1571.3 862.2h0M1571.8 865.4h0M1572.2 868.6h0M1572.6 871.8h0M1573.0 875.0h0M1573.5 878.1h0M1573.7 881.3h0M1574.0 884.5h0M1574.2 887.7h0M1574.5 890.9h0M1574.8 894.0h0M1575.0 897.2h0M1575.3 900.4h0M1575.6 903.6h0M1576.0 906.8h0M1576.5 909.9h0M1577.0 913.1h0M1577.4 916.3h0M1577.9 919.5h0M1578.3 922.7h0" stroke="#a6a6a6" stroke-width="7.0" stroke-linecap="round" fill="none"/><polyline class="k" style="stroke-width:3.0" points="911.8,645.9 913.9,682.0 916.7,715.9 919.6,748.8 922.0,779.9 925.6,843.8 928.1,852.7 930.2,865.4 932.4,861.2 933.4,803.9 936.2,810.3 938.3,820.9 939.8,837.4 941.9,833.6 945.1,792.2 947.4,811.3 950.6,828.7 953.6,835.3 957.4,853.7 961.0,858.0 963.7,875.0 966.3,873.9 970.1,864.4 972.2,871.8 973.9,891.9 976.9,894.0 979.0,886.6 982.2,889.8 985.4,895.1 987.1,882.4 990.7,885.6 993.4,900.4 995.6,901.5 997.7,915.9 999.8,903.6 1001.3,884.5 1005.1,852.3 1007.9,846.3 1010.4,838.9 1012.5,827.2 1014.6,806.0 1017.2,800.3 1019.3,804.3 1023.1,821.9 1025.2,846.7 1029.5,877.1 1031.2,890.9 1033.7,900.4 1036.9,889.2 1039.0,886.6 1040.5,891.9 1043.3,905.3 1046.5,896.2 1048.6,894.0 1051.1,905.7 1053.9,917.4 1057.1,925.9 1060.2,929.0 1063.4,928.0 1066.6,921.6 1069.4,909.9 1070.8,896.2 1072.3,887.7 1074.0,905.7 1076.1,923.3 1079.3,917.4 1080.8,900.4 1082.9,886.6 1084.6,875.6 1087.2,863.3 1089.9,858.0 1093.1,852.7 1096.3,847.4 1099.5,837.8 1102.0,823.0 1104.1,818.8 1106.9,829.4 1108.4,842.1 1110.1,884.5 1112.2,905.7 1114.3,921.6 1116.9,932.2 1119.6,933.3 1122.8,929.0 1125.4,921.6 1127.0,909.9 1128.1,895.1 1130.2,881.3 1132.4,865.4 1135.1,827.7 1140.8,829.4 1141.9,850.6 1144.0,866.5 1145.7,895.1 1147.2,916.3 1148.9,928.6 1150.4,917.4 1151.9,906.8 1154.6,903.6 1156.3,884.5 1158.0,852.7 1159.5,850.6 1161.8,835.7 1164.4,850.6 1169.7,848.4 1172.9,856.9 1178.2,848.4 1183.5,846.7 1187.1,842.1 1189.8,833.6 1192.0,827.2 1194.7,826.8 1196.8,837.8 1198.3,851.6 1199.8,865.4 1201.5,890.9 1203.6,912.1 1205.7,913.1 1207.9,905.7 1208.3,880.3 1210.0,869.7 1213.2,860.1 1213.8,846.3 1216.3,848.4 1218.0,882.4 1220.2,898.3 1221.7,910.4 1223.8,906.8 1225.3,893.0 1227.0,881.3 1229.1,864.4 1231.2,838.9 1232.7,821.9 1234.4,808.1 1236.5,812.4 1239.0,816.6 1241.4,847.4 1243.5,878.6 1248.2,877.1 1250.3,867.5 1252.0,848.4 1254.1,842.7 1257.7,846.3 1259.8,856.9 1261.3,869.7 1264.1,873.9 1265.6,882.4 1266.6,894.0 1267.9,912.1 1269.4,922.7 1270.9,916.3 1271.9,881.3 1273.2,854.8 1274.7,864.4 1275.7,878.1 1277.9,882.4 1280.0,871.8 1282.1,881.3 1285.3,876.0 1285.9,845.3 1289.5,828.3 1292.3,827.2 1295.9,837.8 1298.6,866.5 1300.8,864.4 1302.9,876.0 1303.3,915.3 1306.5,909.9 1309.0,916.3 1311.4,903.6 1312.8,886.6 1314.3,873.9 1315.6,856.9 1316.5,840.0 1318.1,834.7 1320.7,855.9 1323.5,858.0 1326.2,812.4 1328.3,818.8 1330.4,823.0 1331.9,858.6 1335.1,852.7 1340.4,845.3 1344.7,850.6 1349.5,852.7 1351.7,825.1 1354.2,799.2 1360.6,800.7 1363.7,791.2 1366.5,777.0 1369.0,791.2 1371.6,816.6 1375.0,849.5 1376.5,862.2 1379.7,852.3 1382.8,860.1 1385.6,832.5 1387.7,829.4 1390.3,834.7 1391.7,845.3 1393.4,869.7 1395.6,893.0 1397.7,914.2 1400.0,924.8 1400.6,924.8 1403.8,919.5 1408.0,899.3 1410.6,867.5 1413.3,834.7 1415.9,843.1 1417.6,859.0 1419.3,884.5 1420.8,887.7 1423.9,877.1 1426.5,878.1 1429.2,888.7 1431.4,873.9 1432.4,854.8 1434.1,832.5 1437.7,836.1 1442.0,858.0 1443.4,891.9 1445.6,878.1 1447.7,884.5 1451.1,918.4 1453.6,897.2 1455.7,873.9 1457.4,850.6 1458.9,835.7 1461.0,846.3 1463.2,863.3 1465.3,884.5 1467.4,899.3 1471.7,907.8 1474.8,888.7 1477.0,869.7 1480.8,851.6 1483.3,867.5 1486.5,881.3 1489.7,861.2 1493.5,842.1 1502.4,845.3 1513.0,847.4 1517.2,852.7 1521.1,863.3 1524.0,855.9 1526.8,852.7 1529.6,860.1 1532.5,879.2 1536.3,887.7 1539.5,875.0 1541.0,853.7 1543.1,867.5 1545.2,886.6 1548.0,864.4 1549.5,851.6 1552.2,859.0 1554.4,850.6 1556.5,869.7 1558.6,890.9 1561.4,903.6 1563.5,895.1 1566.0,882.4 1569.8,882.4 1572.8,899.3 1576.2,920.1 1579.8,912.1 1583.4,900.4 1586.8,901.5 1589.4,888.7 1590.4,856.9 1591.5,846.7 1594.7,859.0 1596.8,871.8 1598.9,860.1 1601.0,875.0 1603.1,850.6 1605.3,827.2 1607.4,821.9 1610.6,814.5 1612.7,843.1 1615.9,867.5 1619.0,863.3 1623.3,895.1 1625.4,915.3 1627.5,899.3 1630.1,876.0 1633.5,795.0 1635.6,809.2 1639.2,813.5 1642.0,854.8 1644.5,821.9 1647.7,708.0"/><path d="M911.8 645.9h0M912.0 649.2h0M912.2 652.5h0M912.4 655.7h0M912.6 659.0h0M912.7 662.3h0M912.9 665.6h0M913.1 668.8h0M913.3 672.1h0M913.5 675.4h0M913.7 678.7h0M913.9 682.0h0M914.2 685.4h0M914.5 688.7h0M914.7 692.1h0M915.0 695.5h0M915.3 698.9h0M915.6 702.3h0M915.8 705.7h0M916.1 709.1h0M916.4 712.5h0M916.7 715.9h0M917.0 719.2h0M917.3 722.5h0M917.6 725.8h0M917.9 729.0h0M918.1 732.3h0M918.4 735.6h0M918.7 738.9h0M919.0 742.2h0M919.3 745.5h0M919.6 748.8h0M919.9 752.2h0M920.2 755.7h0M920.4 759.2h0M920.7 762.6h0M920.9 766.1h0M921.2 769.6h0M921.4 773.0h0M921.7 776.5h0M922.0 779.9h0M925.6 843.8h0M926.4 846.7h0M927.3 849.7h0M928.1 852.7h0M928.6 855.9h0M929.2 859.0h0M929.7 862.2h0M930.2 865.4h0M931.3 863.3h0M932.4 861.2h0M933.4 803.9h0M934.8 807.1h0M936.2 810.3h0M936.7 812.9h0M937.2 815.6h0M937.8 818.2h0M938.3 820.9h0M938.6 824.2h0M938.9 827.5h0M939.2 830.8h0M939.5 834.1h0M939.8 837.4h0M940.8 835.5h0M941.9 833.6h0M942.2 830.2h0M942.4 826.7h0M942.7 823.3h0M943.0 819.8h0M943.2 816.4h0M943.5 812.9h0M943.8 809.5h0M944.0 806.0h0M944.3 802.6h0M944.6 799.1h0M944.8 795.7h0M945.1 792.2h0M945.5 795.4h0M945.9 798.6h0M946.2 801.8h0M946.6 805.0h0M947.0 808.1h0M947.4 811.3h0M947.9 814.2h0M948.5 817.1h0M949.0 820.0h0M949.5 822.9h0M950.1 825.8h0M950.6 828.7h0M951.6 830.9h0M952.6 833.1h0M953.6 835.3h0M954.2 838.4h0M954.8 841.4h0M955.5 844.5h0M956.1 847.6h0M956.7 850.7h0M957.4 853.7h0M959.2 855.9h0M961.0 858.0h0M961.5 861.4h0M962.1 864.8h0M962.6 868.2h0M963.2 871.6h0M963.7 875.0h0M966.3 873.9h0M967.6 870.7h0M968.8 867.5h0M970.1 864.4h0M970.8 866.8h0M971.5 869.3h0M972.2 871.8h0M972.5 875.1h0M972.8 878.5h0M973.1 881.8h0M973.4 885.2h0M973.6 888.6h0M973.9 891.9h0M975.4 893.0h0M976.9 894.0h0M977.6 891.6h0M978.3 889.1h0M979.0 886.6h0M980.6 888.2h0M982.2 889.8h0M983.8 892.5h0M985.4 895.1h0M985.8 891.9h0M986.2 888.7h0M986.7 885.6h0M987.1 882.4h0M988.9 884.0h0M990.7 885.6h0M991.2 888.5h0M991.8 891.5h0M992.3 894.5h0M992.9 897.4h0M993.4 900.4h0M995.6 901.5h0M996.0 904.3h0M996.4 907.2h0M996.8 910.1h0M997.3 913.0h0M997.7 915.9h0M998.2 912.8h0M998.7 909.7h0M999.3 906.7h0M999.8 903.6h0M1000.0 900.4h0M1000.3 897.2h0M1000.5 894.0h0M1000.8 890.9h0M1001.0 887.7h0M1001.3 884.5h0M1001.7 881.3h0M1002.0 878.1h0M1002.4 874.8h0M1002.8 871.6h0M1003.2 868.4h0M1003.6 865.2h0M1004.0 861.9h0M1004.3 858.7h0M1004.7 855.5h0M1005.1 852.3h0M1006.5 849.3h0M1007.9 846.3h0M1008.7 843.8h0M1009.6 841.4h0M1010.4 838.9h0M1010.9 836.0h0M1011.5 833.1h0M1012.0 830.2h0M1012.5 827.2h0M1012.8 824.2h0M1013.1 821.2h0M1013.4 818.1h0M1013.7 815.1h0M1014.0 812.1h0M1014.3 809.1h0M1014.6 806.0h0M1015.9 803.2h0M1017.2 800.3h0M1018.3 802.3h0M1019.3 804.3h0M1019.9 807.3h0M1020.6 810.2h0M1021.2 813.1h0M1021.9 816.1h0M1022.5 819.0h0M1023.1 821.9h0M1023.4 825.0h0M1023.7 828.1h0M1023.9 831.2h0M1024.2 834.3h0M1024.5 837.4h0M1024.7 840.5h0M1025.0 843.6h0M1025.2 846.7h0M1025.7 850.1h0M1026.2 853.5h0M1026.7 856.9h0M1027.1 860.2h0M1027.6 863.6h0M1028.1 867.0h0M1028.5 870.3h0M1029.0 873.7h0M1029.5 877.1h0M1029.9 880.5h0M1030.3 884.0h0M1030.8 887.4h0M1031.2 890.9h0M1032.0 894.0h0M1032.9 897.2h0M1033.7 900.4h0M1034.5 897.6h0M1035.3 894.8h0M1036.1 892.0h0M1036.9 889.2h0M1039.0 886.6h0M1039.8 889.3h0M1040.5 891.9h0M1041.2 895.3h0M1041.9 898.6h0M1042.6 901.9h0M1043.3 905.3h0M1044.3 902.2h0M1045.4 899.2h0M1046.5 896.2h0M1048.6 894.0h0M1049.2 897.0h0M1049.9 899.9h0M1050.5 902.8h0M1051.1 905.7h0M1051.8 908.6h0M1052.5 911.5h0M1053.2 914.5h0M1053.9 917.4h0M1054.9 920.2h0M1056.0 923.0h0M1057.1 925.9h0M1058.7 927.4h0M1060.2 929.0h0M1063.4 928.0h0M1064.5 925.9h0M1065.5 923.7h0M1066.6 921.6h0M1067.3 918.7h0M1068.0 915.8h0M1068.7 912.9h0M1069.4 909.9h0M1069.7 906.5h0M1070.1 903.1h0M1070.5 899.6h0M1070.8 896.2h0M1071.3 893.3h0M1071.8 890.5h0M1072.3 887.7h0M1072.6 890.7h0M1072.9 893.7h0M1073.2 896.7h0M1073.5 899.7h0M1073.7 902.7h0M1074.0 905.7h0M1074.4 908.6h0M1074.7 911.6h0M1075.1 914.5h0M1075.4 917.4h0M1075.8 920.4h0M1076.1 923.3h0M1077.7 920.3h0M1079.3 917.4h0M1079.6 914.0h0M1079.9 910.6h0M1080.2 907.2h0M1080.5 903.8h0M1080.8 900.4h0M1081.3 897.0h0M1081.9 893.5h0M1082.4 890.1h0M1082.9 886.6h0M1083.4 883.9h0M1083.8 881.1h0M1084.2 878.3h0M1084.6 875.6h0M1085.3 872.5h0M1085.9 869.4h0M1086.5 866.4h0M1087.2 863.3h0M1088.6 860.6h0M1089.9 858.0h0M1091.5 855.3h0M1093.1 852.7h0M1094.7 850.0h0M1096.3 847.4h0M1097.4 844.2h0M1098.4 841.0h0M1099.5 837.8h0M1100.0 834.9h0M1100.5 831.9h0M1101.0 828.9h0M1101.5 826.0h0M1102.0 823.0h0M1103.1 820.9h0M1104.1 818.8h0M1104.8 821.4h0M1105.5 824.1h0M1106.2 826.7h0M1106.9 829.4h0M1107.3 832.5h0M1107.6 835.7h0M1108.0 838.9h0M1108.4 842.1h0M1108.5 845.3h0M1108.6 848.6h0M1108.8 851.9h0M1108.9 855.1h0M1109.0 858.4h0M1109.2 861.7h0M1109.3 864.9h0M1109.4 868.2h0M1109.6 871.4h0M1109.7 874.7h0M1109.8 878.0h0M1110.0 881.2h0M1110.1 884.5h0M1110.4 887.5h0M1110.7 890.6h0M1111.0 893.6h0M1111.3 896.6h0M1111.6 899.6h0M1111.9 902.7h0M1112.2 905.7h0M1112.6 908.9h0M1113.1 912.1h0M1113.5 915.3h0M1113.9 918.4h0M1114.3 921.6h0M1115.0 924.3h0M1115.6 926.9h0M1116.2 929.6h0M1116.9 932.2h0M1119.6 933.3h0M1121.2 931.2h0M1122.8 929.0h0M1123.7 926.6h0M1124.5 924.1h0M1125.4 921.6h0M1125.8 918.7h0M1126.2 915.8h0M1126.6 912.9h0M1127.0 909.9h0M1127.3 907.0h0M1127.5 904.0h0M1127.7 901.0h0M1127.9 898.1h0M1128.1 895.1h0M1128.6 891.7h0M1129.2 888.2h0M1129.7 884.8h0M1130.2 881.3h0M1130.7 878.1h0M1131.1 875.0h0M1131.5 871.8h0M1131.9 868.6h0M1132.4 865.4h0M1132.6 862.0h0M1132.9 858.5h0M1133.1 855.1h0M1133.4 851.7h0M1133.6 848.3h0M1133.9 844.8h0M1134.1 841.4h0M1134.4 838.0h0M1134.6 834.5h0M1134.9 831.1h0M1135.1 827.7h0M1138.0 828.5h0M1140.8 829.4h0M1141.0 832.4h0M1141.1 835.4h0M1141.3 838.4h0M1141.4 841.5h0M1141.6 844.5h0M1141.7 847.5h0M1141.9 850.6h0M1142.3 853.7h0M1142.7 856.9h0M1143.2 860.1h0M1143.6 863.3h0M1144.0 866.5h0M1144.2 869.7h0M1144.4 872.8h0M1144.6 876.0h0M1144.8 879.2h0M1145.0 882.4h0M1145.1 885.6h0M1145.3 888.7h0M1145.5 891.9h0M1145.7 895.1h0M1145.9 898.1h0M1146.1 901.2h0M1146.3 904.2h0M1146.6 907.2h0M1146.8 910.3h0M1147.0 913.3h0M1147.2 916.3h0M1147.6 919.4h0M1148.0 922.5h0M1148.5 925.5h0M1148.9 928.6h0M1149.3 925.8h0M1149.6 923.0h0M1150.0 920.2h0M1150.4 917.4h0M1150.7 914.7h0M1151.1 912.1h0M1151.5 909.4h0M1151.9 906.8h0M1153.2 905.2h0M1154.6 903.6h0M1154.9 900.4h0M1155.2 897.2h0M1155.5 894.0h0M1155.8 890.9h0M1156.0 887.7h0M1156.3 884.5h0M1156.5 881.3h0M1156.7 878.1h0M1156.8 875.0h0M1157.0 871.8h0M1157.2 868.6h0M1157.3 865.4h0M1157.5 862.2h0M1157.7 859.0h0M1157.8 855.9h0M1158.0 852.7h0M1159.5 850.6h0M1160.0 847.6h0M1160.4 844.6h0M1160.9 841.7h0M1161.4 838.7h0M1161.8 835.7h0M1162.4 838.7h0M1162.9 841.7h0M1163.4 844.6h0M1163.9 847.6h0M1164.4 850.6h0M1167.0 849.5h0M1169.7 848.4h0M1170.8 851.3h0M1171.8 854.1h0M1172.9 856.9h0M1174.6 854.1h0M1176.4 851.3h0M1178.2 848.4h0M1180.8 847.6h0M1183.5 846.7h0M1185.3 844.4h0M1187.1 842.1h0M1188.0 839.3h0M1188.9 836.4h0M1189.8 833.6h0M1190.9 830.4h0M1192.0 827.2h0M1194.7 826.8h0M1195.2 829.6h0M1195.8 832.3h0M1196.3 835.1h0M1196.8 837.8h0M1197.2 841.3h0M1197.6 844.7h0M1198.0 848.2h0M1198.3 851.6h0M1198.7 855.1h0M1199.1 858.5h0M1199.4 862.0h0M1199.8 865.4h0M1200.0 868.6h0M1200.2 871.8h0M1200.4 875.0h0M1200.7 878.1h0M1200.9 881.3h0M1201.1 884.5h0M1201.3 887.7h0M1201.5 890.9h0M1201.8 893.9h0M1202.1 896.9h0M1202.4 900.0h0M1202.7 903.0h0M1203.0 906.0h0M1203.3 909.0h0M1203.6 912.1h0M1205.7 913.1h0M1206.5 910.7h0M1207.2 908.2h0M1207.9 905.7h0M1207.9 902.5h0M1208.0 899.3h0M1208.0 896.2h0M1208.1 893.0h0M1208.1 889.8h0M1208.2 886.6h0M1208.2 883.4h0M1208.3 880.3h0M1208.7 877.6h0M1209.1 875.0h0M1209.6 872.3h0M1210.0 869.7h0M1211.0 866.5h0M1212.1 863.3h0M1213.2 860.1h0M1213.3 856.7h0M1213.5 853.2h0M1213.6 849.8h0M1213.8 846.3h0M1216.3 848.4h0M1216.5 851.8h0M1216.7 855.2h0M1216.9 858.6h0M1217.0 862.0h0M1217.2 865.4h0M1217.4 868.8h0M1217.5 872.2h0M1217.7 875.6h0M1217.9 879.0h0M1218.0 882.4h0M1218.5 885.6h0M1218.9 888.7h0M1219.3 891.9h0M1219.7 895.1h0M1220.2 898.3h0M1220.5 901.3h0M1220.9 904.3h0M1221.3 907.4h0M1221.7 910.4h0M1222.7 908.6h0M1223.8 906.8h0M1224.1 903.3h0M1224.5 899.9h0M1224.9 896.4h0M1225.3 893.0h0M1225.7 890.1h0M1226.1 887.1h0M1226.5 884.2h0M1227.0 881.3h0M1227.4 877.9h0M1227.8 874.5h0M1228.2 871.1h0M1228.7 867.7h0M1229.1 864.4h0M1229.3 861.2h0M1229.6 858.0h0M1229.9 854.8h0M1230.1 851.6h0M1230.4 848.4h0M1230.7 845.3h0M1230.9 842.1h0M1231.2 838.9h0M1231.5 835.5h0M1231.8 832.1h0M1232.1 828.7h0M1232.4 825.3h0M1232.7 821.9h0M1233.1 818.5h0M1233.5 815.0h0M1234.0 811.6h0M1234.4 808.1h0M1235.4 810.3h0M1236.5 812.4h0M1237.8 814.5h0M1239.0 816.6h0M1239.3 820.0h0M1239.6 823.5h0M1239.8 826.9h0M1240.1 830.3h0M1240.3 833.7h0M1240.6 837.1h0M1240.9 840.6h0M1241.1 844.0h0M1241.4 847.4h0M1241.6 850.8h0M1241.8 854.3h0M1242.1 857.8h0M1242.3 861.2h0M1242.6 864.7h0M1242.8 868.2h0M1243.0 871.6h0M1243.3 875.1h0M1243.5 878.6h0M1245.8 877.8h0M1248.2 877.1h0M1248.9 873.9h0M1249.6 870.7h0M1250.3 867.5h0M1250.6 864.4h0M1250.8 861.2h0M1251.1 858.0h0M1251.4 854.8h0M1251.7 851.6h0M1252.0 848.4h0M1253.0 845.6h0M1254.1 842.7h0M1255.9 844.5h0M1257.7 846.3h0M1258.2 849.0h0M1258.8 851.6h0M1259.3 854.3h0M1259.8 856.9h0M1260.2 860.1h0M1260.6 863.3h0M1260.9 866.5h0M1261.3 869.7h0M1262.7 871.8h0M1264.1 873.9h0M1264.6 876.7h0M1265.1 879.6h0M1265.6 882.4h0M1265.8 885.3h0M1266.1 888.2h0M1266.3 891.1h0M1266.6 894.0h0M1266.8 897.0h0M1267.0 900.1h0M1267.2 903.1h0M1267.5 906.1h0M1267.7 909.1h0M1267.9 912.1h0M1268.3 914.7h0M1268.6 917.4h0M1269.0 920.0h0M1269.4 922.7h0M1270.1 919.5h0M1270.9 916.3h0M1271.0 913.1h0M1271.0 909.9h0M1271.1 906.8h0M1271.2 903.6h0M1271.3 900.4h0M1271.4 897.2h0M1271.5 894.0h0M1271.6 890.9h0M1271.7 887.7h0M1271.8 884.5h0M1271.9 881.3h0M1272.1 878.0h0M1272.2 874.7h0M1272.4 871.4h0M1272.6 868.1h0M1272.7 864.7h0M1272.9 861.4h0M1273.0 858.1h0M1273.2 854.8h0M1273.7 858.0h0M1274.2 861.2h0M1274.7 864.4h0M1274.9 867.8h0M1275.2 871.2h0M1275.5 874.7h0M1275.7 878.1h0M1276.8 880.3h0M1277.9 882.4h0M1278.4 879.7h0M1278.9 877.1h0M1279.4 874.4h0M1280.0 871.8h0M1280.7 875.0h0M1281.4 878.1h0M1282.1 881.3h0M1283.7 878.7h0M1285.3 876.0h0M1285.3 872.6h0M1285.4 869.2h0M1285.5 865.8h0M1285.6 862.3h0M1285.6 858.9h0M1285.7 855.5h0M1285.8 852.1h0M1285.8 848.7h0M1285.9 845.3h0M1286.6 841.9h0M1287.4 838.5h0M1288.1 835.1h0M1288.8 831.7h0M1289.5 828.3h0M1292.3 827.2h0M1293.2 829.9h0M1294.1 832.5h0M1295.0 835.2h0M1295.9 837.8h0M1296.2 841.0h0M1296.5 844.2h0M1296.8 847.4h0M1297.1 850.6h0M1297.4 853.7h0M1297.7 856.9h0M1298.0 860.1h0M1298.3 863.3h0M1298.6 866.5h0M1300.8 864.4h0M1301.3 867.3h0M1301.8 870.2h0M1302.3 873.1h0M1302.9 876.0h0M1302.9 879.3h0M1302.9 882.6h0M1303.0 885.8h0M1303.0 889.1h0M1303.1 892.4h0M1303.1 895.6h0M1303.1 898.9h0M1303.2 902.2h0M1303.2 905.4h0M1303.2 908.7h0M1303.3 912.0h0M1303.3 915.3h0M1304.9 912.6h0M1306.5 909.9h0M1307.8 913.1h0M1309.0 916.3h0M1309.6 913.1h0M1310.2 909.9h0M1310.8 906.8h0M1311.4 903.6h0M1311.7 900.2h0M1312.0 896.8h0M1312.3 893.4h0M1312.6 890.0h0M1312.8 886.6h0M1313.2 883.4h0M1313.6 880.3h0M1314.0 877.1h0M1314.3 873.9h0M1314.6 870.5h0M1314.8 867.1h0M1315.1 863.7h0M1315.3 860.3h0M1315.6 856.9h0M1315.8 853.5h0M1315.9 850.1h0M1316.1 846.7h0M1316.3 843.4h0M1316.5 840.0h0M1317.3 837.3h0M1318.1 834.7h0M1318.5 837.7h0M1318.9 840.7h0M1319.2 843.7h0M1319.6 846.8h0M1320.0 849.8h0M1320.3 852.8h0M1320.7 855.9h0M1323.5 858.0h0M1326.2 812.4h0M1327.3 815.6h0M1328.3 818.8h0M1329.4 820.9h0M1330.4 823.0h0M1330.6 826.2h0M1330.7 829.5h0M1330.9 832.7h0M1331.0 836.0h0M1331.1 839.2h0M1331.3 842.4h0M1331.4 845.7h0M1331.5 848.9h0M1331.7 852.1h0M1331.8 855.4h0M1331.9 858.6h0M1333.5 855.7h0M1335.1 852.7h0M1336.9 850.2h0M1338.7 847.7h0M1340.4 845.3h0M1342.5 847.9h0M1344.7 850.6h0M1347.1 851.6h0M1349.5 852.7h0M1349.8 849.2h0M1350.1 845.8h0M1350.3 842.3h0M1350.6 838.9h0M1350.9 835.5h0M1351.1 832.0h0M1351.4 828.6h0M1351.7 825.1h0M1352.0 821.9h0M1352.3 818.6h0M1352.6 815.4h0M1352.9 812.2h0M1353.2 808.9h0M1353.6 805.7h0M1353.9 802.5h0M1354.2 799.2h0M1357.4 800.0h0M1360.6 800.7h0M1361.6 797.5h0M1362.7 794.4h0M1363.7 791.2h0M1364.3 788.3h0M1364.8 785.5h0M1365.4 782.7h0M1366.0 779.8h0M1366.5 777.0h0M1367.0 779.8h0M1367.5 782.7h0M1368.0 785.5h0M1368.5 788.3h0M1369.0 791.2h0M1369.4 794.4h0M1369.7 797.5h0M1370.0 800.7h0M1370.3 803.9h0M1370.6 807.1h0M1371.0 810.3h0M1371.3 813.5h0M1371.6 816.6h0M1371.9 819.9h0M1372.3 823.2h0M1372.6 826.5h0M1373.0 829.8h0M1373.3 833.1h0M1373.6 836.4h0M1374.0 839.6h0M1374.3 842.9h0M1374.6 846.2h0M1375.0 849.5h0M1375.4 852.7h0M1375.7 855.9h0M1376.1 859.0h0M1376.5 862.2h0M1377.5 858.9h0M1378.6 855.6h0M1379.7 852.3h0M1380.7 854.9h0M1381.8 857.5h0M1382.8 860.1h0M1383.2 856.7h0M1383.5 853.2h0M1383.9 849.8h0M1384.2 846.3h0M1384.6 842.9h0M1384.9 839.4h0M1385.2 836.0h0M1385.6 832.5h0M1386.7 830.9h0M1387.7 829.4h0M1389.0 832.0h0M1390.3 834.7h0M1390.6 837.3h0M1391.0 840.0h0M1391.4 842.6h0M1391.7 845.3h0M1392.0 848.7h0M1392.2 852.2h0M1392.5 855.7h0M1392.7 859.2h0M1393.0 862.7h0M1393.2 866.2h0M1393.4 869.7h0M1393.7 873.0h0M1394.0 876.3h0M1394.3 879.7h0M1394.7 883.0h0M1395.0 886.3h0M1395.3 889.6h0M1395.6 893.0h0M1395.9 896.0h0M1396.2 899.0h0M1396.5 902.1h0M1396.8 905.1h0M1397.1 908.1h0M1397.4 911.2h0M1397.7 914.2h0M1398.3 916.8h0M1398.8 919.5h0M1399.4 922.1h0M1400.0 924.8h0M1400.6 924.8h0M1402.2 922.1h0M1403.8 919.5h0M1404.5 916.1h0M1405.2 912.8h0M1405.9 909.4h0M1406.6 906.1h0M1407.3 902.7h0M1408.0 899.3h0M1408.3 896.2h0M1408.5 893.0h0M1408.8 889.8h0M1409.0 886.6h0M1409.3 883.4h0M1409.6 880.3h0M1409.8 877.1h0M1410.1 873.9h0M1410.3 870.7h0M1410.6 867.5h0M1410.8 864.2h0M1411.1 861.0h0M1411.4 857.7h0M1411.7 854.4h0M1412.0 851.1h0M1412.2 847.8h0M1412.5 844.5h0M1412.8 841.2h0M1413.1 837.9h0M1413.3 834.7h0M1414.2 837.5h0M1415.0 840.3h0M1415.9 843.1h0M1416.2 846.3h0M1416.6 849.5h0M1416.9 852.7h0M1417.2 855.9h0M1417.6 859.0h0M1417.8 862.2h0M1418.0 865.4h0M1418.2 868.6h0M1418.4 871.8h0M1418.6 875.0h0M1418.8 878.1h0M1419.1 881.3h0M1419.3 884.5h0M1420.0 886.1h0M1420.8 887.7h0M1421.5 885.0h0M1422.3 882.4h0M1423.1 879.7h0M1423.9 877.1h0M1426.5 878.1h0M1427.2 880.8h0M1427.9 883.4h0M1428.5 886.1h0M1429.2 888.7h0M1429.7 885.8h0M1430.1 882.8h0M1430.5 879.8h0M1430.9 876.9h0M1431.4 873.9h0M1431.5 870.7h0M1431.7 867.5h0M1431.9 864.4h0M1432.1 861.2h0M1432.2 858.0h0M1432.4 854.8h0M1432.7 851.6h0M1432.9 848.4h0M1433.1 845.3h0M1433.4 842.1h0M1433.6 838.9h0M1433.9 835.7h0M1434.1 832.5h0M1435.9 834.3h0M1437.7 836.1h0M1438.3 839.3h0M1438.9 842.4h0M1439.5 845.5h0M1440.1 848.6h0M1440.7 851.7h0M1441.4 854.9h0M1442.0 858.0h0M1442.1 861.4h0M1442.3 864.8h0M1442.4 868.2h0M1442.6 871.6h0M1442.7 875.0h0M1442.9 878.3h0M1443.0 881.7h0M1443.1 885.1h0M1443.3 888.5h0M1443.4 891.9h0M1444.0 888.5h0M1444.5 885.0h0M1445.0 881.6h0M1445.6 878.1h0M1446.6 881.3h0M1447.7 884.5h0M1448.0 887.9h0M1448.4 891.3h0M1448.7 894.7h0M1449.0 898.1h0M1449.4 901.5h0M1449.7 904.9h0M1450.1 908.3h0M1450.4 911.6h0M1450.7 915.0h0M1451.1 918.4h0M1451.4 915.4h0M1451.8 912.4h0M1452.2 909.3h0M1452.5 906.3h0M1452.9 903.3h0M1453.3 900.3h0M1453.6 897.2h0M1453.9 893.9h0M1454.2 890.6h0M1454.5 887.2h0M1454.8 883.9h0M1455.1 880.6h0M1455.4 877.2h0M1455.7 873.9h0M1456.0 870.6h0M1456.2 867.2h0M1456.5 863.9h0M1456.7 860.6h0M1457.0 857.2h0M1457.2 853.9h0M1457.4 850.6h0M1457.7 847.6h0M1458.0 844.6h0M1458.3 841.7h0M1458.6 838.7h0M1458.9 835.7h0M1459.5 838.4h0M1460.0 841.0h0M1460.5 843.7h0M1461.0 846.3h0M1461.5 849.7h0M1461.9 853.1h0M1462.3 856.5h0M1462.7 859.9h0M1463.2 863.3h0M1463.5 866.3h0M1463.8 869.3h0M1464.1 872.4h0M1464.4 875.4h0M1464.7 878.4h0M1465.0 881.5h0M1465.3 884.5h0M1465.7 887.5h0M1466.1 890.4h0M1466.6 893.4h0M1467.0 896.4h0M1467.4 899.3h0M1468.8 902.2h0M1470.2 905.0h0M1471.7 907.8h0M1472.2 904.6h0M1472.7 901.5h0M1473.2 898.3h0M1473.8 895.1h0M1474.3 891.9h0M1474.8 888.7h0M1475.2 885.6h0M1475.5 882.4h0M1475.9 879.2h0M1476.2 876.0h0M1476.6 872.8h0M1477.0 869.7h0M1477.6 866.6h0M1478.2 863.6h0M1478.9 860.6h0M1479.5 857.6h0M1480.1 854.6h0M1480.8 851.6h0M1481.3 854.8h0M1481.8 858.0h0M1482.3 861.2h0M1482.8 864.4h0M1483.3 867.5h0M1484.0 870.3h0M1484.6 873.0h0M1485.2 875.8h0M1485.9 878.6h0M1486.5 881.3h0M1487.0 878.0h0M1487.6 874.6h0M1488.1 871.2h0M1488.6 867.9h0M1489.1 864.5h0M1489.7 861.2h0M1490.3 858.0h0M1491.0 854.8h0M1491.6 851.6h0M1492.2 848.4h0M1492.9 845.3h0M1493.5 842.1h0M1496.5 843.1h0M1499.4 844.2h0M1502.4 845.3h0M1505.1 845.8h0M1507.7 846.3h0M1510.4 846.9h0M1513.0 847.4h0M1515.1 850.0h0M1517.2 852.7h0M1518.2 855.3h0M1519.2 858.0h0M1520.1 860.6h0M1521.1 863.3h0M1522.1 860.8h0M1523.0 858.3h0M1524.0 855.9h0M1525.4 854.3h0M1526.8 852.7h0M1527.7 855.2h0M1528.6 857.6h0M1529.6 860.1h0M1530.0 863.3h0M1530.5 866.5h0M1531.0 869.7h0M1531.5 872.8h0M1532.0 876.0h0M1532.5 879.2h0M1533.8 882.0h0M1535.1 884.9h0M1536.3 887.7h0M1537.1 884.5h0M1537.9 881.3h0M1538.7 878.1h0M1539.5 875.0h0M1539.7 871.9h0M1539.9 868.9h0M1540.2 865.9h0M1540.4 862.8h0M1540.6 859.8h0M1540.8 856.8h0M1541.0 853.7h0M1541.5 857.2h0M1542.1 860.6h0M1542.6 864.1h0M1543.1 867.5h0M1543.5 870.7h0M1543.8 873.9h0M1544.2 877.1h0M1544.5 880.3h0M1544.9 883.4h0M1545.2 886.6h0M1545.6 883.4h0M1546.0 880.3h0M1546.4 877.1h0M1546.8 873.9h0M1547.2 870.7h0M1547.6 867.5h0M1548.0 864.4h0M1548.4 861.2h0M1548.7 858.0h0M1549.1 854.8h0M1549.5 851.6h0M1550.4 854.1h0M1551.3 856.6h0M1552.2 859.0h0M1552.9 856.2h0M1553.7 853.4h0M1554.4 850.6h0M1554.7 853.7h0M1555.1 856.9h0M1555.4 860.1h0M1555.8 863.3h0M1556.1 866.5h0M1556.5 869.7h0M1556.8 872.7h0M1557.1 875.7h0M1557.4 878.7h0M1557.7 881.8h0M1558.0 884.8h0M1558.3 887.8h0M1558.6 890.9h0M1559.3 894.0h0M1560.0 897.2h0M1560.7 900.4h0M1561.4 903.6h0M1562.1 900.8h0M1562.8 897.9h0M1563.5 895.1h0M1564.1 891.9h0M1564.8 888.7h0M1565.4 885.6h0M1566.0 882.4h0M1567.9 882.4h0M1569.8 882.4h0M1570.4 885.8h0M1571.0 889.2h0M1571.6 892.6h0M1572.2 896.0h0M1572.8 899.3h0M1573.3 902.3h0M1573.8 905.3h0M1574.3 908.3h0M1574.8 911.2h0M1575.2 914.2h0M1575.7 917.2h0M1576.2 920.1h0M1577.4 917.4h0M1578.6 914.8h0M1579.8 912.1h0M1580.7 909.2h0M1581.6 906.2h0M1582.5 903.3h0M1583.4 900.4h0M1585.1 900.9h0M1586.8 901.5h0M1587.4 898.3h0M1588.1 895.1h0M1588.7 891.9h0M1589.4 888.7h0M1589.5 885.6h0M1589.6 882.4h0M1589.7 879.2h0M1589.8 876.0h0M1589.9 872.8h0M1590.0 869.7h0M1590.1 866.5h0M1590.2 863.3h0M1590.3 860.1h0M1590.4 856.9h0M1590.8 853.5h0M1591.1 850.1h0M1591.5 846.7h0M1592.3 849.8h0M1593.1 852.9h0M1593.9 856.0h0M1594.7 859.0h0M1595.2 862.2h0M1595.7 865.4h0M1596.2 868.6h0M1596.8 871.8h0M1597.3 868.9h0M1597.8 865.9h0M1598.4 863.0h0M1598.9 860.1h0M1599.3 863.1h0M1599.7 866.0h0M1600.2 869.0h0M1600.6 872.0h0M1601.0 875.0h0M1601.3 871.5h0M1601.6 868.0h0M1601.9 864.5h0M1602.2 861.0h0M1602.5 857.5h0M1602.8 854.0h0M1603.1 850.6h0M1603.4 847.2h0M1603.7 843.9h0M1604.1 840.6h0M1604.4 837.2h0M1604.7 833.9h0M1605.0 830.6h0M1605.3 827.2h0M1606.3 824.6h0M1607.4 821.9h0M1608.4 819.5h0M1609.5 817.0h0M1610.6 814.5h0M1610.8 817.7h0M1611.0 820.9h0M1611.3 824.1h0M1611.5 827.2h0M1611.7 830.4h0M1612.0 833.6h0M1612.2 836.8h0M1612.5 840.0h0M1612.7 843.1h0M1613.1 846.2h0M1613.5 849.2h0M1613.9 852.3h0M1614.3 855.3h0M1614.7 858.4h0M1615.1 861.4h0M1615.5 864.5h0M1615.9 867.5h0M1617.5 865.4h0M1619.0 863.3h0M1619.5 866.5h0M1619.9 869.7h0M1620.3 872.8h0M1620.7 876.0h0M1621.2 879.2h0M1621.6 882.4h0M1622.0 885.6h0M1622.4 888.7h0M1622.9 891.9h0M1623.3 895.1h0M1623.6 898.5h0M1624.0 901.8h0M1624.4 905.2h0M1624.7 908.5h0M1625.1 911.9h0M1625.4 915.3h0M1625.8 912.1h0M1626.3 908.9h0M1626.7 905.7h0M1627.1 902.5h0M1627.5 899.3h0M1627.9 896.0h0M1628.3 892.7h0M1628.6 889.3h0M1629.0 886.0h0M1629.3 882.7h0M1629.7 879.3h0M1630.1 876.0h0M1633.5 795.0h0M1633.9 797.8h0M1634.3 800.7h0M1634.7 803.5h0M1635.2 806.4h0M1635.6 809.2h0M1637.4 811.3h0M1639.2 813.5h0M1639.4 816.9h0M1639.7 820.3h0M1639.9 823.8h0M1640.1 827.2h0M1640.3 830.7h0M1640.6 834.1h0M1640.8 837.6h0M1641.0 841.0h0M1641.3 844.5h0M1641.5 847.9h0M1641.7 851.4h0M1642.0 854.8h0M1642.2 851.5h0M1642.5 848.2h0M1642.7 844.9h0M1643.0 841.7h0M1643.2 838.4h0M1643.5 835.1h0M1643.7 831.8h0M1644.0 828.5h0M1644.2 825.2h0M1644.5 821.9h0M1647.7 708.0h0" stroke="#000" stroke-width="4.2" stroke-linecap="round" fill="none"/></g>
<path class="ax" d="M1013.9 978.8v-7.5M1013.9 582.3v7.5M1176.8 978.8v-7.5M1176.8 582.3v7.5M1339.6 978.8v-7.5M1339.6 582.3v7.5M1502.4 978.8v-7.5M1502.4 582.3v7.5M1665.3 978.8v-7.5M1665.3 582.3v7.5M898.0 942.8h7.5M1666.0 942.8h-7.5M898.0 870.7h7.5M1666.0 870.7h-7.5M898.0 798.6h7.5M1666.0 798.6h-7.5M898.0 726.5h7.5M1666.0 726.5h-7.5M898.0 654.4h7.5M1666.0 654.4h-7.5" stroke-width="1.3"/>
<rect class="ax" x="898.0" y="582.3" width="768.0" height="396.5"/>
</g>
<g>
<rect x="127.5" y="1046.3" width="768.2" height="395.70000000000005" fill="#fff"/>
<path class="g" d="M162.0 1046.3V1442.0M231.8 1046.3V1442.0M301.7 1046.3V1442.0M371.5 1046.3V1442.0M441.3 1046.3V1442.0M511.1 1046.3V1442.0M581.0 1046.3V1442.0M650.8 1046.3V1442.0M720.6 1046.3V1442.0M790.5 1046.3V1442.0M860.3 1046.3V1442.0M127.5 1406.0H895.7M127.5 1334.1H895.7M127.5 1262.1H895.7M127.5 1190.2H895.7M127.5 1118.2H895.7"/>
<clipPath id="c20"><rect x="127.5" y="1046.3" width="768.2" height="395.70000000000005"/></clipPath>
<g clip-path="url(#c20)"><polyline class="r" style="stroke-width:5.6" points="176.1,1270.0 182.5,1104.5 187.6,1358.5 194.4,1338.7 200.0,1156.2 213.5,1249.6 223.7,1334.9 225.0,1304.3 235.2,1305.6 235.2,1267.4 239.7,1254.7 244.1,1282.7 253.0,1261.8 268.2,1311.4 301.3,1334.9 301.3,1341.2 301.3,1319.6 314.1,1334.1 350.4,1279.6 352.2,1300.5 359.1,1313.2 365.5,1301.8 370.0,1300.5 367.5,1319.6 379.0,1313.2 390.4,1320.9 400.6,1352.7 415.9,1360.8 435.6,1313.2 440.7,1317.0 447.1,1312.7 457.3,1309.4 468.7,1304.3 480.2,1298.0 490.3,1323.4 501.8,1324.7 508.2,1308.1 509.9,1338.7 517.6,1319.6 525.2,1341.2 542.5,1320.9 551.4,1350.1 561.1,1357.0 568.0,1324.7 574.3,1327.2 578.9,1348.9 638.0,1280.1 640.5,1319.6 645.6,1336.1 649.4,1342.5 662.1,1322.1 674.3,1378.1 680.7,1342.5 682.0,1355.2 689.6,1357.0 692.2,1336.1 704.9,1319.6 713.8,1331.0 716.3,1331.0 722.7,1320.9 745.6,1329.0 768.5,1357.0 774.9,1324.7 778.7,1360.3 782.5,1338.7 848.7,1303.0 849.2,1327.2"/><path d="M176.1 1270.0h0M182.5 1104.5h0M187.6 1358.5h0M194.4 1338.7h0M200.0 1156.2h0M213.5 1249.6h0M223.7 1334.9h0M225.0 1304.3h0M228.4 1304.7h0M231.8 1305.2h0M235.2 1305.6h0M235.2 1267.4h0M236.7 1263.2h0M238.2 1258.9h0M239.7 1254.7h0M244.1 1282.7h0M253.0 1261.8h0M268.2 1311.4h0M301.3 1334.9h0M301.3 1338.0h0M301.3 1341.2h0M301.3 1319.6h0M314.1 1334.1h0M350.4 1279.6h0M352.2 1300.5h0M359.1 1313.2h0M361.2 1309.4h0M363.3 1305.6h0M365.5 1301.8h0M370.0 1300.5h0M367.5 1319.6h0M371.3 1317.5h0M375.1 1315.3h0M379.0 1313.2h0M382.8 1315.8h0M386.6 1318.3h0M390.4 1320.9h0M400.6 1352.7h0M415.9 1360.8h0M435.6 1313.2h0M438.2 1315.1h0M440.7 1317.0h0M443.9 1314.9h0M447.1 1312.7h0M450.5 1311.6h0M453.9 1310.5h0M457.3 1309.4h0M461.1 1307.7h0M464.9 1306.0h0M468.7 1304.3h0M472.5 1302.2h0M476.3 1300.1h0M480.2 1298.0h0M490.3 1323.4h0M494.2 1323.8h0M498.0 1324.3h0M501.8 1324.7h0M508.2 1308.1h0M509.9 1338.7h0M517.6 1319.6h0M525.2 1341.2h0M542.5 1320.9h0M551.4 1350.1h0M554.7 1352.4h0M557.9 1354.7h0M561.1 1357.0h0M568.0 1324.7h0M571.2 1325.9h0M574.3 1327.2h0M578.9 1348.9h0M638.0 1280.1h0M640.5 1319.6h0M645.6 1336.1h0M647.5 1339.3h0M649.4 1342.5h0M662.1 1322.1h0M674.3 1378.1h0M680.7 1342.5h0M681.1 1346.7h0M681.6 1351.0h0M682.0 1355.2h0M685.8 1356.1h0M689.6 1357.0h0M692.2 1336.1h0M704.9 1319.6h0M713.8 1331.0h0M716.3 1331.0h0M718.5 1327.6h0M720.6 1324.3h0M722.7 1320.9h0M745.6 1329.0h0M768.5 1357.0h0M774.9 1324.7h0M778.7 1360.3h0M782.5 1338.7h0M848.7 1303.0h0M849.2 1327.2h0" stroke="#ff0000" stroke-width="6.6" stroke-linecap="round" fill="none"/><polyline class="bl" style="stroke-width:5.6" points="178.4,1313.7 182.5,1202.5 187.6,1261.1 193.2,1244.0 199.5,1273.8 223.7,1306.1 224.5,1273.8 235.2,1304.3 239.0,1271.2 242.8,1285.2 253.0,1251.6 269.5,1258.5 301.3,1273.8 302.1,1267.4 302.6,1296.7 314.1,1290.8 350.4,1331.0 352.2,1314.5 358.1,1333.6 365.0,1325.9 370.6,1336.1 370.6,1314.5 381.0,1327.2 390.4,1328.0 400.6,1338.7 415.9,1348.9 440.7,1278.9 443.3,1285.2 457.3,1295.4 468.7,1275.0 480.9,1271.2 492.9,1329.8 498.0,1315.8 503.1,1310.7 508.2,1312.0 510.7,1333.6 512.0,1310.7 518.9,1305.1 525.2,1315.8 542.5,1328.5 552.2,1343.8 561.6,1334.9 568.0,1325.4 574.3,1327.2 575.6,1324.7 579.4,1332.3 580.7,1314.5 592.1,1317.0 640.5,1272.0 643.0,1291.6 645.6,1308.1 650.7,1320.9 664.7,1304.3 674.3,1361.6 680.7,1367.2 690.4,1355.2 692.2,1334.9 706.7,1298.0 708.7,1308.1 712.5,1329.8 713.8,1300.5 716.3,1308.1 722.7,1305.6 744.9,1270.0 768.5,1355.2 774.9,1328.5 778.7,1355.2 781.2,1325.9 782.0,1348.9 848.7,1296.7 849.2,1319.6"/><path d="M178.4 1313.7h0M182.5 1202.5h0M187.6 1261.1h0M193.2 1244.0h0M199.5 1273.8h0M223.7 1306.1h0M224.5 1273.8h0M235.2 1304.3h0M239.0 1271.2h0M242.8 1285.2h0M253.0 1251.6h0M269.5 1258.5h0M301.3 1273.8h0M301.7 1270.6h0M302.1 1267.4h0M302.6 1296.7h0M306.4 1294.7h0M310.2 1292.8h0M314.1 1290.8h0M350.4 1331.0h0M352.2 1314.5h0M358.1 1333.6h0M360.4 1331.0h0M362.7 1328.5h0M365.0 1325.9h0M366.8 1329.3h0M368.7 1332.7h0M370.6 1336.1h0M370.6 1314.5h0M381.0 1327.2h0M385.7 1327.6h0M390.4 1328.0h0M400.6 1338.7h0M415.9 1348.9h0M440.7 1278.9h0M442.0 1282.0h0M443.3 1285.2h0M457.3 1295.4h0M468.7 1275.0h0M472.8 1273.8h0M476.9 1272.5h0M480.9 1271.2h0M492.9 1329.8h0M498.0 1315.8h0M500.5 1313.2h0M503.1 1310.7h0M505.6 1311.3h0M508.2 1312.0h0M510.7 1333.6h0M512.0 1310.7h0M515.4 1307.9h0M518.9 1305.1h0M521.0 1308.6h0M523.1 1312.2h0M525.2 1315.8h0M542.5 1328.5h0M552.2 1343.8h0M555.3 1340.8h0M558.5 1337.8h0M561.6 1334.9h0M563.7 1331.7h0M565.8 1328.6h0M568.0 1325.4h0M571.2 1326.3h0M574.3 1327.2h0M575.6 1324.7h0M577.5 1328.5h0M579.4 1332.3h0M580.7 1314.5h0M584.5 1315.3h0M588.3 1316.2h0M592.1 1317.0h0M640.5 1272.0h0M643.0 1291.6h0M645.6 1308.1h0M647.3 1312.4h0M649.0 1316.6h0M650.7 1320.9h0M664.7 1304.3h0M674.3 1361.6h0M677.5 1364.4h0M680.7 1367.2h0M690.4 1355.2h0M692.2 1334.9h0M706.7 1298.0h0M707.4 1301.3h0M708.0 1304.7h0M708.7 1308.1h0M712.5 1329.8h0M713.8 1300.5h0M715.1 1304.3h0M716.3 1308.1h0M719.5 1306.9h0M722.7 1305.6h0M744.9 1270.0h0M768.5 1355.2h0M774.9 1328.5h0M778.7 1355.2h0M781.2 1325.9h0M782.0 1348.9h0M848.7 1296.7h0M849.2 1319.6h0" stroke="#0000ff" stroke-width="6.6" stroke-linecap="round" fill="none"/><polyline class="k" style="stroke-width:2.9" points="177.9,1048.5 182.5,1118.0 188.1,1142.7 193.2,1191.1 198.8,1244.0 223.7,1248.8 224.5,1220.3 234.4,1263.1 234.4,1221.6 239.0,1219.1 243.6,1217.8 253.0,1226.2 270.0,1249.1 297.0,1296.7 301.3,1304.3 314.1,1262.8 350.4,1275.6 358.1,1269.4 365.5,1271.2 371.8,1275.0 381.0,1283.2 389.6,1298.0 401.3,1312.5 415.9,1313.7 431.8,1298.0 442.0,1280.1 447.1,1264.9 457.3,1257.7 468.7,1263.6 480.9,1276.3 491.6,1298.0 496.7,1302.5 503.1,1292.9 509.4,1282.7 514.0,1280.1 518.3,1284.0 524.7,1305.6 542.5,1318.8 551.4,1320.9 561.6,1314.5 568.0,1306.9 574.3,1296.7 578.1,1284.0 579.4,1291.6 590.9,1282.7 639.2,1246.5 645.6,1243.2 656.5,1250.9 664.7,1272.5 674.3,1296.7 680.7,1308.1 689.6,1314.5 701.1,1308.1 708.7,1300.5 713.3,1296.7 715.8,1279.6 722.7,1273.8 745.6,1261.8 768.5,1294.1 771.1,1303.0 776.2,1314.5 778.7,1325.9 779.5,1336.1 849.2,1263.6 849.2,1258.5"/><path d="M177.9 1048.5h0M182.5 1118.0h0M188.1 1142.7h0M193.2 1191.1h0M198.8 1244.0h0M223.7 1248.8h0M224.5 1220.3h0M234.4 1263.1h0M234.4 1221.6h0M239.0 1219.1h0M243.6 1217.8h0M246.7 1220.6h0M249.8 1223.4h0M253.0 1226.2h0M270.0 1249.1h0M297.0 1296.7h0M299.2 1300.5h0M301.3 1304.3h0M314.1 1262.8h0M350.4 1275.6h0M354.3 1272.5h0M358.1 1269.4h0M361.8 1270.3h0M365.5 1271.2h0M368.6 1273.1h0M371.8 1275.0h0M374.9 1277.8h0M377.9 1280.5h0M381.0 1283.2h0M389.6 1298.0h0M401.3 1312.5h0M415.9 1313.7h0M431.8 1298.0h0M442.0 1280.1h0M447.1 1264.9h0M450.5 1262.5h0M453.9 1260.1h0M457.3 1257.7h0M461.1 1259.7h0M464.9 1261.6h0M468.7 1263.6h0M480.9 1276.3h0M491.6 1298.0h0M494.2 1300.2h0M496.7 1302.5h0M499.9 1297.7h0M503.1 1292.9h0M505.2 1289.5h0M507.3 1286.1h0M509.4 1282.7h0M514.0 1280.1h0M518.3 1284.0h0M524.7 1305.6h0M542.5 1318.8h0M547.0 1319.8h0M551.4 1320.9h0M554.8 1318.7h0M558.2 1316.6h0M561.6 1314.5h0M564.8 1310.7h0M568.0 1306.9h0M570.1 1303.5h0M572.2 1300.1h0M574.3 1296.7h0M575.6 1292.4h0M576.9 1288.2h0M578.1 1284.0h0M578.8 1287.8h0M579.4 1291.6h0M590.9 1282.7h0M639.2 1246.5h0M642.4 1244.9h0M645.6 1243.2h0M649.2 1245.8h0M652.9 1248.3h0M656.5 1250.9h0M664.7 1272.5h0M674.3 1296.7h0M676.5 1300.5h0M678.6 1304.3h0M680.7 1308.1h0M685.2 1311.3h0M689.6 1314.5h0M693.4 1312.4h0M697.3 1310.3h0M701.1 1308.1h0M704.9 1304.3h0M708.7 1300.5h0M713.3 1296.7h0M715.8 1279.6h0M719.3 1276.7h0M722.7 1273.8h0M745.6 1261.8h0M768.5 1294.1h0M769.8 1298.6h0M771.1 1303.0h0M772.8 1306.9h0M774.5 1310.7h0M776.2 1314.5h0M777.4 1320.2h0M778.7 1325.9h0M779.1 1331.0h0M779.5 1336.1h0M849.2 1263.6h0M849.2 1258.5h0" stroke="#000" stroke-width="4.8" stroke-linecap="round" fill="none"/></g>
<path class="ax" d="M162.0 1442.0v-7.5M162.0 1046.3v7.5M231.8 1442.0v-7.5M231.8 1046.3v7.5M301.7 1442.0v-7.5M301.7 1046.3v7.5M371.5 1442.0v-7.5M371.5 1046.3v7.5M441.3 1442.0v-7.5M441.3 1046.3v7.5M511.1 1442.0v-7.5M511.1 1046.3v7.5M581.0 1442.0v-7.5M581.0 1046.3v7.5M650.8 1442.0v-7.5M650.8 1046.3v7.5M720.6 1442.0v-7.5M720.6 1046.3v7.5M790.5 1442.0v-7.5M790.5 1046.3v7.5M860.3 1442.0v-7.5M860.3 1046.3v7.5M127.5 1406.0h7.5M895.7 1406.0h-7.5M127.5 1334.1h7.5M895.7 1334.1h-7.5M127.5 1262.1h7.5M895.7 1262.1h-7.5M127.5 1190.2h7.5M895.7 1190.2h-7.5M127.5 1118.2h7.5M895.7 1118.2h-7.5" stroke-width="1.3"/>
<rect class="ax" x="127.5" y="1046.3" width="768.2" height="395.70000000000005"/>
</g>
<g>
<rect x="899.0" y="1046.3" width="768.0" height="395.70000000000005" fill="#fff"/>
<path class="g" d="M981.0 1046.3V1442.0M1087.3 1046.3V1442.0M1193.6 1046.3V1442.0M1299.9 1046.3V1442.0M1406.2 1046.3V1442.0M1512.5 1046.3V1442.0M1618.8 1046.3V1442.0M899.0 1406.0H1667.0M899.0 1334.1H1667.0M899.0 1262.1H1667.0M899.0 1190.2H1667.0M899.0 1118.2H1667.0"/>
<clipPath id="c21"><rect x="899.0" y="1046.3" width="768.0" height="395.70000000000005"/></clipPath>
<g clip-path="url(#c21)"><polyline class="r" style="stroke-width:5.8" points="904.5,1309.2 905.4,1339.0 906.6,1306.7 908.3,1333.1 909.2,1304.9 911.3,1329.0 912.1,1305.4 913.3,1339.9 914.9,1304.7 915.8,1334.2 916.7,1304.1 918.6,1329.4 919.8,1310.6 921.4,1330.7 923.2,1304.5 924.8,1339.8 926.2,1306.4 927.6,1337.6 929.6,1306.0 931.0,1353.0 932.7,1314.2 934.1,1359.5 934.8,1320.2 937.1,1361.6 938.4,1317.7 939.7,1359.2 941.4,1321.2 942.8,1368.0 943.9,1327.5 945.8,1368.3 947.2,1316.8 948.3,1361.0 949.5,1316.5 950.1,1358.5 951.9,1312.4 952.5,1356.1 954.2,1304.6 955.8,1375.7 957.3,1305.3 959.1,1367.5 961.0,1304.6 961.4,1358.9 963.4,1309.8 965.2,1346.5 966.3,1307.9 967.7,1353.9 969.1,1315.4 970.9,1356.9 971.8,1318.0 973.0,1360.2 974.5,1303.1 975.6,1361.2 977.8,1308.9 979.0,1339.8 980.6,1304.1 982.2,1341.2 983.3,1306.9 984.1,1354.6 985.1,1311.8 986.8,1313.2 988.1,1376.8 991.1,1247.1 994.4,1275.0 995.2,1374.3 1001.8,1304.6 1003.2,1368.4 1004.2,1314.7 1006.4,1357.3 1007.6,1311.5 1008.6,1368.0 1010.0,1302.5 1011.4,1364.7 1012.9,1306.5 1013.9,1374.2 1015.1,1306.8 1016.4,1373.4 1017.5,1310.4 1019.0,1372.2 1020.1,1320.1 1022.2,1373.0 1023.6,1310.6 1024.4,1377.4 1025.9,1319.8 1027.2,1364.9 1029.3,1317.5 1030.5,1369.2 1032.2,1306.1 1033.8,1352.6 1035.1,1315.9 1036.3,1354.2 1038.2,1311.6 1038.9,1342.9 1040.3,1316.2 1041.5,1357.0 1043.7,1316.9 1047.9,1275.0 1049.2,1198.7 1051.7,1262.3 1056.8,1300.5 1060.6,1328.5 1065.5,1306.2 1067.2,1357.4 1068.7,1307.5 1070.1,1358.8 1071.6,1323.3 1073.8,1366.2 1075.1,1329.7 1076.3,1368.3 1077.7,1322.6 1078.5,1360.3 1080.2,1323.9 1081.8,1362.1 1082.8,1325.4 1084.0,1359.9 1085.9,1320.4 1087.2,1368.3 1089.3,1326.4 1090.1,1362.2 1092.3,1321.9 1093.6,1353.4 1095.4,1317.5 1097.0,1351.3 1099.0,1302.8 1099.2,1304.5 1100.9,1353.3 1101.6,1300.5 1104.0,1300.5 1107.3,1407.4 1110.4,1275.0 1114.2,1224.1 1116.7,1099.4 1118.5,1224.1 1120.0,1300.5 1122.6,1352.7 1122.8,1311.1 1123.8,1346.7 1124.8,1308.5 1125.9,1345.1 1127.7,1312.9 1129.7,1344.1 1130.4,1303.0 1131.4,1351.4 1133.2,1315.4 1134.7,1349.5 1136.6,1305.2 1138.2,1347.1 1138.7,1313.2 1140.5,1343.4 1141.3,1313.5 1143.2,1349.9 1145.0,1312.9 1146.1,1352.6 1147.7,1304.8 1148.3,1343.6 1151.1,1373.0 1153.6,1338.7 1156.7,1275.0 1160.0,1264.9 1160.8,1379.4 1171.4,1426.5 1171.4,1275.0 1176.5,1264.9 1179.1,1300.5 1182.9,1351.4 1185.4,1366.7 1188.0,1320.9 1203.3,1353.9 1209.6,1323.4 1210.9,1254.7 1268.1,1342.5 1283.4,1310.7 1283.1,1305.5 1285.3,1365.8 1287.5,1320.5 1289.4,1354.3 1290.3,1278.1 1292.0,1329.4 1293.5,1263.3 1296.0,1318.5 1298.8,1282.1 1300.9,1328.7 1303.4,1302.5 1305.7,1332.4 1308.0,1309.0 1309.8,1350.7 1311.3,1325.1 1355.1,1270.0 1355.8,1292.9 1357.6,1225.4 1364.0,1275.0 1371.6,1319.6 1372.5,1314.2 1374.8,1359.6 1377.5,1307.1 1379.3,1357.4 1381.7,1305.6 1383.2,1349.9 1385.6,1294.1 1399.6,1289.0 1401.4,1305.7 1402.0,1357.1 1403.6,1307.5 1405.3,1356.3 1407.5,1306.2 1409.4,1360.5 1412.5,1307.8 1414.0,1351.5 1415.4,1313.2 1417.0,1342.8 1418.7,1296.7 1421.3,1325.6 1423.7,1275.4 1425.3,1327.4 1426.9,1282.5 1430.3,1341.6 1431.4,1315.0 1433.0,1353.5 1434.6,1306.6 1436.0,1345.1 1438.4,1308.5 1441.2,1343.3 1443.2,1302.4 1445.1,1347.6 1447.1,1305.5 1449.2,1336.1 1450.2,1294.6 1458.1,1303.0 1470.9,1333.6 1471.8,1301.4 1474.3,1350.8 1476.3,1312.4 1478.2,1355.0 1479.9,1309.4 1481.9,1356.0 1484.1,1319.5 1486.0,1372.0 1488.2,1337.8 1489.4,1365.6 1491.3,1308.4 1492.9,1353.9 1495.2,1304.7 1496.5,1341.0 1499.6,1296.1 1500.9,1345.8 1502.7,1299.8 1504.7,1337.6 1506.3,1308.0 1508.3,1347.8 1509.8,1317.0 1511.8,1355.6 1512.9,1309.9 1524.7,1366.7 1527.7,1330.2 1528.9,1375.0 1531.1,1333.6 1532.4,1365.2 1534.3,1331.9 1535.8,1365.3 1537.3,1331.8 1539.3,1360.7 1541.4,1328.9 1542.7,1350.2 1544.7,1314.5 1546.2,1333.8 1547.4,1311.9 1549.2,1346.5 1551.5,1305.8 1552.9,1346.3 1555.0,1301.9 1556.9,1348.8 1559.6,1311.1 1561.7,1335.6 1563.3,1299.5 1565.4,1346.7 1567.7,1307.1 1569.0,1356.9 1570.4,1311.2 1572.7,1362.5 1575.2,1308.0 1576.7,1355.1 1578.4,1311.1 1580.8,1333.1 1583.4,1304.6 1584.9,1329.8 1587.3,1305.5 1588.3,1327.2 1657.1,1304.3 1656.5,1185.5 1659.6,1332.3"/><path d="M904.5 1309.2h0M904.6 1312.9h0M904.7 1316.6h0M904.8 1320.4h0M904.9 1324.1h0M905.0 1327.8h0M905.2 1331.5h0M905.3 1335.2h0M905.4 1339.0h0M905.5 1335.4h0M905.7 1331.8h0M905.8 1328.2h0M905.9 1324.6h0M906.0 1321.0h0M906.2 1317.4h0M906.3 1313.9h0M906.4 1310.3h0M906.6 1306.7h0M906.8 1310.5h0M907.0 1314.2h0M907.3 1318.0h0M907.5 1321.8h0M907.8 1325.5h0M908.0 1329.3h0M908.3 1333.1h0M908.4 1329.6h0M908.5 1326.0h0M908.6 1322.5h0M908.8 1319.0h0M908.9 1315.4h0M909.0 1311.9h0M909.1 1308.4h0M909.2 1304.9h0M909.5 1308.3h0M909.8 1311.8h0M910.1 1315.2h0M910.4 1318.6h0M910.7 1322.1h0M911.0 1325.5h0M911.3 1329.0h0M911.4 1325.1h0M911.6 1321.1h0M911.7 1317.2h0M911.9 1313.3h0M912.0 1309.4h0M912.1 1305.4h0M912.3 1309.3h0M912.4 1313.1h0M912.5 1316.9h0M912.7 1320.8h0M912.8 1324.6h0M912.9 1328.4h0M913.1 1332.2h0M913.2 1336.1h0M913.3 1339.9h0M913.5 1336.0h0M913.7 1332.1h0M913.9 1328.2h0M914.0 1324.3h0M914.2 1320.4h0M914.4 1316.5h0M914.6 1312.6h0M914.8 1308.6h0M914.9 1304.7h0M915.0 1308.4h0M915.1 1312.1h0M915.3 1315.8h0M915.4 1319.5h0M915.5 1323.1h0M915.6 1326.8h0M915.7 1330.5h0M915.8 1334.2h0M915.9 1330.4h0M916.0 1326.7h0M916.1 1322.9h0M916.3 1319.2h0M916.4 1315.4h0M916.5 1311.7h0M916.6 1307.9h0M916.7 1304.1h0M917.0 1307.8h0M917.2 1311.4h0M917.5 1315.0h0M917.8 1318.6h0M918.0 1322.2h0M918.3 1325.8h0M918.6 1329.4h0M918.8 1325.7h0M919.1 1321.9h0M919.3 1318.1h0M919.6 1314.3h0M919.8 1310.6h0M920.1 1313.9h0M920.3 1317.3h0M920.6 1320.6h0M920.9 1324.0h0M921.1 1327.3h0M921.4 1330.7h0M921.6 1326.9h0M921.9 1323.2h0M922.2 1319.5h0M922.4 1315.7h0M922.7 1312.0h0M922.9 1308.3h0M923.2 1304.5h0M923.4 1308.4h0M923.6 1312.4h0M923.7 1316.3h0M923.9 1320.2h0M924.1 1324.1h0M924.3 1328.0h0M924.4 1331.9h0M924.6 1335.9h0M924.8 1339.8h0M925.0 1336.1h0M925.1 1332.4h0M925.3 1328.7h0M925.4 1325.0h0M925.6 1321.3h0M925.7 1317.5h0M925.9 1313.8h0M926.0 1310.1h0M926.2 1306.4h0M926.4 1310.3h0M926.5 1314.2h0M926.7 1318.1h0M926.9 1322.0h0M927.1 1325.9h0M927.2 1329.8h0M927.4 1333.7h0M927.6 1337.6h0M927.8 1333.6h0M928.1 1329.7h0M928.3 1325.7h0M928.6 1321.8h0M928.8 1317.8h0M929.1 1313.9h0M929.3 1309.9h0M929.6 1306.0h0M929.7 1309.9h0M929.8 1313.8h0M929.9 1317.7h0M930.1 1321.6h0M930.2 1325.6h0M930.3 1329.5h0M930.4 1333.4h0M930.5 1337.3h0M930.7 1341.3h0M930.8 1345.2h0M930.9 1349.1h0M931.0 1353.0h0M931.2 1349.1h0M931.4 1345.3h0M931.5 1341.4h0M931.7 1337.5h0M931.9 1333.6h0M932.0 1329.7h0M932.2 1325.8h0M932.4 1322.0h0M932.6 1318.1h0M932.7 1314.2h0M932.8 1318.0h0M932.9 1321.8h0M933.1 1325.5h0M933.2 1329.3h0M933.3 1333.1h0M933.4 1336.9h0M933.5 1340.6h0M933.6 1344.4h0M933.7 1348.2h0M933.8 1352.0h0M934.0 1355.7h0M934.1 1359.5h0M934.1 1355.6h0M934.2 1351.7h0M934.3 1347.7h0M934.4 1343.8h0M934.4 1339.9h0M934.5 1335.9h0M934.6 1332.0h0M934.7 1328.1h0M934.7 1324.2h0M934.8 1320.2h0M935.0 1324.0h0M935.2 1327.8h0M935.5 1331.5h0M935.7 1335.3h0M935.9 1339.0h0M936.1 1342.8h0M936.3 1346.6h0M936.5 1350.3h0M936.7 1354.1h0M936.9 1357.9h0M937.1 1361.6h0M937.3 1357.6h0M937.4 1353.6h0M937.5 1349.6h0M937.6 1345.6h0M937.7 1341.6h0M937.8 1337.6h0M937.9 1333.6h0M938.0 1329.6h0M938.1 1325.7h0M938.2 1321.7h0M938.4 1317.7h0M938.5 1321.4h0M938.6 1325.2h0M938.7 1329.0h0M938.8 1332.8h0M939.0 1336.5h0M939.1 1340.3h0M939.2 1344.1h0M939.3 1347.9h0M939.5 1351.6h0M939.6 1355.4h0M939.7 1359.2h0M939.9 1355.4h0M940.0 1351.6h0M940.2 1347.8h0M940.4 1344.0h0M940.5 1340.2h0M940.7 1336.4h0M940.9 1332.6h0M941.0 1328.8h0M941.2 1325.0h0M941.4 1321.2h0M941.5 1325.1h0M941.6 1329.0h0M941.7 1332.9h0M941.9 1336.8h0M942.0 1340.7h0M942.1 1344.6h0M942.2 1348.5h0M942.3 1352.4h0M942.4 1356.3h0M942.6 1360.2h0M942.7 1364.1h0M942.8 1368.0h0M942.9 1364.3h0M943.0 1360.7h0M943.1 1357.0h0M943.2 1353.3h0M943.3 1349.6h0M943.4 1345.9h0M943.5 1342.2h0M943.6 1338.5h0M943.7 1334.8h0M943.8 1331.1h0M943.9 1327.5h0M944.0 1331.2h0M944.2 1334.9h0M944.4 1338.6h0M944.6 1342.3h0M944.8 1346.0h0M944.9 1349.7h0M945.1 1353.4h0M945.3 1357.2h0M945.5 1360.9h0M945.7 1364.6h0M945.8 1368.3h0M946.0 1364.3h0M946.1 1360.4h0M946.2 1356.4h0M946.3 1352.4h0M946.4 1348.5h0M946.5 1344.5h0M946.6 1340.6h0M946.7 1336.6h0M946.8 1332.6h0M946.9 1328.7h0M947.0 1324.7h0M947.1 1320.7h0M947.2 1316.8h0M947.3 1320.5h0M947.4 1324.2h0M947.5 1327.8h0M947.6 1331.5h0M947.7 1335.2h0M947.8 1338.9h0M947.9 1342.6h0M947.9 1346.3h0M948.0 1350.0h0M948.1 1353.6h0M948.2 1357.3h0M948.3 1361.0h0M948.4 1357.3h0M948.5 1353.6h0M948.6 1349.9h0M948.7 1346.2h0M948.8 1342.5h0M948.9 1338.8h0M949.0 1335.1h0M949.1 1331.4h0M949.2 1327.6h0M949.3 1323.9h0M949.4 1320.2h0M949.5 1316.5h0M949.6 1320.3h0M949.6 1324.2h0M949.7 1328.0h0M949.7 1331.8h0M949.8 1335.6h0M949.8 1339.4h0M949.9 1343.2h0M950.0 1347.1h0M950.0 1350.9h0M950.1 1354.7h0M950.1 1358.5h0M950.3 1354.7h0M950.4 1350.8h0M950.6 1347.0h0M950.7 1343.2h0M950.9 1339.3h0M951.0 1335.5h0M951.2 1331.6h0M951.3 1327.8h0M951.5 1324.0h0M951.6 1320.1h0M951.8 1316.3h0M951.9 1312.4h0M952.0 1316.4h0M952.0 1320.4h0M952.1 1324.4h0M952.1 1328.3h0M952.2 1332.3h0M952.2 1336.3h0M952.3 1340.2h0M952.3 1344.2h0M952.4 1348.2h0M952.4 1352.2h0M952.5 1356.1h0M952.6 1352.2h0M952.7 1348.2h0M952.9 1344.2h0M953.0 1340.3h0M953.1 1336.3h0M953.3 1332.3h0M953.4 1328.4h0M953.6 1324.4h0M953.7 1320.4h0M953.8 1316.5h0M954.0 1312.5h0M954.1 1308.5h0M954.2 1304.6h0M954.3 1308.5h0M954.4 1312.5h0M954.5 1316.4h0M954.6 1320.4h0M954.7 1324.3h0M954.8 1328.3h0M954.9 1332.2h0M954.9 1336.2h0M955.0 1340.1h0M955.1 1344.1h0M955.2 1348.0h0M955.3 1352.0h0M955.4 1355.9h0M955.5 1359.9h0M955.6 1363.8h0M955.7 1367.8h0M955.8 1371.7h0M955.8 1375.7h0M955.9 1371.8h0M956.0 1367.9h0M956.1 1364.0h0M956.2 1360.0h0M956.2 1356.1h0M956.3 1352.2h0M956.4 1348.3h0M956.5 1344.4h0M956.6 1340.5h0M956.6 1336.6h0M956.7 1332.7h0M956.8 1328.7h0M956.9 1324.8h0M957.0 1320.9h0M957.0 1317.0h0M957.1 1313.1h0M957.2 1309.2h0M957.3 1305.3h0M957.4 1309.2h0M957.5 1313.0h0M957.6 1316.9h0M957.7 1320.8h0M957.8 1324.7h0M958.0 1328.6h0M958.1 1332.5h0M958.2 1336.4h0M958.3 1340.3h0M958.4 1344.1h0M958.5 1348.0h0M958.6 1351.9h0M958.7 1355.8h0M958.9 1359.7h0M959.0 1363.6h0M959.1 1367.5h0M959.2 1363.5h0M959.3 1359.6h0M959.4 1355.7h0M959.6 1351.7h0M959.7 1347.8h0M959.8 1343.9h0M959.9 1340.0h0M960.0 1336.0h0M960.1 1332.1h0M960.3 1328.2h0M960.4 1324.2h0M960.5 1320.3h0M960.6 1316.4h0M960.7 1312.4h0M960.8 1308.5h0M961.0 1304.6h0M961.0 1308.4h0M961.0 1312.3h0M961.1 1316.2h0M961.1 1320.1h0M961.1 1324.0h0M961.2 1327.8h0M961.2 1331.7h0M961.2 1335.6h0M961.3 1339.5h0M961.3 1343.4h0M961.3 1347.2h0M961.4 1351.1h0M961.4 1355.0h0M961.4 1358.9h0M961.6 1355.1h0M961.7 1351.3h0M961.9 1347.5h0M962.0 1343.8h0M962.2 1340.0h0M962.3 1336.2h0M962.5 1332.5h0M962.6 1328.7h0M962.8 1324.9h0M962.9 1321.1h0M963.1 1317.4h0M963.2 1313.6h0M963.4 1309.8h0M963.6 1313.5h0M963.7 1317.2h0M963.9 1320.8h0M964.1 1324.5h0M964.3 1328.2h0M964.5 1331.8h0M964.7 1335.5h0M964.9 1339.2h0M965.0 1342.9h0M965.2 1346.5h0M965.3 1342.7h0M965.4 1338.8h0M965.5 1334.9h0M965.6 1331.1h0M965.7 1327.2h0M965.8 1323.4h0M965.9 1319.5h0M966.1 1315.6h0M966.2 1311.8h0M966.3 1307.9h0M966.4 1311.8h0M966.5 1315.6h0M966.6 1319.4h0M966.7 1323.3h0M966.9 1327.1h0M967.0 1330.9h0M967.1 1334.8h0M967.2 1338.6h0M967.3 1342.4h0M967.5 1346.3h0M967.6 1350.1h0M967.7 1353.9h0M967.8 1350.1h0M968.0 1346.2h0M968.1 1342.4h0M968.2 1338.5h0M968.4 1334.7h0M968.5 1330.8h0M968.7 1327.0h0M968.8 1323.1h0M968.9 1319.3h0M969.1 1315.4h0M969.2 1319.2h0M969.4 1322.9h0M969.6 1326.7h0M969.7 1330.5h0M969.9 1334.3h0M970.0 1338.0h0M970.2 1341.8h0M970.4 1345.6h0M970.5 1349.3h0M970.7 1353.1h0M970.9 1356.9h0M971.0 1353.0h0M971.0 1349.1h0M971.1 1345.2h0M971.2 1341.3h0M971.3 1337.4h0M971.4 1333.6h0M971.5 1329.7h0M971.6 1325.8h0M971.7 1321.9h0M971.8 1318.0h0M971.9 1321.8h0M972.0 1325.7h0M972.1 1329.5h0M972.2 1333.4h0M972.3 1337.2h0M972.5 1341.0h0M972.6 1344.9h0M972.7 1348.7h0M972.8 1352.5h0M972.9 1356.4h0M973.0 1360.2h0M973.1 1356.4h0M973.2 1352.6h0M973.3 1348.8h0M973.4 1345.0h0M973.5 1341.2h0M973.6 1337.4h0M973.7 1333.6h0M973.8 1329.8h0M973.9 1325.9h0M974.0 1322.1h0M974.1 1318.3h0M974.2 1314.5h0M974.3 1310.7h0M974.4 1306.9h0M974.5 1303.1h0M974.6 1307.0h0M974.7 1310.9h0M974.7 1314.7h0M974.8 1318.6h0M974.9 1322.5h0M974.9 1326.4h0M975.0 1330.2h0M975.1 1334.1h0M975.1 1338.0h0M975.2 1341.9h0M975.3 1345.7h0M975.4 1349.6h0M975.4 1353.5h0M975.5 1357.4h0M975.6 1361.2h0M975.7 1357.5h0M975.9 1353.8h0M976.0 1350.0h0M976.2 1346.3h0M976.4 1342.6h0M976.5 1338.8h0M976.7 1335.1h0M976.9 1331.4h0M977.0 1327.6h0M977.2 1323.9h0M977.3 1320.2h0M977.5 1316.4h0M977.7 1312.7h0M977.8 1308.9h0M978.0 1312.8h0M978.1 1316.7h0M978.2 1320.5h0M978.4 1324.4h0M978.5 1328.2h0M978.7 1332.1h0M978.8 1335.9h0M979.0 1339.8h0M979.1 1335.8h0M979.3 1331.8h0M979.5 1327.9h0M979.7 1323.9h0M979.9 1319.9h0M980.1 1316.0h0M980.2 1312.0h0M980.4 1308.0h0M980.6 1304.1h0M980.8 1307.8h0M980.9 1311.5h0M981.1 1315.2h0M981.2 1318.9h0M981.4 1322.7h0M981.6 1326.4h0M981.7 1330.1h0M981.9 1333.8h0M982.1 1337.5h0M982.2 1341.2h0M982.3 1337.4h0M982.4 1333.6h0M982.6 1329.8h0M982.7 1326.0h0M982.8 1322.1h0M982.9 1318.3h0M983.0 1314.5h0M983.1 1310.7h0M983.3 1306.9h0M983.3 1310.8h0M983.4 1314.8h0M983.5 1318.8h0M983.5 1322.8h0M983.6 1326.8h0M983.7 1330.7h0M983.8 1334.7h0M983.8 1338.7h0M983.9 1342.7h0M984.0 1346.7h0M984.1 1350.6h0M984.1 1354.6h0M984.2 1350.7h0M984.3 1346.8h0M984.4 1342.9h0M984.5 1339.1h0M984.6 1335.2h0M984.6 1331.3h0M984.7 1327.4h0M984.8 1323.5h0M984.9 1319.6h0M985.0 1315.7h0M985.1 1311.8h0M986.8 1313.2h0M986.9 1317.2h0M987.0 1321.2h0M987.0 1325.2h0M987.1 1329.1h0M987.2 1333.1h0M987.3 1337.1h0M987.4 1341.1h0M987.4 1345.0h0M987.5 1349.0h0M987.6 1353.0h0M987.7 1357.0h0M987.8 1360.9h0M987.8 1364.9h0M987.9 1368.9h0M988.0 1372.9h0M988.1 1376.8h0M991.1 1247.1h0M991.5 1250.6h0M992.0 1254.1h0M992.4 1257.6h0M992.8 1261.1h0M993.2 1264.6h0M993.6 1268.1h0M994.0 1271.5h0M994.4 1275.0h0M995.2 1374.3h0M995.6 1370.4h0M995.9 1366.6h0M996.3 1362.7h0M996.7 1358.8h0M997.0 1354.9h0M997.4 1351.1h0M997.8 1347.2h0M998.2 1343.3h0M998.5 1339.4h0M998.9 1335.6h0M999.3 1331.7h0M999.6 1327.8h0M1000.0 1323.9h0M1000.4 1320.1h0M1000.7 1316.2h0M1001.1 1312.3h0M1001.5 1308.5h0M1001.8 1304.6h0M1001.9 1308.6h0M1002.0 1312.6h0M1002.1 1316.5h0M1002.2 1320.5h0M1002.3 1324.5h0M1002.4 1328.5h0M1002.4 1332.5h0M1002.5 1336.5h0M1002.6 1340.5h0M1002.7 1344.5h0M1002.8 1348.5h0M1002.9 1352.5h0M1002.9 1356.4h0M1003.0 1360.4h0M1003.1 1364.4h0M1003.2 1368.4h0M1003.3 1364.6h0M1003.4 1360.7h0M1003.4 1356.9h0M1003.5 1353.1h0M1003.6 1349.2h0M1003.6 1345.4h0M1003.7 1341.5h0M1003.8 1337.7h0M1003.9 1333.9h0M1003.9 1330.0h0M1004.0 1326.2h0M1004.1 1322.3h0M1004.2 1318.5h0M1004.2 1314.7h0M1004.4 1318.5h0M1004.6 1322.4h0M1004.8 1326.3h0M1005.0 1330.2h0M1005.2 1334.0h0M1005.4 1337.9h0M1005.6 1341.8h0M1005.8 1345.7h0M1006.0 1349.6h0M1006.2 1353.4h0M1006.4 1357.3h0M1006.5 1353.5h0M1006.6 1349.7h0M1006.7 1345.9h0M1006.8 1342.1h0M1006.9 1338.2h0M1007.0 1334.4h0M1007.1 1330.6h0M1007.2 1326.8h0M1007.3 1323.0h0M1007.4 1319.2h0M1007.5 1315.3h0M1007.6 1311.5h0M1007.7 1315.3h0M1007.8 1319.1h0M1007.8 1322.8h0M1007.9 1326.6h0M1008.0 1330.4h0M1008.0 1334.1h0M1008.1 1337.9h0M1008.1 1341.6h0M1008.2 1345.4h0M1008.3 1349.2h0M1008.3 1352.9h0M1008.4 1356.7h0M1008.5 1360.5h0M1008.5 1364.2h0M1008.6 1368.0h0M1008.7 1364.1h0M1008.8 1360.3h0M1008.8 1356.4h0M1008.9 1352.6h0M1009.0 1348.7h0M1009.1 1344.9h0M1009.2 1341.0h0M1009.2 1337.2h0M1009.3 1333.3h0M1009.4 1329.5h0M1009.5 1325.6h0M1009.6 1321.8h0M1009.6 1317.9h0M1009.7 1314.0h0M1009.8 1310.2h0M1009.9 1306.3h0M1010.0 1302.5h0M1010.1 1306.4h0M1010.1 1310.3h0M1010.2 1314.1h0M1010.3 1318.0h0M1010.4 1321.9h0M1010.5 1325.8h0M1010.6 1329.7h0M1010.7 1333.6h0M1010.8 1337.5h0M1010.8 1341.3h0M1010.9 1345.2h0M1011.0 1349.1h0M1011.1 1353.0h0M1011.2 1356.9h0M1011.3 1360.8h0M1011.4 1364.7h0M1011.5 1360.8h0M1011.6 1356.9h0M1011.7 1353.0h0M1011.8 1349.2h0M1011.9 1345.3h0M1012.0 1341.4h0M1012.1 1337.5h0M1012.2 1333.7h0M1012.3 1329.8h0M1012.4 1325.9h0M1012.5 1322.0h0M1012.6 1318.2h0M1012.7 1314.3h0M1012.8 1310.4h0M1012.9 1306.5h0M1013.0 1310.5h0M1013.0 1314.5h0M1013.1 1318.5h0M1013.1 1322.5h0M1013.2 1326.5h0M1013.3 1330.4h0M1013.3 1334.4h0M1013.4 1338.4h0M1013.5 1342.4h0M1013.5 1346.4h0M1013.6 1350.4h0M1013.6 1354.3h0M1013.7 1358.3h0M1013.8 1362.3h0M1013.8 1366.3h0M1013.9 1370.3h0M1013.9 1374.2h0M1014.0 1370.3h0M1014.1 1366.3h0M1014.2 1362.3h0M1014.2 1358.4h0M1014.3 1354.4h0M1014.4 1350.4h0M1014.4 1346.5h0M1014.5 1342.5h0M1014.6 1338.5h0M1014.6 1334.6h0M1014.7 1330.6h0M1014.8 1326.6h0M1014.9 1322.7h0M1014.9 1318.7h0M1015.0 1314.8h0M1015.1 1310.8h0M1015.1 1306.8h0M1015.2 1310.7h0M1015.3 1314.7h0M1015.4 1318.6h0M1015.4 1322.5h0M1015.5 1326.4h0M1015.6 1330.3h0M1015.6 1334.3h0M1015.7 1338.2h0M1015.8 1342.1h0M1015.9 1346.0h0M1015.9 1349.9h0M1016.0 1353.9h0M1016.1 1357.8h0M1016.1 1361.7h0M1016.2 1365.6h0M1016.3 1369.5h0M1016.4 1373.4h0M1016.4 1369.5h0M1016.5 1365.6h0M1016.6 1361.6h0M1016.6 1357.7h0M1016.7 1353.7h0M1016.8 1349.8h0M1016.8 1345.9h0M1016.9 1341.9h0M1017.0 1338.0h0M1017.1 1334.0h0M1017.1 1330.1h0M1017.2 1326.2h0M1017.3 1322.2h0M1017.3 1318.3h0M1017.4 1314.3h0M1017.5 1310.4h0M1017.6 1314.3h0M1017.7 1318.1h0M1017.8 1322.0h0M1017.9 1325.9h0M1018.0 1329.7h0M1018.1 1333.6h0M1018.2 1337.4h0M1018.2 1341.3h0M1018.3 1345.2h0M1018.4 1349.0h0M1018.5 1352.9h0M1018.6 1356.8h0M1018.7 1360.6h0M1018.8 1364.5h0M1018.9 1368.3h0M1019.0 1372.2h0M1019.1 1368.5h0M1019.2 1364.8h0M1019.3 1361.0h0M1019.3 1357.3h0M1019.4 1353.6h0M1019.5 1349.9h0M1019.6 1346.1h0M1019.7 1342.4h0M1019.7 1338.7h0M1019.8 1335.0h0M1019.9 1331.2h0M1020.0 1327.5h0M1020.1 1323.8h0M1020.1 1320.1h0M1020.3 1323.8h0M1020.4 1327.6h0M1020.6 1331.4h0M1020.7 1335.2h0M1020.9 1339.0h0M1021.0 1342.7h0M1021.2 1346.5h0M1021.3 1350.3h0M1021.4 1354.1h0M1021.6 1357.9h0M1021.7 1361.6h0M1021.9 1365.4h0M1022.0 1369.2h0M1022.2 1373.0h0M1022.3 1369.1h0M1022.3 1365.2h0M1022.4 1361.3h0M1022.5 1357.4h0M1022.6 1353.5h0M1022.7 1349.6h0M1022.8 1345.7h0M1022.9 1341.8h0M1023.0 1337.9h0M1023.1 1334.0h0M1023.2 1330.1h0M1023.3 1326.2h0M1023.4 1322.3h0M1023.4 1318.4h0M1023.5 1314.5h0M1023.6 1310.6h0M1023.7 1314.6h0M1023.7 1318.5h0M1023.8 1322.4h0M1023.8 1326.4h0M1023.9 1330.3h0M1023.9 1334.2h0M1023.9 1338.1h0M1024.0 1342.1h0M1024.0 1346.0h0M1024.1 1349.9h0M1024.1 1353.9h0M1024.2 1357.8h0M1024.2 1361.7h0M1024.3 1365.7h0M1024.3 1369.6h0M1024.4 1373.5h0M1024.4 1377.4h0M1024.5 1373.6h0M1024.6 1369.8h0M1024.7 1365.9h0M1024.8 1362.1h0M1024.9 1358.2h0M1025.0 1354.4h0M1025.1 1350.5h0M1025.2 1346.7h0M1025.3 1342.8h0M1025.4 1339.0h0M1025.5 1335.1h0M1025.6 1331.3h0M1025.7 1327.4h0M1025.8 1323.6h0M1025.9 1319.8h0M1026.0 1323.5h0M1026.1 1327.3h0M1026.2 1331.0h0M1026.3 1334.8h0M1026.4 1338.6h0M1026.5 1342.3h0M1026.6 1346.1h0M1026.7 1349.8h0M1026.8 1353.6h0M1026.9 1357.4h0M1027.1 1361.1h0M1027.2 1364.9h0M1027.3 1360.9h0M1027.5 1357.0h0M1027.7 1353.0h0M1027.9 1349.1h0M1028.0 1345.1h0M1028.2 1341.2h0M1028.4 1337.2h0M1028.6 1333.3h0M1028.8 1329.3h0M1028.9 1325.4h0M1029.1 1321.4h0M1029.3 1317.5h0M1029.4 1321.5h0M1029.5 1325.4h0M1029.6 1329.4h0M1029.6 1333.4h0M1029.7 1337.4h0M1029.8 1341.4h0M1029.9 1345.3h0M1030.0 1349.3h0M1030.1 1353.3h0M1030.2 1357.3h0M1030.3 1361.2h0M1030.4 1365.2h0M1030.5 1369.2h0M1030.6 1365.3h0M1030.7 1361.3h0M1030.8 1357.4h0M1030.9 1353.4h0M1031.0 1349.5h0M1031.1 1345.5h0M1031.2 1341.6h0M1031.3 1337.7h0M1031.4 1333.7h0M1031.5 1329.8h0M1031.6 1325.8h0M1031.7 1321.9h0M1031.8 1317.9h0M1032.0 1314.0h0M1032.1 1310.0h0M1032.2 1306.1h0M1032.3 1310.0h0M1032.4 1313.8h0M1032.6 1317.7h0M1032.7 1321.6h0M1032.8 1325.5h0M1033.0 1329.3h0M1033.1 1333.2h0M1033.2 1337.1h0M1033.4 1341.0h0M1033.5 1344.8h0M1033.6 1348.7h0M1033.8 1352.6h0M1033.9 1348.9h0M1034.0 1345.2h0M1034.2 1341.6h0M1034.3 1337.9h0M1034.4 1334.2h0M1034.6 1330.6h0M1034.7 1326.9h0M1034.8 1323.2h0M1035.0 1319.6h0M1035.1 1315.9h0M1035.2 1319.7h0M1035.3 1323.6h0M1035.5 1327.4h0M1035.6 1331.2h0M1035.7 1335.1h0M1035.8 1338.9h0M1035.9 1342.7h0M1036.0 1346.6h0M1036.1 1350.4h0M1036.3 1354.2h0M1036.4 1350.4h0M1036.6 1346.5h0M1036.8 1342.6h0M1036.9 1338.7h0M1037.1 1334.8h0M1037.3 1331.0h0M1037.5 1327.1h0M1037.6 1323.2h0M1037.8 1319.3h0M1038.0 1315.5h0M1038.2 1311.6h0M1038.3 1315.5h0M1038.3 1319.4h0M1038.4 1323.3h0M1038.5 1327.2h0M1038.6 1331.2h0M1038.7 1335.1h0M1038.8 1339.0h0M1038.9 1342.9h0M1039.1 1339.1h0M1039.3 1335.3h0M1039.5 1331.5h0M1039.7 1327.7h0M1039.9 1323.9h0M1040.1 1320.0h0M1040.3 1316.2h0M1040.4 1319.9h0M1040.5 1323.6h0M1040.6 1327.4h0M1040.7 1331.1h0M1040.8 1334.8h0M1041.0 1338.5h0M1041.1 1342.2h0M1041.2 1345.9h0M1041.3 1349.6h0M1041.4 1353.3h0M1041.5 1357.0h0M1041.7 1353.4h0M1041.9 1349.8h0M1042.1 1346.1h0M1042.3 1342.5h0M1042.5 1338.8h0M1042.7 1335.2h0M1042.9 1331.5h0M1043.1 1327.9h0M1043.3 1324.2h0M1043.5 1320.6h0M1043.7 1316.9h0M1044.1 1313.1h0M1044.5 1309.3h0M1044.9 1305.5h0M1045.2 1301.7h0M1045.6 1297.9h0M1046.0 1294.1h0M1046.4 1290.3h0M1046.8 1286.5h0M1047.1 1282.7h0M1047.5 1278.9h0M1047.9 1275.0h0M1049.2 1198.7h0M1049.3 1202.7h0M1049.5 1206.7h0M1049.6 1210.6h0M1049.8 1214.6h0M1049.9 1218.6h0M1050.1 1222.6h0M1050.3 1226.5h0M1050.4 1230.5h0M1050.6 1234.5h0M1050.7 1238.5h0M1050.9 1242.4h0M1051.1 1246.4h0M1051.2 1250.4h0M1051.4 1254.4h0M1051.5 1258.3h0M1051.7 1262.3h0M1052.2 1266.1h0M1052.7 1270.0h0M1053.2 1273.8h0M1053.7 1277.6h0M1054.2 1281.4h0M1054.8 1285.2h0M1055.3 1289.0h0M1055.8 1292.9h0M1056.3 1296.7h0M1056.8 1300.5h0M1057.3 1304.0h0M1057.7 1307.5h0M1058.2 1311.0h0M1058.7 1314.5h0M1059.2 1318.0h0M1059.7 1321.5h0M1060.1 1325.0h0M1060.6 1328.5h0M1061.4 1324.8h0M1062.2 1321.1h0M1063.0 1317.3h0M1063.8 1313.6h0M1064.7 1309.9h0M1065.5 1306.2h0M1065.6 1310.1h0M1065.7 1314.1h0M1065.9 1318.0h0M1066.0 1322.0h0M1066.1 1325.9h0M1066.3 1329.8h0M1066.4 1333.8h0M1066.5 1337.7h0M1066.7 1341.7h0M1066.8 1345.6h0M1066.9 1349.6h0M1067.1 1353.5h0M1067.2 1357.4h0M1067.3 1353.6h0M1067.4 1349.8h0M1067.5 1345.9h0M1067.7 1342.1h0M1067.8 1338.2h0M1067.9 1334.4h0M1068.0 1330.5h0M1068.1 1326.7h0M1068.2 1322.9h0M1068.3 1319.0h0M1068.5 1315.2h0M1068.6 1311.3h0M1068.7 1307.5h0M1068.8 1311.5h0M1068.9 1315.4h0M1069.0 1319.3h0M1069.1 1323.3h0M1069.2 1327.2h0M1069.3 1331.2h0M1069.5 1335.1h0M1069.6 1339.1h0M1069.7 1343.0h0M1069.8 1347.0h0M1069.9 1350.9h0M1070.0 1354.9h0M1070.1 1358.8h0M1070.3 1354.9h0M1070.4 1350.9h0M1070.6 1347.0h0M1070.8 1343.0h0M1071.0 1339.1h0M1071.1 1335.1h0M1071.3 1331.2h0M1071.5 1327.2h0M1071.6 1323.3h0M1071.8 1327.2h0M1072.0 1331.1h0M1072.2 1335.0h0M1072.4 1338.9h0M1072.6 1342.8h0M1072.8 1346.7h0M1073.0 1350.6h0M1073.2 1354.5h0M1073.4 1358.4h0M1073.6 1362.3h0M1073.8 1366.2h0M1073.9 1362.5h0M1074.0 1358.9h0M1074.2 1355.2h0M1074.3 1351.6h0M1074.4 1347.9h0M1074.6 1344.3h0M1074.7 1340.6h0M1074.9 1337.0h0M1075.0 1333.4h0M1075.1 1329.7h0M1075.3 1333.6h0M1075.4 1337.4h0M1075.5 1341.3h0M1075.6 1345.2h0M1075.7 1349.0h0M1075.8 1352.9h0M1076.0 1356.7h0M1076.1 1360.6h0M1076.2 1364.5h0M1076.3 1368.3h0M1076.4 1364.5h0M1076.5 1360.7h0M1076.7 1356.9h0M1076.8 1353.1h0M1076.9 1349.3h0M1077.0 1345.5h0M1077.1 1341.7h0M1077.2 1337.8h0M1077.3 1334.0h0M1077.5 1330.2h0M1077.6 1326.4h0M1077.7 1322.6h0M1077.8 1326.4h0M1077.8 1330.1h0M1077.9 1333.9h0M1078.0 1337.7h0M1078.1 1341.4h0M1078.2 1345.2h0M1078.2 1349.0h0M1078.3 1352.7h0M1078.4 1356.5h0M1078.5 1360.3h0M1078.7 1356.6h0M1078.8 1353.0h0M1079.0 1349.4h0M1079.2 1345.7h0M1079.3 1342.1h0M1079.5 1338.4h0M1079.7 1334.8h0M1079.8 1331.2h0M1080.0 1327.5h0M1080.2 1323.9h0M1080.3 1327.7h0M1080.5 1331.5h0M1080.7 1335.4h0M1080.8 1339.2h0M1081.0 1343.0h0M1081.1 1346.8h0M1081.3 1350.7h0M1081.5 1354.5h0M1081.6 1358.3h0M1081.8 1362.1h0M1081.9 1358.5h0M1082.0 1354.8h0M1082.1 1351.1h0M1082.2 1347.5h0M1082.3 1343.8h0M1082.4 1340.1h0M1082.5 1336.4h0M1082.6 1332.8h0M1082.7 1329.1h0M1082.8 1325.4h0M1082.9 1329.3h0M1083.1 1333.1h0M1083.2 1336.9h0M1083.3 1340.8h0M1083.5 1344.6h0M1083.6 1348.4h0M1083.8 1352.2h0M1083.9 1356.1h0M1084.0 1359.9h0M1084.2 1355.9h0M1084.4 1352.0h0M1084.6 1348.1h0M1084.8 1344.1h0M1085.0 1340.2h0M1085.2 1336.2h0M1085.4 1332.3h0M1085.5 1328.3h0M1085.7 1324.4h0M1085.9 1320.4h0M1086.0 1324.4h0M1086.1 1328.4h0M1086.2 1332.4h0M1086.3 1336.4h0M1086.4 1340.4h0M1086.5 1344.4h0M1086.6 1348.3h0M1086.7 1352.3h0M1086.9 1356.3h0M1087.0 1360.3h0M1087.1 1364.3h0M1087.2 1368.3h0M1087.4 1364.5h0M1087.5 1360.7h0M1087.7 1356.9h0M1087.9 1353.1h0M1088.1 1349.2h0M1088.3 1345.4h0M1088.5 1341.6h0M1088.7 1337.8h0M1088.9 1334.0h0M1089.1 1330.2h0M1089.3 1326.4h0M1089.4 1330.4h0M1089.4 1334.4h0M1089.5 1338.3h0M1089.6 1342.3h0M1089.7 1346.3h0M1089.8 1350.3h0M1089.9 1354.2h0M1090.0 1358.2h0M1090.1 1362.2h0M1090.3 1358.5h0M1090.5 1354.9h0M1090.7 1351.2h0M1090.9 1347.5h0M1091.1 1343.9h0M1091.3 1340.2h0M1091.5 1336.6h0M1091.7 1332.9h0M1091.9 1329.2h0M1092.1 1325.6h0M1092.3 1321.9h0M1092.5 1325.8h0M1092.7 1329.8h0M1092.8 1333.7h0M1093.0 1337.7h0M1093.2 1341.6h0M1093.3 1345.5h0M1093.5 1349.5h0M1093.6 1353.4h0M1093.8 1349.4h0M1094.0 1345.4h0M1094.2 1341.5h0M1094.4 1337.5h0M1094.6 1333.5h0M1094.8 1329.5h0M1095.0 1325.5h0M1095.2 1321.5h0M1095.4 1317.5h0M1095.6 1321.3h0M1095.8 1325.0h0M1095.9 1328.8h0M1096.1 1332.5h0M1096.3 1336.3h0M1096.5 1340.0h0M1096.6 1343.8h0M1096.8 1347.5h0M1097.0 1351.3h0M1097.1 1347.6h0M1097.3 1343.8h0M1097.5 1340.1h0M1097.6 1336.4h0M1097.8 1332.6h0M1097.9 1328.9h0M1098.1 1325.2h0M1098.2 1321.5h0M1098.4 1317.7h0M1098.5 1314.0h0M1098.7 1310.3h0M1098.8 1306.5h0M1099.0 1302.8h0M1099.2 1304.5h0M1099.3 1308.2h0M1099.5 1312.0h0M1099.6 1315.7h0M1099.7 1319.5h0M1099.9 1323.2h0M1100.0 1327.0h0M1100.1 1330.8h0M1100.3 1334.5h0M1100.4 1338.3h0M1100.5 1342.0h0M1100.7 1345.8h0M1100.8 1349.5h0M1100.9 1353.3h0M1101.0 1349.5h0M1101.0 1345.7h0M1101.1 1342.0h0M1101.1 1338.2h0M1101.2 1334.4h0M1101.2 1330.7h0M1101.2 1326.9h0M1101.3 1323.1h0M1101.3 1319.4h0M1101.4 1315.6h0M1101.4 1311.8h0M1101.5 1308.1h0M1101.5 1304.3h0M1101.6 1300.5h0M1104.0 1300.5h0M1107.3 1407.4h0M1110.4 1275.0h0M1110.7 1271.1h0M1110.9 1267.2h0M1111.2 1263.3h0M1111.5 1259.4h0M1111.8 1255.5h0M1112.1 1251.6h0M1112.4 1247.6h0M1112.7 1243.7h0M1113.0 1239.8h0M1113.3 1235.9h0M1113.6 1232.0h0M1113.9 1228.1h0M1114.2 1224.1h0M1116.7 1099.4h0M1118.5 1224.1h0M1120.0 1300.5h0M1120.2 1304.2h0M1120.4 1308.0h0M1120.6 1311.7h0M1120.8 1315.4h0M1120.9 1319.1h0M1121.1 1322.9h0M1121.3 1326.6h0M1121.5 1330.3h0M1121.7 1334.0h0M1121.8 1337.8h0M1122.0 1341.5h0M1122.2 1345.2h0M1122.4 1348.9h0M1122.6 1352.7h0M1122.6 1348.9h0M1122.6 1345.1h0M1122.6 1341.3h0M1122.7 1337.5h0M1122.7 1333.8h0M1122.7 1330.0h0M1122.7 1326.2h0M1122.7 1322.4h0M1122.8 1318.6h0M1122.8 1314.8h0M1122.8 1311.1h0M1122.9 1315.0h0M1123.0 1319.0h0M1123.1 1322.9h0M1123.2 1326.9h0M1123.4 1330.9h0M1123.5 1334.8h0M1123.6 1338.8h0M1123.7 1342.8h0M1123.8 1346.7h0M1123.9 1342.9h0M1124.0 1339.1h0M1124.1 1335.3h0M1124.2 1331.4h0M1124.3 1327.6h0M1124.4 1323.8h0M1124.5 1320.0h0M1124.6 1316.1h0M1124.7 1312.3h0M1124.8 1308.5h0M1124.9 1312.2h0M1125.0 1315.8h0M1125.1 1319.5h0M1125.2 1323.1h0M1125.4 1326.8h0M1125.5 1330.5h0M1125.6 1334.1h0M1125.7 1337.8h0M1125.8 1341.5h0M1125.9 1345.1h0M1126.1 1341.5h0M1126.3 1337.9h0M1126.5 1334.4h0M1126.7 1330.8h0M1126.9 1327.2h0M1127.1 1323.6h0M1127.3 1320.0h0M1127.5 1316.4h0M1127.7 1312.9h0M1128.0 1316.8h0M1128.2 1320.7h0M1128.5 1324.6h0M1128.7 1328.5h0M1129.0 1332.4h0M1129.2 1336.3h0M1129.4 1340.2h0M1129.7 1344.1h0M1129.7 1340.4h0M1129.8 1336.6h0M1129.9 1332.9h0M1129.9 1329.2h0M1130.0 1325.4h0M1130.1 1321.7h0M1130.1 1318.0h0M1130.2 1314.2h0M1130.2 1310.5h0M1130.3 1306.8h0M1130.4 1303.0h0M1130.4 1306.8h0M1130.5 1310.5h0M1130.6 1314.2h0M1130.7 1317.9h0M1130.8 1321.6h0M1130.9 1325.4h0M1130.9 1329.1h0M1131.0 1332.8h0M1131.1 1336.5h0M1131.2 1340.2h0M1131.3 1344.0h0M1131.3 1347.7h0M1131.4 1351.4h0M1131.6 1347.4h0M1131.8 1343.4h0M1132.0 1339.4h0M1132.2 1335.4h0M1132.4 1331.4h0M1132.6 1327.4h0M1132.8 1323.4h0M1133.0 1319.4h0M1133.2 1315.4h0M1133.3 1319.2h0M1133.5 1323.0h0M1133.7 1326.8h0M1133.8 1330.6h0M1134.0 1334.4h0M1134.2 1338.2h0M1134.3 1342.0h0M1134.5 1345.8h0M1134.7 1349.5h0M1134.8 1345.9h0M1135.0 1342.2h0M1135.1 1338.5h0M1135.3 1334.8h0M1135.5 1331.1h0M1135.6 1327.4h0M1135.8 1323.7h0M1135.9 1320.0h0M1136.1 1316.3h0M1136.2 1312.6h0M1136.4 1308.9h0M1136.6 1305.2h0M1136.7 1309.0h0M1136.8 1312.8h0M1137.0 1316.7h0M1137.1 1320.5h0M1137.3 1324.3h0M1137.4 1328.1h0M1137.6 1331.9h0M1137.7 1335.7h0M1137.9 1339.5h0M1138.0 1343.3h0M1138.2 1347.1h0M1138.2 1343.4h0M1138.3 1339.6h0M1138.3 1335.8h0M1138.4 1332.1h0M1138.5 1328.3h0M1138.5 1324.5h0M1138.6 1320.7h0M1138.6 1317.0h0M1138.7 1313.2h0M1138.9 1317.0h0M1139.1 1320.7h0M1139.4 1324.5h0M1139.6 1328.3h0M1139.8 1332.1h0M1140.1 1335.8h0M1140.3 1339.6h0M1140.5 1343.4h0M1140.6 1339.6h0M1140.7 1335.9h0M1140.8 1332.2h0M1140.9 1328.4h0M1141.0 1324.7h0M1141.1 1321.0h0M1141.2 1317.3h0M1141.3 1313.5h0M1141.5 1317.2h0M1141.7 1320.8h0M1141.9 1324.4h0M1142.1 1328.1h0M1142.3 1331.7h0M1142.5 1335.3h0M1142.7 1339.0h0M1142.9 1342.6h0M1143.0 1346.2h0M1143.2 1349.9h0M1143.4 1346.2h0M1143.6 1342.5h0M1143.8 1338.8h0M1143.9 1335.1h0M1144.1 1331.4h0M1144.3 1327.7h0M1144.5 1324.0h0M1144.7 1320.3h0M1144.8 1316.6h0M1145.0 1312.9h0M1145.1 1316.9h0M1145.2 1320.9h0M1145.3 1324.8h0M1145.4 1328.8h0M1145.6 1332.8h0M1145.7 1336.7h0M1145.8 1340.7h0M1145.9 1344.7h0M1146.0 1348.6h0M1146.1 1352.6h0M1146.2 1348.6h0M1146.4 1344.7h0M1146.5 1340.7h0M1146.6 1336.7h0M1146.8 1332.7h0M1146.9 1328.7h0M1147.0 1324.7h0M1147.2 1320.8h0M1147.3 1316.8h0M1147.4 1312.8h0M1147.6 1308.8h0M1147.7 1304.8h0M1147.8 1308.7h0M1147.8 1312.6h0M1147.9 1316.5h0M1147.9 1320.4h0M1148.0 1324.2h0M1148.0 1328.1h0M1148.1 1332.0h0M1148.2 1335.9h0M1148.2 1339.8h0M1148.3 1343.6h0M1148.6 1347.3h0M1149.0 1351.0h0M1149.3 1354.7h0M1149.7 1358.3h0M1150.0 1362.0h0M1150.4 1365.7h0M1150.7 1369.4h0M1151.1 1373.0h0M1151.4 1369.2h0M1151.6 1365.4h0M1151.9 1361.6h0M1152.2 1357.8h0M1152.5 1353.9h0M1152.8 1350.1h0M1153.1 1346.3h0M1153.3 1342.5h0M1153.6 1338.7h0M1153.8 1334.7h0M1154.0 1330.7h0M1154.2 1326.7h0M1154.4 1322.8h0M1154.6 1318.8h0M1154.8 1314.8h0M1155.0 1310.8h0M1155.2 1306.9h0M1155.3 1302.9h0M1155.5 1298.9h0M1155.7 1294.9h0M1155.9 1291.0h0M1156.1 1287.0h0M1156.3 1283.0h0M1156.5 1279.0h0M1156.7 1275.0h0M1157.8 1271.7h0M1158.9 1268.3h0M1160.0 1264.9h0M1160.8 1379.4h0M1161.6 1383.0h0M1162.4 1386.6h0M1163.2 1390.3h0M1164.0 1393.9h0M1164.9 1397.5h0M1165.7 1401.1h0M1166.5 1404.7h0M1167.3 1408.4h0M1168.2 1412.0h0M1169.0 1415.6h0M1169.8 1419.2h0M1170.6 1422.9h0M1171.4 1426.5h0M1171.4 1275.0h0M1173.1 1271.7h0M1174.8 1268.3h0M1176.5 1264.9h0M1176.8 1268.8h0M1177.1 1272.8h0M1177.4 1276.7h0M1177.7 1280.7h0M1177.9 1284.7h0M1178.2 1288.6h0M1178.5 1292.6h0M1178.8 1296.5h0M1179.1 1300.5h0M1179.4 1304.4h0M1179.7 1308.3h0M1180.0 1312.2h0M1180.2 1316.2h0M1180.5 1320.1h0M1180.8 1324.0h0M1181.1 1327.9h0M1181.4 1331.8h0M1181.7 1335.7h0M1182.0 1339.7h0M1182.3 1343.6h0M1182.6 1347.5h0M1182.9 1351.4h0M1183.5 1355.2h0M1184.2 1359.0h0M1184.8 1362.9h0M1185.4 1366.7h0M1185.6 1362.9h0M1185.9 1359.0h0M1186.1 1355.2h0M1186.3 1351.4h0M1186.5 1347.6h0M1186.7 1343.8h0M1186.9 1339.9h0M1187.1 1336.1h0M1187.3 1332.3h0M1187.6 1328.5h0M1187.8 1324.7h0M1188.0 1320.9h0M1189.5 1324.2h0M1191.0 1327.5h0M1192.6 1330.8h0M1194.1 1334.1h0M1195.6 1337.4h0M1197.1 1340.7h0M1198.7 1344.0h0M1200.2 1347.3h0M1201.7 1350.6h0M1203.3 1353.9h0M1204.0 1350.1h0M1204.8 1346.3h0M1205.6 1342.5h0M1206.4 1338.7h0M1207.2 1334.9h0M1208.0 1331.0h0M1208.8 1327.2h0M1209.6 1323.4h0M1209.7 1319.6h0M1209.8 1315.8h0M1209.8 1312.0h0M1209.9 1308.1h0M1210.0 1304.3h0M1210.0 1300.5h0M1210.1 1296.7h0M1210.2 1292.9h0M1210.3 1289.0h0M1210.3 1285.2h0M1210.4 1281.4h0M1210.5 1277.6h0M1210.5 1273.8h0M1210.6 1270.0h0M1210.7 1266.1h0M1210.7 1262.3h0M1210.8 1258.5h0M1210.9 1254.7h0M1268.1 1342.5h0M1269.8 1339.0h0M1271.5 1335.4h0M1273.2 1331.9h0M1274.9 1328.4h0M1276.6 1324.8h0M1278.3 1321.3h0M1280.0 1317.7h0M1281.7 1314.2h0M1283.4 1310.7h0M1283.3 1308.1h0M1283.1 1305.5h0M1283.2 1309.3h0M1283.4 1313.0h0M1283.5 1316.8h0M1283.6 1320.6h0M1283.8 1324.3h0M1283.9 1328.1h0M1284.1 1331.9h0M1284.2 1335.6h0M1284.4 1339.4h0M1284.5 1343.2h0M1284.6 1346.9h0M1284.8 1350.7h0M1284.9 1354.5h0M1285.1 1358.3h0M1285.2 1362.0h0M1285.3 1365.8h0M1285.5 1362.0h0M1285.7 1358.2h0M1285.9 1354.5h0M1286.1 1350.7h0M1286.3 1346.9h0M1286.4 1343.1h0M1286.6 1339.4h0M1286.8 1335.6h0M1287.0 1331.8h0M1287.2 1328.0h0M1287.4 1324.2h0M1287.5 1320.5h0M1287.7 1324.2h0M1287.9 1328.0h0M1288.1 1331.7h0M1288.4 1335.5h0M1288.6 1339.2h0M1288.8 1343.0h0M1289.0 1346.8h0M1289.2 1350.5h0M1289.4 1354.3h0M1290.3 1278.1h0M1290.4 1282.1h0M1290.5 1286.0h0M1290.7 1290.0h0M1290.8 1293.9h0M1290.9 1297.9h0M1291.1 1301.8h0M1291.2 1305.8h0M1291.3 1309.7h0M1291.5 1313.6h0M1291.6 1317.6h0M1291.7 1321.5h0M1291.8 1325.5h0M1292.0 1329.4h0M1292.1 1325.5h0M1292.2 1321.6h0M1292.2 1317.8h0M1292.3 1313.9h0M1292.4 1310.0h0M1292.5 1306.1h0M1292.6 1302.2h0M1292.7 1298.3h0M1292.8 1294.4h0M1292.9 1290.5h0M1293.0 1286.6h0M1293.1 1282.7h0M1293.2 1278.8h0M1293.3 1275.0h0M1293.4 1271.1h0M1293.4 1267.2h0M1293.5 1263.3h0M1293.7 1267.2h0M1293.9 1271.2h0M1294.1 1275.1h0M1294.2 1279.0h0M1294.4 1283.0h0M1294.6 1286.9h0M1294.8 1290.9h0M1294.9 1294.8h0M1295.1 1298.7h0M1295.3 1302.7h0M1295.4 1306.6h0M1295.6 1310.6h0M1295.8 1314.5h0M1296.0 1318.5h0M1296.2 1314.8h0M1296.5 1311.2h0M1296.8 1307.5h0M1297.1 1303.9h0M1297.4 1300.3h0M1297.6 1296.6h0M1297.9 1293.0h0M1298.2 1289.3h0M1298.5 1285.7h0M1298.8 1282.1h0M1298.9 1286.0h0M1299.1 1289.8h0M1299.3 1293.7h0M1299.5 1297.6h0M1299.7 1301.5h0M1299.8 1305.4h0M1300.0 1309.3h0M1300.2 1313.1h0M1300.4 1317.0h0M1300.6 1320.9h0M1300.7 1324.8h0M1300.9 1328.7h0M1301.3 1324.9h0M1301.6 1321.2h0M1302.0 1317.5h0M1302.3 1313.7h0M1302.7 1310.0h0M1303.0 1306.2h0M1303.4 1302.5h0M1303.7 1306.2h0M1304.0 1310.0h0M1304.3 1313.7h0M1304.5 1317.4h0M1304.8 1321.2h0M1305.1 1324.9h0M1305.4 1328.6h0M1305.7 1332.4h0M1306.1 1328.5h0M1306.5 1324.6h0M1306.8 1320.7h0M1307.2 1316.8h0M1307.6 1312.9h0M1308.0 1309.0h0M1308.2 1312.7h0M1308.3 1316.5h0M1308.5 1320.3h0M1308.7 1324.1h0M1308.8 1327.9h0M1309.0 1331.7h0M1309.2 1335.5h0M1309.3 1339.3h0M1309.5 1343.1h0M1309.7 1346.9h0M1309.8 1350.7h0M1310.0 1347.0h0M1310.2 1343.4h0M1310.4 1339.7h0M1310.7 1336.1h0M1310.9 1332.4h0M1311.1 1328.7h0M1311.3 1325.1h0M1313.7 1322.0h0M1316.2 1319.0h0M1318.6 1315.9h0M1321.0 1312.8h0M1323.5 1309.8h0M1325.9 1306.7h0M1328.3 1303.6h0M1330.8 1300.6h0M1333.2 1297.5h0M1335.6 1294.5h0M1338.0 1291.4h0M1340.5 1288.3h0M1342.9 1285.3h0M1345.3 1282.2h0M1347.8 1279.1h0M1350.2 1276.1h0M1352.6 1273.0h0M1355.1 1270.0h0M1355.2 1273.8h0M1355.3 1277.6h0M1355.5 1281.4h0M1355.6 1285.2h0M1355.7 1289.0h0M1355.8 1292.9h0M1355.9 1288.9h0M1356.1 1284.9h0M1356.2 1281.0h0M1356.3 1277.0h0M1356.4 1273.0h0M1356.5 1269.1h0M1356.6 1265.1h0M1356.7 1261.1h0M1356.8 1257.2h0M1356.9 1253.2h0M1357.0 1249.2h0M1357.1 1245.3h0M1357.2 1241.3h0M1357.3 1237.3h0M1357.4 1233.4h0M1357.5 1229.4h0M1357.6 1225.4h0M1358.1 1229.2h0M1358.6 1233.1h0M1359.1 1236.9h0M1359.6 1240.7h0M1360.1 1244.5h0M1360.6 1248.3h0M1361.0 1252.1h0M1361.5 1256.0h0M1362.0 1259.8h0M1362.5 1263.6h0M1363.0 1267.4h0M1363.5 1271.2h0M1364.0 1275.0h0M1364.6 1278.8h0M1365.3 1282.5h0M1365.9 1286.2h0M1366.5 1289.9h0M1367.2 1293.6h0M1367.8 1297.3h0M1368.4 1301.0h0M1369.1 1304.7h0M1369.7 1308.5h0M1370.3 1312.2h0M1371.0 1315.9h0M1371.6 1319.6h0M1372.1 1316.9h0M1372.5 1314.2h0M1372.7 1318.0h0M1372.9 1321.8h0M1373.1 1325.5h0M1373.3 1329.3h0M1373.5 1333.1h0M1373.7 1336.9h0M1373.8 1340.7h0M1374.0 1344.5h0M1374.2 1348.3h0M1374.4 1352.0h0M1374.6 1355.8h0M1374.8 1359.6h0M1375.0 1355.9h0M1375.2 1352.1h0M1375.4 1348.4h0M1375.5 1344.6h0M1375.7 1340.9h0M1375.9 1337.1h0M1376.1 1333.4h0M1376.3 1329.6h0M1376.5 1325.9h0M1376.7 1322.1h0M1376.9 1318.4h0M1377.1 1314.6h0M1377.3 1310.9h0M1377.5 1307.1h0M1377.6 1311.0h0M1377.8 1314.9h0M1377.9 1318.7h0M1378.0 1322.6h0M1378.2 1326.5h0M1378.3 1330.3h0M1378.5 1334.2h0M1378.6 1338.1h0M1378.7 1341.9h0M1378.9 1345.8h0M1379.0 1349.7h0M1379.1 1353.5h0M1379.3 1357.4h0M1379.5 1353.4h0M1379.6 1349.4h0M1379.8 1345.5h0M1380.0 1341.5h0M1380.2 1337.5h0M1380.4 1333.5h0M1380.6 1329.5h0M1380.7 1325.6h0M1380.9 1321.6h0M1381.1 1317.6h0M1381.3 1313.6h0M1381.5 1309.6h0M1381.7 1305.6h0M1381.8 1309.3h0M1381.9 1313.0h0M1382.1 1316.7h0M1382.2 1320.4h0M1382.3 1324.1h0M1382.4 1327.8h0M1382.6 1331.5h0M1382.7 1335.2h0M1382.8 1338.9h0M1383.0 1342.5h0M1383.1 1346.2h0M1383.2 1349.9h0M1383.4 1345.9h0M1383.6 1342.0h0M1383.7 1338.0h0M1383.9 1334.0h0M1384.1 1330.0h0M1384.2 1326.0h0M1384.4 1322.0h0M1384.6 1318.0h0M1384.8 1314.1h0M1384.9 1310.1h0M1385.1 1306.1h0M1385.3 1302.1h0M1385.4 1298.1h0M1385.6 1294.1h0M1389.1 1292.9h0M1392.6 1291.6h0M1396.1 1290.3h0M1399.6 1289.0h0M1400.0 1292.4h0M1400.3 1295.7h0M1400.7 1299.0h0M1401.0 1302.4h0M1401.4 1305.7h0M1401.4 1309.6h0M1401.5 1313.6h0M1401.5 1317.5h0M1401.6 1321.5h0M1401.6 1325.5h0M1401.7 1329.4h0M1401.7 1333.4h0M1401.7 1337.3h0M1401.8 1341.3h0M1401.8 1345.2h0M1401.9 1349.2h0M1401.9 1353.1h0M1402.0 1357.1h0M1402.1 1353.3h0M1402.2 1349.5h0M1402.4 1345.6h0M1402.5 1341.8h0M1402.6 1338.0h0M1402.7 1334.2h0M1402.9 1330.4h0M1403.0 1326.6h0M1403.1 1322.8h0M1403.3 1318.9h0M1403.4 1315.1h0M1403.5 1311.3h0M1403.6 1307.5h0M1403.8 1311.2h0M1403.9 1315.0h0M1404.0 1318.7h0M1404.2 1322.5h0M1404.3 1326.2h0M1404.4 1330.0h0M1404.6 1333.7h0M1404.7 1337.5h0M1404.8 1341.3h0M1404.9 1345.0h0M1405.1 1348.8h0M1405.2 1352.5h0M1405.3 1356.3h0M1405.5 1352.4h0M1405.7 1348.6h0M1405.8 1344.7h0M1406.0 1340.9h0M1406.2 1337.0h0M1406.3 1333.2h0M1406.5 1329.3h0M1406.7 1325.4h0M1406.8 1321.6h0M1407.0 1317.7h0M1407.2 1313.9h0M1407.3 1310.0h0M1407.5 1306.2h0M1407.6 1310.1h0M1407.8 1314.0h0M1407.9 1317.8h0M1408.1 1321.7h0M1408.2 1325.6h0M1408.3 1329.5h0M1408.5 1333.4h0M1408.6 1337.2h0M1408.8 1341.1h0M1408.9 1345.0h0M1409.0 1348.9h0M1409.2 1352.7h0M1409.3 1356.6h0M1409.4 1360.5h0M1409.7 1356.7h0M1409.9 1353.0h0M1410.1 1349.2h0M1410.3 1345.4h0M1410.5 1341.7h0M1410.7 1337.9h0M1410.9 1334.1h0M1411.2 1330.4h0M1411.4 1326.6h0M1411.6 1322.8h0M1411.8 1319.1h0M1412.0 1315.3h0M1412.2 1311.5h0M1412.5 1307.8h0M1412.6 1311.7h0M1412.7 1315.7h0M1412.9 1319.7h0M1413.0 1323.7h0M1413.2 1327.7h0M1413.3 1331.6h0M1413.4 1335.6h0M1413.6 1339.6h0M1413.7 1343.6h0M1413.9 1347.6h0M1414.0 1351.5h0M1414.1 1347.7h0M1414.3 1343.9h0M1414.4 1340.1h0M1414.6 1336.2h0M1414.7 1332.4h0M1414.9 1328.6h0M1415.0 1324.7h0M1415.2 1320.9h0M1415.3 1317.1h0M1415.4 1313.2h0M1415.6 1316.9h0M1415.8 1320.6h0M1416.0 1324.3h0M1416.2 1328.0h0M1416.4 1331.7h0M1416.6 1335.4h0M1416.8 1339.1h0M1417.0 1342.8h0M1417.1 1338.9h0M1417.3 1335.1h0M1417.4 1331.2h0M1417.6 1327.4h0M1417.7 1323.6h0M1417.8 1319.7h0M1418.0 1315.9h0M1418.1 1312.0h0M1418.3 1308.2h0M1418.4 1304.4h0M1418.6 1300.5h0M1418.7 1296.7h0M1419.1 1300.3h0M1419.4 1303.9h0M1419.7 1307.5h0M1420.0 1311.1h0M1420.3 1314.7h0M1420.7 1318.3h0M1421.0 1321.9h0M1421.3 1325.6h0M1421.5 1321.7h0M1421.7 1317.8h0M1421.9 1314.0h0M1422.1 1310.1h0M1422.2 1306.3h0M1422.4 1302.4h0M1422.6 1298.5h0M1422.8 1294.7h0M1423.0 1290.8h0M1423.2 1287.0h0M1423.3 1283.1h0M1423.5 1279.3h0M1423.7 1275.4h0M1423.8 1279.4h0M1424.0 1283.4h0M1424.1 1287.4h0M1424.2 1291.4h0M1424.3 1295.4h0M1424.5 1299.4h0M1424.6 1303.4h0M1424.7 1307.4h0M1424.8 1311.4h0M1425.0 1315.4h0M1425.1 1319.4h0M1425.2 1323.4h0M1425.3 1327.4h0M1425.5 1323.6h0M1425.6 1319.9h0M1425.7 1316.2h0M1425.9 1312.4h0M1426.0 1308.7h0M1426.1 1304.9h0M1426.2 1301.2h0M1426.4 1297.5h0M1426.5 1293.7h0M1426.6 1290.0h0M1426.8 1286.3h0M1426.9 1282.5h0M1427.1 1286.5h0M1427.4 1290.4h0M1427.6 1294.3h0M1427.8 1298.3h0M1428.0 1302.2h0M1428.3 1306.1h0M1428.5 1310.1h0M1428.7 1314.0h0M1428.9 1317.9h0M1429.2 1321.9h0M1429.4 1325.8h0M1429.6 1329.7h0M1429.8 1333.7h0M1430.1 1337.6h0M1430.3 1341.6h0M1430.5 1337.8h0M1430.6 1334.0h0M1430.8 1330.2h0M1430.9 1326.4h0M1431.1 1322.6h0M1431.3 1318.8h0M1431.4 1315.0h0M1431.6 1318.9h0M1431.7 1322.7h0M1431.9 1326.6h0M1432.0 1330.4h0M1432.2 1334.3h0M1432.4 1338.1h0M1432.5 1342.0h0M1432.7 1345.8h0M1432.8 1349.7h0M1433.0 1353.5h0M1433.1 1349.6h0M1433.3 1345.7h0M1433.4 1341.8h0M1433.5 1337.9h0M1433.7 1333.9h0M1433.8 1330.0h0M1434.0 1326.1h0M1434.1 1322.2h0M1434.2 1318.3h0M1434.4 1314.4h0M1434.5 1310.5h0M1434.6 1306.6h0M1434.8 1310.4h0M1434.9 1314.3h0M1435.1 1318.1h0M1435.2 1322.0h0M1435.3 1325.8h0M1435.5 1329.7h0M1435.6 1333.6h0M1435.8 1337.4h0M1435.9 1341.3h0M1436.0 1345.1h0M1436.3 1341.5h0M1436.5 1337.8h0M1436.7 1334.1h0M1437.0 1330.5h0M1437.2 1326.8h0M1437.5 1323.1h0M1437.7 1319.5h0M1437.9 1315.8h0M1438.2 1312.1h0M1438.4 1308.5h0M1438.7 1312.4h0M1439.0 1316.2h0M1439.4 1320.1h0M1439.7 1324.0h0M1440.0 1327.8h0M1440.3 1331.7h0M1440.6 1335.6h0M1440.9 1339.4h0M1441.2 1343.3h0M1441.4 1339.6h0M1441.6 1335.9h0M1441.8 1332.1h0M1442.0 1328.4h0M1442.1 1324.7h0M1442.3 1321.0h0M1442.5 1317.3h0M1442.7 1313.5h0M1442.9 1309.8h0M1443.0 1306.1h0M1443.2 1302.4h0M1443.4 1306.1h0M1443.5 1309.9h0M1443.7 1313.7h0M1443.8 1317.5h0M1444.0 1321.2h0M1444.2 1325.0h0M1444.3 1328.8h0M1444.5 1332.5h0M1444.6 1336.3h0M1444.8 1340.1h0M1444.9 1343.9h0M1445.1 1347.6h0M1445.3 1343.8h0M1445.4 1340.0h0M1445.6 1336.1h0M1445.8 1332.3h0M1446.0 1328.5h0M1446.2 1324.7h0M1446.3 1320.8h0M1446.5 1317.0h0M1446.7 1313.2h0M1446.9 1309.3h0M1447.1 1305.5h0M1447.3 1309.3h0M1447.6 1313.2h0M1447.9 1317.0h0M1448.1 1320.8h0M1448.4 1324.6h0M1448.6 1328.4h0M1448.9 1332.3h0M1449.2 1336.1h0M1449.3 1332.3h0M1449.4 1328.5h0M1449.5 1324.8h0M1449.5 1321.0h0M1449.6 1317.2h0M1449.7 1313.5h0M1449.8 1309.7h0M1449.9 1305.9h0M1450.0 1302.2h0M1450.1 1298.4h0M1450.2 1294.6h0M1452.9 1297.4h0M1455.5 1300.2h0M1458.1 1303.0h0M1459.6 1306.4h0M1461.0 1309.8h0M1462.4 1313.2h0M1463.8 1316.6h0M1465.2 1320.0h0M1466.6 1323.4h0M1468.0 1326.8h0M1469.5 1330.2h0M1470.9 1333.6h0M1471.0 1330.0h0M1471.1 1326.4h0M1471.2 1322.9h0M1471.3 1319.3h0M1471.4 1315.7h0M1471.5 1312.1h0M1471.6 1308.6h0M1471.7 1305.0h0M1471.8 1301.4h0M1472.0 1305.2h0M1472.2 1309.0h0M1472.4 1312.8h0M1472.6 1316.6h0M1472.8 1320.4h0M1473.0 1324.2h0M1473.2 1328.0h0M1473.4 1331.8h0M1473.5 1335.6h0M1473.7 1339.4h0M1473.9 1343.2h0M1474.1 1347.0h0M1474.3 1350.8h0M1474.5 1347.0h0M1474.7 1343.1h0M1474.9 1339.3h0M1475.1 1335.4h0M1475.3 1331.6h0M1475.5 1327.7h0M1475.7 1323.9h0M1475.9 1320.1h0M1476.1 1316.2h0M1476.3 1312.4h0M1476.4 1316.2h0M1476.6 1320.1h0M1476.8 1324.0h0M1476.9 1327.9h0M1477.1 1331.8h0M1477.3 1335.6h0M1477.5 1339.5h0M1477.6 1343.4h0M1477.8 1347.3h0M1478.0 1351.2h0M1478.2 1355.0h0M1478.3 1351.2h0M1478.4 1347.4h0M1478.6 1343.6h0M1478.7 1339.8h0M1478.9 1336.0h0M1479.0 1332.2h0M1479.1 1328.4h0M1479.3 1324.6h0M1479.4 1320.8h0M1479.6 1317.0h0M1479.7 1313.2h0M1479.9 1309.4h0M1480.0 1313.3h0M1480.2 1317.2h0M1480.4 1321.1h0M1480.5 1325.0h0M1480.7 1328.8h0M1480.9 1332.7h0M1481.0 1336.6h0M1481.2 1340.5h0M1481.4 1344.4h0M1481.5 1348.2h0M1481.7 1352.1h0M1481.9 1356.0h0M1482.1 1352.3h0M1482.3 1348.7h0M1482.5 1345.1h0M1482.7 1341.4h0M1483.0 1337.8h0M1483.2 1334.1h0M1483.4 1330.5h0M1483.6 1326.8h0M1483.9 1323.2h0M1484.1 1319.5h0M1484.2 1323.3h0M1484.3 1327.0h0M1484.5 1330.8h0M1484.6 1334.5h0M1484.7 1338.2h0M1484.9 1342.0h0M1485.0 1345.7h0M1485.1 1349.5h0M1485.3 1353.2h0M1485.4 1357.0h0M1485.5 1360.7h0M1485.7 1364.5h0M1485.8 1368.2h0M1486.0 1372.0h0M1486.2 1368.2h0M1486.4 1364.4h0M1486.7 1360.6h0M1486.9 1356.8h0M1487.2 1353.0h0M1487.4 1349.2h0M1487.7 1345.4h0M1487.9 1341.6h0M1488.2 1337.8h0M1488.4 1341.7h0M1488.5 1345.7h0M1488.7 1349.7h0M1488.9 1353.7h0M1489.1 1357.7h0M1489.3 1361.7h0M1489.4 1365.6h0M1489.6 1361.8h0M1489.7 1358.0h0M1489.8 1354.2h0M1489.9 1350.4h0M1490.1 1346.5h0M1490.2 1342.7h0M1490.3 1338.9h0M1490.5 1335.1h0M1490.6 1331.3h0M1490.7 1327.5h0M1490.8 1323.6h0M1491.0 1319.8h0M1491.1 1316.0h0M1491.2 1312.2h0M1491.3 1308.4h0M1491.5 1312.2h0M1491.6 1316.0h0M1491.7 1319.7h0M1491.9 1323.5h0M1492.0 1327.3h0M1492.1 1331.1h0M1492.3 1334.9h0M1492.4 1338.7h0M1492.5 1342.5h0M1492.7 1346.3h0M1492.8 1350.1h0M1492.9 1353.9h0M1493.1 1350.1h0M1493.3 1346.3h0M1493.4 1342.5h0M1493.6 1338.7h0M1493.8 1335.0h0M1494.0 1331.2h0M1494.1 1327.4h0M1494.3 1323.6h0M1494.5 1319.8h0M1494.6 1316.1h0M1494.8 1312.3h0M1495.0 1308.5h0M1495.2 1304.7h0M1495.3 1308.4h0M1495.4 1312.0h0M1495.6 1315.6h0M1495.7 1319.2h0M1495.8 1322.9h0M1496.0 1326.5h0M1496.1 1330.1h0M1496.2 1333.8h0M1496.4 1337.4h0M1496.5 1341.0h0M1496.8 1337.3h0M1497.0 1333.5h0M1497.3 1329.8h0M1497.5 1326.1h0M1497.8 1322.3h0M1498.0 1318.6h0M1498.3 1314.8h0M1498.6 1311.1h0M1498.8 1307.3h0M1499.1 1303.6h0M1499.3 1299.8h0M1499.6 1296.1h0M1499.7 1299.9h0M1499.8 1303.7h0M1499.9 1307.6h0M1500.0 1311.4h0M1500.1 1315.2h0M1500.2 1319.0h0M1500.3 1322.8h0M1500.4 1326.7h0M1500.5 1330.5h0M1500.6 1334.3h0M1500.7 1338.1h0M1500.8 1341.9h0M1500.9 1345.8h0M1501.0 1341.9h0M1501.2 1338.1h0M1501.3 1334.3h0M1501.5 1330.4h0M1501.6 1326.6h0M1501.8 1322.8h0M1501.9 1319.0h0M1502.1 1315.1h0M1502.2 1311.3h0M1502.4 1307.5h0M1502.5 1303.6h0M1502.7 1299.8h0M1502.9 1303.6h0M1503.1 1307.4h0M1503.3 1311.1h0M1503.5 1314.9h0M1503.7 1318.7h0M1503.9 1322.5h0M1504.1 1326.3h0M1504.3 1330.0h0M1504.5 1333.8h0M1504.7 1337.6h0M1504.9 1333.9h0M1505.1 1330.2h0M1505.3 1326.5h0M1505.5 1322.8h0M1505.7 1319.1h0M1505.9 1315.4h0M1506.1 1311.7h0M1506.3 1308.0h0M1506.5 1312.0h0M1506.7 1316.0h0M1506.9 1320.0h0M1507.1 1324.0h0M1507.3 1327.9h0M1507.5 1331.9h0M1507.7 1335.9h0M1507.9 1339.9h0M1508.1 1343.8h0M1508.3 1347.8h0M1508.5 1344.0h0M1508.7 1340.1h0M1508.9 1336.3h0M1509.1 1332.4h0M1509.2 1328.5h0M1509.4 1324.7h0M1509.6 1320.8h0M1509.8 1317.0h0M1510.0 1320.8h0M1510.2 1324.7h0M1510.4 1328.6h0M1510.6 1332.4h0M1510.8 1336.3h0M1511.0 1340.2h0M1511.2 1344.0h0M1511.4 1347.9h0M1511.6 1351.8h0M1511.8 1355.6h0M1511.9 1351.8h0M1512.0 1348.0h0M1512.1 1344.2h0M1512.2 1340.4h0M1512.3 1336.6h0M1512.3 1332.7h0M1512.4 1328.9h0M1512.5 1325.1h0M1512.6 1321.3h0M1512.7 1317.5h0M1512.8 1313.7h0M1512.9 1309.9h0M1513.7 1313.7h0M1514.5 1317.4h0M1515.3 1321.2h0M1516.1 1325.0h0M1516.9 1328.8h0M1517.6 1332.6h0M1518.4 1336.4h0M1519.2 1340.2h0M1520.0 1343.9h0M1520.8 1347.7h0M1521.6 1351.5h0M1522.4 1355.3h0M1523.1 1359.1h0M1523.9 1362.9h0M1524.7 1366.7h0M1525.0 1363.0h0M1525.3 1359.4h0M1525.6 1355.7h0M1525.9 1352.1h0M1526.2 1348.4h0M1526.5 1344.8h0M1526.8 1341.2h0M1527.1 1337.5h0M1527.4 1333.9h0M1527.7 1330.2h0M1527.8 1333.9h0M1527.9 1337.7h0M1528.0 1341.4h0M1528.1 1345.1h0M1528.2 1348.9h0M1528.3 1352.6h0M1528.4 1356.3h0M1528.5 1360.1h0M1528.6 1363.8h0M1528.7 1367.5h0M1528.8 1371.3h0M1528.9 1375.0h0M1529.1 1371.2h0M1529.3 1367.5h0M1529.5 1363.7h0M1529.7 1360.0h0M1529.9 1356.2h0M1530.1 1352.4h0M1530.3 1348.7h0M1530.5 1344.9h0M1530.7 1341.1h0M1530.9 1337.4h0M1531.1 1333.6h0M1531.2 1337.6h0M1531.4 1341.5h0M1531.6 1345.5h0M1531.7 1349.4h0M1531.9 1353.4h0M1532.0 1357.3h0M1532.2 1361.3h0M1532.4 1365.2h0M1532.6 1361.5h0M1532.8 1357.8h0M1533.0 1354.1h0M1533.2 1350.4h0M1533.4 1346.7h0M1533.7 1343.0h0M1533.9 1339.3h0M1534.1 1335.6h0M1534.3 1331.9h0M1534.5 1335.6h0M1534.6 1339.3h0M1534.8 1343.0h0M1535.0 1346.8h0M1535.1 1350.5h0M1535.3 1354.2h0M1535.5 1357.9h0M1535.6 1361.6h0M1535.8 1365.3h0M1536.0 1361.6h0M1536.1 1357.9h0M1536.3 1354.1h0M1536.5 1350.4h0M1536.6 1346.7h0M1536.8 1343.0h0M1536.9 1339.2h0M1537.1 1335.5h0M1537.3 1331.8h0M1537.5 1335.4h0M1537.8 1339.0h0M1538.0 1342.6h0M1538.3 1346.2h0M1538.5 1349.8h0M1538.8 1353.4h0M1539.0 1357.0h0M1539.3 1360.7h0M1539.5 1356.7h0M1539.8 1352.7h0M1540.1 1348.7h0M1540.3 1344.8h0M1540.6 1340.8h0M1540.9 1336.8h0M1541.1 1332.9h0M1541.4 1328.9h0M1541.6 1332.5h0M1541.8 1336.0h0M1542.1 1339.6h0M1542.3 1343.1h0M1542.5 1346.6h0M1542.7 1350.2h0M1543.0 1346.2h0M1543.2 1342.3h0M1543.4 1338.3h0M1543.6 1334.3h0M1543.8 1330.4h0M1544.0 1326.4h0M1544.2 1322.4h0M1544.5 1318.5h0M1544.7 1314.5h0M1545.0 1318.4h0M1545.3 1322.2h0M1545.6 1326.1h0M1545.9 1329.9h0M1546.2 1333.8h0M1546.4 1330.1h0M1546.6 1326.5h0M1546.8 1322.8h0M1547.0 1319.2h0M1547.2 1315.5h0M1547.4 1311.9h0M1547.6 1315.7h0M1547.8 1319.6h0M1548.0 1323.4h0M1548.2 1327.3h0M1548.4 1331.1h0M1548.6 1335.0h0M1548.8 1338.8h0M1549.0 1342.7h0M1549.2 1346.5h0M1549.4 1342.8h0M1549.6 1339.1h0M1549.8 1335.4h0M1550.0 1331.7h0M1550.3 1328.0h0M1550.5 1324.3h0M1550.7 1320.6h0M1550.9 1316.9h0M1551.1 1313.2h0M1551.3 1309.5h0M1551.5 1305.8h0M1551.7 1309.5h0M1551.8 1313.2h0M1551.9 1316.9h0M1552.0 1320.5h0M1552.1 1324.2h0M1552.3 1327.9h0M1552.4 1331.6h0M1552.5 1335.3h0M1552.6 1338.9h0M1552.7 1342.6h0M1552.9 1346.3h0M1553.0 1342.6h0M1553.2 1338.9h0M1553.4 1335.2h0M1553.6 1331.5h0M1553.7 1327.8h0M1553.9 1324.1h0M1554.1 1320.4h0M1554.3 1316.7h0M1554.5 1313.0h0M1554.6 1309.3h0M1554.8 1305.6h0M1555.0 1301.9h0M1555.1 1305.8h0M1555.3 1309.7h0M1555.5 1313.6h0M1555.6 1317.5h0M1555.8 1321.4h0M1555.9 1325.4h0M1556.1 1329.3h0M1556.3 1333.2h0M1556.4 1337.1h0M1556.6 1341.0h0M1556.7 1344.9h0M1556.9 1348.8h0M1557.2 1345.1h0M1557.4 1341.3h0M1557.7 1337.5h0M1558.0 1333.7h0M1558.2 1330.0h0M1558.5 1326.2h0M1558.8 1322.4h0M1559.0 1318.6h0M1559.3 1314.8h0M1559.6 1311.1h0M1559.9 1314.6h0M1560.2 1318.1h0M1560.5 1321.6h0M1560.8 1325.1h0M1561.1 1328.6h0M1561.4 1332.1h0M1561.7 1335.6h0M1561.9 1332.0h0M1562.1 1328.4h0M1562.2 1324.8h0M1562.4 1321.2h0M1562.5 1317.6h0M1562.7 1314.0h0M1562.8 1310.4h0M1563.0 1306.8h0M1563.1 1303.2h0M1563.3 1299.5h0M1563.5 1303.5h0M1563.6 1307.4h0M1563.8 1311.3h0M1564.0 1315.3h0M1564.2 1319.2h0M1564.3 1323.1h0M1564.5 1327.1h0M1564.7 1331.0h0M1564.9 1334.9h0M1565.0 1338.9h0M1565.2 1342.8h0M1565.4 1346.7h0M1565.6 1342.8h0M1565.8 1338.8h0M1566.1 1334.8h0M1566.3 1330.9h0M1566.5 1326.9h0M1566.8 1323.0h0M1567.0 1319.0h0M1567.2 1315.0h0M1567.5 1311.1h0M1567.7 1307.1h0M1567.8 1311.0h0M1567.9 1314.8h0M1568.0 1318.6h0M1568.1 1322.4h0M1568.2 1326.3h0M1568.3 1330.1h0M1568.4 1333.9h0M1568.5 1337.8h0M1568.6 1341.6h0M1568.7 1345.4h0M1568.8 1349.3h0M1568.9 1353.1h0M1569.0 1356.9h0M1569.2 1353.1h0M1569.3 1349.3h0M1569.4 1345.5h0M1569.5 1341.7h0M1569.6 1337.9h0M1569.7 1334.0h0M1569.8 1330.2h0M1569.9 1326.4h0M1570.0 1322.6h0M1570.1 1318.8h0M1570.2 1315.0h0M1570.4 1311.2h0M1570.5 1315.1h0M1570.7 1319.1h0M1570.9 1323.0h0M1571.1 1327.0h0M1571.3 1330.9h0M1571.4 1334.8h0M1571.6 1338.8h0M1571.8 1342.7h0M1572.0 1346.7h0M1572.2 1350.6h0M1572.4 1354.6h0M1572.5 1358.5h0M1572.7 1362.5h0M1572.9 1358.6h0M1573.1 1354.7h0M1573.2 1350.8h0M1573.4 1346.9h0M1573.6 1343.0h0M1573.8 1339.1h0M1574.0 1335.2h0M1574.1 1331.4h0M1574.3 1327.5h0M1574.5 1323.6h0M1574.7 1319.7h0M1574.8 1315.8h0M1575.0 1311.9h0M1575.2 1308.0h0M1575.3 1311.9h0M1575.4 1315.9h0M1575.6 1319.8h0M1575.7 1323.7h0M1575.8 1327.6h0M1575.9 1331.5h0M1576.0 1335.5h0M1576.2 1339.4h0M1576.3 1343.3h0M1576.4 1347.2h0M1576.5 1351.1h0M1576.7 1355.1h0M1576.8 1351.1h0M1577.0 1347.1h0M1577.1 1343.1h0M1577.3 1339.1h0M1577.5 1335.1h0M1577.6 1331.1h0M1577.8 1327.1h0M1577.9 1323.1h0M1578.1 1319.1h0M1578.3 1315.1h0M1578.4 1311.1h0M1578.8 1314.8h0M1579.2 1318.5h0M1579.6 1322.1h0M1580.0 1325.8h0M1580.4 1329.4h0M1580.8 1333.1h0M1581.1 1329.5h0M1581.4 1326.0h0M1581.8 1322.4h0M1582.1 1318.8h0M1582.4 1315.3h0M1582.8 1311.7h0M1583.1 1308.2h0M1583.4 1304.6h0M1583.6 1308.2h0M1583.8 1311.8h0M1584.1 1315.4h0M1584.3 1319.0h0M1584.5 1322.6h0M1584.7 1326.2h0M1584.9 1329.8h0M1585.2 1326.4h0M1585.6 1322.9h0M1585.9 1319.4h0M1586.3 1315.9h0M1586.6 1312.4h0M1587.0 1308.9h0M1587.3 1305.5h0M1587.5 1309.1h0M1587.6 1312.7h0M1587.8 1316.3h0M1588.0 1320.0h0M1588.2 1323.6h0M1588.3 1327.2h0M1592.0 1326.0h0M1595.6 1324.8h0M1599.2 1323.6h0M1602.8 1322.4h0M1606.4 1321.2h0M1610.0 1320.0h0M1613.7 1318.8h0M1617.3 1317.6h0M1620.9 1316.4h0M1624.5 1315.2h0M1628.1 1314.0h0M1631.7 1312.8h0M1635.4 1311.5h0M1639.0 1310.3h0M1642.6 1309.1h0M1646.2 1307.9h0M1649.8 1306.7h0M1653.4 1305.5h0M1657.1 1304.3h0M1656.5 1185.5h0M1659.6 1332.3h0" stroke="#ff0000" stroke-width="7.0" stroke-linecap="round" fill="none"/><polyline class="bl" style="stroke-width:5.8" points="904.1,1175.8 906.6,1188.5 911.7,1300.5 913.0,1217.7 914.3,1320.4 915.4,1225.5 916.7,1334.1 917.5,1266.0 919.1,1335.8 920.7,1259.2 922.2,1332.8 923.0,1252.8 925.1,1320.1 926.9,1277.3 927.7,1316.1 929.1,1286.9 930.8,1335.1 931.5,1286.5 932.8,1348.4 934.6,1294.4 936.0,1360.8 937.2,1299.1 939.3,1348.5 940.2,1299.4 941.8,1353.2 943.3,1307.0 943.8,1346.4 945.1,1300.1 946.6,1357.8 947.3,1310.5 949.0,1345.6 950.4,1303.9 951.9,1369.8 953.1,1308.5 954.1,1356.2 955.8,1314.0 957.3,1370.3 958.7,1303.7 960.2,1363.2 961.5,1299.9 963.4,1343.9 964.3,1293.7 965.3,1340.0 966.1,1286.5 967.8,1343.7 968.8,1253.1 970.3,1325.1 971.7,1275.6 972.9,1339.1 974.3,1275.6 975.9,1341.1 977.1,1276.1 978.7,1332.2 979.8,1280.0 981.6,1326.6 985.5,1198.7 989.3,1119.8 993.2,1147.8 997.0,1208.9 1000.8,1221.6 1002.1,1300.5 1001.8,1294.8 1003.5,1350.3 1004.2,1282.4 1006.1,1366.1 1007.2,1286.1 1009.2,1359.2 1010.0,1288.0 1011.5,1369.2 1012.8,1291.9 1014.1,1371.2 1016.5,1300.4 1017.7,1347.9 1018.7,1293.9 1019.7,1357.9 1020.7,1274.9 1022.7,1361.5 1023.6,1290.9 1025.3,1340.5 1026.6,1259.9 1027.6,1354.7 1029.1,1267.1 1029.9,1349.3 1031.9,1265.1 1032.9,1349.1 1034.7,1265.2 1036.3,1329.9 1037.3,1283.4 1037.8,1340.1 1039.2,1282.9 1040.4,1351.9 1041.5,1279.3 1045.3,1188.5 1050.4,1163.1 1054.2,1198.7 1059.3,1244.5 1061.9,1300.5 1064.1,1304.7 1065.6,1360.6 1067.0,1303.7 1068.0,1365.5 1069.3,1305.1 1070.1,1369.9 1071.7,1309.8 1072.8,1355.6 1074.0,1301.6 1075.6,1362.1 1076.7,1292.6 1078.1,1368.8 1079.7,1307.2 1080.8,1350.6 1081.4,1305.5 1083.6,1357.8 1085.0,1317.0 1086.2,1377.5 1087.3,1307.9 1087.7,1384.1 1089.2,1308.3 1091.4,1385.4 1092.9,1320.4 1093.6,1366.0 1095.6,1285.0 1096.8,1347.5 1097.5,1249.5 1098.7,1348.3 1099.4,1234.6 1100.3,1343.2 1102.7,1152.9 1106.5,1047.3 1110.4,1122.3 1114.2,1173.2 1119.3,1163.1 1120.0,1275.0 1120.2,1293.7 1121.8,1337.7 1123.5,1286.5 1124.8,1343.5 1126.4,1294.9 1127.3,1355.7 1128.7,1290.5 1130.1,1353.6 1131.2,1291.5 1132.8,1339.7 1133.5,1296.7 1134.9,1337.5 1136.2,1288.9 1137.3,1339.7 1138.3,1302.2 1140.3,1332.3 1141.8,1290.9 1143.0,1334.7 1144.6,1289.6 1145.9,1353.0 1147.3,1308.0 1148.7,1357.1 1149.7,1303.3 1151.7,1349.8 1152.3,1313.5 1154.9,1325.9 1157.4,1236.9 1163.8,1168.2 1168.9,1173.2 1172.7,1105.8 1174.0,1188.5 1175.3,1259.8 1177.8,1275.0 1181.1,1374.3 1182.9,1300.5 1186.2,1270.0 1202.0,1342.5 1204.5,1203.8 1211.4,1182.2 1268.1,1347.6 1268.1,1320.9 1283.4,1303.0 1283.1,1283.6 1284.7,1330.9 1286.7,1246.5 1287.7,1341.3 1289.6,1226.8 1291.8,1326.4 1293.2,1220.6 1294.8,1301.2 1295.6,1227.9 1297.6,1282.1 1300.0,1205.2 1301.7,1300.4 1302.8,1217.4 1305.1,1328.7 1306.5,1239.5 1308.4,1327.0 1310.5,1278.6 1355.1,1196.2 1356.3,1206.3 1357.6,1117.3 1361.4,1168.2 1367.8,1224.1 1371.6,1198.7 1372.7,1200.5 1374.9,1306.0 1376.6,1280.7 1378.4,1341.1 1380.5,1305.0 1381.7,1348.4 1384.0,1309.9 1399.6,1298.0 1400.7,1288.9 1402.5,1332.7 1404.9,1252.4 1405.4,1327.1 1407.4,1273.9 1408.5,1332.5 1410.9,1283.2 1412.4,1331.5 1414.0,1260.4 1415.7,1322.7 1417.0,1247.1 1418.9,1296.5 1421.2,1230.0 1423.0,1308.5 1424.6,1242.2 1425.8,1307.1 1427.3,1260.9 1428.3,1327.6 1430.5,1277.7 1432.8,1320.8 1433.9,1287.0 1434.7,1330.9 1436.8,1267.1 1438.1,1311.9 1439.4,1258.2 1441.7,1317.3 1443.5,1262.9 1445.5,1321.7 1446.5,1246.0 1447.9,1302.2 1450.0,1253.0 1458.1,1264.9 1470.9,1313.2 1471.2,1287.3 1473.0,1336.3 1474.8,1290.4 1476.2,1344.6 1477.5,1269.0 1479.1,1327.6 1479.9,1271.7 1481.2,1341.4 1482.5,1281.2 1484.1,1359.5 1486.5,1302.0 1487.5,1361.2 1488.5,1315.7 1489.8,1349.6 1491.6,1302.9 1493.1,1335.9 1495.8,1299.6 1496.7,1348.5 1498.9,1296.3 1500.8,1348.0 1501.7,1282.8 1503.0,1375.6 1505.2,1296.7 1506.2,1337.4 1508.8,1290.9 1509.7,1334.9 1511.6,1270.0 1515.8,1322.1 1527.3,1336.1 1527.9,1300.9 1530.1,1373.2 1531.3,1317.2 1533.6,1375.5 1534.5,1308.3 1536.5,1372.6 1538.3,1312.1 1540.2,1363.1 1541.1,1298.4 1543.5,1341.7 1545.0,1273.0 1546.9,1322.2 1548.5,1266.9 1549.3,1327.3 1551.0,1279.9 1552.8,1351.6 1554.7,1284.8 1556.7,1352.6 1558.3,1298.8 1559.2,1361.5 1561.6,1310.2 1562.8,1364.4 1564.0,1313.8 1565.4,1347.9 1567.8,1299.6 1569.4,1349.9 1571.6,1310.9 1572.8,1351.6 1574.3,1306.1 1576.3,1355.5 1577.5,1294.3 1579.1,1340.9 1581.3,1285.1 1583.0,1335.7 1584.7,1294.1 1586.3,1358.2 1588.2,1303.3 1588.3,1317.0 1657.1,1224.1 1658.3,1189.8 1659.6,1329.8"/><path d="M904.1 1175.8h0M904.7 1179.0h0M905.4 1182.2h0M906.0 1185.3h0M906.6 1188.5h0M911.7 1300.5h0M913.0 1217.7h0M914.3 1320.4h0M915.4 1225.5h0M916.7 1334.1h0M916.7 1330.4h0M916.8 1326.6h0M916.8 1322.8h0M916.8 1319.0h0M916.9 1315.2h0M916.9 1311.4h0M917.0 1307.6h0M917.0 1303.9h0M917.1 1300.1h0M917.1 1296.3h0M917.2 1292.5h0M917.2 1288.7h0M917.3 1284.9h0M917.3 1281.1h0M917.4 1277.4h0M917.4 1273.6h0M917.5 1269.8h0M917.5 1266.0h0M917.6 1269.9h0M917.7 1273.8h0M917.8 1277.6h0M917.9 1281.5h0M918.0 1285.4h0M918.0 1289.3h0M918.1 1293.1h0M918.2 1297.0h0M918.3 1300.9h0M918.4 1304.8h0M918.5 1308.6h0M918.5 1312.5h0M918.6 1316.4h0M918.7 1320.3h0M918.8 1324.1h0M918.9 1328.0h0M919.0 1331.9h0M919.1 1335.8h0M920.7 1259.2h0M920.8 1263.0h0M920.9 1266.9h0M921.0 1270.8h0M921.0 1274.7h0M921.1 1278.6h0M921.2 1282.4h0M921.3 1286.3h0M921.3 1290.2h0M921.4 1294.1h0M921.5 1297.9h0M921.6 1301.8h0M921.6 1305.7h0M921.7 1309.6h0M921.8 1313.4h0M921.9 1317.3h0M921.9 1321.2h0M922.0 1325.1h0M922.1 1328.9h0M922.2 1332.8h0M923.0 1252.8h0M923.1 1256.8h0M923.2 1260.7h0M923.4 1264.7h0M923.5 1268.6h0M923.6 1272.6h0M923.7 1276.6h0M923.9 1280.5h0M924.0 1284.5h0M924.1 1288.4h0M924.2 1292.4h0M924.4 1296.3h0M924.5 1300.3h0M924.6 1304.2h0M924.7 1308.2h0M924.9 1312.1h0M925.0 1316.1h0M925.1 1320.1h0M925.3 1316.2h0M925.4 1312.3h0M925.6 1308.4h0M925.7 1304.5h0M925.9 1300.6h0M926.1 1296.7h0M926.2 1292.8h0M926.4 1288.9h0M926.5 1285.0h0M926.7 1281.1h0M926.9 1277.3h0M926.9 1281.1h0M927.0 1285.0h0M927.1 1288.9h0M927.2 1292.8h0M927.3 1296.7h0M927.4 1300.6h0M927.4 1304.4h0M927.5 1308.3h0M927.6 1312.2h0M927.7 1316.1h0M927.9 1312.4h0M928.0 1308.8h0M928.2 1305.1h0M928.4 1301.5h0M928.6 1297.8h0M928.7 1294.2h0M928.9 1290.5h0M929.1 1286.9h0M929.2 1290.6h0M929.3 1294.3h0M929.5 1298.0h0M929.6 1301.7h0M929.7 1305.4h0M929.9 1309.1h0M930.0 1312.8h0M930.1 1316.6h0M930.2 1320.3h0M930.4 1324.0h0M930.5 1327.7h0M930.6 1331.4h0M930.8 1335.1h0M930.8 1331.4h0M930.9 1327.6h0M930.9 1323.9h0M931.0 1320.2h0M931.0 1316.4h0M931.1 1312.7h0M931.2 1308.9h0M931.2 1305.2h0M931.3 1301.5h0M931.3 1297.7h0M931.4 1294.0h0M931.4 1290.3h0M931.5 1286.5h0M931.6 1290.4h0M931.7 1294.3h0M931.7 1298.1h0M931.8 1302.0h0M931.9 1305.9h0M932.0 1309.7h0M932.1 1313.6h0M932.2 1317.5h0M932.3 1321.3h0M932.3 1325.2h0M932.4 1329.1h0M932.5 1332.9h0M932.6 1336.8h0M932.7 1340.7h0M932.8 1344.5h0M932.8 1348.4h0M933.0 1344.5h0M933.1 1340.7h0M933.2 1336.8h0M933.4 1333.0h0M933.5 1329.1h0M933.6 1325.3h0M933.7 1321.4h0M933.9 1317.6h0M934.0 1313.7h0M934.1 1309.9h0M934.3 1306.0h0M934.4 1302.2h0M934.5 1298.3h0M934.6 1294.4h0M934.7 1298.3h0M934.8 1302.2h0M934.9 1306.1h0M935.0 1310.1h0M935.1 1314.0h0M935.1 1317.9h0M935.2 1321.8h0M935.3 1325.7h0M935.4 1329.6h0M935.5 1333.5h0M935.5 1337.4h0M935.6 1341.3h0M935.7 1345.2h0M935.8 1349.1h0M935.9 1353.0h0M936.0 1356.9h0M936.0 1360.8h0M936.1 1356.9h0M936.2 1353.1h0M936.3 1349.2h0M936.3 1345.3h0M936.4 1341.5h0M936.5 1337.6h0M936.5 1333.8h0M936.6 1329.9h0M936.7 1326.1h0M936.8 1322.2h0M936.8 1318.4h0M936.9 1314.5h0M937.0 1310.7h0M937.0 1306.8h0M937.1 1303.0h0M937.2 1299.1h0M937.4 1302.9h0M937.5 1306.7h0M937.7 1310.5h0M937.8 1314.3h0M938.0 1318.1h0M938.2 1321.9h0M938.3 1325.7h0M938.5 1329.5h0M938.7 1333.3h0M938.8 1337.1h0M939.0 1340.9h0M939.2 1344.7h0M939.3 1348.5h0M939.4 1344.7h0M939.5 1340.9h0M939.5 1337.1h0M939.6 1333.4h0M939.7 1329.6h0M939.7 1325.8h0M939.8 1322.1h0M939.8 1318.3h0M939.9 1314.5h0M940.0 1310.7h0M940.0 1307.0h0M940.1 1303.2h0M940.2 1299.4h0M940.3 1303.3h0M940.4 1307.1h0M940.5 1311.0h0M940.6 1314.8h0M940.7 1318.6h0M940.9 1322.5h0M941.0 1326.3h0M941.1 1330.2h0M941.2 1334.0h0M941.3 1337.9h0M941.4 1341.7h0M941.5 1345.6h0M941.7 1349.4h0M941.8 1353.2h0M941.9 1349.4h0M942.0 1345.5h0M942.2 1341.7h0M942.3 1337.8h0M942.4 1334.0h0M942.5 1330.1h0M942.7 1326.3h0M942.8 1322.4h0M942.9 1318.6h0M943.0 1314.7h0M943.2 1310.9h0M943.3 1307.0h0M943.3 1310.9h0M943.4 1314.9h0M943.4 1318.8h0M943.5 1322.8h0M943.5 1326.7h0M943.6 1330.6h0M943.7 1334.6h0M943.7 1338.5h0M943.8 1342.4h0M943.8 1346.4h0M943.9 1342.5h0M944.0 1338.7h0M944.1 1334.8h0M944.2 1330.9h0M944.4 1327.1h0M944.5 1323.2h0M944.6 1319.4h0M944.7 1315.5h0M944.8 1311.6h0M944.9 1307.8h0M945.0 1303.9h0M945.1 1300.1h0M945.2 1303.9h0M945.3 1307.8h0M945.4 1311.6h0M945.5 1315.5h0M945.6 1319.3h0M945.7 1323.2h0M945.8 1327.0h0M945.9 1330.9h0M946.0 1334.7h0M946.1 1338.6h0M946.2 1342.4h0M946.3 1346.3h0M946.4 1350.1h0M946.5 1354.0h0M946.6 1357.8h0M946.6 1353.9h0M946.7 1350.0h0M946.8 1346.0h0M946.8 1342.1h0M946.9 1338.1h0M947.0 1334.2h0M947.0 1330.2h0M947.1 1326.3h0M947.1 1322.4h0M947.2 1318.4h0M947.3 1314.5h0M947.3 1310.5h0M947.5 1314.4h0M947.7 1318.3h0M947.9 1322.2h0M948.1 1326.1h0M948.3 1330.0h0M948.5 1333.9h0M948.7 1337.8h0M948.9 1341.7h0M949.0 1345.6h0M949.2 1341.8h0M949.3 1338.1h0M949.4 1334.3h0M949.5 1330.5h0M949.7 1326.7h0M949.8 1322.9h0M949.9 1319.1h0M950.0 1315.3h0M950.2 1311.5h0M950.3 1307.7h0M950.4 1303.9h0M950.5 1307.8h0M950.6 1311.7h0M950.7 1315.6h0M950.7 1319.4h0M950.8 1323.3h0M950.9 1327.2h0M951.0 1331.1h0M951.1 1334.9h0M951.2 1338.8h0M951.3 1342.7h0M951.4 1346.5h0M951.4 1350.4h0M951.5 1354.3h0M951.6 1358.2h0M951.7 1362.0h0M951.8 1365.9h0M951.9 1369.8h0M951.9 1366.0h0M952.0 1362.1h0M952.1 1358.3h0M952.2 1354.5h0M952.2 1350.6h0M952.3 1346.8h0M952.4 1343.0h0M952.5 1339.1h0M952.5 1335.3h0M952.6 1331.5h0M952.7 1327.7h0M952.8 1323.8h0M952.8 1320.0h0M952.9 1316.2h0M953.0 1312.3h0M953.1 1308.5h0M953.2 1312.5h0M953.2 1316.5h0M953.3 1320.4h0M953.4 1324.4h0M953.5 1328.4h0M953.6 1332.4h0M953.7 1336.3h0M953.8 1340.3h0M953.9 1344.3h0M954.0 1348.3h0M954.0 1352.2h0M954.1 1356.2h0M954.3 1352.4h0M954.4 1348.5h0M954.6 1344.7h0M954.8 1340.8h0M954.9 1337.0h0M955.1 1333.2h0M955.2 1329.3h0M955.4 1325.5h0M955.5 1321.6h0M955.7 1317.8h0M955.8 1314.0h0M955.9 1317.7h0M956.0 1321.5h0M956.1 1325.2h0M956.2 1329.0h0M956.3 1332.7h0M956.4 1336.5h0M956.5 1340.3h0M956.6 1344.0h0M956.7 1347.8h0M956.8 1351.5h0M956.9 1355.3h0M957.0 1359.1h0M957.1 1362.8h0M957.2 1366.6h0M957.3 1370.3h0M957.4 1366.4h0M957.5 1362.5h0M957.6 1358.6h0M957.6 1354.6h0M957.7 1350.7h0M957.8 1346.8h0M957.9 1342.9h0M958.0 1339.0h0M958.0 1335.0h0M958.1 1331.1h0M958.2 1327.2h0M958.3 1323.3h0M958.4 1319.4h0M958.4 1315.4h0M958.5 1311.5h0M958.6 1307.6h0M958.7 1303.7h0M958.8 1307.6h0M958.9 1311.6h0M959.0 1315.6h0M959.1 1319.6h0M959.2 1323.5h0M959.3 1327.5h0M959.4 1331.5h0M959.5 1335.4h0M959.6 1339.4h0M959.7 1343.4h0M959.8 1347.3h0M959.9 1351.3h0M960.0 1355.3h0M960.1 1359.2h0M960.2 1363.2h0M960.3 1359.3h0M960.3 1355.3h0M960.4 1351.3h0M960.5 1347.4h0M960.6 1343.4h0M960.7 1339.5h0M960.8 1335.5h0M960.9 1331.5h0M960.9 1327.6h0M961.0 1323.6h0M961.1 1319.7h0M961.2 1315.7h0M961.3 1311.7h0M961.4 1307.8h0M961.5 1303.8h0M961.5 1299.9h0M961.7 1303.5h0M961.9 1307.2h0M962.0 1310.9h0M962.2 1314.5h0M962.3 1318.2h0M962.5 1321.9h0M962.6 1325.6h0M962.8 1329.2h0M962.9 1332.9h0M963.1 1336.6h0M963.3 1340.2h0M963.4 1343.9h0M963.5 1340.0h0M963.6 1336.2h0M963.6 1332.3h0M963.7 1328.5h0M963.8 1324.6h0M963.8 1320.7h0M963.9 1316.9h0M964.0 1313.0h0M964.1 1309.2h0M964.1 1305.3h0M964.2 1301.5h0M964.3 1297.6h0M964.3 1293.7h0M964.4 1297.6h0M964.5 1301.4h0M964.6 1305.3h0M964.7 1309.2h0M964.8 1313.0h0M964.8 1316.9h0M964.9 1320.7h0M965.0 1324.6h0M965.1 1328.5h0M965.2 1332.3h0M965.2 1336.2h0M965.3 1340.0h0M965.4 1336.2h0M965.4 1332.4h0M965.5 1328.6h0M965.6 1324.7h0M965.6 1320.9h0M965.7 1317.1h0M965.7 1313.3h0M965.8 1309.5h0M965.8 1305.6h0M965.9 1301.8h0M966.0 1298.0h0M966.0 1294.2h0M966.1 1290.3h0M966.1 1286.5h0M966.3 1290.3h0M966.4 1294.1h0M966.5 1298.0h0M966.6 1301.8h0M966.7 1305.6h0M966.8 1309.4h0M966.9 1313.2h0M967.0 1317.0h0M967.1 1320.8h0M967.2 1324.7h0M967.3 1328.5h0M967.4 1332.3h0M967.6 1336.1h0M967.7 1339.9h0M967.8 1343.7h0M968.8 1253.1h0M968.8 1257.1h0M968.9 1261.1h0M969.0 1265.1h0M969.1 1269.1h0M969.2 1273.1h0M969.3 1277.1h0M969.4 1281.1h0M969.5 1285.1h0M969.5 1289.1h0M969.6 1293.1h0M969.7 1297.1h0M969.8 1301.1h0M969.9 1305.1h0M970.0 1309.1h0M970.1 1313.1h0M970.2 1317.1h0M970.3 1321.1h0M970.3 1325.1h0M970.4 1321.3h0M970.5 1317.5h0M970.6 1313.7h0M970.7 1309.9h0M970.8 1306.0h0M970.9 1302.2h0M971.0 1298.4h0M971.2 1294.6h0M971.3 1290.8h0M971.4 1287.0h0M971.5 1283.2h0M971.6 1279.4h0M971.7 1275.6h0M971.7 1279.6h0M971.8 1283.5h0M971.9 1287.5h0M972.0 1291.5h0M972.0 1295.4h0M972.1 1299.4h0M972.2 1303.4h0M972.3 1307.4h0M972.4 1311.3h0M972.4 1315.3h0M972.5 1319.3h0M972.6 1323.3h0M972.7 1327.2h0M972.7 1331.2h0M972.8 1335.2h0M972.9 1339.1h0M973.0 1335.2h0M973.1 1331.2h0M973.1 1327.2h0M973.2 1323.3h0M973.3 1319.3h0M973.4 1315.3h0M973.5 1311.4h0M973.6 1307.4h0M973.7 1303.4h0M973.8 1299.5h0M973.8 1295.5h0M973.9 1291.5h0M974.0 1287.6h0M974.1 1283.6h0M974.2 1279.6h0M974.3 1275.6h0M974.4 1279.5h0M974.5 1283.3h0M974.6 1287.2h0M974.7 1291.0h0M974.8 1294.9h0M974.9 1298.8h0M975.0 1302.6h0M975.1 1306.5h0M975.2 1310.3h0M975.2 1314.2h0M975.3 1318.0h0M975.4 1321.9h0M975.5 1325.7h0M975.6 1329.6h0M975.7 1333.4h0M975.8 1337.3h0M975.9 1341.1h0M976.0 1337.3h0M976.1 1333.5h0M976.1 1329.6h0M976.2 1325.8h0M976.3 1322.0h0M976.4 1318.2h0M976.4 1314.3h0M976.5 1310.5h0M976.6 1306.7h0M976.6 1302.9h0M976.7 1299.0h0M976.8 1295.2h0M976.9 1291.4h0M976.9 1287.6h0M977.0 1283.7h0M977.1 1279.9h0M977.1 1276.1h0M977.2 1279.8h0M977.3 1283.6h0M977.4 1287.3h0M977.5 1291.1h0M977.6 1294.8h0M977.8 1298.5h0M977.9 1302.3h0M978.0 1306.0h0M978.1 1309.8h0M978.2 1313.5h0M978.3 1317.3h0M978.4 1321.0h0M978.5 1324.7h0M978.6 1328.5h0M978.7 1332.2h0M978.7 1328.5h0M978.8 1324.8h0M978.9 1321.0h0M979.0 1317.3h0M979.1 1313.6h0M979.2 1309.9h0M979.2 1306.1h0M979.3 1302.4h0M979.4 1298.7h0M979.5 1295.0h0M979.6 1291.2h0M979.7 1287.5h0M979.8 1283.8h0M979.8 1280.0h0M980.0 1283.9h0M980.1 1287.8h0M980.3 1291.7h0M980.4 1295.6h0M980.6 1299.5h0M980.7 1303.3h0M980.8 1307.2h0M981.0 1311.1h0M981.1 1315.0h0M981.3 1318.9h0M981.4 1322.8h0M981.6 1326.6h0M985.5 1198.7h0M989.3 1119.8h0M989.8 1123.3h0M990.3 1126.8h0M990.8 1130.3h0M991.3 1133.8h0M991.7 1137.3h0M992.2 1140.8h0M992.7 1144.3h0M993.2 1147.8h0M993.4 1151.6h0M993.6 1155.4h0M993.9 1159.3h0M994.1 1163.1h0M994.4 1166.9h0M994.6 1170.7h0M994.8 1174.5h0M995.1 1178.3h0M995.3 1182.2h0M995.6 1186.0h0M995.8 1189.8h0M996.0 1193.6h0M996.3 1197.4h0M996.5 1201.2h0M996.7 1205.1h0M997.0 1208.9h0M997.9 1212.1h0M998.9 1215.2h0M999.8 1218.4h0M1000.8 1221.6h0M1002.1 1300.5h0M1001.9 1297.6h0M1001.8 1294.8h0M1001.9 1298.7h0M1002.1 1302.7h0M1002.2 1306.7h0M1002.3 1310.6h0M1002.4 1314.6h0M1002.6 1318.6h0M1002.7 1322.5h0M1002.8 1326.5h0M1002.9 1330.4h0M1003.1 1334.4h0M1003.2 1338.4h0M1003.3 1342.3h0M1003.4 1346.3h0M1003.5 1350.3h0M1003.6 1346.3h0M1003.6 1342.3h0M1003.7 1338.3h0M1003.7 1334.3h0M1003.7 1330.3h0M1003.8 1326.3h0M1003.8 1322.3h0M1003.9 1318.3h0M1003.9 1314.3h0M1003.9 1310.3h0M1004.0 1306.3h0M1004.0 1302.4h0M1004.1 1298.4h0M1004.1 1294.4h0M1004.1 1290.4h0M1004.2 1286.4h0M1004.2 1282.4h0M1006.1 1366.1h0M1007.2 1286.1h0M1007.3 1289.9h0M1007.4 1293.8h0M1007.5 1297.6h0M1007.6 1301.5h0M1007.7 1305.3h0M1007.8 1309.2h0M1007.9 1313.0h0M1008.0 1316.9h0M1008.1 1320.7h0M1008.2 1324.6h0M1008.4 1328.4h0M1008.5 1332.3h0M1008.6 1336.1h0M1008.7 1340.0h0M1008.8 1343.8h0M1008.9 1347.7h0M1009.0 1351.5h0M1009.1 1355.3h0M1009.2 1359.2h0M1009.2 1355.2h0M1009.3 1351.3h0M1009.3 1347.3h0M1009.3 1343.4h0M1009.4 1339.4h0M1009.4 1335.5h0M1009.5 1331.5h0M1009.5 1327.6h0M1009.6 1323.6h0M1009.6 1319.6h0M1009.6 1315.7h0M1009.7 1311.7h0M1009.7 1307.8h0M1009.8 1303.8h0M1009.8 1299.9h0M1009.9 1295.9h0M1009.9 1291.9h0M1010.0 1288.0h0M1011.5 1369.2h0M1012.8 1291.9h0M1014.1 1371.2h0M1014.3 1367.3h0M1014.4 1363.4h0M1014.5 1359.4h0M1014.7 1355.5h0M1014.8 1351.6h0M1014.9 1347.6h0M1015.1 1343.7h0M1015.2 1339.8h0M1015.3 1335.8h0M1015.5 1331.9h0M1015.6 1328.0h0M1015.7 1324.0h0M1015.9 1320.1h0M1016.0 1316.2h0M1016.1 1312.2h0M1016.3 1308.3h0M1016.4 1304.3h0M1016.5 1300.4h0M1016.6 1304.4h0M1016.7 1308.3h0M1016.8 1312.3h0M1016.9 1316.3h0M1017.0 1320.2h0M1017.1 1324.2h0M1017.2 1328.1h0M1017.3 1332.1h0M1017.4 1336.1h0M1017.5 1340.0h0M1017.6 1344.0h0M1017.7 1347.9h0M1017.8 1344.1h0M1017.9 1340.2h0M1017.9 1336.4h0M1018.0 1332.5h0M1018.1 1328.6h0M1018.2 1324.8h0M1018.2 1320.9h0M1018.3 1317.1h0M1018.4 1313.2h0M1018.5 1309.3h0M1018.5 1305.5h0M1018.6 1301.6h0M1018.7 1297.8h0M1018.7 1293.9h0M1018.8 1297.7h0M1018.9 1301.4h0M1018.9 1305.2h0M1019.0 1309.0h0M1019.0 1312.7h0M1019.1 1316.5h0M1019.2 1320.3h0M1019.2 1324.0h0M1019.3 1327.8h0M1019.3 1331.6h0M1019.4 1335.3h0M1019.5 1339.1h0M1019.5 1342.8h0M1019.6 1346.6h0M1019.6 1350.4h0M1019.7 1354.1h0M1019.7 1357.9h0M1020.7 1274.9h0M1022.7 1361.5h0M1022.7 1357.6h0M1022.8 1353.6h0M1022.8 1349.7h0M1022.9 1345.8h0M1022.9 1341.9h0M1023.0 1338.0h0M1023.0 1334.0h0M1023.1 1330.1h0M1023.1 1326.2h0M1023.2 1322.3h0M1023.2 1318.3h0M1023.3 1314.4h0M1023.3 1310.5h0M1023.4 1306.6h0M1023.4 1302.7h0M1023.5 1298.7h0M1023.5 1294.8h0M1023.6 1290.9h0M1023.7 1294.7h0M1023.8 1298.5h0M1024.0 1302.3h0M1024.1 1306.1h0M1024.2 1310.0h0M1024.4 1313.8h0M1024.5 1317.6h0M1024.7 1321.4h0M1024.8 1325.2h0M1024.9 1329.0h0M1025.1 1332.8h0M1025.2 1336.6h0M1025.3 1340.5h0M1026.6 1259.9h0M1027.6 1354.7h0M1029.1 1267.1h0M1029.9 1349.3h0M1031.9 1265.1h0M1032.9 1349.1h0M1034.7 1265.2h0M1034.8 1269.0h0M1034.9 1272.8h0M1035.0 1276.6h0M1035.1 1280.4h0M1035.2 1284.2h0M1035.3 1288.0h0M1035.4 1291.8h0M1035.5 1295.6h0M1035.6 1299.4h0M1035.7 1303.2h0M1035.8 1307.0h0M1035.9 1310.8h0M1035.9 1314.6h0M1036.0 1318.4h0M1036.1 1322.2h0M1036.2 1326.1h0M1036.3 1329.9h0M1036.4 1326.0h0M1036.5 1322.1h0M1036.6 1318.3h0M1036.7 1314.4h0M1036.7 1310.5h0M1036.8 1306.6h0M1036.9 1302.8h0M1037.0 1298.9h0M1037.0 1295.0h0M1037.1 1291.2h0M1037.2 1287.3h0M1037.3 1283.4h0M1037.3 1287.2h0M1037.3 1291.0h0M1037.4 1294.8h0M1037.4 1298.5h0M1037.4 1302.3h0M1037.5 1306.1h0M1037.5 1309.9h0M1037.5 1313.6h0M1037.6 1317.4h0M1037.6 1321.2h0M1037.6 1325.0h0M1037.7 1328.7h0M1037.7 1332.5h0M1037.7 1336.3h0M1037.8 1340.1h0M1037.9 1336.2h0M1038.0 1332.4h0M1038.1 1328.6h0M1038.2 1324.8h0M1038.3 1321.0h0M1038.4 1317.2h0M1038.5 1313.4h0M1038.6 1309.6h0M1038.7 1305.8h0M1038.8 1301.9h0M1038.9 1298.1h0M1039.0 1294.3h0M1039.1 1290.5h0M1039.2 1286.7h0M1039.2 1282.9h0M1039.3 1286.7h0M1039.4 1290.6h0M1039.4 1294.4h0M1039.5 1298.2h0M1039.6 1302.1h0M1039.6 1305.9h0M1039.7 1309.7h0M1039.8 1313.6h0M1039.8 1317.4h0M1039.9 1321.3h0M1040.0 1325.1h0M1040.0 1328.9h0M1040.1 1332.8h0M1040.2 1336.6h0M1040.2 1340.4h0M1040.3 1344.3h0M1040.4 1348.1h0M1040.4 1351.9h0M1040.5 1348.1h0M1040.5 1344.3h0M1040.6 1340.5h0M1040.7 1336.6h0M1040.7 1332.8h0M1040.8 1329.0h0M1040.8 1325.2h0M1040.9 1321.4h0M1040.9 1317.5h0M1041.0 1313.7h0M1041.0 1309.9h0M1041.1 1306.1h0M1041.1 1302.2h0M1041.2 1298.4h0M1041.2 1294.6h0M1041.3 1290.8h0M1041.4 1287.0h0M1041.4 1283.1h0M1041.5 1279.3h0M1045.3 1188.5h0M1046.1 1184.9h0M1046.8 1181.2h0M1047.5 1177.6h0M1048.2 1174.0h0M1049.0 1170.3h0M1049.7 1166.7h0M1050.4 1163.1h0M1050.9 1167.0h0M1051.3 1171.0h0M1051.7 1174.9h0M1052.1 1178.9h0M1052.5 1182.9h0M1053.0 1186.8h0M1053.4 1190.8h0M1053.8 1194.7h0M1054.2 1198.7h0M1054.7 1202.5h0M1055.1 1206.3h0M1055.5 1210.2h0M1055.9 1214.0h0M1056.4 1217.8h0M1056.8 1221.6h0M1057.2 1225.4h0M1057.6 1229.2h0M1058.1 1233.1h0M1058.5 1236.9h0M1058.9 1240.7h0M1059.3 1244.5h0M1059.5 1248.2h0M1059.7 1252.0h0M1059.8 1255.7h0M1060.0 1259.4h0M1060.2 1263.2h0M1060.4 1266.9h0M1060.5 1270.6h0M1060.7 1274.4h0M1060.9 1278.1h0M1061.0 1281.8h0M1061.2 1285.6h0M1061.4 1289.3h0M1061.5 1293.0h0M1061.7 1296.8h0M1061.9 1300.5h0M1063.0 1302.6h0M1064.1 1304.7h0M1064.2 1308.7h0M1064.3 1312.7h0M1064.4 1316.7h0M1064.5 1320.7h0M1064.6 1324.7h0M1064.7 1328.7h0M1064.8 1332.7h0M1064.9 1336.7h0M1065.1 1340.7h0M1065.2 1344.7h0M1065.3 1348.7h0M1065.4 1352.7h0M1065.5 1356.7h0M1065.6 1360.6h0M1065.7 1356.9h0M1065.8 1353.1h0M1065.9 1349.3h0M1066.0 1345.5h0M1066.0 1341.7h0M1066.1 1337.9h0M1066.2 1334.1h0M1066.3 1330.3h0M1066.4 1326.5h0M1066.5 1322.7h0M1066.6 1318.9h0M1066.7 1315.1h0M1066.8 1311.3h0M1066.9 1307.5h0M1067.0 1303.7h0M1067.0 1307.6h0M1067.1 1311.5h0M1067.2 1315.3h0M1067.2 1319.2h0M1067.3 1323.1h0M1067.3 1326.9h0M1067.4 1330.8h0M1067.5 1334.6h0M1067.5 1338.5h0M1067.6 1342.4h0M1067.7 1346.2h0M1067.7 1350.1h0M1067.8 1354.0h0M1067.8 1357.8h0M1067.9 1361.7h0M1068.0 1365.5h0M1068.0 1361.8h0M1068.1 1358.0h0M1068.2 1354.2h0M1068.3 1350.4h0M1068.4 1346.7h0M1068.5 1342.9h0M1068.5 1339.1h0M1068.6 1335.3h0M1068.7 1331.5h0M1068.8 1327.8h0M1068.9 1324.0h0M1068.9 1320.2h0M1069.0 1316.4h0M1069.1 1312.7h0M1069.2 1308.9h0M1069.3 1305.1h0M1069.3 1308.9h0M1069.4 1312.7h0M1069.4 1316.5h0M1069.5 1320.3h0M1069.5 1324.1h0M1069.6 1328.0h0M1069.6 1331.8h0M1069.6 1335.6h0M1069.7 1339.4h0M1069.7 1343.2h0M1069.8 1347.0h0M1069.8 1350.8h0M1069.9 1354.6h0M1069.9 1358.4h0M1070.0 1362.2h0M1070.0 1366.1h0M1070.1 1369.9h0M1070.2 1366.1h0M1070.3 1362.4h0M1070.4 1358.6h0M1070.5 1354.9h0M1070.6 1351.1h0M1070.7 1347.4h0M1070.8 1343.6h0M1070.9 1339.8h0M1071.0 1336.1h0M1071.1 1332.3h0M1071.2 1328.6h0M1071.3 1324.8h0M1071.4 1321.1h0M1071.5 1317.3h0M1071.6 1313.6h0M1071.7 1309.8h0M1071.8 1313.6h0M1071.9 1317.5h0M1072.0 1321.3h0M1072.1 1325.1h0M1072.2 1328.9h0M1072.3 1332.7h0M1072.4 1336.5h0M1072.5 1340.4h0M1072.5 1344.2h0M1072.6 1348.0h0M1072.7 1351.8h0M1072.8 1355.6h0M1072.9 1351.8h0M1073.0 1347.9h0M1073.1 1344.0h0M1073.1 1340.2h0M1073.2 1336.3h0M1073.3 1332.5h0M1073.4 1328.6h0M1073.5 1324.8h0M1073.6 1320.9h0M1073.6 1317.0h0M1073.7 1313.2h0M1073.8 1309.3h0M1073.9 1305.5h0M1074.0 1301.6h0M1074.1 1305.4h0M1074.2 1309.2h0M1074.3 1312.9h0M1074.4 1316.7h0M1074.5 1320.5h0M1074.6 1324.3h0M1074.7 1328.0h0M1074.8 1331.8h0M1074.9 1335.6h0M1075.0 1339.4h0M1075.1 1343.2h0M1075.2 1346.9h0M1075.3 1350.7h0M1075.4 1354.5h0M1075.5 1358.3h0M1075.6 1362.1h0M1075.6 1358.2h0M1075.7 1354.3h0M1075.8 1350.5h0M1075.8 1346.6h0M1075.9 1342.8h0M1076.0 1338.9h0M1076.0 1335.0h0M1076.1 1331.2h0M1076.2 1327.3h0M1076.2 1323.5h0M1076.3 1319.6h0M1076.3 1315.8h0M1076.4 1311.9h0M1076.5 1308.0h0M1076.5 1304.2h0M1076.6 1300.3h0M1076.7 1296.5h0M1076.7 1292.6h0M1078.1 1368.8h0M1078.2 1365.0h0M1078.3 1361.1h0M1078.4 1357.3h0M1078.5 1353.4h0M1078.6 1349.6h0M1078.7 1345.7h0M1078.8 1341.9h0M1078.9 1338.0h0M1079.0 1334.2h0M1079.1 1330.3h0M1079.2 1326.5h0M1079.3 1322.6h0M1079.4 1318.8h0M1079.5 1314.9h0M1079.6 1311.1h0M1079.7 1307.2h0M1079.8 1311.2h0M1079.9 1315.1h0M1080.0 1319.1h0M1080.1 1323.0h0M1080.2 1326.9h0M1080.3 1330.9h0M1080.4 1334.8h0M1080.5 1338.8h0M1080.6 1342.7h0M1080.7 1346.7h0M1080.8 1350.6h0M1080.9 1346.8h0M1080.9 1343.1h0M1081.0 1339.3h0M1081.0 1335.6h0M1081.1 1331.8h0M1081.1 1328.1h0M1081.2 1324.3h0M1081.2 1320.6h0M1081.3 1316.8h0M1081.3 1313.0h0M1081.4 1309.3h0M1081.4 1305.5h0M1081.6 1309.3h0M1081.7 1313.0h0M1081.9 1316.7h0M1082.0 1320.5h0M1082.2 1324.2h0M1082.3 1327.9h0M1082.5 1331.7h0M1082.6 1335.4h0M1082.8 1339.1h0M1082.9 1342.9h0M1083.1 1346.6h0M1083.2 1350.3h0M1083.4 1354.1h0M1083.6 1357.8h0M1083.7 1354.1h0M1083.8 1350.4h0M1083.9 1346.7h0M1084.1 1343.0h0M1084.2 1339.2h0M1084.3 1335.5h0M1084.4 1331.8h0M1084.6 1328.1h0M1084.7 1324.4h0M1084.8 1320.7h0M1085.0 1317.0h0M1085.0 1320.8h0M1085.1 1324.6h0M1085.2 1328.3h0M1085.3 1332.1h0M1085.3 1335.9h0M1085.4 1339.7h0M1085.5 1343.5h0M1085.6 1347.2h0M1085.7 1351.0h0M1085.7 1354.8h0M1085.8 1358.6h0M1085.9 1362.4h0M1086.0 1366.1h0M1086.0 1369.9h0M1086.1 1373.7h0M1086.2 1377.5h0M1086.3 1373.6h0M1086.3 1369.7h0M1086.4 1365.9h0M1086.4 1362.0h0M1086.5 1358.2h0M1086.6 1354.3h0M1086.6 1350.4h0M1086.7 1346.6h0M1086.7 1342.7h0M1086.8 1338.8h0M1086.8 1335.0h0M1086.9 1331.1h0M1087.0 1327.3h0M1087.0 1323.4h0M1087.1 1319.5h0M1087.1 1315.7h0M1087.2 1311.8h0M1087.3 1307.9h0M1087.7 1384.1h0M1089.2 1308.3h0M1091.4 1385.4h0M1091.5 1381.5h0M1091.6 1377.7h0M1091.7 1373.9h0M1091.8 1370.1h0M1091.9 1366.2h0M1092.0 1362.4h0M1092.0 1358.6h0M1092.1 1354.8h0M1092.2 1351.0h0M1092.3 1347.1h0M1092.4 1343.3h0M1092.5 1339.5h0M1092.6 1335.7h0M1092.7 1331.8h0M1092.8 1328.0h0M1092.8 1324.2h0M1092.9 1320.4h0M1093.0 1324.2h0M1093.0 1328.0h0M1093.1 1331.8h0M1093.2 1335.6h0M1093.2 1339.4h0M1093.3 1343.2h0M1093.3 1347.0h0M1093.4 1350.8h0M1093.4 1354.6h0M1093.5 1358.4h0M1093.5 1362.2h0M1093.6 1366.0h0M1095.6 1285.0h0M1095.7 1288.9h0M1095.8 1292.8h0M1095.8 1296.7h0M1095.9 1300.6h0M1096.0 1304.5h0M1096.1 1308.4h0M1096.1 1312.3h0M1096.2 1316.2h0M1096.3 1320.2h0M1096.4 1324.1h0M1096.4 1328.0h0M1096.5 1331.9h0M1096.6 1335.8h0M1096.6 1339.7h0M1096.7 1343.6h0M1096.8 1347.5h0M1097.5 1249.5h0M1098.7 1348.3h0M1099.4 1234.6h0M1100.3 1343.2h0M1102.7 1152.9h0M1106.5 1047.3h0M1110.4 1122.3h0M1110.7 1126.3h0M1110.9 1130.2h0M1111.2 1134.1h0M1111.5 1138.0h0M1111.8 1141.9h0M1112.1 1145.8h0M1112.4 1149.8h0M1112.7 1153.7h0M1113.0 1157.6h0M1113.3 1161.5h0M1113.6 1165.4h0M1113.9 1169.3h0M1114.2 1173.2h0M1115.9 1169.9h0M1117.6 1166.5h0M1119.3 1163.1h0M1120.0 1275.0h0M1120.1 1278.8h0M1120.1 1282.5h0M1120.1 1286.3h0M1120.2 1290.0h0M1120.2 1293.7h0M1120.3 1297.4h0M1120.5 1301.1h0M1120.6 1304.7h0M1120.7 1308.4h0M1120.9 1312.1h0M1121.0 1315.7h0M1121.1 1319.4h0M1121.3 1323.1h0M1121.4 1326.7h0M1121.5 1330.4h0M1121.6 1334.1h0M1121.8 1337.7h0M1121.9 1333.8h0M1122.0 1329.8h0M1122.2 1325.9h0M1122.3 1322.0h0M1122.4 1318.0h0M1122.6 1314.1h0M1122.7 1310.1h0M1122.8 1306.2h0M1123.0 1302.3h0M1123.1 1298.3h0M1123.2 1294.4h0M1123.4 1290.4h0M1123.5 1286.5h0M1123.6 1290.3h0M1123.7 1294.1h0M1123.8 1297.9h0M1123.8 1301.7h0M1123.9 1305.5h0M1124.0 1309.3h0M1124.1 1313.1h0M1124.2 1316.9h0M1124.3 1320.7h0M1124.4 1324.5h0M1124.5 1328.3h0M1124.6 1332.1h0M1124.7 1335.9h0M1124.8 1339.7h0M1124.8 1343.5h0M1125.0 1339.7h0M1125.1 1336.0h0M1125.2 1332.2h0M1125.3 1328.5h0M1125.5 1324.8h0M1125.6 1321.0h0M1125.7 1317.3h0M1125.8 1313.6h0M1125.9 1309.8h0M1126.1 1306.1h0M1126.2 1302.3h0M1126.3 1298.6h0M1126.4 1294.9h0M1126.5 1298.7h0M1126.5 1302.5h0M1126.6 1306.3h0M1126.7 1310.1h0M1126.7 1313.9h0M1126.8 1317.7h0M1126.8 1321.5h0M1126.9 1325.3h0M1126.9 1329.1h0M1127.0 1332.9h0M1127.1 1336.7h0M1127.1 1340.5h0M1127.2 1344.3h0M1127.2 1348.1h0M1127.3 1351.9h0M1127.3 1355.7h0M1127.4 1351.8h0M1127.5 1348.0h0M1127.6 1344.2h0M1127.7 1340.3h0M1127.7 1336.5h0M1127.8 1332.7h0M1127.9 1328.8h0M1128.0 1325.0h0M1128.1 1321.1h0M1128.2 1317.3h0M1128.2 1313.5h0M1128.3 1309.6h0M1128.4 1305.8h0M1128.5 1302.0h0M1128.6 1298.1h0M1128.6 1294.3h0M1128.7 1290.5h0M1128.8 1294.4h0M1128.9 1298.3h0M1129.0 1302.3h0M1129.1 1306.2h0M1129.1 1310.2h0M1129.2 1314.1h0M1129.3 1318.1h0M1129.4 1322.0h0M1129.5 1326.0h0M1129.6 1329.9h0M1129.6 1333.9h0M1129.7 1337.8h0M1129.8 1341.8h0M1129.9 1345.7h0M1130.0 1349.7h0M1130.1 1353.6h0M1130.1 1349.7h0M1130.2 1345.8h0M1130.3 1342.0h0M1130.3 1338.1h0M1130.4 1334.2h0M1130.5 1330.3h0M1130.5 1326.4h0M1130.6 1322.5h0M1130.7 1318.7h0M1130.7 1314.8h0M1130.8 1310.9h0M1130.9 1307.0h0M1131.0 1303.1h0M1131.0 1299.3h0M1131.1 1295.4h0M1131.2 1291.5h0M1131.3 1295.2h0M1131.4 1298.9h0M1131.5 1302.6h0M1131.7 1306.3h0M1131.8 1310.1h0M1131.9 1313.8h0M1132.0 1317.5h0M1132.1 1321.2h0M1132.3 1324.9h0M1132.4 1328.6h0M1132.5 1332.3h0M1132.6 1336.0h0M1132.8 1339.7h0M1132.8 1335.8h0M1132.9 1331.9h0M1132.9 1328.0h0M1133.0 1324.1h0M1133.1 1320.2h0M1133.1 1316.2h0M1133.2 1312.3h0M1133.3 1308.4h0M1133.3 1304.5h0M1133.4 1300.6h0M1133.5 1296.7h0M1133.6 1300.4h0M1133.7 1304.1h0M1133.9 1307.8h0M1134.0 1311.5h0M1134.1 1315.2h0M1134.3 1318.9h0M1134.4 1322.6h0M1134.5 1326.4h0M1134.7 1330.1h0M1134.8 1333.8h0M1134.9 1337.5h0M1135.0 1333.8h0M1135.1 1330.0h0M1135.2 1326.3h0M1135.3 1322.5h0M1135.4 1318.8h0M1135.5 1315.1h0M1135.6 1311.3h0M1135.7 1307.6h0M1135.8 1303.9h0M1135.9 1300.1h0M1136.0 1296.4h0M1136.1 1292.6h0M1136.2 1288.9h0M1136.3 1292.8h0M1136.4 1296.7h0M1136.4 1300.6h0M1136.5 1304.5h0M1136.6 1308.4h0M1136.7 1312.3h0M1136.8 1316.3h0M1136.9 1320.2h0M1137.0 1324.1h0M1137.0 1328.0h0M1137.1 1331.9h0M1137.2 1335.8h0M1137.3 1339.7h0M1137.4 1335.9h0M1137.5 1332.2h0M1137.6 1328.4h0M1137.7 1324.7h0M1137.8 1320.9h0M1137.9 1317.2h0M1138.0 1313.4h0M1138.1 1309.7h0M1138.2 1305.9h0M1138.3 1302.2h0M1138.5 1306.0h0M1138.8 1309.7h0M1139.1 1313.5h0M1139.3 1317.2h0M1139.6 1321.0h0M1139.8 1324.7h0M1140.1 1328.5h0M1140.3 1332.3h0M1140.5 1328.5h0M1140.6 1324.7h0M1140.7 1321.0h0M1140.9 1317.2h0M1141.0 1313.5h0M1141.1 1309.7h0M1141.2 1306.0h0M1141.4 1302.2h0M1141.5 1298.4h0M1141.6 1294.7h0M1141.8 1290.9h0M1141.9 1294.9h0M1142.0 1298.9h0M1142.1 1302.9h0M1142.2 1306.8h0M1142.3 1310.8h0M1142.5 1314.8h0M1142.6 1318.8h0M1142.7 1322.8h0M1142.8 1326.8h0M1142.9 1330.7h0M1143.0 1334.7h0M1143.2 1331.0h0M1143.3 1327.2h0M1143.4 1323.4h0M1143.6 1319.7h0M1143.7 1315.9h0M1143.8 1312.2h0M1144.0 1308.4h0M1144.1 1304.7h0M1144.2 1300.9h0M1144.4 1297.1h0M1144.5 1293.4h0M1144.6 1289.6h0M1144.7 1293.6h0M1144.8 1297.5h0M1144.9 1301.5h0M1144.9 1305.5h0M1145.0 1309.4h0M1145.1 1313.4h0M1145.2 1317.3h0M1145.3 1321.3h0M1145.3 1325.3h0M1145.4 1329.2h0M1145.5 1333.2h0M1145.6 1337.2h0M1145.7 1341.1h0M1145.7 1345.1h0M1145.8 1349.0h0M1145.9 1353.0h0M1146.0 1349.3h0M1146.1 1345.5h0M1146.3 1341.7h0M1146.4 1338.0h0M1146.5 1334.2h0M1146.6 1330.5h0M1146.7 1326.7h0M1146.9 1323.0h0M1147.0 1319.2h0M1147.1 1315.5h0M1147.2 1311.7h0M1147.3 1308.0h0M1147.4 1311.8h0M1147.5 1315.5h0M1147.6 1319.3h0M1147.7 1323.1h0M1147.8 1326.9h0M1147.9 1330.6h0M1148.0 1334.4h0M1148.1 1338.2h0M1148.2 1342.0h0M1148.4 1345.7h0M1148.5 1349.5h0M1148.6 1353.3h0M1148.7 1357.1h0M1148.7 1353.2h0M1148.8 1349.4h0M1148.9 1345.5h0M1148.9 1341.7h0M1149.0 1337.9h0M1149.1 1334.0h0M1149.2 1330.2h0M1149.2 1326.3h0M1149.3 1322.5h0M1149.4 1318.7h0M1149.5 1314.8h0M1149.5 1311.0h0M1149.6 1307.1h0M1149.7 1303.3h0M1149.8 1307.2h0M1150.0 1311.0h0M1150.2 1314.9h0M1150.3 1318.8h0M1150.5 1322.7h0M1150.7 1326.5h0M1150.8 1330.4h0M1151.0 1334.3h0M1151.2 1338.2h0M1151.3 1342.0h0M1151.5 1345.9h0M1151.7 1349.8h0M1151.8 1346.2h0M1151.8 1342.5h0M1151.9 1338.9h0M1151.9 1335.3h0M1152.0 1331.6h0M1152.1 1328.0h0M1152.1 1324.4h0M1152.2 1320.7h0M1152.3 1317.1h0M1152.3 1313.5h0M1153.0 1316.6h0M1153.6 1319.7h0M1154.3 1322.8h0M1154.9 1325.9h0M1157.4 1236.9h0M1157.8 1233.1h0M1158.1 1229.2h0M1158.5 1225.4h0M1158.9 1221.6h0M1159.2 1217.8h0M1159.6 1214.0h0M1159.9 1210.2h0M1160.3 1206.3h0M1160.6 1202.5h0M1161.0 1198.7h0M1161.3 1194.9h0M1161.7 1191.1h0M1162.0 1187.2h0M1162.4 1183.4h0M1162.7 1179.6h0M1163.1 1175.8h0M1163.5 1172.0h0M1163.8 1168.2h0M1166.3 1170.7h0M1168.9 1173.2h0M1169.1 1169.3h0M1169.3 1165.3h0M1169.6 1161.3h0M1169.8 1157.4h0M1170.0 1153.4h0M1170.2 1149.4h0M1170.5 1145.5h0M1170.7 1141.5h0M1170.9 1137.5h0M1171.1 1133.6h0M1171.4 1129.6h0M1171.6 1125.6h0M1171.8 1121.7h0M1172.0 1117.7h0M1172.3 1113.7h0M1172.5 1109.8h0M1172.7 1105.8h0M1174.0 1188.5h0M1174.1 1192.5h0M1174.1 1196.4h0M1174.2 1200.4h0M1174.3 1204.4h0M1174.3 1208.3h0M1174.4 1212.3h0M1174.5 1216.2h0M1174.6 1220.2h0M1174.6 1224.1h0M1174.7 1228.1h0M1174.8 1232.1h0M1174.8 1236.0h0M1174.9 1240.0h0M1175.0 1243.9h0M1175.0 1247.9h0M1175.1 1251.9h0M1175.2 1255.8h0M1175.3 1259.8h0M1175.9 1263.6h0M1176.5 1267.4h0M1177.2 1271.2h0M1177.8 1275.0h0M1181.1 1374.3h0M1181.2 1370.4h0M1181.3 1366.5h0M1181.4 1362.6h0M1181.5 1358.8h0M1181.6 1354.9h0M1181.7 1351.0h0M1181.8 1347.1h0M1181.9 1343.2h0M1182.0 1339.3h0M1182.0 1335.5h0M1182.1 1331.6h0M1182.2 1327.7h0M1182.3 1323.8h0M1182.4 1319.9h0M1182.5 1316.0h0M1182.6 1312.2h0M1182.7 1308.3h0M1182.8 1304.4h0M1182.9 1300.5h0M1183.3 1296.7h0M1183.7 1292.9h0M1184.1 1289.0h0M1184.5 1285.2h0M1185.0 1281.4h0M1185.4 1277.6h0M1185.8 1273.8h0M1186.2 1270.0h0M1187.0 1273.8h0M1187.9 1277.6h0M1188.7 1281.4h0M1189.5 1285.2h0M1190.4 1289.0h0M1191.2 1292.9h0M1192.0 1296.7h0M1192.8 1300.5h0M1193.7 1304.3h0M1194.5 1308.1h0M1195.3 1312.0h0M1196.2 1315.8h0M1197.0 1319.6h0M1197.8 1323.4h0M1198.7 1327.2h0M1199.5 1331.0h0M1200.3 1334.9h0M1201.1 1338.7h0M1202.0 1342.5h0M1204.5 1203.8h0M1205.7 1200.2h0M1206.8 1196.6h0M1208.0 1193.0h0M1209.1 1189.4h0M1210.3 1185.8h0M1211.4 1182.2h0M1268.1 1347.6h0M1268.1 1343.8h0M1268.1 1339.9h0M1268.1 1336.1h0M1268.1 1332.3h0M1268.1 1328.5h0M1268.1 1324.7h0M1268.1 1320.9h0M1270.7 1317.9h0M1273.2 1314.9h0M1275.8 1312.0h0M1278.3 1309.0h0M1280.9 1306.0h0M1283.4 1303.0h0M1283.4 1299.1h0M1283.3 1295.3h0M1283.2 1291.4h0M1283.2 1287.5h0M1283.1 1283.6h0M1283.3 1287.5h0M1283.4 1291.5h0M1283.5 1295.4h0M1283.6 1299.3h0M1283.8 1303.3h0M1283.9 1307.2h0M1284.0 1311.2h0M1284.2 1315.1h0M1284.3 1319.1h0M1284.4 1323.0h0M1284.5 1326.9h0M1284.7 1330.9h0M1286.7 1246.5h0M1287.7 1341.3h0M1289.6 1226.8h0M1291.8 1326.4h0M1293.2 1220.6h0M1294.8 1301.2h0M1294.9 1297.4h0M1294.9 1293.5h0M1295.0 1289.6h0M1295.0 1285.8h0M1295.0 1281.9h0M1295.1 1278.1h0M1295.1 1274.2h0M1295.2 1270.3h0M1295.2 1266.5h0M1295.2 1262.6h0M1295.3 1258.8h0M1295.3 1254.9h0M1295.4 1251.0h0M1295.4 1247.2h0M1295.4 1243.3h0M1295.5 1239.5h0M1295.5 1235.6h0M1295.6 1231.7h0M1295.6 1227.9h0M1295.7 1231.8h0M1295.9 1235.6h0M1296.0 1239.5h0M1296.2 1243.4h0M1296.3 1247.2h0M1296.4 1251.1h0M1296.6 1255.0h0M1296.7 1258.9h0M1296.9 1262.7h0M1297.0 1266.6h0M1297.1 1270.5h0M1297.3 1274.4h0M1297.4 1278.2h0M1297.6 1282.1h0M1300.0 1205.2h0M1301.7 1300.4h0M1302.8 1217.4h0M1305.1 1328.7h0M1306.5 1239.5h0M1308.4 1327.0h0M1308.6 1323.3h0M1308.7 1319.6h0M1308.9 1315.9h0M1309.1 1312.1h0M1309.2 1308.4h0M1309.4 1304.7h0M1309.6 1301.0h0M1309.7 1297.3h0M1309.9 1293.5h0M1310.0 1289.8h0M1310.2 1286.1h0M1310.4 1282.4h0M1310.5 1278.6h0M1355.1 1196.2h0M1355.5 1199.5h0M1355.9 1202.9h0M1356.3 1206.3h0M1357.6 1117.3h0M1357.9 1121.2h0M1358.2 1125.1h0M1358.5 1129.0h0M1358.8 1132.9h0M1359.1 1136.8h0M1359.4 1140.8h0M1359.7 1144.7h0M1360.0 1148.6h0M1360.3 1152.5h0M1360.6 1156.4h0M1360.9 1160.3h0M1361.1 1164.2h0M1361.4 1168.2h0M1361.9 1171.9h0M1362.3 1175.6h0M1362.7 1179.4h0M1363.1 1183.1h0M1363.6 1186.8h0M1364.0 1190.6h0M1364.4 1194.3h0M1364.8 1198.0h0M1365.3 1201.8h0M1365.7 1205.5h0M1366.1 1209.2h0M1366.5 1213.0h0M1367.0 1216.7h0M1367.4 1220.4h0M1367.8 1224.1h0M1368.3 1220.5h0M1368.9 1216.9h0M1369.4 1213.2h0M1370.0 1209.6h0M1370.5 1206.0h0M1371.1 1202.3h0M1371.6 1198.7h0M1372.7 1200.5h0M1374.9 1306.0h0M1375.2 1302.4h0M1375.4 1298.8h0M1375.6 1295.2h0M1375.9 1291.6h0M1376.1 1287.9h0M1376.4 1284.3h0M1376.6 1280.7h0M1376.7 1284.5h0M1376.8 1288.3h0M1376.9 1292.0h0M1377.1 1295.8h0M1377.2 1299.6h0M1377.3 1303.4h0M1377.4 1307.1h0M1377.5 1310.9h0M1377.6 1314.7h0M1377.7 1318.5h0M1377.9 1322.2h0M1378.0 1326.0h0M1378.1 1329.8h0M1378.2 1333.6h0M1378.3 1337.3h0M1378.4 1341.1h0M1378.6 1337.5h0M1378.8 1333.9h0M1379.0 1330.3h0M1379.3 1326.7h0M1379.5 1323.1h0M1379.7 1319.5h0M1379.9 1315.9h0M1380.1 1312.3h0M1380.3 1308.7h0M1380.5 1305.0h0M1380.6 1309.0h0M1380.7 1312.9h0M1380.8 1316.9h0M1380.9 1320.8h0M1381.0 1324.7h0M1381.2 1328.7h0M1381.3 1332.6h0M1381.4 1336.6h0M1381.5 1340.5h0M1381.6 1344.5h0M1381.7 1348.4h0M1381.9 1344.5h0M1382.2 1340.7h0M1382.4 1336.8h0M1382.6 1333.0h0M1382.8 1329.1h0M1383.1 1325.3h0M1383.3 1321.4h0M1383.5 1317.6h0M1383.8 1313.7h0M1384.0 1309.9h0M1387.1 1307.5h0M1390.2 1305.1h0M1393.4 1302.7h0M1396.5 1300.3h0M1399.6 1298.0h0M1400.0 1294.9h0M1400.4 1291.9h0M1400.7 1288.9h0M1400.9 1292.9h0M1401.1 1296.9h0M1401.2 1300.9h0M1401.4 1304.9h0M1401.5 1308.8h0M1401.7 1312.8h0M1401.9 1316.8h0M1402.0 1320.8h0M1402.2 1324.8h0M1402.3 1328.8h0M1402.5 1332.7h0M1404.9 1252.4h0M1404.9 1256.3h0M1404.9 1260.3h0M1405.0 1264.2h0M1405.0 1268.1h0M1405.0 1272.0h0M1405.0 1276.0h0M1405.1 1279.9h0M1405.1 1283.8h0M1405.1 1287.8h0M1405.2 1291.7h0M1405.2 1295.6h0M1405.2 1299.5h0M1405.3 1303.5h0M1405.3 1307.4h0M1405.3 1311.3h0M1405.3 1315.3h0M1405.4 1319.2h0M1405.4 1323.1h0M1405.4 1327.1h0M1405.6 1323.3h0M1405.7 1319.5h0M1405.9 1315.7h0M1406.0 1311.9h0M1406.1 1308.1h0M1406.3 1304.3h0M1406.4 1300.5h0M1406.6 1296.7h0M1406.7 1292.9h0M1406.9 1289.1h0M1407.0 1285.3h0M1407.2 1281.5h0M1407.3 1277.7h0M1407.4 1273.9h0M1407.5 1277.8h0M1407.6 1281.7h0M1407.7 1285.6h0M1407.7 1289.5h0M1407.8 1293.4h0M1407.9 1297.3h0M1408.0 1301.3h0M1408.0 1305.2h0M1408.1 1309.1h0M1408.2 1313.0h0M1408.2 1316.9h0M1408.3 1320.8h0M1408.4 1324.7h0M1408.5 1328.6h0M1408.5 1332.5h0M1408.7 1328.7h0M1408.9 1324.9h0M1409.1 1321.1h0M1409.3 1317.3h0M1409.4 1313.5h0M1409.6 1309.8h0M1409.8 1306.0h0M1410.0 1302.2h0M1410.2 1298.4h0M1410.4 1294.6h0M1410.5 1290.8h0M1410.7 1287.0h0M1410.9 1283.2h0M1411.0 1287.0h0M1411.1 1290.7h0M1411.2 1294.4h0M1411.4 1298.1h0M1411.5 1301.8h0M1411.6 1305.5h0M1411.7 1309.2h0M1411.8 1312.9h0M1411.9 1316.6h0M1412.0 1320.4h0M1412.2 1324.1h0M1412.3 1327.8h0M1412.4 1331.5h0M1412.5 1327.5h0M1412.6 1323.6h0M1412.6 1319.6h0M1412.7 1315.7h0M1412.8 1311.7h0M1412.9 1307.8h0M1413.0 1303.8h0M1413.1 1299.9h0M1413.2 1295.9h0M1413.3 1292.0h0M1413.4 1288.0h0M1413.5 1284.1h0M1413.5 1280.1h0M1413.6 1276.2h0M1413.7 1272.2h0M1413.8 1268.3h0M1413.9 1264.3h0M1414.0 1260.4h0M1414.1 1264.3h0M1414.2 1268.2h0M1414.3 1272.1h0M1414.4 1276.0h0M1414.5 1279.9h0M1414.6 1283.8h0M1414.7 1287.7h0M1414.8 1291.6h0M1414.9 1295.4h0M1415.0 1299.3h0M1415.1 1303.2h0M1415.2 1307.1h0M1415.3 1311.0h0M1415.4 1314.9h0M1415.6 1318.8h0M1415.7 1322.7h0M1417.0 1247.1h0M1417.2 1250.9h0M1417.3 1254.7h0M1417.5 1258.5h0M1417.6 1262.3h0M1417.8 1266.1h0M1417.9 1269.9h0M1418.0 1273.7h0M1418.2 1277.5h0M1418.3 1281.3h0M1418.5 1285.1h0M1418.6 1288.9h0M1418.8 1292.7h0M1418.9 1296.5h0M1419.0 1292.5h0M1419.2 1288.6h0M1419.3 1284.7h0M1419.4 1280.8h0M1419.6 1276.9h0M1419.7 1273.0h0M1419.8 1269.1h0M1420.0 1265.2h0M1420.1 1261.3h0M1420.3 1257.3h0M1420.4 1253.4h0M1420.5 1249.5h0M1420.7 1245.6h0M1420.8 1241.7h0M1420.9 1237.8h0M1421.1 1233.9h0M1421.2 1230.0h0M1423.0 1308.5h0M1423.1 1304.6h0M1423.2 1300.7h0M1423.3 1296.8h0M1423.4 1292.9h0M1423.5 1289.0h0M1423.6 1285.1h0M1423.7 1281.2h0M1423.8 1277.3h0M1423.9 1273.4h0M1424.0 1269.5h0M1424.1 1265.6h0M1424.1 1261.7h0M1424.2 1257.8h0M1424.3 1253.9h0M1424.4 1250.0h0M1424.5 1246.1h0M1424.6 1242.2h0M1424.7 1246.0h0M1424.8 1249.8h0M1424.8 1253.6h0M1424.9 1257.5h0M1425.0 1261.3h0M1425.0 1265.1h0M1425.1 1268.9h0M1425.2 1272.7h0M1425.2 1276.5h0M1425.3 1280.4h0M1425.4 1284.2h0M1425.4 1288.0h0M1425.5 1291.8h0M1425.6 1295.6h0M1425.6 1299.5h0M1425.7 1303.3h0M1425.8 1307.1h0M1425.9 1303.3h0M1426.0 1299.4h0M1426.2 1295.6h0M1426.3 1291.7h0M1426.4 1287.8h0M1426.5 1284.0h0M1426.7 1280.1h0M1426.8 1276.3h0M1426.9 1272.4h0M1427.1 1268.6h0M1427.2 1264.7h0M1427.3 1260.9h0M1427.4 1264.8h0M1427.4 1268.7h0M1427.5 1272.7h0M1427.5 1276.6h0M1427.6 1280.5h0M1427.7 1284.5h0M1427.7 1288.4h0M1427.8 1292.3h0M1427.8 1296.2h0M1427.9 1300.2h0M1428.0 1304.1h0M1428.0 1308.0h0M1428.1 1311.9h0M1428.1 1315.9h0M1428.2 1319.8h0M1428.2 1323.7h0M1428.3 1327.6h0M1428.5 1323.8h0M1428.6 1320.0h0M1428.8 1316.1h0M1429.0 1312.3h0M1429.1 1308.4h0M1429.3 1304.6h0M1429.5 1300.7h0M1429.6 1296.9h0M1429.8 1293.1h0M1430.0 1289.2h0M1430.2 1285.4h0M1430.3 1281.5h0M1430.5 1277.7h0M1430.7 1281.6h0M1430.9 1285.5h0M1431.1 1289.4h0M1431.3 1293.4h0M1431.5 1297.3h0M1431.7 1301.2h0M1431.9 1305.1h0M1432.2 1309.0h0M1432.4 1312.9h0M1432.6 1316.8h0M1432.8 1320.8h0M1432.9 1317.0h0M1433.0 1313.3h0M1433.1 1309.5h0M1433.3 1305.8h0M1433.4 1302.0h0M1433.5 1298.3h0M1433.6 1294.5h0M1433.8 1290.8h0M1433.9 1287.0h0M1434.0 1291.0h0M1434.0 1295.0h0M1434.1 1299.0h0M1434.2 1303.0h0M1434.3 1307.0h0M1434.3 1311.0h0M1434.4 1315.0h0M1434.5 1319.0h0M1434.6 1323.0h0M1434.7 1326.9h0M1434.7 1330.9h0M1434.9 1326.9h0M1435.0 1323.0h0M1435.1 1319.0h0M1435.3 1315.0h0M1435.4 1311.0h0M1435.5 1307.0h0M1435.6 1303.0h0M1435.8 1299.0h0M1435.9 1295.0h0M1436.0 1291.0h0M1436.1 1287.0h0M1436.3 1283.1h0M1436.4 1279.1h0M1436.5 1275.1h0M1436.7 1271.1h0M1436.8 1267.1h0M1436.9 1270.8h0M1437.0 1274.6h0M1437.1 1278.3h0M1437.2 1282.0h0M1437.3 1285.8h0M1437.4 1289.5h0M1437.6 1293.2h0M1437.7 1296.9h0M1437.8 1300.7h0M1437.9 1304.4h0M1438.0 1308.1h0M1438.1 1311.9h0M1438.2 1308.0h0M1438.3 1304.2h0M1438.4 1300.4h0M1438.5 1296.5h0M1438.6 1292.7h0M1438.7 1288.9h0M1438.7 1285.0h0M1438.8 1281.2h0M1438.9 1277.4h0M1439.0 1273.5h0M1439.1 1269.7h0M1439.2 1265.9h0M1439.3 1262.1h0M1439.4 1258.2h0M1439.5 1262.2h0M1439.7 1266.1h0M1439.8 1270.0h0M1440.0 1274.0h0M1440.2 1277.9h0M1440.3 1281.8h0M1440.5 1285.8h0M1440.6 1289.7h0M1440.8 1293.6h0M1440.9 1297.6h0M1441.1 1301.5h0M1441.3 1305.5h0M1441.4 1309.4h0M1441.6 1313.3h0M1441.7 1317.3h0M1441.9 1313.4h0M1442.0 1309.5h0M1442.1 1305.6h0M1442.2 1301.7h0M1442.4 1297.9h0M1442.5 1294.0h0M1442.6 1290.1h0M1442.8 1286.2h0M1442.9 1282.3h0M1443.0 1278.4h0M1443.1 1274.6h0M1443.3 1270.7h0M1443.4 1266.8h0M1443.5 1262.9h0M1443.7 1266.8h0M1443.8 1270.8h0M1443.9 1274.7h0M1444.0 1278.6h0M1444.2 1282.5h0M1444.3 1286.4h0M1444.4 1290.3h0M1444.6 1294.2h0M1444.7 1298.2h0M1444.8 1302.1h0M1445.0 1306.0h0M1445.1 1309.9h0M1445.2 1313.8h0M1445.3 1317.7h0M1445.5 1321.7h0M1446.5 1246.0h0M1446.6 1249.8h0M1446.7 1253.5h0M1446.7 1257.3h0M1446.8 1261.0h0M1446.9 1264.8h0M1447.0 1268.5h0M1447.1 1272.3h0M1447.2 1276.0h0M1447.3 1279.8h0M1447.4 1283.5h0M1447.5 1287.2h0M1447.6 1291.0h0M1447.7 1294.7h0M1447.8 1298.5h0M1447.9 1302.2h0M1448.1 1298.4h0M1448.2 1294.7h0M1448.4 1290.9h0M1448.6 1287.1h0M1448.7 1283.3h0M1448.9 1279.5h0M1449.1 1275.7h0M1449.2 1271.9h0M1449.4 1268.2h0M1449.5 1264.4h0M1449.7 1260.6h0M1449.9 1256.8h0M1450.0 1253.0h0M1452.1 1256.0h0M1454.1 1258.9h0M1456.1 1261.9h0M1458.1 1264.9h0M1459.1 1268.6h0M1460.1 1272.3h0M1461.1 1276.0h0M1462.1 1279.7h0M1463.0 1283.5h0M1464.0 1287.2h0M1465.0 1290.9h0M1466.0 1294.6h0M1467.0 1298.3h0M1467.9 1302.1h0M1468.9 1305.8h0M1469.9 1309.5h0M1470.9 1313.2h0M1470.9 1309.5h0M1471.0 1305.8h0M1471.0 1302.1h0M1471.0 1298.4h0M1471.1 1294.7h0M1471.1 1291.0h0M1471.2 1287.3h0M1471.3 1291.1h0M1471.5 1294.8h0M1471.6 1298.6h0M1471.7 1302.4h0M1471.9 1306.1h0M1472.0 1309.9h0M1472.2 1313.7h0M1472.3 1317.4h0M1472.4 1321.2h0M1472.6 1325.0h0M1472.7 1328.7h0M1472.9 1332.5h0M1473.0 1336.3h0M1473.1 1332.5h0M1473.3 1328.6h0M1473.4 1324.8h0M1473.6 1321.0h0M1473.7 1317.2h0M1473.9 1313.3h0M1474.0 1309.5h0M1474.2 1305.7h0M1474.3 1301.9h0M1474.5 1298.1h0M1474.6 1294.2h0M1474.8 1290.4h0M1474.9 1294.3h0M1475.0 1298.1h0M1475.1 1302.0h0M1475.2 1305.9h0M1475.3 1309.8h0M1475.4 1313.6h0M1475.5 1317.5h0M1475.6 1321.4h0M1475.7 1325.2h0M1475.8 1329.1h0M1475.9 1333.0h0M1476.0 1336.8h0M1476.1 1340.7h0M1476.2 1344.6h0M1477.5 1269.0h0M1477.6 1272.9h0M1477.7 1276.8h0M1477.8 1280.7h0M1477.9 1284.6h0M1478.0 1288.5h0M1478.1 1292.4h0M1478.2 1296.3h0M1478.3 1300.3h0M1478.4 1304.2h0M1478.5 1308.1h0M1478.6 1312.0h0M1478.7 1315.9h0M1478.9 1319.8h0M1479.0 1323.7h0M1479.1 1327.6h0M1479.1 1323.6h0M1479.2 1319.6h0M1479.2 1315.6h0M1479.3 1311.6h0M1479.4 1307.6h0M1479.4 1303.6h0M1479.5 1299.6h0M1479.5 1295.6h0M1479.6 1291.6h0M1479.6 1287.6h0M1479.7 1283.6h0M1479.8 1279.7h0M1479.8 1275.7h0M1479.9 1271.7h0M1479.9 1275.5h0M1480.0 1279.4h0M1480.1 1283.3h0M1480.2 1287.2h0M1480.3 1291.0h0M1480.3 1294.9h0M1480.4 1298.8h0M1480.5 1302.7h0M1480.6 1306.5h0M1480.6 1310.4h0M1480.7 1314.3h0M1480.8 1318.2h0M1480.9 1322.0h0M1480.9 1325.9h0M1481.0 1329.8h0M1481.1 1333.7h0M1481.2 1337.5h0M1481.2 1341.4h0M1481.3 1337.6h0M1481.4 1333.9h0M1481.5 1330.1h0M1481.6 1326.3h0M1481.6 1322.6h0M1481.7 1318.8h0M1481.8 1315.1h0M1481.9 1311.3h0M1481.9 1307.5h0M1482.0 1303.8h0M1482.1 1300.0h0M1482.2 1296.2h0M1482.3 1292.5h0M1482.3 1288.7h0M1482.4 1284.9h0M1482.5 1281.2h0M1484.1 1359.5h0M1484.2 1355.7h0M1484.4 1351.9h0M1484.6 1348.0h0M1484.7 1344.2h0M1484.9 1340.4h0M1485.1 1336.5h0M1485.2 1332.7h0M1485.4 1328.8h0M1485.5 1325.0h0M1485.7 1321.2h0M1485.9 1317.3h0M1486.0 1313.5h0M1486.2 1309.6h0M1486.3 1305.8h0M1486.5 1302.0h0M1486.6 1305.9h0M1486.6 1309.9h0M1486.7 1313.8h0M1486.8 1317.8h0M1486.8 1321.7h0M1486.9 1325.7h0M1487.0 1329.6h0M1487.0 1333.6h0M1487.1 1337.5h0M1487.1 1341.5h0M1487.2 1345.4h0M1487.3 1349.4h0M1487.3 1353.3h0M1487.4 1357.3h0M1487.5 1361.2h0M1487.6 1357.4h0M1487.6 1353.6h0M1487.7 1349.8h0M1487.8 1346.0h0M1487.9 1342.2h0M1488.0 1338.5h0M1488.1 1334.7h0M1488.2 1330.9h0M1488.3 1327.1h0M1488.4 1323.3h0M1488.4 1319.5h0M1488.5 1315.7h0M1488.7 1319.5h0M1488.8 1323.2h0M1489.0 1327.0h0M1489.1 1330.8h0M1489.2 1334.5h0M1489.4 1338.3h0M1489.5 1342.1h0M1489.7 1345.8h0M1489.8 1349.6h0M1490.0 1345.7h0M1490.1 1341.8h0M1490.3 1337.9h0M1490.4 1334.0h0M1490.6 1330.1h0M1490.7 1326.3h0M1490.9 1322.4h0M1491.0 1318.5h0M1491.2 1314.6h0M1491.3 1310.7h0M1491.5 1306.8h0M1491.6 1302.9h0M1491.8 1306.6h0M1492.0 1310.2h0M1492.1 1313.9h0M1492.3 1317.6h0M1492.4 1321.2h0M1492.6 1324.9h0M1492.8 1328.6h0M1492.9 1332.2h0M1493.1 1335.9h0M1493.4 1332.3h0M1493.6 1328.6h0M1493.9 1325.0h0M1494.2 1321.4h0M1494.5 1317.7h0M1494.7 1314.1h0M1495.0 1310.5h0M1495.3 1306.8h0M1495.6 1303.2h0M1495.8 1299.6h0M1495.9 1303.3h0M1496.0 1307.1h0M1496.0 1310.9h0M1496.1 1314.6h0M1496.2 1318.4h0M1496.2 1322.2h0M1496.3 1325.9h0M1496.4 1329.7h0M1496.4 1333.5h0M1496.5 1337.2h0M1496.6 1341.0h0M1496.6 1344.8h0M1496.7 1348.5h0M1496.8 1344.8h0M1497.0 1341.1h0M1497.1 1337.4h0M1497.3 1333.6h0M1497.5 1329.9h0M1497.6 1326.2h0M1497.8 1322.4h0M1497.9 1318.7h0M1498.1 1315.0h0M1498.2 1311.2h0M1498.4 1307.5h0M1498.5 1303.8h0M1498.7 1300.1h0M1498.9 1296.3h0M1499.0 1300.3h0M1499.2 1304.3h0M1499.3 1308.2h0M1499.5 1312.2h0M1499.6 1316.2h0M1499.8 1320.2h0M1499.9 1324.2h0M1500.1 1328.1h0M1500.2 1332.1h0M1500.4 1336.1h0M1500.5 1340.1h0M1500.7 1344.0h0M1500.8 1348.0h0M1500.9 1344.2h0M1500.9 1340.3h0M1501.0 1336.5h0M1501.0 1332.7h0M1501.1 1328.8h0M1501.1 1325.0h0M1501.2 1321.2h0M1501.2 1317.3h0M1501.3 1313.5h0M1501.3 1309.6h0M1501.4 1305.8h0M1501.4 1302.0h0M1501.5 1298.1h0M1501.5 1294.3h0M1501.6 1290.5h0M1501.6 1286.6h0M1501.7 1282.8h0M1503.0 1375.6h0M1505.2 1296.7h0M1505.3 1300.4h0M1505.4 1304.1h0M1505.5 1307.8h0M1505.6 1311.5h0M1505.7 1315.2h0M1505.8 1318.9h0M1505.9 1322.6h0M1505.9 1326.3h0M1506.0 1330.0h0M1506.1 1333.7h0M1506.2 1337.4h0M1506.4 1333.5h0M1506.6 1329.6h0M1506.9 1325.7h0M1507.1 1321.9h0M1507.3 1318.0h0M1507.5 1314.1h0M1507.7 1310.3h0M1507.9 1306.4h0M1508.1 1302.5h0M1508.4 1298.6h0M1508.6 1294.8h0M1508.8 1290.9h0M1508.9 1294.6h0M1508.9 1298.2h0M1509.0 1301.9h0M1509.1 1305.6h0M1509.2 1309.2h0M1509.2 1312.9h0M1509.3 1316.6h0M1509.4 1320.2h0M1509.5 1323.9h0M1509.5 1327.6h0M1509.6 1331.2h0M1509.7 1334.9h0M1509.8 1331.1h0M1509.9 1327.3h0M1510.0 1323.5h0M1510.1 1319.6h0M1510.3 1315.8h0M1510.4 1312.0h0M1510.5 1308.2h0M1510.6 1304.4h0M1510.7 1300.5h0M1510.8 1296.7h0M1510.9 1292.9h0M1511.0 1289.1h0M1511.1 1285.3h0M1511.3 1281.5h0M1511.4 1277.6h0M1511.5 1273.8h0M1511.6 1270.0h0M1511.9 1273.7h0M1512.2 1277.4h0M1512.5 1281.2h0M1512.8 1284.9h0M1513.1 1288.6h0M1513.4 1292.3h0M1513.7 1296.1h0M1514.0 1299.8h0M1514.3 1303.5h0M1514.6 1307.2h0M1514.9 1311.0h0M1515.2 1314.7h0M1515.5 1318.4h0M1515.8 1322.1h0M1518.1 1324.9h0M1520.4 1327.7h0M1522.7 1330.5h0M1525.0 1333.3h0M1527.3 1336.1h0M1527.3 1332.2h0M1527.4 1328.3h0M1527.5 1324.4h0M1527.5 1320.5h0M1527.6 1316.6h0M1527.7 1312.7h0M1527.8 1308.8h0M1527.8 1304.8h0M1527.9 1300.9h0M1528.0 1304.7h0M1528.1 1308.5h0M1528.2 1312.3h0M1528.4 1316.1h0M1528.5 1319.9h0M1528.6 1323.7h0M1528.7 1327.5h0M1528.8 1331.3h0M1528.9 1335.1h0M1529.0 1338.9h0M1529.2 1342.7h0M1529.3 1346.5h0M1529.4 1350.4h0M1529.5 1354.2h0M1529.6 1358.0h0M1529.7 1361.8h0M1529.8 1365.6h0M1529.9 1369.4h0M1530.1 1373.2h0M1530.1 1369.2h0M1530.2 1365.2h0M1530.3 1361.2h0M1530.4 1357.2h0M1530.5 1353.2h0M1530.6 1349.2h0M1530.7 1345.2h0M1530.7 1341.2h0M1530.8 1337.2h0M1530.9 1333.2h0M1531.0 1329.2h0M1531.1 1325.2h0M1531.2 1321.2h0M1531.3 1317.2h0M1531.4 1321.1h0M1531.6 1325.0h0M1531.7 1328.9h0M1531.9 1332.7h0M1532.0 1336.6h0M1532.2 1340.5h0M1532.3 1344.4h0M1532.5 1348.3h0M1532.6 1352.2h0M1532.8 1356.0h0M1533.0 1359.9h0M1533.1 1363.8h0M1533.3 1367.7h0M1533.4 1371.6h0M1533.6 1375.5h0M1533.6 1371.5h0M1533.7 1367.6h0M1533.7 1363.6h0M1533.8 1359.7h0M1533.8 1355.7h0M1533.9 1351.8h0M1533.9 1347.8h0M1534.0 1343.9h0M1534.0 1339.9h0M1534.1 1336.0h0M1534.1 1332.0h0M1534.2 1328.1h0M1534.2 1324.1h0M1534.3 1320.2h0M1534.3 1316.2h0M1534.4 1312.3h0M1534.5 1308.3h0M1534.6 1312.1h0M1534.7 1315.9h0M1534.8 1319.7h0M1534.9 1323.4h0M1535.1 1327.2h0M1535.2 1331.0h0M1535.3 1334.8h0M1535.4 1338.6h0M1535.6 1342.3h0M1535.7 1346.1h0M1535.8 1349.9h0M1535.9 1353.7h0M1536.1 1357.5h0M1536.2 1361.2h0M1536.3 1365.0h0M1536.4 1368.8h0M1536.5 1372.6h0M1536.7 1368.8h0M1536.8 1365.0h0M1536.9 1361.3h0M1537.0 1357.5h0M1537.1 1353.7h0M1537.2 1349.9h0M1537.3 1346.1h0M1537.4 1342.4h0M1537.5 1338.6h0M1537.6 1334.8h0M1537.8 1331.0h0M1537.9 1327.3h0M1538.0 1323.5h0M1538.1 1319.7h0M1538.2 1315.9h0M1538.3 1312.1h0M1538.4 1316.1h0M1538.6 1320.0h0M1538.7 1323.9h0M1538.9 1327.8h0M1539.0 1331.7h0M1539.2 1335.6h0M1539.3 1339.6h0M1539.4 1343.5h0M1539.6 1347.4h0M1539.7 1351.3h0M1539.9 1355.2h0M1540.0 1359.1h0M1540.2 1363.1h0M1540.2 1359.3h0M1540.3 1355.5h0M1540.3 1351.7h0M1540.4 1347.9h0M1540.4 1344.1h0M1540.5 1340.3h0M1540.5 1336.5h0M1540.6 1332.7h0M1540.6 1328.9h0M1540.7 1325.1h0M1540.7 1321.2h0M1540.8 1317.4h0M1540.8 1313.6h0M1540.9 1309.8h0M1541.0 1306.0h0M1541.0 1302.2h0M1541.1 1298.4h0M1541.3 1302.4h0M1541.5 1306.3h0M1541.7 1310.3h0M1541.9 1314.2h0M1542.2 1318.1h0M1542.4 1322.1h0M1542.6 1326.0h0M1542.8 1329.9h0M1543.0 1333.9h0M1543.2 1337.8h0M1543.5 1341.7h0M1543.6 1337.9h0M1543.6 1334.1h0M1543.7 1330.3h0M1543.8 1326.5h0M1543.9 1322.7h0M1544.0 1318.8h0M1544.1 1315.0h0M1544.1 1311.2h0M1544.2 1307.4h0M1544.3 1303.6h0M1544.4 1299.7h0M1544.5 1295.9h0M1544.6 1292.1h0M1544.6 1288.3h0M1544.7 1284.5h0M1544.8 1280.6h0M1544.9 1276.8h0M1545.0 1273.0h0M1545.1 1276.8h0M1545.3 1280.6h0M1545.4 1284.4h0M1545.6 1288.1h0M1545.7 1291.9h0M1545.9 1295.7h0M1546.0 1299.5h0M1546.2 1303.3h0M1546.3 1307.1h0M1546.5 1310.9h0M1546.6 1314.7h0M1546.8 1318.4h0M1546.9 1322.2h0M1547.0 1318.3h0M1547.1 1314.3h0M1547.2 1310.4h0M1547.4 1306.4h0M1547.5 1302.5h0M1547.6 1298.5h0M1547.7 1294.6h0M1547.8 1290.6h0M1547.9 1286.6h0M1548.0 1282.7h0M1548.1 1278.7h0M1548.2 1274.8h0M1548.4 1270.8h0M1548.5 1266.9h0M1548.5 1270.7h0M1548.6 1274.4h0M1548.6 1278.2h0M1548.7 1282.0h0M1548.7 1285.8h0M1548.8 1289.6h0M1548.9 1293.3h0M1548.9 1297.1h0M1549.0 1300.9h0M1549.0 1304.7h0M1549.1 1308.5h0M1549.1 1312.2h0M1549.2 1316.0h0M1549.2 1319.8h0M1549.3 1323.6h0M1549.3 1327.3h0M1549.5 1323.4h0M1549.6 1319.4h0M1549.8 1315.5h0M1549.9 1311.5h0M1550.1 1307.6h0M1550.2 1303.6h0M1550.3 1299.6h0M1550.5 1295.7h0M1550.6 1291.7h0M1550.8 1287.8h0M1550.9 1283.8h0M1551.0 1279.9h0M1551.1 1283.8h0M1551.2 1287.8h0M1551.3 1291.8h0M1551.4 1295.8h0M1551.5 1299.8h0M1551.6 1303.8h0M1551.7 1307.7h0M1551.8 1311.7h0M1551.9 1315.7h0M1552.0 1319.7h0M1552.1 1323.7h0M1552.2 1327.7h0M1552.3 1331.6h0M1552.4 1335.6h0M1552.5 1339.6h0M1552.6 1343.6h0M1552.7 1347.6h0M1552.8 1351.6h0M1552.9 1347.6h0M1553.1 1343.7h0M1553.2 1339.8h0M1553.3 1335.8h0M1553.4 1331.9h0M1553.5 1328.0h0M1553.6 1324.1h0M1553.7 1320.1h0M1553.8 1316.2h0M1553.9 1312.3h0M1554.0 1308.3h0M1554.2 1304.4h0M1554.3 1300.5h0M1554.4 1296.6h0M1554.5 1292.6h0M1554.6 1288.7h0M1554.7 1284.8h0M1554.8 1288.8h0M1554.9 1292.8h0M1555.1 1296.8h0M1555.2 1300.7h0M1555.3 1304.7h0M1555.4 1308.7h0M1555.5 1312.7h0M1555.6 1316.7h0M1555.7 1320.7h0M1555.9 1324.7h0M1556.0 1328.7h0M1556.1 1332.7h0M1556.2 1336.7h0M1556.3 1340.7h0M1556.4 1344.7h0M1556.6 1348.7h0M1556.7 1352.6h0M1556.8 1348.8h0M1556.9 1345.0h0M1557.0 1341.1h0M1557.1 1337.3h0M1557.3 1333.4h0M1557.4 1329.6h0M1557.5 1325.7h0M1557.6 1321.9h0M1557.7 1318.0h0M1557.8 1314.2h0M1558.0 1310.3h0M1558.1 1306.5h0M1558.2 1302.7h0M1558.3 1298.8h0M1558.4 1302.7h0M1558.4 1306.6h0M1558.5 1310.6h0M1558.5 1314.5h0M1558.6 1318.4h0M1558.6 1322.3h0M1558.7 1326.2h0M1558.8 1330.1h0M1558.8 1334.1h0M1558.9 1338.0h0M1558.9 1341.9h0M1559.0 1345.8h0M1559.0 1349.7h0M1559.1 1353.6h0M1559.1 1357.5h0M1559.2 1361.5h0M1559.4 1357.5h0M1559.6 1353.6h0M1559.8 1349.6h0M1559.9 1345.7h0M1560.1 1341.8h0M1560.3 1337.8h0M1560.5 1333.9h0M1560.7 1329.9h0M1560.9 1326.0h0M1561.1 1322.1h0M1561.3 1318.1h0M1561.4 1314.2h0M1561.6 1310.2h0M1561.7 1314.1h0M1561.8 1318.0h0M1561.9 1321.8h0M1562.0 1325.7h0M1562.0 1329.6h0M1562.1 1333.4h0M1562.2 1337.3h0M1562.3 1341.2h0M1562.4 1345.1h0M1562.5 1348.9h0M1562.5 1352.8h0M1562.6 1356.7h0M1562.7 1360.5h0M1562.8 1364.4h0M1562.9 1360.5h0M1563.0 1356.6h0M1563.1 1352.7h0M1563.2 1348.8h0M1563.3 1344.9h0M1563.4 1341.1h0M1563.5 1337.2h0M1563.5 1333.3h0M1563.6 1329.4h0M1563.7 1325.5h0M1563.8 1321.6h0M1563.9 1317.7h0M1564.0 1313.8h0M1564.2 1317.6h0M1564.3 1321.4h0M1564.5 1325.2h0M1564.6 1328.9h0M1564.8 1332.7h0M1564.9 1336.5h0M1565.1 1340.3h0M1565.2 1344.1h0M1565.4 1347.9h0M1565.6 1344.1h0M1565.7 1340.4h0M1565.9 1336.7h0M1566.1 1333.0h0M1566.3 1329.3h0M1566.5 1325.6h0M1566.7 1321.9h0M1566.9 1318.2h0M1567.1 1314.4h0M1567.3 1310.7h0M1567.4 1307.0h0M1567.6 1303.3h0M1567.8 1299.6h0M1567.9 1303.5h0M1568.1 1307.3h0M1568.2 1311.2h0M1568.3 1315.1h0M1568.4 1318.9h0M1568.6 1322.8h0M1568.7 1326.7h0M1568.8 1330.6h0M1568.9 1334.4h0M1569.1 1338.3h0M1569.2 1342.2h0M1569.3 1346.0h0M1569.4 1349.9h0M1569.7 1346.0h0M1569.9 1342.1h0M1570.1 1338.2h0M1570.3 1334.3h0M1570.5 1330.4h0M1570.7 1326.5h0M1571.0 1322.6h0M1571.2 1318.7h0M1571.4 1314.8h0M1571.6 1310.9h0M1571.7 1314.6h0M1571.8 1318.3h0M1571.9 1322.0h0M1572.0 1325.7h0M1572.1 1329.4h0M1572.2 1333.1h0M1572.3 1336.8h0M1572.4 1340.5h0M1572.6 1344.2h0M1572.7 1347.9h0M1572.8 1351.6h0M1572.9 1347.8h0M1573.0 1344.0h0M1573.1 1340.2h0M1573.3 1336.5h0M1573.4 1332.7h0M1573.5 1328.9h0M1573.6 1325.1h0M1573.8 1321.3h0M1573.9 1317.5h0M1574.0 1313.7h0M1574.1 1309.9h0M1574.3 1306.1h0M1574.4 1309.9h0M1574.6 1313.7h0M1574.7 1317.5h0M1574.9 1321.3h0M1575.0 1325.1h0M1575.2 1328.9h0M1575.4 1332.7h0M1575.5 1336.5h0M1575.7 1340.3h0M1575.8 1344.1h0M1576.0 1347.9h0M1576.1 1351.7h0M1576.3 1355.5h0M1576.4 1351.7h0M1576.4 1347.9h0M1576.5 1344.0h0M1576.6 1340.2h0M1576.7 1336.4h0M1576.8 1332.6h0M1576.8 1328.7h0M1576.9 1324.9h0M1577.0 1321.1h0M1577.1 1317.3h0M1577.1 1313.4h0M1577.2 1309.6h0M1577.3 1305.8h0M1577.4 1302.0h0M1577.4 1298.1h0M1577.5 1294.3h0M1577.7 1298.2h0M1577.8 1302.1h0M1577.9 1306.0h0M1578.0 1309.8h0M1578.2 1313.7h0M1578.3 1317.6h0M1578.4 1321.5h0M1578.6 1325.3h0M1578.7 1329.2h0M1578.8 1333.1h0M1579.0 1337.0h0M1579.1 1340.9h0M1579.3 1336.9h0M1579.4 1332.9h0M1579.6 1328.9h0M1579.7 1324.9h0M1579.9 1320.9h0M1580.0 1317.0h0M1580.2 1313.0h0M1580.4 1309.0h0M1580.5 1305.0h0M1580.7 1301.0h0M1580.8 1297.0h0M1581.0 1293.0h0M1581.1 1289.1h0M1581.3 1285.1h0M1581.4 1289.0h0M1581.5 1292.9h0M1581.7 1296.8h0M1581.8 1300.7h0M1581.9 1304.6h0M1582.1 1308.4h0M1582.2 1312.3h0M1582.3 1316.2h0M1582.5 1320.1h0M1582.6 1324.0h0M1582.7 1327.9h0M1582.8 1331.8h0M1583.0 1335.7h0M1583.1 1331.9h0M1583.3 1328.1h0M1583.4 1324.4h0M1583.6 1320.6h0M1583.8 1316.8h0M1583.9 1313.0h0M1584.1 1309.2h0M1584.2 1305.4h0M1584.4 1301.6h0M1584.5 1297.9h0M1584.7 1294.1h0M1584.8 1297.8h0M1584.9 1301.6h0M1585.0 1305.4h0M1585.1 1309.2h0M1585.2 1312.9h0M1585.3 1316.7h0M1585.3 1320.5h0M1585.4 1324.3h0M1585.5 1328.0h0M1585.6 1331.8h0M1585.7 1335.6h0M1585.8 1339.4h0M1585.9 1343.1h0M1586.0 1346.9h0M1586.1 1350.7h0M1586.2 1354.5h0M1586.3 1358.2h0M1586.4 1354.3h0M1586.5 1350.4h0M1586.7 1346.5h0M1586.8 1342.5h0M1587.0 1338.6h0M1587.1 1334.7h0M1587.2 1330.8h0M1587.4 1326.9h0M1587.5 1322.9h0M1587.6 1319.0h0M1587.8 1315.1h0M1587.9 1311.2h0M1588.1 1307.2h0M1588.2 1303.3h0M1588.2 1306.8h0M1588.3 1310.2h0M1588.3 1313.6h0M1588.3 1317.0h0M1657.1 1224.1h0M1657.2 1220.3h0M1657.3 1216.5h0M1657.5 1212.7h0M1657.6 1208.9h0M1657.8 1205.1h0M1657.9 1201.2h0M1658.0 1197.4h0M1658.2 1193.6h0M1658.3 1189.8h0M1659.6 1329.8h0" stroke="#0000ff" stroke-width="7.0" stroke-linecap="round" fill="none"/><polyline class="k" style="stroke-width:3.1" points="904.1,1196.2 907.4,1152.4 910.5,1242.0 911.7,1275.0 912.2,1267.9 914.4,1318.0 917.0,1277.8 918.8,1325.3 919.9,1272.6 922.4,1299.8 925.1,1276.0 928.0,1310.2 929.4,1276.6 931.1,1321.2 933.1,1280.9 935.1,1323.4 937.1,1293.1 940.2,1326.3 942.0,1264.8 945.5,1308.4 947.3,1268.7 949.6,1308.9 952.0,1261.1 953.9,1313.2 955.8,1253.3 958.1,1300.4 960.9,1254.1 962.8,1299.5 964.8,1253.9 967.3,1291.1 970.0,1261.5 972.5,1312.7 974.5,1249.7 976.0,1296.8 978.0,1248.7 981.9,1273.5 986.8,1188.5 991.1,1099.4 997.7,1100.0 999.5,1211.4 1000.8,1233.1 1002.1,1300.5 1003.4,1278.8 1005.1,1318.4 1008.1,1276.2 1010.6,1320.5 1013.1,1266.4 1014.7,1313.9 1017.4,1248.8 1020.5,1297.5 1023.3,1248.4 1024.7,1318.8 1026.7,1267.2 1028.6,1311.0 1030.5,1250.6 1032.6,1316.8 1034.5,1241.5 1036.1,1303.2 1038.6,1242.2 1040.5,1308.1 1042.5,1266.5 1046.1,1224.1 1049.2,1118.0 1056.8,1155.4 1059.3,1146.5 1060.6,1178.3 1063.2,1214.0 1064.4,1308.1 1066.5,1256.6 1069.6,1306.2 1071.9,1264.2 1074.0,1319.1 1075.7,1255.3 1078.1,1305.3 1081.1,1252.3 1084.8,1281.9 1086.5,1215.5 1087.8,1281.9 1091.3,1246.8 1093.7,1286.3 1095.4,1220.2 1097.9,1288.4 1098.6,1210.7 1101.5,1201.2 1104.0,1135.1 1106.5,1053.6 1107.8,1052.4 1116.7,1070.9 1116.7,1127.4 1118.5,1203.8 1120.0,1244.5 1121.8,1287.8 1121.8,1245.8 1124.4,1284.5 1125.3,1234.7 1128.3,1283.2 1130.8,1233.5 1133.8,1292.9 1136.5,1226.0 1137.2,1274.2 1139.2,1235.3 1142.7,1280.8 1144.1,1223.5 1147.8,1295.8 1151.1,1308.1 1152.4,1214.0 1157.4,1183.4 1161.3,1155.4 1162.0,1113.4 1162.5,1066.9 1171.4,1072.7 1172.7,1168.2 1175.3,1211.4 1177.8,1189.8 1179.6,1234.3 1180.9,1306.9 1182.9,1219.1 1186.2,1224.1 1204.0,1235.6 1204.0,1266.1 1207.1,1156.7 1209.6,1076.0 1210.1,1091.3 1268.1,1201.2 1268.1,1206.8 1283.4,1201.2 1283.7,1202.8 1285.1,1303.2 1290.2,1145.3 1292.2,1091.8 1298.3,1091.8 1299.1,1147.8 1301.0,1197.9 1303.7,1253.6 1305.5,1225.0 1309.1,1304.8 1311.5,1276.5 1356.3,1146.5 1357.6,1094.4 1371.6,1173.2 1373.7,1280.1 1374.8,1251.9 1375.6,1293.6 1377.9,1260.7 1381.2,1305.3 1400.9,1287.8 1401.7,1314.5 1403.0,1263.4 1407.8,1309.1 1410.6,1271.9 1412.5,1292.8 1414.1,1236.2 1416.8,1257.1 1420.1,1198.8 1423.6,1223.5 1426.2,1201.9 1430.1,1257.9 1433.0,1233.8 1436.2,1282.4 1439.9,1224.4 1442.3,1273.7 1445.6,1232.8 1449.4,1282.0 1470.9,1277.6 1471.1,1269.0 1474.7,1303.1 1476.7,1220.1 1478.7,1297.5 1479.8,1235.6 1484.5,1299.4 1486.8,1251.7 1488.0,1288.7 1501.8,1245.8 1503.2,1261.7 1505.4,1311.8 1510.0,1237.3 1510.8,1294.1 1529.8,1310.7 1529.8,1333.6 1531.6,1280.4 1535.4,1301.9 1538.3,1224.8 1547.6,1239.4 1549.2,1234.6 1552.4,1304.6 1555.3,1247.3 1558.8,1323.2 1560.9,1271.1 1565.3,1324.8 1566.8,1276.8 1570.5,1319.3 1573.0,1248.3 1575.4,1307.2 1578.4,1249.6 1581.5,1277.0 1584.5,1236.2 1587.1,1292.9 1657.1,1205.1 1658.3,1295.4"/><path d="M904.1 1196.2h0M904.3 1193.0h0M904.6 1189.9h0M904.8 1186.8h0M905.0 1183.6h0M905.3 1180.5h0M905.5 1177.4h0M905.7 1174.3h0M906.0 1171.1h0M906.2 1168.0h0M906.5 1164.9h0M906.7 1161.8h0M906.9 1158.6h0M907.2 1155.5h0M907.4 1152.4h0M910.5 1242.0h0M910.6 1245.0h0M910.7 1248.0h0M910.8 1251.0h0M910.9 1254.0h0M911.0 1257.0h0M911.1 1260.0h0M911.3 1263.0h0M911.4 1266.0h0M911.5 1269.0h0M911.6 1272.0h0M911.7 1275.0h0M911.9 1272.7h0M912.0 1270.3h0M912.2 1267.9h0M912.3 1271.0h0M912.5 1274.1h0M912.6 1277.3h0M912.7 1280.4h0M912.9 1283.5h0M913.0 1286.6h0M913.2 1289.8h0M913.3 1292.9h0M913.4 1296.0h0M913.6 1299.2h0M913.7 1302.3h0M913.8 1305.4h0M914.0 1308.6h0M914.1 1311.7h0M914.2 1314.8h0M914.4 1318.0h0M914.6 1314.9h0M914.8 1311.8h0M915.0 1308.7h0M915.2 1305.6h0M915.4 1302.5h0M915.6 1299.4h0M915.8 1296.4h0M916.0 1293.3h0M916.2 1290.2h0M916.4 1287.1h0M916.6 1284.0h0M916.8 1280.9h0M917.0 1277.8h0M917.1 1281.0h0M917.3 1284.2h0M917.4 1287.3h0M917.5 1290.5h0M917.6 1293.7h0M917.7 1296.8h0M917.9 1300.0h0M918.0 1303.2h0M918.1 1306.3h0M918.2 1309.5h0M918.3 1312.6h0M918.5 1315.8h0M918.6 1319.0h0M918.7 1322.1h0M918.8 1325.3h0M918.9 1322.2h0M918.9 1319.1h0M919.0 1316.0h0M919.1 1312.9h0M919.1 1309.8h0M919.2 1306.7h0M919.3 1303.6h0M919.3 1300.5h0M919.4 1297.4h0M919.4 1294.3h0M919.5 1291.2h0M919.6 1288.1h0M919.6 1285.0h0M919.7 1281.9h0M919.8 1278.8h0M919.8 1275.7h0M919.9 1272.6h0M920.2 1275.6h0M920.4 1278.6h0M920.7 1281.6h0M921.0 1284.7h0M921.3 1287.7h0M921.6 1290.7h0M921.9 1293.7h0M922.1 1296.8h0M922.4 1299.8h0M922.7 1296.8h0M923.1 1293.8h0M923.4 1290.9h0M923.7 1287.9h0M924.1 1284.9h0M924.4 1282.0h0M924.7 1279.0h0M925.1 1276.0h0M925.3 1279.1h0M925.6 1282.2h0M925.8 1285.3h0M926.1 1288.4h0M926.4 1291.5h0M926.6 1294.6h0M926.9 1297.7h0M927.2 1300.8h0M927.4 1303.9h0M927.7 1307.1h0M928.0 1310.2h0M928.1 1307.1h0M928.2 1304.0h0M928.3 1301.0h0M928.5 1297.9h0M928.6 1294.9h0M928.7 1291.8h0M928.9 1288.8h0M929.0 1285.7h0M929.1 1282.7h0M929.2 1279.6h0M929.4 1276.6h0M929.5 1279.8h0M929.6 1282.9h0M929.7 1286.1h0M929.9 1289.3h0M930.0 1292.5h0M930.1 1295.7h0M930.2 1298.9h0M930.3 1302.1h0M930.5 1305.3h0M930.6 1308.5h0M930.7 1311.7h0M930.8 1314.8h0M930.9 1318.0h0M931.1 1321.2h0M931.2 1318.1h0M931.4 1315.0h0M931.5 1311.9h0M931.7 1308.8h0M931.8 1305.7h0M932.0 1302.6h0M932.1 1299.5h0M932.3 1296.4h0M932.4 1293.3h0M932.6 1290.2h0M932.8 1287.1h0M932.9 1284.0h0M933.1 1280.9h0M933.2 1283.9h0M933.3 1287.0h0M933.5 1290.0h0M933.6 1293.0h0M933.8 1296.1h0M933.9 1299.1h0M934.1 1302.2h0M934.2 1305.2h0M934.3 1308.2h0M934.5 1311.3h0M934.6 1314.3h0M934.8 1317.3h0M934.9 1320.4h0M935.1 1323.4h0M935.3 1320.4h0M935.5 1317.3h0M935.7 1314.3h0M935.9 1311.3h0M936.1 1308.3h0M936.3 1305.2h0M936.5 1302.2h0M936.7 1299.2h0M936.9 1296.2h0M937.1 1293.1h0M937.3 1296.2h0M937.6 1299.2h0M937.9 1302.2h0M938.2 1305.2h0M938.5 1308.2h0M938.7 1311.2h0M939.0 1314.2h0M939.3 1317.3h0M939.6 1320.3h0M939.9 1323.3h0M940.2 1326.3h0M942.0 1264.8h0M942.3 1267.9h0M942.5 1271.1h0M942.8 1274.2h0M943.0 1277.3h0M943.3 1280.4h0M943.5 1283.5h0M943.8 1286.6h0M944.0 1289.7h0M944.3 1292.9h0M944.5 1296.0h0M944.7 1299.1h0M945.0 1302.2h0M945.2 1305.3h0M945.5 1308.4h0M945.6 1305.4h0M945.8 1302.3h0M945.9 1299.2h0M946.0 1296.2h0M946.2 1293.1h0M946.3 1290.1h0M946.5 1287.0h0M946.6 1284.0h0M946.7 1280.9h0M946.9 1277.9h0M947.0 1274.8h0M947.2 1271.7h0M947.3 1268.7h0M947.5 1271.8h0M947.7 1274.9h0M947.8 1278.0h0M948.0 1281.0h0M948.2 1284.1h0M948.4 1287.2h0M948.6 1290.3h0M948.7 1293.4h0M948.9 1296.5h0M949.1 1299.6h0M949.3 1302.7h0M949.5 1305.8h0M949.6 1308.9h0M949.8 1305.7h0M949.9 1302.5h0M950.1 1299.3h0M950.3 1296.1h0M950.4 1292.9h0M950.6 1289.8h0M950.7 1286.6h0M950.9 1283.4h0M951.1 1280.2h0M951.2 1277.0h0M951.4 1273.9h0M951.5 1270.7h0M951.7 1267.5h0M951.8 1264.3h0M952.0 1261.1h0M952.1 1264.2h0M952.2 1267.3h0M952.3 1270.3h0M952.5 1273.4h0M952.6 1276.5h0M952.7 1279.5h0M952.8 1282.6h0M952.9 1285.6h0M953.0 1288.7h0M953.1 1291.8h0M953.3 1294.8h0M953.4 1297.9h0M953.5 1301.0h0M953.6 1304.0h0M953.7 1307.1h0M953.8 1310.2h0M953.9 1313.2h0M954.0 1310.1h0M954.1 1306.9h0M954.2 1303.8h0M954.3 1300.6h0M954.4 1297.5h0M954.5 1294.3h0M954.6 1291.2h0M954.7 1288.0h0M954.8 1284.8h0M954.9 1281.7h0M955.0 1278.5h0M955.1 1275.4h0M955.2 1272.2h0M955.3 1269.1h0M955.4 1265.9h0M955.5 1262.7h0M955.6 1259.6h0M955.7 1256.4h0M955.8 1253.3h0M955.9 1256.4h0M956.1 1259.6h0M956.3 1262.7h0M956.4 1265.8h0M956.6 1269.0h0M956.7 1272.1h0M956.9 1275.3h0M957.0 1278.4h0M957.2 1281.5h0M957.3 1284.7h0M957.5 1287.8h0M957.7 1290.9h0M957.8 1294.1h0M958.0 1297.2h0M958.1 1300.4h0M958.3 1297.3h0M958.5 1294.2h0M958.7 1291.1h0M958.9 1288.0h0M959.1 1284.9h0M959.2 1281.9h0M959.4 1278.8h0M959.6 1275.7h0M959.8 1272.6h0M960.0 1269.5h0M960.2 1266.4h0M960.3 1263.4h0M960.5 1260.3h0M960.7 1257.2h0M960.9 1254.1h0M961.0 1257.1h0M961.2 1260.2h0M961.3 1263.2h0M961.4 1266.2h0M961.5 1269.2h0M961.7 1272.3h0M961.8 1275.3h0M961.9 1278.3h0M962.1 1281.3h0M962.2 1284.4h0M962.3 1287.4h0M962.4 1290.4h0M962.6 1293.4h0M962.7 1296.5h0M962.8 1299.5h0M963.0 1296.5h0M963.1 1293.4h0M963.2 1290.4h0M963.3 1287.3h0M963.5 1284.3h0M963.6 1281.3h0M963.7 1278.2h0M963.9 1275.2h0M964.0 1272.1h0M964.1 1269.1h0M964.3 1266.1h0M964.4 1263.0h0M964.5 1260.0h0M964.6 1256.9h0M964.8 1253.9h0M965.0 1257.0h0M965.2 1260.1h0M965.4 1263.2h0M965.6 1266.3h0M965.8 1269.4h0M966.0 1272.5h0M966.3 1275.6h0M966.5 1278.7h0M966.7 1281.8h0M966.9 1284.9h0M967.1 1288.0h0M967.3 1291.1h0M967.6 1288.1h0M967.8 1285.1h0M968.1 1282.2h0M968.4 1279.2h0M968.6 1276.3h0M968.9 1273.3h0M969.2 1270.3h0M969.4 1267.4h0M969.7 1264.4h0M970.0 1261.5h0M970.1 1264.5h0M970.3 1267.5h0M970.4 1270.5h0M970.6 1273.5h0M970.7 1276.5h0M970.9 1279.6h0M971.0 1282.6h0M971.2 1285.6h0M971.3 1288.6h0M971.4 1291.6h0M971.6 1294.6h0M971.7 1297.6h0M971.9 1300.7h0M972.0 1303.7h0M972.2 1306.7h0M972.3 1309.7h0M972.5 1312.7h0M974.5 1249.7h0M974.6 1252.9h0M974.7 1256.0h0M974.8 1259.2h0M974.9 1262.3h0M975.0 1265.4h0M975.1 1268.6h0M975.2 1271.7h0M975.3 1274.9h0M975.4 1278.0h0M975.5 1281.1h0M975.6 1284.3h0M975.7 1287.4h0M975.8 1290.6h0M975.9 1293.7h0M976.0 1296.8h0M976.1 1293.8h0M976.2 1290.8h0M976.4 1287.8h0M976.5 1284.8h0M976.6 1281.8h0M976.8 1278.8h0M976.9 1275.8h0M977.0 1272.8h0M977.1 1269.7h0M977.3 1266.7h0M977.4 1263.7h0M977.5 1260.7h0M977.6 1257.7h0M977.8 1254.7h0M977.9 1251.7h0M978.0 1248.7h0M978.5 1251.8h0M979.0 1254.9h0M979.5 1258.0h0M980.0 1261.1h0M980.4 1264.2h0M980.9 1267.3h0M981.4 1270.4h0M981.9 1273.5h0M986.8 1188.5h0M991.1 1099.4h0M993.3 1099.6h0M995.5 1099.8h0M997.7 1100.0h0M999.5 1211.4h0M999.7 1214.5h0M999.9 1217.6h0M1000.1 1220.7h0M1000.3 1223.8h0M1000.4 1226.9h0M1000.6 1230.0h0M1000.8 1233.1h0M1002.1 1300.5h0M1002.3 1297.4h0M1002.4 1294.3h0M1002.6 1291.2h0M1002.8 1288.1h0M1003.0 1285.0h0M1003.2 1281.9h0M1003.4 1278.8h0M1003.5 1281.9h0M1003.6 1284.9h0M1003.8 1288.0h0M1003.9 1291.0h0M1004.0 1294.0h0M1004.2 1297.1h0M1004.3 1300.1h0M1004.4 1303.2h0M1004.6 1306.2h0M1004.7 1309.3h0M1004.8 1312.3h0M1005.0 1315.3h0M1005.1 1318.4h0M1005.3 1315.4h0M1005.5 1312.4h0M1005.8 1309.4h0M1006.0 1306.3h0M1006.2 1303.3h0M1006.4 1300.3h0M1006.6 1297.3h0M1006.8 1294.3h0M1007.1 1291.3h0M1007.3 1288.3h0M1007.5 1285.3h0M1007.7 1282.3h0M1007.9 1279.2h0M1008.1 1276.2h0M1008.3 1279.4h0M1008.5 1282.6h0M1008.7 1285.7h0M1008.8 1288.9h0M1009.0 1292.0h0M1009.2 1295.2h0M1009.4 1298.4h0M1009.6 1301.5h0M1009.7 1304.7h0M1009.9 1307.8h0M1010.1 1311.0h0M1010.3 1314.2h0M1010.5 1317.3h0M1010.6 1320.5h0M1010.8 1317.3h0M1010.9 1314.1h0M1011.1 1310.9h0M1011.2 1307.8h0M1011.4 1304.6h0M1011.5 1301.4h0M1011.7 1298.2h0M1011.8 1295.0h0M1011.9 1291.9h0M1012.1 1288.7h0M1012.2 1285.5h0M1012.4 1282.3h0M1012.5 1279.1h0M1012.7 1276.0h0M1012.8 1272.8h0M1013.0 1269.6h0M1013.1 1266.4h0M1013.2 1269.6h0M1013.3 1272.7h0M1013.4 1275.9h0M1013.5 1279.1h0M1013.6 1282.2h0M1013.8 1285.4h0M1013.9 1288.6h0M1014.0 1291.7h0M1014.1 1294.9h0M1014.2 1298.1h0M1014.3 1301.2h0M1014.4 1304.4h0M1014.5 1307.5h0M1014.6 1310.7h0M1014.7 1313.9h0M1017.4 1248.8h0M1017.6 1251.8h0M1017.8 1254.9h0M1018.0 1257.9h0M1018.2 1260.9h0M1018.4 1264.0h0M1018.6 1267.0h0M1018.8 1270.1h0M1019.0 1273.1h0M1019.2 1276.2h0M1019.4 1279.2h0M1019.6 1282.3h0M1019.8 1285.3h0M1019.9 1288.4h0M1020.1 1291.4h0M1020.3 1294.4h0M1020.5 1297.5h0M1020.7 1294.4h0M1020.9 1291.4h0M1021.0 1288.3h0M1021.2 1285.2h0M1021.4 1282.1h0M1021.6 1279.1h0M1021.7 1276.0h0M1021.9 1272.9h0M1022.1 1269.9h0M1022.3 1266.8h0M1022.4 1263.7h0M1022.6 1260.7h0M1022.8 1257.6h0M1023.0 1254.5h0M1023.1 1251.4h0M1023.3 1248.4h0M1024.7 1318.8h0M1024.8 1315.8h0M1025.0 1312.7h0M1025.1 1309.7h0M1025.2 1306.6h0M1025.3 1303.6h0M1025.4 1300.6h0M1025.5 1297.5h0M1025.6 1294.5h0M1025.8 1291.5h0M1025.9 1288.4h0M1026.0 1285.4h0M1026.1 1282.3h0M1026.2 1279.3h0M1026.3 1276.3h0M1026.4 1273.2h0M1026.6 1270.2h0M1026.7 1267.2h0M1026.8 1270.3h0M1026.9 1273.4h0M1027.1 1276.6h0M1027.2 1279.7h0M1027.3 1282.8h0M1027.5 1286.0h0M1027.6 1289.1h0M1027.8 1292.2h0M1027.9 1295.4h0M1028.0 1298.5h0M1028.2 1301.6h0M1028.3 1304.7h0M1028.4 1307.9h0M1028.6 1311.0h0M1030.5 1250.6h0M1032.6 1316.8h0M1034.5 1241.5h0M1036.1 1303.2h0M1038.6 1242.2h0M1040.5 1308.1h0M1040.7 1305.1h0M1040.8 1302.1h0M1041.0 1299.1h0M1041.1 1296.2h0M1041.2 1293.2h0M1041.4 1290.2h0M1041.5 1287.3h0M1041.6 1284.3h0M1041.8 1281.3h0M1041.9 1278.4h0M1042.1 1275.4h0M1042.2 1272.4h0M1042.3 1269.4h0M1042.5 1266.5h0M1042.7 1263.4h0M1043.0 1260.4h0M1043.2 1257.4h0M1043.5 1254.4h0M1043.8 1251.4h0M1044.0 1248.3h0M1044.3 1245.3h0M1044.5 1242.3h0M1044.8 1239.3h0M1045.1 1236.2h0M1045.3 1233.2h0M1045.6 1230.2h0M1045.8 1227.2h0M1046.1 1224.1h0M1049.2 1118.0h0M1049.8 1121.1h0M1050.4 1124.3h0M1051.1 1127.4h0M1051.7 1130.5h0M1052.3 1133.6h0M1053.0 1136.7h0M1053.6 1139.8h0M1054.2 1143.0h0M1054.9 1146.1h0M1055.5 1149.2h0M1056.2 1152.3h0M1056.8 1155.4h0M1057.6 1152.5h0M1058.5 1149.5h0M1059.3 1146.5h0M1059.5 1149.7h0M1059.6 1152.9h0M1059.7 1156.1h0M1059.8 1159.3h0M1060.0 1162.4h0M1060.1 1165.6h0M1060.2 1168.8h0M1060.4 1172.0h0M1060.5 1175.2h0M1060.6 1178.3h0M1060.8 1181.3h0M1061.0 1184.3h0M1061.2 1187.2h0M1061.5 1190.2h0M1061.7 1193.2h0M1061.9 1196.2h0M1062.1 1199.1h0M1062.3 1202.1h0M1062.5 1205.1h0M1062.7 1208.0h0M1062.9 1211.0h0M1063.2 1214.0h0M1064.4 1308.1h0M1064.5 1305.1h0M1064.7 1302.1h0M1064.8 1299.0h0M1064.9 1296.0h0M1065.0 1293.0h0M1065.2 1289.9h0M1065.3 1286.9h0M1065.4 1283.9h0M1065.5 1280.8h0M1065.6 1277.8h0M1065.8 1274.8h0M1065.9 1271.7h0M1066.0 1268.7h0M1066.1 1265.7h0M1066.3 1262.6h0M1066.4 1259.6h0M1066.5 1256.6h0M1066.7 1259.7h0M1066.9 1262.8h0M1067.1 1265.9h0M1067.3 1269.0h0M1067.5 1272.1h0M1067.7 1275.2h0M1067.9 1278.3h0M1068.1 1281.4h0M1068.3 1284.5h0M1068.4 1287.6h0M1068.6 1290.7h0M1068.8 1293.8h0M1069.0 1296.9h0M1069.2 1300.0h0M1069.4 1303.1h0M1069.6 1306.2h0M1069.8 1303.2h0M1069.9 1300.2h0M1070.1 1297.2h0M1070.3 1294.2h0M1070.4 1291.2h0M1070.6 1288.2h0M1070.7 1285.2h0M1070.9 1282.2h0M1071.1 1279.2h0M1071.2 1276.2h0M1071.4 1273.2h0M1071.6 1270.2h0M1071.7 1267.2h0M1071.9 1264.2h0M1072.0 1267.2h0M1072.1 1270.3h0M1072.2 1273.3h0M1072.3 1276.4h0M1072.5 1279.4h0M1072.6 1282.5h0M1072.7 1285.5h0M1072.8 1288.6h0M1072.9 1291.6h0M1073.1 1294.7h0M1073.2 1297.7h0M1073.3 1300.8h0M1073.4 1303.8h0M1073.5 1306.9h0M1073.6 1309.9h0M1073.8 1313.0h0M1073.9 1316.0h0M1074.0 1319.1h0M1075.7 1255.3h0M1075.9 1258.5h0M1076.0 1261.6h0M1076.2 1264.7h0M1076.3 1267.8h0M1076.5 1270.9h0M1076.6 1274.1h0M1076.8 1277.2h0M1076.9 1280.3h0M1077.1 1283.4h0M1077.2 1286.6h0M1077.4 1289.7h0M1077.5 1292.8h0M1077.7 1295.9h0M1077.8 1299.1h0M1078.0 1302.2h0M1078.1 1305.3h0M1078.3 1302.2h0M1078.5 1299.1h0M1078.7 1296.0h0M1078.8 1292.8h0M1079.0 1289.7h0M1079.2 1286.6h0M1079.4 1283.5h0M1079.5 1280.4h0M1079.7 1277.3h0M1079.9 1274.1h0M1080.1 1271.0h0M1080.2 1267.9h0M1080.4 1264.8h0M1080.6 1261.7h0M1080.8 1258.6h0M1080.9 1255.4h0M1081.1 1252.3h0M1081.5 1255.3h0M1081.8 1258.2h0M1082.2 1261.2h0M1082.6 1264.2h0M1082.9 1267.1h0M1083.3 1270.1h0M1083.7 1273.0h0M1084.0 1276.0h0M1084.4 1279.0h0M1084.8 1281.9h0M1086.5 1215.5h0M1087.8 1281.9h0M1088.1 1279.0h0M1088.4 1276.0h0M1088.7 1273.1h0M1088.9 1270.2h0M1089.2 1267.3h0M1089.5 1264.3h0M1089.8 1261.4h0M1090.1 1258.5h0M1090.4 1255.6h0M1090.7 1252.6h0M1091.0 1249.7h0M1091.3 1246.8h0M1091.4 1249.8h0M1091.6 1252.9h0M1091.8 1255.9h0M1092.0 1258.9h0M1092.2 1262.0h0M1092.4 1265.0h0M1092.6 1268.1h0M1092.7 1271.1h0M1092.9 1274.1h0M1093.1 1277.2h0M1093.3 1280.2h0M1093.5 1283.3h0M1093.7 1286.3h0M1095.4 1220.2h0M1097.9 1288.4h0M1098.6 1210.7h0M1099.3 1208.4h0M1100.0 1206.0h0M1100.7 1203.6h0M1101.5 1201.2h0M1104.0 1135.1h0M1106.5 1053.6h0M1107.8 1052.4h0M1109.1 1055.0h0M1110.4 1057.7h0M1111.6 1060.3h0M1112.9 1063.0h0M1114.2 1065.6h0M1115.4 1068.3h0M1116.7 1070.9h0M1116.7 1074.1h0M1116.7 1077.2h0M1116.7 1080.4h0M1116.7 1083.5h0M1116.7 1086.6h0M1116.7 1089.8h0M1116.7 1092.9h0M1116.7 1096.1h0M1116.7 1099.2h0M1116.7 1102.3h0M1116.7 1105.5h0M1116.7 1108.6h0M1116.7 1111.7h0M1116.7 1114.9h0M1116.7 1118.0h0M1116.7 1121.2h0M1116.7 1124.3h0M1116.7 1127.4h0M1118.5 1203.8h0M1118.6 1206.9h0M1118.7 1210.1h0M1118.9 1213.2h0M1119.0 1216.3h0M1119.1 1219.5h0M1119.2 1222.6h0M1119.3 1225.7h0M1119.4 1228.8h0M1119.6 1232.0h0M1119.7 1235.1h0M1119.8 1238.2h0M1119.9 1241.4h0M1120.0 1244.5h0M1120.2 1247.6h0M1120.3 1250.7h0M1120.4 1253.8h0M1120.5 1256.9h0M1120.7 1260.0h0M1120.8 1263.1h0M1120.9 1266.1h0M1121.0 1269.2h0M1121.2 1272.3h0M1121.3 1275.4h0M1121.4 1278.5h0M1121.6 1281.6h0M1121.7 1284.7h0M1121.8 1287.8h0M1121.8 1284.8h0M1121.8 1281.8h0M1121.8 1278.8h0M1121.8 1275.8h0M1121.8 1272.8h0M1121.8 1269.8h0M1121.8 1266.8h0M1121.8 1263.8h0M1121.8 1260.8h0M1121.8 1257.8h0M1121.8 1254.8h0M1121.8 1251.8h0M1121.8 1248.8h0M1121.8 1245.8h0M1122.0 1248.7h0M1122.2 1251.7h0M1122.4 1254.7h0M1122.6 1257.7h0M1122.8 1260.7h0M1123.0 1263.6h0M1123.2 1266.6h0M1123.4 1269.6h0M1123.6 1272.6h0M1123.8 1275.5h0M1124.0 1278.5h0M1124.2 1281.5h0M1124.4 1284.5h0M1124.5 1281.4h0M1124.5 1278.3h0M1124.6 1275.2h0M1124.6 1272.0h0M1124.7 1268.9h0M1124.7 1265.8h0M1124.8 1262.7h0M1124.8 1259.6h0M1124.9 1256.5h0M1125.0 1253.4h0M1125.0 1250.3h0M1125.1 1247.1h0M1125.1 1244.0h0M1125.2 1240.9h0M1125.2 1237.8h0M1125.3 1234.7h0M1125.5 1237.7h0M1125.6 1240.8h0M1125.8 1243.8h0M1126.0 1246.8h0M1126.2 1249.9h0M1126.4 1252.9h0M1126.6 1255.9h0M1126.8 1259.0h0M1126.9 1262.0h0M1127.1 1265.0h0M1127.3 1268.1h0M1127.5 1271.1h0M1127.7 1274.1h0M1127.9 1277.2h0M1128.1 1280.2h0M1128.3 1283.2h0M1128.4 1280.1h0M1128.6 1277.0h0M1128.7 1273.9h0M1128.9 1270.8h0M1129.1 1267.7h0M1129.2 1264.6h0M1129.4 1261.5h0M1129.6 1258.4h0M1129.7 1255.3h0M1129.9 1252.2h0M1130.0 1249.0h0M1130.2 1245.9h0M1130.4 1242.8h0M1130.5 1239.7h0M1130.7 1236.6h0M1130.8 1233.5h0M1131.0 1236.6h0M1131.2 1239.8h0M1131.3 1242.9h0M1131.5 1246.0h0M1131.6 1249.1h0M1131.8 1252.3h0M1131.9 1255.4h0M1132.1 1258.5h0M1132.2 1261.6h0M1132.4 1264.8h0M1132.6 1267.9h0M1132.7 1271.0h0M1132.9 1274.2h0M1133.0 1277.3h0M1133.2 1280.4h0M1133.3 1283.5h0M1133.5 1286.7h0M1133.7 1289.8h0M1133.8 1292.9h0M1136.5 1226.0h0M1136.6 1229.0h0M1136.6 1232.0h0M1136.6 1235.0h0M1136.7 1238.0h0M1136.7 1241.1h0M1136.8 1244.1h0M1136.8 1247.1h0M1136.9 1250.1h0M1136.9 1253.1h0M1136.9 1256.1h0M1137.0 1259.1h0M1137.0 1262.2h0M1137.1 1265.2h0M1137.1 1268.2h0M1137.2 1271.2h0M1137.2 1274.2h0M1137.4 1271.2h0M1137.5 1268.2h0M1137.7 1265.2h0M1137.8 1262.2h0M1138.0 1259.3h0M1138.1 1256.3h0M1138.3 1253.3h0M1138.4 1250.3h0M1138.6 1247.3h0M1138.8 1244.3h0M1138.9 1241.3h0M1139.1 1238.3h0M1139.2 1235.3h0M1139.5 1238.3h0M1139.7 1241.4h0M1139.9 1244.4h0M1140.2 1247.4h0M1140.4 1250.5h0M1140.6 1253.5h0M1140.9 1256.5h0M1141.1 1259.6h0M1141.3 1262.6h0M1141.6 1265.6h0M1141.8 1268.7h0M1142.0 1271.7h0M1142.3 1274.7h0M1142.5 1277.8h0M1142.7 1280.8h0M1142.8 1277.6h0M1142.9 1274.4h0M1143.0 1271.2h0M1143.0 1268.1h0M1143.1 1264.9h0M1143.2 1261.7h0M1143.3 1258.5h0M1143.3 1255.3h0M1143.4 1252.1h0M1143.5 1248.9h0M1143.6 1245.8h0M1143.6 1242.6h0M1143.7 1239.4h0M1143.8 1236.2h0M1143.9 1233.0h0M1144.0 1229.8h0M1144.0 1226.7h0M1144.1 1223.5h0M1147.8 1295.8h0M1148.6 1298.9h0M1149.5 1302.0h0M1150.3 1305.1h0M1151.1 1308.1h0M1152.4 1214.0h0M1152.9 1210.9h0M1153.4 1207.9h0M1153.9 1204.8h0M1154.4 1201.8h0M1154.9 1198.7h0M1155.4 1195.6h0M1155.9 1192.6h0M1156.4 1189.5h0M1156.9 1186.5h0M1157.4 1183.4h0M1157.9 1180.3h0M1158.3 1177.2h0M1158.7 1174.1h0M1159.1 1171.0h0M1159.6 1167.9h0M1160.0 1164.8h0M1160.4 1161.7h0M1160.8 1158.5h0M1161.3 1155.4h0M1161.3 1152.4h0M1161.4 1149.4h0M1161.4 1146.4h0M1161.5 1143.4h0M1161.5 1140.4h0M1161.6 1137.4h0M1161.6 1134.4h0M1161.7 1131.4h0M1161.8 1128.4h0M1161.8 1125.4h0M1161.9 1122.4h0M1161.9 1119.4h0M1162.0 1116.4h0M1162.0 1113.4h0M1162.1 1110.3h0M1162.1 1107.2h0M1162.1 1104.1h0M1162.2 1101.0h0M1162.2 1097.9h0M1162.2 1094.8h0M1162.3 1091.7h0M1162.3 1088.6h0M1162.3 1085.5h0M1162.4 1082.4h0M1162.4 1079.3h0M1162.4 1076.2h0M1162.5 1073.1h0M1162.5 1070.0h0M1162.5 1066.9h0M1164.8 1068.3h0M1167.0 1069.8h0M1169.2 1071.3h0M1171.4 1072.7h0M1172.7 1168.2h0M1172.9 1171.2h0M1173.1 1174.3h0M1173.3 1177.4h0M1173.4 1180.5h0M1173.6 1183.6h0M1173.8 1186.7h0M1174.0 1189.8h0M1174.2 1192.9h0M1174.3 1196.0h0M1174.5 1199.1h0M1174.7 1202.2h0M1174.9 1205.2h0M1175.1 1208.3h0M1175.3 1211.4h0M1175.6 1208.3h0M1176.0 1205.2h0M1176.3 1202.2h0M1176.7 1199.1h0M1177.1 1196.0h0M1177.4 1192.9h0M1177.8 1189.8h0M1177.9 1193.0h0M1178.1 1196.2h0M1178.2 1199.3h0M1178.3 1202.5h0M1178.4 1205.7h0M1178.6 1208.9h0M1178.7 1212.1h0M1178.8 1215.2h0M1178.9 1218.4h0M1179.1 1221.6h0M1179.2 1224.8h0M1179.3 1228.0h0M1179.5 1231.1h0M1179.6 1234.3h0M1180.9 1306.9h0M1182.9 1219.1h0M1184.5 1221.6h0M1186.2 1224.1h0M1188.7 1225.8h0M1191.3 1227.4h0M1193.8 1229.1h0M1196.4 1230.7h0M1198.9 1232.3h0M1201.5 1234.0h0M1204.0 1235.6h0M1204.0 1238.7h0M1204.0 1241.7h0M1204.0 1244.8h0M1204.0 1247.8h0M1204.0 1250.9h0M1204.0 1253.9h0M1204.0 1257.0h0M1204.0 1260.0h0M1204.0 1263.1h0M1204.0 1266.1h0M1207.1 1156.7h0M1209.6 1076.0h0M1209.7 1079.1h0M1209.8 1082.1h0M1209.9 1085.2h0M1210.0 1088.2h0M1210.1 1091.3h0M1268.1 1201.2h0M1268.1 1204.0h0M1268.1 1206.8h0M1270.7 1205.9h0M1273.2 1205.0h0M1275.8 1204.0h0M1278.3 1203.1h0M1280.9 1202.2h0M1283.4 1201.2h0M1283.7 1202.8h0M1285.1 1303.2h0M1290.2 1145.3h0M1290.3 1142.1h0M1290.4 1139.0h0M1290.5 1135.8h0M1290.7 1132.7h0M1290.8 1129.5h0M1290.9 1126.4h0M1291.0 1123.2h0M1291.1 1120.1h0M1291.3 1117.0h0M1291.4 1113.8h0M1291.5 1110.7h0M1291.6 1107.5h0M1291.7 1104.4h0M1291.9 1101.2h0M1292.0 1098.1h0M1292.1 1095.0h0M1292.2 1091.8h0M1295.3 1091.8h0M1298.3 1091.8h0M1298.4 1094.9h0M1298.4 1098.0h0M1298.5 1101.1h0M1298.5 1104.3h0M1298.5 1107.4h0M1298.6 1110.5h0M1298.6 1113.6h0M1298.7 1116.7h0M1298.7 1119.8h0M1298.7 1122.9h0M1298.8 1126.0h0M1298.8 1129.1h0M1298.9 1132.2h0M1298.9 1135.4h0M1299.0 1138.5h0M1299.0 1141.6h0M1299.0 1144.7h0M1299.1 1147.8h0M1299.2 1150.9h0M1299.3 1154.1h0M1299.4 1157.2h0M1299.6 1160.3h0M1299.7 1163.5h0M1299.8 1166.6h0M1299.9 1169.7h0M1300.0 1172.9h0M1300.1 1176.0h0M1300.3 1179.1h0M1300.4 1182.3h0M1300.5 1185.4h0M1300.6 1188.5h0M1300.7 1191.7h0M1300.9 1194.8h0M1301.0 1197.9h0M1301.1 1201.0h0M1301.3 1204.1h0M1301.4 1207.2h0M1301.6 1210.3h0M1301.7 1213.4h0M1301.9 1216.5h0M1302.0 1219.6h0M1302.2 1222.7h0M1302.3 1225.8h0M1302.5 1228.9h0M1302.6 1232.0h0M1302.8 1235.1h0M1302.9 1238.2h0M1303.1 1241.3h0M1303.2 1244.4h0M1303.4 1247.4h0M1303.5 1250.5h0M1303.7 1253.6h0M1303.9 1250.5h0M1304.1 1247.3h0M1304.3 1244.1h0M1304.5 1240.9h0M1304.7 1237.7h0M1304.9 1234.5h0M1305.1 1231.3h0M1305.3 1228.2h0M1305.5 1225.0h0M1309.1 1304.8h0M1309.4 1301.7h0M1309.6 1298.5h0M1309.9 1295.4h0M1310.2 1292.2h0M1310.4 1289.1h0M1310.7 1285.9h0M1311.0 1282.8h0M1311.2 1279.6h0M1311.5 1276.5h0M1356.3 1146.5h0M1356.4 1143.5h0M1356.5 1140.4h0M1356.6 1137.3h0M1356.6 1134.3h0M1356.7 1131.2h0M1356.8 1128.1h0M1356.9 1125.0h0M1356.9 1122.0h0M1357.0 1118.9h0M1357.1 1115.8h0M1357.2 1112.8h0M1357.2 1109.7h0M1357.3 1106.6h0M1357.4 1103.6h0M1357.5 1100.5h0M1357.5 1097.4h0M1357.6 1094.4h0M1371.6 1173.2h0M1373.7 1280.1h0M1373.8 1277.0h0M1373.9 1273.9h0M1374.0 1270.7h0M1374.2 1267.6h0M1374.3 1264.5h0M1374.4 1261.3h0M1374.5 1258.2h0M1374.7 1255.0h0M1374.8 1251.9h0M1374.8 1254.9h0M1374.9 1257.9h0M1375.0 1260.8h0M1375.0 1263.8h0M1375.1 1266.8h0M1375.1 1269.8h0M1375.2 1272.8h0M1375.2 1275.8h0M1375.3 1278.7h0M1375.4 1281.7h0M1375.4 1284.7h0M1375.5 1287.7h0M1375.5 1290.7h0M1375.6 1293.6h0M1375.8 1290.6h0M1376.0 1287.6h0M1376.2 1284.6h0M1376.4 1281.7h0M1376.6 1278.7h0M1376.9 1275.7h0M1377.1 1272.7h0M1377.3 1269.7h0M1377.5 1266.7h0M1377.7 1263.7h0M1377.9 1260.7h0M1378.1 1263.9h0M1378.4 1267.1h0M1378.6 1270.3h0M1378.8 1273.4h0M1379.1 1276.6h0M1379.3 1279.8h0M1379.6 1283.0h0M1379.8 1286.2h0M1380.0 1289.4h0M1380.3 1292.6h0M1380.5 1295.8h0M1380.7 1299.0h0M1381.0 1302.1h0M1381.2 1305.3h0M1383.4 1303.4h0M1385.6 1301.4h0M1387.8 1299.5h0M1390.0 1297.5h0M1392.1 1295.6h0M1394.3 1293.6h0M1396.5 1291.7h0M1398.7 1289.7h0M1400.9 1287.8h0M1401.0 1290.7h0M1401.1 1293.7h0M1401.1 1296.7h0M1401.2 1299.7h0M1401.3 1302.6h0M1401.4 1305.6h0M1401.5 1308.6h0M1401.6 1311.5h0M1401.7 1314.5h0M1401.7 1311.3h0M1401.8 1308.1h0M1401.9 1304.9h0M1402.0 1301.7h0M1402.1 1298.5h0M1402.1 1295.3h0M1402.2 1292.2h0M1402.3 1289.0h0M1402.4 1285.8h0M1402.5 1282.6h0M1402.5 1279.4h0M1402.6 1276.2h0M1402.7 1273.0h0M1402.8 1269.8h0M1402.9 1266.6h0M1403.0 1263.4h0M1403.3 1266.5h0M1403.6 1269.5h0M1403.9 1272.6h0M1404.2 1275.6h0M1404.6 1278.6h0M1404.9 1281.7h0M1405.2 1284.7h0M1405.5 1287.8h0M1405.8 1290.8h0M1406.2 1293.9h0M1406.5 1296.9h0M1406.8 1299.9h0M1407.1 1303.0h0M1407.4 1306.0h0M1407.8 1309.1h0M1408.0 1306.0h0M1408.2 1302.9h0M1408.5 1299.8h0M1408.7 1296.7h0M1409.0 1293.6h0M1409.2 1290.5h0M1409.4 1287.4h0M1409.7 1284.3h0M1409.9 1281.2h0M1410.2 1278.1h0M1410.4 1275.0h0M1410.6 1271.9h0M1410.9 1274.9h0M1411.2 1277.9h0M1411.5 1280.9h0M1411.7 1283.8h0M1412.0 1286.8h0M1412.3 1289.8h0M1412.5 1292.8h0M1412.6 1289.7h0M1412.7 1286.5h0M1412.8 1283.4h0M1412.9 1280.2h0M1413.0 1277.1h0M1413.1 1273.9h0M1413.1 1270.8h0M1413.2 1267.7h0M1413.3 1264.5h0M1413.4 1261.4h0M1413.5 1258.2h0M1413.6 1255.1h0M1413.7 1251.9h0M1413.7 1248.8h0M1413.8 1245.6h0M1413.9 1242.5h0M1414.0 1239.3h0M1414.1 1236.2h0M1414.5 1239.2h0M1414.9 1242.2h0M1415.2 1245.2h0M1415.6 1248.2h0M1416.0 1251.2h0M1416.4 1254.2h0M1416.8 1257.1h0M1416.9 1254.1h0M1417.1 1251.0h0M1417.3 1247.9h0M1417.5 1244.9h0M1417.6 1241.8h0M1417.8 1238.7h0M1418.0 1235.7h0M1418.2 1232.6h0M1418.3 1229.5h0M1418.5 1226.5h0M1418.7 1223.4h0M1418.9 1220.3h0M1419.0 1217.2h0M1419.2 1214.2h0M1419.4 1211.1h0M1419.6 1208.0h0M1419.7 1205.0h0M1419.9 1201.9h0M1420.1 1198.8h0M1420.5 1201.9h0M1421.0 1205.0h0M1421.4 1208.1h0M1421.8 1211.2h0M1422.3 1214.3h0M1422.7 1217.4h0M1423.2 1220.4h0M1423.6 1223.5h0M1424.0 1220.4h0M1424.3 1217.4h0M1424.7 1214.3h0M1425.1 1211.2h0M1425.4 1208.1h0M1425.8 1205.0h0M1426.2 1201.9h0M1426.4 1205.1h0M1426.6 1208.2h0M1426.8 1211.3h0M1427.0 1214.4h0M1427.3 1217.5h0M1427.5 1220.6h0M1427.7 1223.7h0M1427.9 1226.8h0M1428.1 1229.9h0M1428.4 1233.0h0M1428.6 1236.1h0M1428.8 1239.2h0M1429.0 1242.3h0M1429.2 1245.4h0M1429.4 1248.5h0M1429.7 1251.6h0M1429.9 1254.7h0M1430.1 1257.9h0M1430.5 1254.8h0M1430.8 1251.8h0M1431.2 1248.8h0M1431.6 1245.8h0M1431.9 1242.8h0M1432.3 1239.8h0M1432.7 1236.8h0M1433.0 1233.8h0M1433.2 1236.8h0M1433.4 1239.9h0M1433.6 1242.9h0M1433.8 1245.9h0M1434.0 1249.0h0M1434.2 1252.0h0M1434.4 1255.0h0M1434.6 1258.1h0M1434.8 1261.1h0M1435.0 1264.1h0M1435.2 1267.2h0M1435.4 1270.2h0M1435.6 1273.2h0M1435.8 1276.3h0M1436.0 1279.3h0M1436.2 1282.4h0M1436.4 1279.3h0M1436.6 1276.3h0M1436.8 1273.2h0M1437.0 1270.2h0M1437.2 1267.1h0M1437.4 1264.1h0M1437.6 1261.0h0M1437.7 1258.0h0M1437.9 1254.9h0M1438.1 1251.9h0M1438.3 1248.8h0M1438.5 1245.8h0M1438.7 1242.7h0M1438.9 1239.7h0M1439.1 1236.6h0M1439.3 1233.6h0M1439.5 1230.5h0M1439.7 1227.5h0M1439.9 1224.4h0M1440.0 1227.5h0M1440.2 1230.6h0M1440.3 1233.7h0M1440.5 1236.7h0M1440.6 1239.8h0M1440.8 1242.9h0M1440.9 1246.0h0M1441.1 1249.0h0M1441.2 1252.1h0M1441.4 1255.2h0M1441.5 1258.3h0M1441.7 1261.3h0M1441.8 1264.4h0M1442.0 1267.5h0M1442.1 1270.6h0M1442.3 1273.7h0M1442.5 1270.5h0M1442.8 1267.4h0M1443.0 1264.2h0M1443.3 1261.1h0M1443.5 1257.9h0M1443.8 1254.8h0M1444.0 1251.6h0M1444.3 1248.5h0M1444.5 1245.4h0M1444.8 1242.2h0M1445.1 1239.1h0M1445.3 1235.9h0M1445.6 1232.8h0M1445.8 1235.9h0M1446.0 1238.9h0M1446.3 1242.0h0M1446.5 1245.1h0M1446.7 1248.2h0M1447.0 1251.3h0M1447.2 1254.3h0M1447.5 1257.4h0M1447.7 1260.5h0M1447.9 1263.6h0M1448.2 1266.6h0M1448.4 1269.7h0M1448.6 1272.8h0M1448.9 1275.9h0M1449.1 1279.0h0M1449.4 1282.0h0M1452.4 1281.4h0M1455.5 1280.8h0M1458.6 1280.1h0M1461.7 1279.5h0M1464.7 1278.9h0M1467.8 1278.2h0M1470.9 1277.6h0M1470.9 1274.7h0M1471.0 1271.9h0M1471.1 1269.0h0M1471.4 1272.1h0M1471.7 1275.2h0M1472.1 1278.3h0M1472.4 1281.4h0M1472.7 1284.5h0M1473.1 1287.6h0M1473.4 1290.7h0M1473.7 1293.8h0M1474.1 1296.9h0M1474.4 1300.0h0M1474.7 1303.1h0M1476.7 1220.1h0M1478.7 1297.5h0M1479.8 1235.6h0M1484.5 1299.4h0M1484.7 1296.2h0M1484.8 1293.0h0M1485.0 1289.9h0M1485.1 1286.7h0M1485.3 1283.5h0M1485.4 1280.3h0M1485.6 1277.1h0M1485.8 1274.0h0M1485.9 1270.8h0M1486.1 1267.6h0M1486.2 1264.4h0M1486.4 1261.2h0M1486.5 1258.0h0M1486.7 1254.9h0M1486.8 1251.7h0M1486.9 1254.8h0M1487.0 1257.9h0M1487.1 1260.9h0M1487.2 1264.0h0M1487.3 1267.1h0M1487.4 1270.2h0M1487.5 1273.3h0M1487.6 1276.3h0M1487.7 1279.4h0M1487.8 1282.5h0M1487.9 1285.6h0M1488.0 1288.7h0M1488.9 1285.8h0M1489.8 1283.0h0M1490.8 1280.1h0M1491.7 1277.2h0M1492.6 1274.4h0M1493.5 1271.5h0M1494.4 1268.7h0M1495.4 1265.8h0M1496.3 1262.9h0M1497.2 1260.1h0M1498.1 1257.2h0M1499.0 1254.4h0M1500.0 1251.5h0M1500.9 1248.6h0M1501.8 1245.8h0M1502.0 1248.4h0M1502.3 1251.1h0M1502.5 1253.8h0M1502.7 1256.4h0M1502.9 1259.1h0M1503.2 1261.7h0M1503.3 1264.9h0M1503.4 1268.0h0M1503.6 1271.1h0M1503.7 1274.3h0M1503.9 1277.4h0M1504.0 1280.5h0M1504.1 1283.6h0M1504.3 1286.8h0M1504.4 1289.9h0M1504.5 1293.0h0M1504.7 1296.2h0M1504.8 1299.3h0M1505.0 1302.4h0M1505.1 1305.5h0M1505.2 1308.7h0M1505.4 1311.8h0M1510.0 1237.3h0M1510.0 1240.4h0M1510.1 1243.6h0M1510.1 1246.7h0M1510.1 1249.9h0M1510.2 1253.0h0M1510.2 1256.2h0M1510.3 1259.3h0M1510.3 1262.5h0M1510.4 1265.7h0M1510.4 1268.8h0M1510.5 1272.0h0M1510.5 1275.1h0M1510.6 1278.3h0M1510.6 1281.4h0M1510.7 1284.6h0M1510.7 1287.7h0M1510.8 1290.9h0M1510.8 1294.1h0M1513.2 1296.1h0M1515.5 1298.2h0M1517.9 1300.3h0M1520.3 1302.4h0M1522.7 1304.4h0M1525.1 1306.5h0M1527.4 1308.6h0M1529.8 1310.7h0M1529.8 1313.5h0M1529.8 1316.4h0M1529.8 1319.3h0M1529.8 1322.1h0M1529.8 1325.0h0M1529.8 1327.9h0M1529.8 1330.7h0M1529.8 1333.6h0M1529.9 1330.5h0M1530.0 1327.3h0M1530.1 1324.2h0M1530.2 1321.1h0M1530.3 1317.9h0M1530.5 1314.8h0M1530.6 1311.7h0M1530.7 1308.5h0M1530.8 1305.4h0M1530.9 1302.3h0M1531.0 1299.1h0M1531.1 1296.0h0M1531.2 1292.9h0M1531.3 1289.8h0M1531.4 1286.6h0M1531.5 1283.5h0M1531.6 1280.4h0M1532.2 1283.4h0M1532.7 1286.5h0M1533.3 1289.6h0M1533.8 1292.7h0M1534.3 1295.8h0M1534.9 1298.8h0M1535.4 1301.9h0M1538.3 1224.8h0M1539.8 1227.3h0M1541.4 1229.7h0M1542.9 1232.1h0M1544.5 1234.6h0M1546.1 1237.0h0M1547.6 1239.4h0M1548.4 1237.0h0M1549.2 1234.6h0M1552.4 1304.6h0M1552.6 1301.4h0M1552.7 1298.3h0M1552.9 1295.1h0M1553.0 1291.9h0M1553.2 1288.7h0M1553.4 1285.5h0M1553.5 1282.3h0M1553.7 1279.2h0M1553.8 1276.0h0M1554.0 1272.8h0M1554.2 1269.6h0M1554.3 1266.4h0M1554.5 1263.3h0M1554.7 1260.1h0M1554.8 1256.9h0M1555.0 1253.7h0M1555.1 1250.5h0M1555.3 1247.3h0M1558.8 1323.2h0M1558.9 1320.1h0M1559.0 1317.1h0M1559.2 1314.0h0M1559.3 1311.0h0M1559.4 1307.9h0M1559.5 1304.8h0M1559.7 1301.8h0M1559.8 1298.7h0M1559.9 1295.6h0M1560.0 1292.6h0M1560.2 1289.5h0M1560.3 1286.4h0M1560.4 1283.4h0M1560.5 1280.3h0M1560.6 1277.3h0M1560.8 1274.2h0M1560.9 1271.1h0M1561.2 1274.3h0M1561.4 1277.4h0M1561.7 1280.6h0M1561.9 1283.8h0M1562.2 1286.9h0M1562.4 1290.1h0M1562.7 1293.2h0M1563.0 1296.4h0M1563.2 1299.5h0M1563.5 1302.7h0M1563.7 1305.9h0M1564.0 1309.0h0M1564.3 1312.2h0M1564.5 1315.3h0M1564.8 1318.5h0M1565.0 1321.6h0M1565.3 1324.8h0M1565.4 1321.8h0M1565.5 1318.8h0M1565.6 1315.8h0M1565.7 1312.8h0M1565.8 1309.8h0M1565.8 1306.8h0M1565.9 1303.8h0M1566.0 1300.8h0M1566.1 1297.8h0M1566.2 1294.8h0M1566.3 1291.8h0M1566.4 1288.8h0M1566.5 1285.8h0M1566.6 1282.8h0M1566.7 1279.8h0M1566.8 1276.8h0M1567.0 1279.8h0M1567.3 1282.9h0M1567.6 1285.9h0M1567.8 1289.0h0M1568.1 1292.0h0M1568.4 1295.0h0M1568.6 1298.1h0M1568.9 1301.1h0M1569.1 1304.1h0M1569.4 1307.2h0M1569.7 1310.2h0M1569.9 1313.2h0M1570.2 1316.3h0M1570.5 1319.3h0M1573.0 1248.3h0M1573.1 1251.4h0M1573.2 1254.5h0M1573.4 1257.6h0M1573.5 1260.7h0M1573.6 1263.8h0M1573.8 1266.9h0M1573.9 1270.0h0M1574.0 1273.1h0M1574.1 1276.2h0M1574.3 1279.3h0M1574.4 1282.4h0M1574.5 1285.5h0M1574.7 1288.6h0M1574.8 1291.7h0M1574.9 1294.8h0M1575.0 1297.9h0M1575.2 1301.0h0M1575.3 1304.1h0M1575.4 1307.2h0M1575.6 1304.2h0M1575.7 1301.1h0M1575.9 1298.1h0M1576.1 1295.1h0M1576.2 1292.0h0M1576.4 1289.0h0M1576.5 1286.0h0M1576.7 1282.9h0M1576.8 1279.9h0M1577.0 1276.9h0M1577.1 1273.8h0M1577.3 1270.8h0M1577.4 1267.8h0M1577.6 1264.7h0M1577.8 1261.7h0M1577.9 1258.7h0M1578.1 1255.7h0M1578.2 1252.6h0M1578.4 1249.6h0M1578.7 1252.6h0M1579.1 1255.7h0M1579.4 1258.7h0M1579.7 1261.8h0M1580.1 1264.8h0M1580.4 1267.9h0M1580.8 1270.9h0M1581.1 1274.0h0M1581.5 1277.0h0M1581.7 1273.9h0M1581.9 1270.7h0M1582.2 1267.6h0M1582.4 1264.4h0M1582.6 1261.3h0M1582.9 1258.2h0M1583.1 1255.0h0M1583.3 1251.9h0M1583.6 1248.8h0M1583.8 1245.6h0M1584.0 1242.5h0M1584.3 1239.3h0M1584.5 1236.2h0M1584.7 1239.3h0M1584.8 1242.5h0M1584.9 1245.6h0M1585.1 1248.8h0M1585.2 1251.9h0M1585.4 1255.1h0M1585.5 1258.2h0M1585.7 1261.4h0M1585.8 1264.5h0M1585.9 1267.7h0M1586.1 1270.8h0M1586.2 1274.0h0M1586.4 1277.1h0M1586.5 1280.3h0M1586.6 1283.4h0M1586.8 1286.6h0M1586.9 1289.7h0M1587.1 1292.9h0M1657.1 1205.1h0M1658.3 1295.4h0" stroke="#000" stroke-width="3.9" stroke-linecap="round" fill="none"/></g>
<path class="ax" d="M981.0 1442.0v-7.5M981.0 1046.3v7.5M1087.3 1442.0v-7.5M1087.3 1046.3v7.5M1193.6 1442.0v-7.5M1193.6 1046.3v7.5M1299.9 1442.0v-7.5M1299.9 1046.3v7.5M1406.2 1442.0v-7.5M1406.2 1046.3v7.5M1512.5 1442.0v-7.5M1512.5 1046.3v7.5M1618.8 1442.0v-7.5M1618.8 1046.3v7.5M899.0 1406.0h7.5M1667.0 1406.0h-7.5M899.0 1334.1h7.5M1667.0 1334.1h-7.5M899.0 1262.1h7.5M1667.0 1262.1h-7.5M899.0 1190.2h7.5M1667.0 1190.2h-7.5M899.0 1118.2h7.5M1667.0 1118.2h-7.5" stroke-width="1.3"/>
<rect class="ax" x="899.0" y="1046.3" width="768.0" height="395.70000000000005"/>
</g>
<g class="b">
<text transform="translate(45.28 504.5) scale(0.9471 1)" font-size="37.4">0.10</text>
<text transform="translate(1676.78 504.5) scale(0.9471 1)" font-size="37.4">0.10</text>
<text transform="translate(45.28 432.4) scale(0.9471 1)" font-size="37.4">0.20</text>
<text transform="translate(1676.78 432.4) scale(0.9471 1)" font-size="37.4">0.20</text>
<text transform="translate(45.28 360.4) scale(0.9471 1)" font-size="37.4">0.30</text>
<text transform="translate(1676.78 360.4) scale(0.9471 1)" font-size="37.4">0.30</text>
<text transform="translate(45.28 288.3) scale(0.9471 1)" font-size="37.4">0.40</text>
<text transform="translate(1676.78 288.3) scale(0.9471 1)" font-size="37.4">0.40</text>
<text transform="translate(45.28 216.3) scale(0.9471 1)" font-size="37.4">0.50</text>
<text transform="translate(1676.78 216.3) scale(0.9471 1)" font-size="37.4">0.50</text>
<text transform="translate(45.28 144.2) scale(0.9471 1)" font-size="37.4">0.60</text>
<text transform="translate(1676.78 144.2) scale(0.9471 1)" font-size="37.4">0.60</text>
<text transform="translate(45.28 957.0) scale(0.9471 1)" font-size="37.4">0.10</text>
<text transform="translate(1676.78 957.0) scale(0.9471 1)" font-size="37.4">0.10</text>
<text transform="translate(45.28 884.9) scale(0.9471 1)" font-size="37.4">0.20</text>
<text transform="translate(1676.78 884.9) scale(0.9471 1)" font-size="37.4">0.20</text>
<text transform="translate(45.28 812.8) scale(0.9471 1)" font-size="37.4">0.30</text>
<text transform="translate(1676.78 812.8) scale(0.9471 1)" font-size="37.4">0.30</text>
<text transform="translate(45.28 740.7) scale(0.9471 1)" font-size="37.4">0.40</text>
<text transform="translate(1676.78 740.7) scale(0.9471 1)" font-size="37.4">0.40</text>
<text transform="translate(45.28 668.6) scale(0.9471 1)" font-size="37.4">0.50</text>
<text transform="translate(1676.78 668.6) scale(0.9471 1)" font-size="37.4">0.50</text>
<text transform="translate(45.28 596.5) scale(0.9471 1)" font-size="37.4">0.60</text>
<text transform="translate(1676.78 596.5) scale(0.9471 1)" font-size="37.4">0.60</text>
<text transform="translate(45.28 1420.2) scale(0.9471 1)" font-size="37.4">0.10</text>
<text transform="translate(1676.78 1420.2) scale(0.9471 1)" font-size="37.4">0.10</text>
<text transform="translate(45.28 1348.3) scale(0.9471 1)" font-size="37.4">0.20</text>
<text transform="translate(1676.78 1348.3) scale(0.9471 1)" font-size="37.4">0.20</text>
<text transform="translate(45.28 1276.3) scale(0.9471 1)" font-size="37.4">0.30</text>
<text transform="translate(1676.78 1276.3) scale(0.9471 1)" font-size="37.4">0.30</text>
<text transform="translate(45.28 1204.4) scale(0.9471 1)" font-size="37.4">0.40</text>
<text transform="translate(1676.78 1204.4) scale(0.9471 1)" font-size="37.4">0.40</text>
<text transform="translate(45.28 1132.4) scale(0.9471 1)" font-size="37.4">0.50</text>
<text transform="translate(1676.78 1132.4) scale(0.9471 1)" font-size="37.4">0.50</text>
<text transform="translate(45.28 1060.5) scale(0.9471 1)" font-size="37.4">0.60</text>
<text transform="translate(1676.78 1060.5) scale(0.9471 1)" font-size="37.4">0.60</text>
<text transform="translate(31.20 329.75) rotate(-90) scale(0.9739 1)" font-size="39.5" text-anchor="middle">Snow Depth [m]</text>
<text transform="translate(31.20 782.15) rotate(-90) scale(0.9739 1)" font-size="39.5" text-anchor="middle">Snow Depth [m]</text>
<text transform="translate(31.20 1245.75) rotate(-90) scale(0.9739 1)" font-size="39.5" text-anchor="middle">Snow Depth [m]</text>
<text transform="translate(978.50 572.60) scale(1.0357 1)" font-size="34" text-anchor="middle" stroke="#000" stroke-width="1.3" stroke-linejoin="round" font-weight="normal">15:55</text>
<text transform="translate(1108.92 572.60) scale(1.0357 1)" font-size="34" text-anchor="middle" stroke="#000" stroke-width="1.3" stroke-linejoin="round" font-weight="normal">16:00</text>
<text transform="translate(1239.34 572.60) scale(1.0357 1)" font-size="34" text-anchor="middle" stroke="#000" stroke-width="1.3" stroke-linejoin="round" font-weight="normal">16:05</text>
<text transform="translate(1369.76 572.60) scale(1.0357 1)" font-size="34" text-anchor="middle" stroke="#000" stroke-width="1.3" stroke-linejoin="round" font-weight="normal">16:10</text>
<text transform="translate(1500.18 572.60) scale(1.0357 1)" font-size="34" text-anchor="middle" stroke="#000" stroke-width="1.3" stroke-linejoin="round" font-weight="normal">16:15</text>
<text transform="translate(1630.60 572.60) scale(1.0357 1)" font-size="34" text-anchor="middle" stroke="#000" stroke-width="1.3" stroke-linejoin="round" font-weight="normal">16:20</text>
<text transform="translate(1014.50 1025.10) scale(1.0357 1)" font-size="34" text-anchor="middle" stroke="#000" stroke-width="1.3" stroke-linejoin="round" font-weight="normal">18:05</text>
<text transform="translate(1177.35 1025.10) scale(1.0357 1)" font-size="34" text-anchor="middle" stroke="#000" stroke-width="1.3" stroke-linejoin="round" font-weight="normal">18:10</text>
<text transform="translate(1340.20 1025.10) scale(1.0357 1)" font-size="34" text-anchor="middle" stroke="#000" stroke-width="1.3" stroke-linejoin="round" font-weight="normal">18:15</text>
<text transform="translate(1503.05 1025.10) scale(1.0357 1)" font-size="34" text-anchor="middle" stroke="#000" stroke-width="1.3" stroke-linejoin="round" font-weight="normal">18:20</text>
<text transform="translate(1665.90 1025.10) scale(1.0357 1)" font-size="34" text-anchor="middle" stroke="#000" stroke-width="1.3" stroke-linejoin="round" font-weight="normal">18:25</text>
<text transform="translate(981.60 1488.30) scale(1.0357 1)" font-size="34" text-anchor="middle" stroke="#000" stroke-width="1.3" stroke-linejoin="round" font-weight="normal">14:30</text>
<text transform="translate(1087.90 1488.30) scale(1.0357 1)" font-size="34" text-anchor="middle" stroke="#000" stroke-width="1.3" stroke-linejoin="round" font-weight="normal">14:45</text>
<text transform="translate(1194.20 1488.30) scale(1.0357 1)" font-size="34" text-anchor="middle" stroke="#000" stroke-width="1.3" stroke-linejoin="round" font-weight="normal">15:00</text>
<text transform="translate(1300.50 1488.30) scale(1.0357 1)" font-size="34" text-anchor="middle" stroke="#000" stroke-width="1.3" stroke-linejoin="round" font-weight="normal">15:15</text>
<text transform="translate(1406.80 1488.30) scale(1.0357 1)" font-size="34" text-anchor="middle" stroke="#000" stroke-width="1.3" stroke-linejoin="round" font-weight="normal">15:30</text>
<text transform="translate(1513.10 1488.30) scale(1.0357 1)" font-size="34" text-anchor="middle" stroke="#000" stroke-width="1.3" stroke-linejoin="round" font-weight="normal">15:45</text>
<text transform="translate(1619.40 1488.30) scale(1.0357 1)" font-size="34" text-anchor="middle" stroke="#000" stroke-width="1.3" stroke-linejoin="round" font-weight="normal">16:00</text>
<text transform="translate(186.00 1479.20) rotate(-45) scale(1.0357 1)" font-size="34" text-anchor="end" stroke="#000" stroke-width="1.3" stroke-linejoin="round" font-weight="normal">0</text>
<text transform="translate(255.83 1479.20) rotate(-45) scale(1.0357 1)" font-size="34" text-anchor="end" stroke="#000" stroke-width="1.3" stroke-linejoin="round" font-weight="normal">10</text>
<text transform="translate(325.66 1479.20) rotate(-45) scale(1.0357 1)" font-size="34" text-anchor="end" stroke="#000" stroke-width="1.3" stroke-linejoin="round" font-weight="normal">20</text>
<text transform="translate(395.49 1479.20) rotate(-45) scale(1.0357 1)" font-size="34" text-anchor="end" stroke="#000" stroke-width="1.3" stroke-linejoin="round" font-weight="normal">30</text>
<text transform="translate(465.32 1479.20) rotate(-45) scale(1.0357 1)" font-size="34" text-anchor="end" stroke="#000" stroke-width="1.3" stroke-linejoin="round" font-weight="normal">40</text>
<text transform="translate(535.15 1479.20) rotate(-45) scale(1.0357 1)" font-size="34" text-anchor="end" stroke="#000" stroke-width="1.3" stroke-linejoin="round" font-weight="normal">50</text>
<text transform="translate(604.98 1479.20) rotate(-45) scale(1.0357 1)" font-size="34" text-anchor="end" stroke="#000" stroke-width="1.3" stroke-linejoin="round" font-weight="normal">60</text>
<text transform="translate(674.81 1479.20) rotate(-45) scale(1.0357 1)" font-size="34" text-anchor="end" stroke="#000" stroke-width="1.3" stroke-linejoin="round" font-weight="normal">70</text>
<text transform="translate(744.64 1479.20) rotate(-45) scale(1.0357 1)" font-size="34" text-anchor="end" stroke="#000" stroke-width="1.3" stroke-linejoin="round" font-weight="normal">80</text>
<text transform="translate(814.47 1479.20) rotate(-45) scale(1.0357 1)" font-size="34" text-anchor="end" stroke="#000" stroke-width="1.3" stroke-linejoin="round" font-weight="normal">90</text>
<text transform="translate(884.30 1479.20) rotate(-45) scale(1.0357 1)" font-size="34" text-anchor="end" stroke="#000" stroke-width="1.3" stroke-linejoin="round" font-weight="normal">100</text>
<text transform="translate(99.94 1543.90) scale(1.1045 1)" font-size="37.3" stroke="#000" stroke-width="1.3" stroke-linejoin="round" font-weight="normal">Distance from ROV hole along FYI transect [m]</text>
<text transform="translate(1180.74 1538.20) scale(1.0799 1)" font-size="37.3" stroke="#000" stroke-width="1.3" stroke-linejoin="round" font-weight="normal">Time [UTC]</text>
<text transform="translate(129.51 163.80) scale(1.0237 1)" font-size="34.3">(A)</text>
<rect x="426.0" y="130.0" width="468.1" height="42.8" fill="#fff" stroke="#000" stroke-width="1.3"/>
<path class="k" d="M431.0 151.4H478.4" stroke-linecap="butt" stroke-width="3.4"/>
<text transform="translate(481.17 163.90) scale(1.0132 1)" font-size="31.5">measured, transect 09 May</text>
<text transform="translate(901.01 163.80) scale(1.0237 1)" font-size="34.3">(B)</text>
<rect x="1235.6" y="130.0" width="429.80000000000007" height="42.8" fill="#fff" stroke="#000" stroke-width="1.3"/>
<path class="k" d="M1240.6 151.4H1288.0" stroke-linecap="butt" stroke-width="3.4"/>
<text transform="translate(1290.87 163.90) scale(1.0152 1)" font-size="31.5">measured, patch 09 May</text>
<text transform="translate(129.51 616.10) scale(1.0237 1)" font-size="34.3">(C)</text>
<rect x="426.0" y="582.3" width="468.1" height="42.8" fill="#fff" stroke="#000" stroke-width="1.3"/>
<path class="k" d="M431.0 603.6999999999999H478.4" stroke-linecap="butt" stroke-width="3.4"/>
<text transform="translate(481.17 616.20) scale(1.0132 1)" font-size="31.5">measured, transect 12 May</text>
<text transform="translate(901.01 616.10) scale(1.0237 1)" font-size="34.3">(D)</text>
<rect x="1235.6" y="582.3" width="429.80000000000007" height="42.8" fill="#fff" stroke="#000" stroke-width="1.3"/>
<path class="k" d="M1240.6 603.6999999999999H1288.0" stroke-linecap="butt" stroke-width="3.4"/>
<text transform="translate(1290.87 616.20) scale(1.0152 1)" font-size="31.5">measured, patch 12 May</text>
<text transform="translate(130.42 1080.10) scale(1.0722 1)" font-size="34.3">(E)</text>
<rect x="427.0" y="1046.3" width="468.1" height="42.8" fill="#fff" stroke="#000" stroke-width="1.3"/>
<path class="k" d="M432.0 1067.7H479.4" stroke-linecap="butt" stroke-width="3.4"/>
<text transform="translate(482.17 1080.20) scale(1.0132 1)" font-size="31.5">measured, transect 23 May</text>
<text transform="translate(901.83 1080.10) scale(1.1255 1)" font-size="34.3">(F)</text>
<rect x="1236.6" y="1046.3" width="429.80000000000007" height="42.8" fill="#fff" stroke="#000" stroke-width="1.3"/>
<path class="k" d="M1241.6 1067.7H1289.0" stroke-linecap="butt" stroke-width="3.4"/>
<text transform="translate(1291.87 1080.20) scale(1.0152 1)" font-size="31.5">measured, patch 23 May</text>
<rect x="126.5" y="2.8" width="1198.5" height="123.2" fill="#fff" stroke="#000" stroke-width="1.3"/>
<path d="M131 34H178.5" stroke="#ff0000" stroke-width="5.8" fill="none"/>
<path d="M131 95H178.5" stroke="#0000ff" stroke-width="5.8" fill="none"/>
<path d="M941 34.2H988.7" stroke="#a6a6a6" stroke-width="5.8" fill="none"/>
<text transform="translate(181.08 40.70) scale(1.0304 1)" font-size="34.3">retrieved, NDI, d</text>
<text transform="translate(451.25 57.20) scale(1.0538 1)" font-size="27">s</text>
<text transform="translate(477.76 40.70) scale(1.0238 1)" font-size="34.3">= - 0.58 NDI (651:616) - 0.04</text>
<text transform="translate(181.08 100.80) scale(1.0304 1)" font-size="34.3">retrieved, NDI, d</text>
<text transform="translate(451.25 117.30) scale(1.0538 1)" font-size="27">s</text>
<text transform="translate(477.76 100.80) scale(1.0251 1)" font-size="34.3">=  1.21 NDI (440:403) + 0.11</text>
<text transform="translate(990.67 48.80) scale(1.0349 1)" font-size="34.3">retrieved, RT model</text>
</g>
</svg></body></html>
